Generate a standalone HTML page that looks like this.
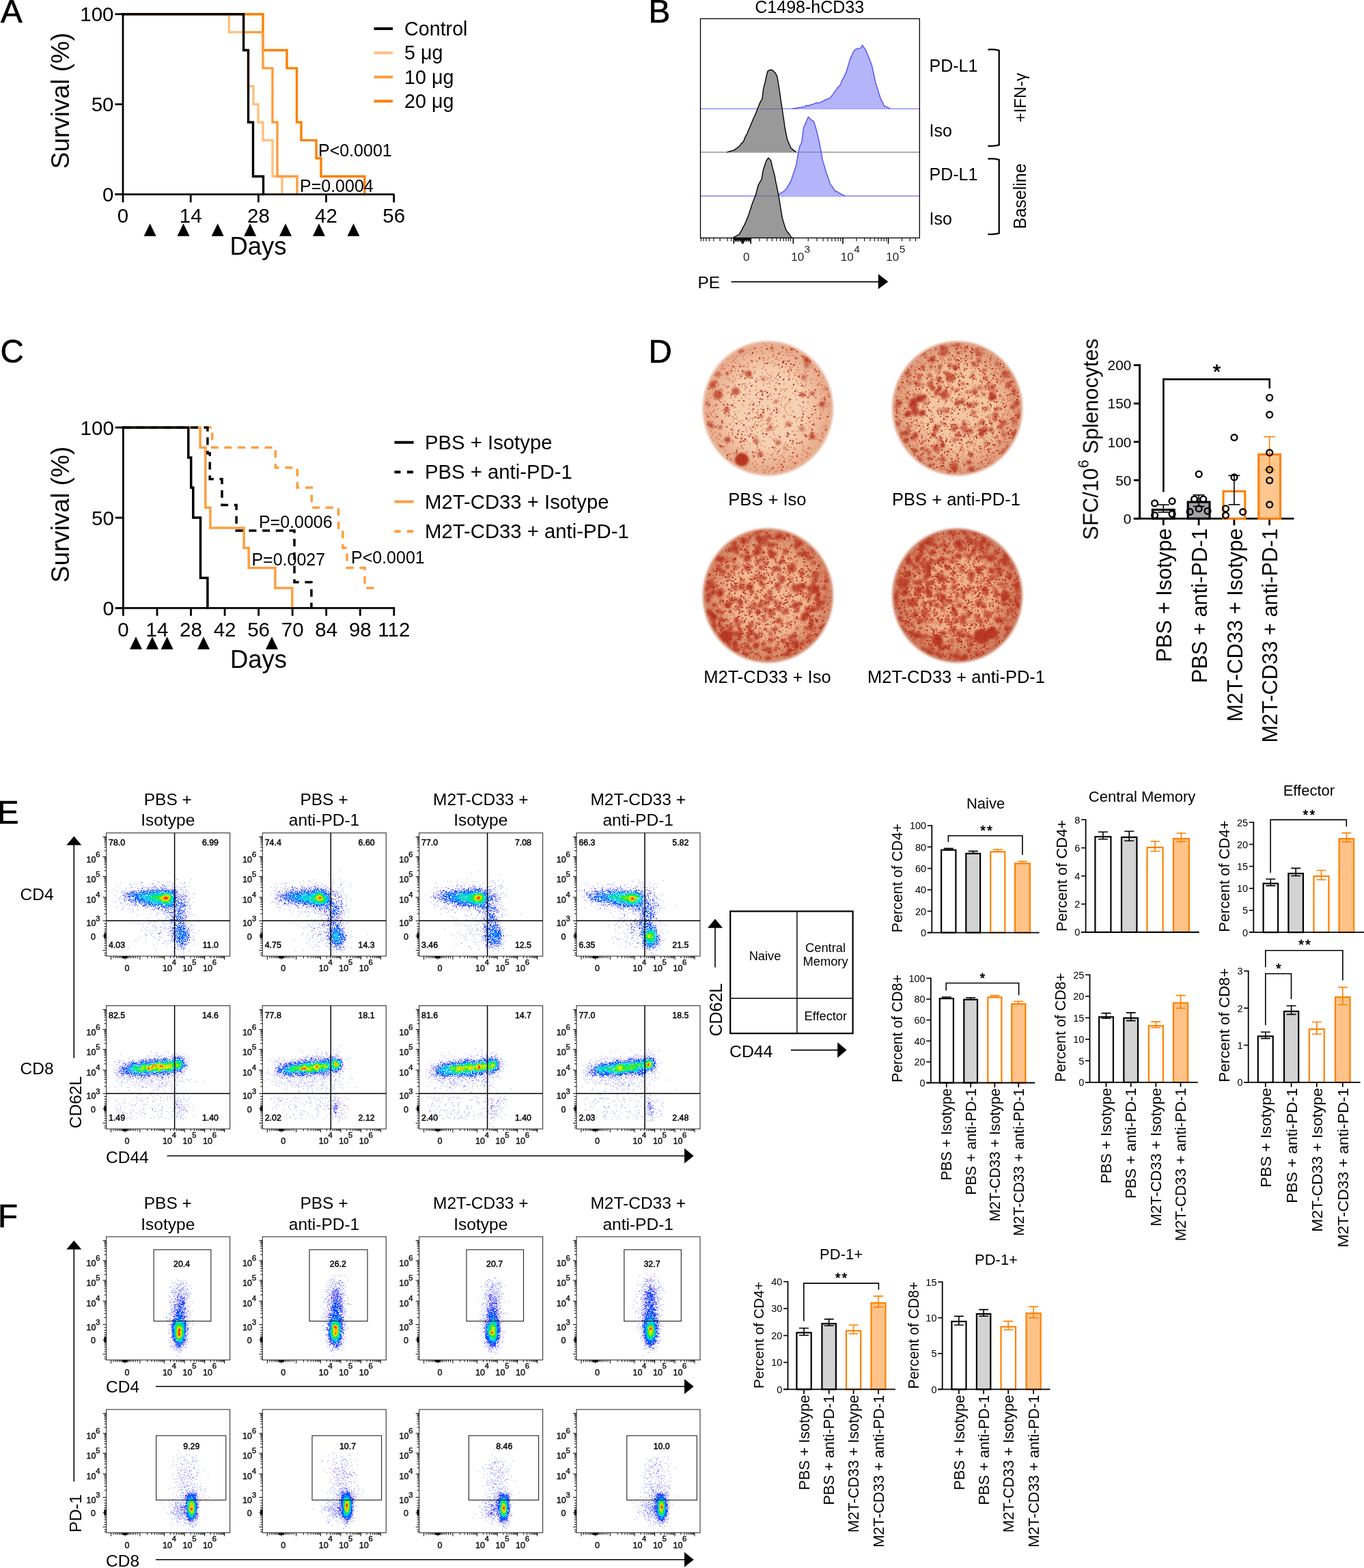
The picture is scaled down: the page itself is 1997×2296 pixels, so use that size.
<!DOCTYPE html>
<html><head><meta charset="utf-8"><title>Figure</title>
<style>html,body{margin:0;padding:0;background:#fff;} svg{display:block;} text{font-family:"Liberation Sans", Arial, sans-serif;}</style>
</head><body>
<svg width="1997" height="2296" viewBox="0 0 1997 2296">
<rect width="1997" height="2296" fill="#fff"/>
<g id="A">
<text x="1.0" y="33.0" font-size="47.5" stroke="#000" stroke-width="0.7">A</text>
<polyline points="180.0,20.7 335.4,20.7 335.4,47.1 356.6,47.1 356.6,73.5 363.5,73.5 363.5,126.3 371.0,126.3 371.0,152.7 378.0,152.7 378.0,179.0 385.0,179.0 385.0,205.4 399.0,205.4 399.0,258.2 413.0,258.2 413.0,284.6" fill="none" stroke="#FFBF80" stroke-width="3.4" stroke-linecap="square"/>
<polyline points="180.0,20.7 385.0,20.7 385.0,73.5 420.0,73.5 420.0,99.9 434.5,99.9 434.5,179.0 441.0,179.0 441.0,205.4 463.0,205.4 463.0,231.8 470.0,231.8 470.0,258.2 533.8,258.2 533.8,284.6" fill="none" stroke="#FF7F00" stroke-width="3.4" stroke-linejoin="miter" stroke-linecap="square"/>
<polyline points="180.0,20.7 356.6,20.7 356.6,47.1 385.0,47.1 385.0,99.9 399.0,99.9 399.0,179.0 406.0,179.0 406.0,258.2 435.0,258.2 435.0,284.6" fill="none" stroke="#FD9C3E" stroke-width="3.4" stroke-linecap="square"/>
<polyline points="180.0,20.7 356.6,20.7 356.6,73.5 363.5,73.5 363.5,179.0 370.5,179.0 370.5,258.2 385.5,258.2 385.5,284.6" fill="none" stroke="#000" stroke-width="3.4" stroke-linecap="square"/>
<line x1="180.0" y1="19.3" x2="180.0" y2="286.0" stroke="#000" stroke-width="2.8"/>
<line x1="168.5" y1="284.6" x2="577.5" y2="284.6" stroke="#000" stroke-width="2.8"/>
<line x1="168.5" y1="284.6" x2="180.0" y2="284.6" stroke="#000" stroke-width="2.8"/>
<text x="166.5" y="295.2" font-size="29.5" text-anchor="end">0</text>
<line x1="168.5" y1="152.7" x2="180.0" y2="152.7" stroke="#000" stroke-width="2.8"/>
<text x="166.5" y="163.2" font-size="29.5" text-anchor="end">50</text>
<line x1="168.5" y1="20.7" x2="180.0" y2="20.7" stroke="#000" stroke-width="2.8"/>
<text x="166.5" y="31.3" font-size="29.5" text-anchor="end">100</text>
<line x1="180.0" y1="284.6" x2="180.0" y2="296.3" stroke="#000" stroke-width="2.8"/>
<text x="180.0" y="326.2" font-size="29.5" text-anchor="middle">0</text>
<line x1="279.2" y1="284.6" x2="279.2" y2="296.3" stroke="#000" stroke-width="2.8"/>
<text x="279.2" y="326.2" font-size="29.5" text-anchor="middle">14</text>
<line x1="378.4" y1="284.6" x2="378.4" y2="296.3" stroke="#000" stroke-width="2.8"/>
<text x="378.4" y="326.2" font-size="29.5" text-anchor="middle">28</text>
<line x1="477.5" y1="284.6" x2="477.5" y2="296.3" stroke="#000" stroke-width="2.8"/>
<text x="477.5" y="326.2" font-size="29.5" text-anchor="middle">42</text>
<line x1="576.7" y1="284.6" x2="576.7" y2="296.3" stroke="#000" stroke-width="2.8"/>
<text x="576.7" y="326.2" font-size="29.5" text-anchor="middle">56</text>
<polygon points="210.6,345.7 228.6,345.7 219.6,327.3" fill="#000"/>
<polygon points="259.5,345.7 277.5,345.7 268.5,327.3" fill="#000"/>
<polygon points="309.7,345.7 327.7,345.7 318.7,327.3" fill="#000"/>
<polygon points="357.2,345.7 375.2,345.7 366.2,327.3" fill="#000"/>
<polygon points="409.0,345.7 427.0,345.7 418.0,327.3" fill="#000"/>
<polygon points="458.0,345.7 476.0,345.7 467.0,327.3" fill="#000"/>
<polygon points="508.5,345.7 526.5,345.7 517.5,327.3" fill="#000"/>
<text x="378.0" y="373.1" font-size="36.5" text-anchor="middle">Days</text>
<text x="101.0" y="147.5" font-size="37" text-anchor="middle" transform="rotate(-90 101.0 147.5)">Survival (%)</text>
<line x1="547.5" y1="42.0" x2="575.0" y2="42.0" stroke="#000" stroke-width="4"/>
<text x="592.0" y="52.0" font-size="28.7">Control</text>
<line x1="547.5" y1="77.4" x2="575.0" y2="77.4" stroke="#FFBF80" stroke-width="4"/>
<text x="592.0" y="87.4" font-size="28.7">5 μg</text>
<line x1="547.5" y1="112.8" x2="575.0" y2="112.8" stroke="#FD9C3E" stroke-width="4"/>
<text x="592.0" y="122.8" font-size="28.7">10 μg</text>
<line x1="547.5" y1="148.2" x2="575.0" y2="148.2" stroke="#FF7F00" stroke-width="4"/>
<text x="592.0" y="158.2" font-size="28.7">20 μg</text>
<text x="466.0" y="229.0" font-size="25">P&lt;0.0001</text>
<text x="439.0" y="281.0" font-size="25">P=0.0004</text>
</g>
<g id="B">
<text x="949.4" y="33.0" font-size="47.5" stroke="#000" stroke-width="0.7">B</text>
<text x="1185.2" y="18.8" font-size="25" text-anchor="middle">C1498-hCD33</text>
<line x1="1025.5" y1="159.4" x2="1346.3" y2="159.4" stroke="#8080FF" stroke-width="1.3"/>
<path d="M1160.0,159.4 L1161.5,159.1 L1163.0,158.8 L1164.5,158.6 L1166.0,158.3 L1167.5,158.0 L1169.0,157.7 L1170.5,157.4 L1172.0,157.1 L1173.5,156.9 L1175.0,156.6 L1176.5,157.0 L1178.0,156.6 L1179.6,154.7 L1181.1,154.3 L1182.7,155.1 L1184.2,154.5 L1185.8,154.0 L1187.3,153.0 L1188.8,153.0 L1190.4,152.6 L1191.9,152.1 L1193.5,151.0 L1195.0,151.0 L1196.6,150.5 L1198.1,150.6 L1199.7,150.6 L1201.3,150.0 L1202.9,149.0 L1204.4,148.4 L1206.0,147.6 L1207.5,146.5 L1209.1,145.7 L1210.6,145.6 L1212.1,144.6 L1213.7,144.0 L1215.2,144.0 L1217.0,141.1 L1218.9,138.9 L1220.8,136.1 L1222.6,133.4 L1224.4,131.4 L1226.3,128.5 L1228.2,126.6 L1230.0,124.8 L1231.5,121.1 L1233.0,117.1 L1234.5,115.0 L1236.1,111.6 L1237.6,108.3 L1239.1,105.4 L1241.0,99.0 L1242.8,92.9 L1244.7,86.1 L1246.3,82.9 L1248.0,78.7 L1250.2,74.7 L1253.0,72.0 L1254.6,71.7 L1256.2,71.0 L1257.8,70.9 L1259.4,70.6 L1261.1,69.0 L1262.7,66.0 L1264.4,69.0 L1266.0,70.7 L1267.7,74.0 L1269.4,78.1 L1271.0,81.5 L1272.7,85.7 L1274.3,90.3 L1276.0,94.1 L1277.8,102.2 L1279.7,110.4 L1281.5,119.1 L1283.3,125.7 L1285.2,130.9 L1287.1,138.1 L1288.9,143.0 L1290.7,147.7 L1292.6,150.4 L1294.4,155.1 L1295.9,155.6 L1297.5,156.1 L1299.0,156.9 L1300.5,157.7 L1302.1,158.6 L1303.6,159.4 Z" fill="#B4B4FA" stroke="none"/>
<path d="M1160.0,159.4 L1161.5,159.1 L1163.0,158.8 L1164.5,158.6 L1166.0,158.3 L1167.5,158.0 L1169.0,157.7 L1170.5,157.4 L1172.0,157.1 L1173.5,156.9 L1175.0,156.6 L1176.5,157.0 L1178.0,156.6 L1179.6,154.7 L1181.1,154.3 L1182.7,155.1 L1184.2,154.5 L1185.8,154.0 L1187.3,153.0 L1188.8,153.0 L1190.4,152.6 L1191.9,152.1 L1193.5,151.0 L1195.0,151.0 L1196.6,150.5 L1198.1,150.6 L1199.7,150.6 L1201.3,150.0 L1202.9,149.0 L1204.4,148.4 L1206.0,147.6 L1207.5,146.5 L1209.1,145.7 L1210.6,145.6 L1212.1,144.6 L1213.7,144.0 L1215.2,144.0 L1217.0,141.1 L1218.9,138.9 L1220.8,136.1 L1222.6,133.4 L1224.4,131.4 L1226.3,128.5 L1228.2,126.6 L1230.0,124.8 L1231.5,121.1 L1233.0,117.1 L1234.5,115.0 L1236.1,111.6 L1237.6,108.3 L1239.1,105.4 L1241.0,99.0 L1242.8,92.9 L1244.7,86.1 L1246.3,82.9 L1248.0,78.7 L1250.2,74.7 L1253.0,72.0 L1254.6,71.7 L1256.2,71.0 L1257.8,70.9 L1259.4,70.6 L1261.1,69.0 L1262.7,66.0 L1264.4,69.0 L1266.0,70.7 L1267.7,74.0 L1269.4,78.1 L1271.0,81.5 L1272.7,85.7 L1274.3,90.3 L1276.0,94.1 L1277.8,102.2 L1279.7,110.4 L1281.5,119.1 L1283.3,125.7 L1285.2,130.9 L1287.1,138.1 L1288.9,143.0 L1290.7,147.7 L1292.6,150.4 L1294.4,155.1 L1295.9,155.6 L1297.5,156.1 L1299.0,156.9 L1300.5,157.7 L1302.1,158.6 L1303.6,159.4" fill="none" stroke="#5050F5" stroke-width="1.4" stroke-linejoin="round"/>
<line x1="1025.5" y1="222.8" x2="1346.3" y2="222.8" stroke="#808080" stroke-width="1.3"/>
<path d="M1064.2,222.8 L1065.8,222.4 L1067.3,221.9 L1068.9,221.5 L1070.5,221.1 L1072.1,220.7 L1073.6,220.2 L1075.2,219.8 L1076.9,218.2 L1078.6,217.2 L1080.3,215.7 L1082.0,214.6 L1083.5,213.0 L1085.0,210.6 L1086.6,208.9 L1088.1,208.2 L1089.9,203.4 L1091.8,199.2 L1093.7,196.0 L1095.5,191.3 L1097.3,187.4 L1099.2,182.7 L1101.0,178.6 L1102.9,173.7 L1104.7,170.0 L1106.6,165.9 L1108.4,160.9 L1110.2,156.6 L1112.0,151.9 L1113.9,147.9 L1115.8,145.5 L1117.6,130.6 L1120.4,119.2 L1122.2,111.0 L1124.0,104.2 L1126.0,102.9 L1128.0,102.3 L1130.5,102.5 L1132.0,103.8 L1133.6,105.6 L1135.1,106.5 L1137.9,112.4 L1139.7,123.0 L1141.5,134.7 L1143.3,147.6 L1145.2,159.5 L1147.1,172.4 L1148.9,185.4 L1150.8,195.5 L1152.6,204.1 L1154.4,208.6 L1156.3,212.5 L1158.1,217.0 L1159.9,218.3 L1161.8,219.9 L1163.7,221.4 L1165.5,222.8 Z" fill="#999999" stroke="none"/>
<path d="M1064.2,222.8 L1065.8,222.4 L1067.3,221.9 L1068.9,221.5 L1070.5,221.1 L1072.1,220.7 L1073.6,220.2 L1075.2,219.8 L1076.9,218.2 L1078.6,217.2 L1080.3,215.7 L1082.0,214.6 L1083.5,213.0 L1085.0,210.6 L1086.6,208.9 L1088.1,208.2 L1089.9,203.4 L1091.8,199.2 L1093.7,196.0 L1095.5,191.3 L1097.3,187.4 L1099.2,182.7 L1101.0,178.6 L1102.9,173.7 L1104.7,170.0 L1106.6,165.9 L1108.4,160.9 L1110.2,156.6 L1112.0,151.9 L1113.9,147.9 L1115.8,145.5 L1117.6,130.6 L1120.4,119.2 L1122.2,111.0 L1124.0,104.2 L1126.0,102.9 L1128.0,102.3 L1130.5,102.5 L1132.0,103.8 L1133.6,105.6 L1135.1,106.5 L1137.9,112.4 L1139.7,123.0 L1141.5,134.7 L1143.3,147.6 L1145.2,159.5 L1147.1,172.4 L1148.9,185.4 L1150.8,195.5 L1152.6,204.1 L1154.4,208.6 L1156.3,212.5 L1158.1,217.0 L1159.9,218.3 L1161.8,219.9 L1163.7,221.4 L1165.5,222.8" fill="none" stroke="#000" stroke-width="1.4" stroke-linejoin="round"/>
<line x1="1112.5" y1="159.4" x2="1145.5" y2="159.4" stroke="#3838A0" stroke-width="1.0" opacity="0.6"/>
<line x1="1025.5" y1="287.0" x2="1346.3" y2="287.0" stroke="#8080FF" stroke-width="1.3"/>
<path d="M1136.0,287.0 L1137.6,286.1 L1139.2,285.2 L1140.8,284.3 L1142.5,283.0 L1144.1,282.0 L1145.7,281.4 L1147.3,280.2 L1148.9,279.2 L1150.4,277.1 L1152.0,275.3 L1153.5,272.7 L1155.0,270.2 L1156.6,267.1 L1158.1,265.0 L1159.9,259.2 L1161.8,253.6 L1163.7,248.0 L1165.5,242.6 L1167.3,232.4 L1169.2,221.2 L1171.0,213.8 L1173.8,208.3 L1176.5,187.2 L1178.3,182.8 L1180.2,178.6 L1181.8,174.8 L1183.5,171.1 L1185.1,173.2 L1186.7,174.2 L1188.2,175.8 L1189.8,176.8 L1191.3,177.5 L1193.2,183.1 L1195.0,189.5 L1196.5,195.1 L1198.1,202.3 L1199.6,208.3 L1201.1,216.6 L1202.7,224.9 L1204.2,234.2 L1206.0,239.9 L1207.9,246.4 L1209.7,252.4 L1211.5,257.6 L1213.4,263.0 L1215.2,268.8 L1217.0,271.4 L1218.9,273.8 L1220.8,276.7 L1222.6,280.1 L1224.2,280.0 L1225.9,280.8 L1227.5,282.3 L1229.1,282.7 L1230.8,283.8 L1232.4,284.6 L1234.0,285.4 L1235.7,286.2 L1237.3,287.0 Z" fill="#B4B4FA" stroke="none"/>
<path d="M1136.0,287.0 L1137.6,286.1 L1139.2,285.2 L1140.8,284.3 L1142.5,283.0 L1144.1,282.0 L1145.7,281.4 L1147.3,280.2 L1148.9,279.2 L1150.4,277.1 L1152.0,275.3 L1153.5,272.7 L1155.0,270.2 L1156.6,267.1 L1158.1,265.0 L1159.9,259.2 L1161.8,253.6 L1163.7,248.0 L1165.5,242.6 L1167.3,232.4 L1169.2,221.2 L1171.0,213.8 L1173.8,208.3 L1176.5,187.2 L1178.3,182.8 L1180.2,178.6 L1181.8,174.8 L1183.5,171.1 L1185.1,173.2 L1186.7,174.2 L1188.2,175.8 L1189.8,176.8 L1191.3,177.5 L1193.2,183.1 L1195.0,189.5 L1196.5,195.1 L1198.1,202.3 L1199.6,208.3 L1201.1,216.6 L1202.7,224.9 L1204.2,234.2 L1206.0,239.9 L1207.9,246.4 L1209.7,252.4 L1211.5,257.6 L1213.4,263.0 L1215.2,268.8 L1217.0,271.4 L1218.9,273.8 L1220.8,276.7 L1222.6,280.1 L1224.2,280.0 L1225.9,280.8 L1227.5,282.3 L1229.1,282.7 L1230.8,283.8 L1232.4,284.6 L1234.0,285.4 L1235.7,286.2 L1237.3,287.0" fill="none" stroke="#5050F5" stroke-width="1.4" stroke-linejoin="round"/>
<line x1="1169.5" y1="222.8" x2="1202.0" y2="222.8" stroke="#505078" stroke-width="1.0" opacity="0.7"/>
<path d="M1073.4,348.4 L1074.9,347.4 L1076.5,346.4 L1078.0,345.5 L1079.5,344.6 L1081.1,343.7 L1082.6,342.8 L1084.4,339.4 L1086.3,336.4 L1088.2,332.1 L1090.0,329.4 L1091.8,325.3 L1093.7,320.4 L1095.5,316.1 L1097.3,310.5 L1098.9,306.1 L1100.4,300.9 L1102.0,296.4 L1103.5,292.7 L1105.1,288.3 L1106.6,284.9 L1108.4,277.6 L1110.2,271.0 L1111.7,268.4 L1113.3,265.2 L1114.8,263.5 L1117.6,248.0 L1119.4,243.0 L1121.3,236.9 L1123.2,233.5 L1125.0,231.3 L1126.8,232.9 L1128.7,235.2 L1130.5,243.4 L1132.4,250.7 L1134.2,257.3 L1136.0,267.4 L1137.9,276.0 L1139.7,285.4 L1141.5,295.9 L1143.4,307.9 L1145.2,318.6 L1147.1,325.1 L1148.9,331.1 L1150.8,336.6 L1152.6,339.2 L1154.4,341.5 L1156.3,344.0 L1158.1,347.0 L1160.0,348.4 Z" fill="#999999" stroke="none"/>
<path d="M1073.4,348.4 L1074.9,347.4 L1076.5,346.4 L1078.0,345.5 L1079.5,344.6 L1081.1,343.7 L1082.6,342.8 L1084.4,339.4 L1086.3,336.4 L1088.2,332.1 L1090.0,329.4 L1091.8,325.3 L1093.7,320.4 L1095.5,316.1 L1097.3,310.5 L1098.9,306.1 L1100.4,300.9 L1102.0,296.4 L1103.5,292.7 L1105.1,288.3 L1106.6,284.9 L1108.4,277.6 L1110.2,271.0 L1111.7,268.4 L1113.3,265.2 L1114.8,263.5 L1117.6,248.0 L1119.4,243.0 L1121.3,236.9 L1123.2,233.5 L1125.0,231.3 L1126.8,232.9 L1128.7,235.2 L1130.5,243.4 L1132.4,250.7 L1134.2,257.3 L1136.0,267.4 L1137.9,276.0 L1139.7,285.4 L1141.5,295.9 L1143.4,307.9 L1145.2,318.6 L1147.1,325.1 L1148.9,331.1 L1150.8,336.6 L1152.6,339.2 L1154.4,341.5 L1156.3,344.0 L1158.1,347.0 L1160.0,348.4" fill="none" stroke="#000" stroke-width="1.4" stroke-linejoin="round"/>
<line x1="1106.5" y1="287.0" x2="1139.5" y2="287.0" stroke="#3838A0" stroke-width="1.0" opacity="0.6"/>
<rect x="1025.5" y="27.4" width="320.8" height="321.0" fill="none" stroke="#000" stroke-width="1.3"/>
<line x1="1026.4" y1="348.4" x2="1026.4" y2="353.2" stroke="#000" stroke-width="1.1"/>
<line x1="1030.1" y1="348.4" x2="1030.1" y2="353.2" stroke="#000" stroke-width="1.1"/>
<line x1="1033.8" y1="348.4" x2="1033.8" y2="353.2" stroke="#000" stroke-width="1.1"/>
<line x1="1038.4" y1="348.4" x2="1038.4" y2="353.2" stroke="#000" stroke-width="1.1"/>
<line x1="1044.9" y1="348.4" x2="1044.9" y2="353.2" stroke="#000" stroke-width="1.1"/>
<line x1="1054.1" y1="348.4" x2="1054.1" y2="353.2" stroke="#000" stroke-width="1.1"/>
<line x1="1065.1" y1="348.4" x2="1065.1" y2="353.2" stroke="#000" stroke-width="1.1"/>
<line x1="1070.6" y1="348.4" x2="1070.6" y2="353.2" stroke="#000" stroke-width="1.1"/>
<line x1="1078.0" y1="348.4" x2="1078.0" y2="353.2" stroke="#000" stroke-width="1.1"/>
<line x1="1081.0" y1="348.4" x2="1081.0" y2="353.2" stroke="#000" stroke-width="1.1"/>
<line x1="1084.0" y1="348.4" x2="1084.0" y2="353.2" stroke="#000" stroke-width="1.1"/>
<line x1="1090.0" y1="348.4" x2="1090.0" y2="353.2" stroke="#000" stroke-width="1.1"/>
<line x1="1093.0" y1="348.4" x2="1093.0" y2="353.2" stroke="#000" stroke-width="1.1"/>
<line x1="1096.0" y1="348.4" x2="1096.0" y2="353.2" stroke="#000" stroke-width="1.1"/>
<line x1="1112.0" y1="348.4" x2="1112.0" y2="353.2" stroke="#000" stroke-width="1.1"/>
<line x1="1123.1" y1="348.4" x2="1123.1" y2="353.2" stroke="#000" stroke-width="1.1"/>
<line x1="1130.5" y1="348.4" x2="1130.5" y2="353.2" stroke="#000" stroke-width="1.1"/>
<line x1="1136.9" y1="348.4" x2="1136.9" y2="353.2" stroke="#000" stroke-width="1.1"/>
<line x1="1142.5" y1="348.4" x2="1142.5" y2="353.2" stroke="#000" stroke-width="1.1"/>
<line x1="1147.1" y1="348.4" x2="1147.1" y2="353.2" stroke="#000" stroke-width="1.1"/>
<line x1="1150.8" y1="348.4" x2="1150.8" y2="353.2" stroke="#000" stroke-width="1.1"/>
<line x1="1154.4" y1="348.4" x2="1154.4" y2="353.2" stroke="#000" stroke-width="1.1"/>
<line x1="1157.2" y1="348.4" x2="1157.2" y2="353.2" stroke="#000" stroke-width="1.1"/>
<line x1="1183.3" y1="348.4" x2="1183.3" y2="353.2" stroke="#000" stroke-width="1.1"/>
<line x1="1196.0" y1="348.4" x2="1196.0" y2="353.2" stroke="#000" stroke-width="1.1"/>
<line x1="1205.1" y1="348.4" x2="1205.1" y2="353.2" stroke="#000" stroke-width="1.1"/>
<line x1="1212.1" y1="348.4" x2="1212.1" y2="353.2" stroke="#000" stroke-width="1.1"/>
<line x1="1217.9" y1="348.4" x2="1217.9" y2="353.2" stroke="#000" stroke-width="1.1"/>
<line x1="1222.8" y1="348.4" x2="1222.8" y2="353.2" stroke="#000" stroke-width="1.1"/>
<line x1="1227.0" y1="348.4" x2="1227.0" y2="353.2" stroke="#000" stroke-width="1.1"/>
<line x1="1230.7" y1="348.4" x2="1230.7" y2="353.2" stroke="#000" stroke-width="1.1"/>
<line x1="1254.0" y1="348.4" x2="1254.0" y2="353.2" stroke="#000" stroke-width="1.1"/>
<line x1="1265.7" y1="348.4" x2="1265.7" y2="353.2" stroke="#000" stroke-width="1.1"/>
<line x1="1274.0" y1="348.4" x2="1274.0" y2="353.2" stroke="#000" stroke-width="1.1"/>
<line x1="1280.5" y1="348.4" x2="1280.5" y2="353.2" stroke="#000" stroke-width="1.1"/>
<line x1="1285.7" y1="348.4" x2="1285.7" y2="353.2" stroke="#000" stroke-width="1.1"/>
<line x1="1290.2" y1="348.4" x2="1290.2" y2="353.2" stroke="#000" stroke-width="1.1"/>
<line x1="1294.1" y1="348.4" x2="1294.1" y2="353.2" stroke="#000" stroke-width="1.1"/>
<line x1="1297.5" y1="348.4" x2="1297.5" y2="353.2" stroke="#000" stroke-width="1.1"/>
<line x1="1320.5" y1="348.4" x2="1320.5" y2="353.2" stroke="#000" stroke-width="1.1"/>
<line x1="1332.2" y1="348.4" x2="1332.2" y2="353.2" stroke="#000" stroke-width="1.1"/>
<line x1="1340.5" y1="348.4" x2="1340.5" y2="353.2" stroke="#000" stroke-width="1.1"/>
<line x1="1074.3" y1="348.4" x2="1074.3" y2="356.9" stroke="#000" stroke-width="1.6"/>
<line x1="1087.2" y1="348.4" x2="1087.2" y2="356.9" stroke="#000" stroke-width="1.6"/>
<line x1="1099.2" y1="348.4" x2="1099.2" y2="356.9" stroke="#000" stroke-width="1.6"/>
<line x1="1161.4" y1="348.4" x2="1161.4" y2="356.9" stroke="#000" stroke-width="1.6"/>
<line x1="1234.0" y1="348.4" x2="1234.0" y2="356.9" stroke="#000" stroke-width="1.6"/>
<line x1="1300.5" y1="348.4" x2="1300.5" y2="356.9" stroke="#000" stroke-width="1.6"/>
<rect x="1074.3" y="348.4" width="25.8" height="3.2" fill="#000" stroke="none" stroke-width="0"/>
<line x1="1076.5" y1="348.4" x2="1076.5" y2="353.9" stroke="#000" stroke-width="1.2"/>
<line x1="1079.0" y1="348.4" x2="1079.0" y2="353.9" stroke="#000" stroke-width="1.2"/>
<line x1="1081.5" y1="348.4" x2="1081.5" y2="353.9" stroke="#000" stroke-width="1.2"/>
<line x1="1084.0" y1="348.4" x2="1084.0" y2="353.9" stroke="#000" stroke-width="1.2"/>
<line x1="1086.0" y1="348.4" x2="1086.0" y2="353.9" stroke="#000" stroke-width="1.2"/>
<line x1="1088.0" y1="348.4" x2="1088.0" y2="353.9" stroke="#000" stroke-width="1.2"/>
<line x1="1090.5" y1="348.4" x2="1090.5" y2="353.9" stroke="#000" stroke-width="1.2"/>
<line x1="1093.0" y1="348.4" x2="1093.0" y2="353.9" stroke="#000" stroke-width="1.2"/>
<line x1="1095.5" y1="348.4" x2="1095.5" y2="353.9" stroke="#000" stroke-width="1.2"/>
<line x1="1098.0" y1="348.4" x2="1098.0" y2="353.9" stroke="#000" stroke-width="1.2"/>
<rect x="1085.5" y="348.4" width="3.6" height="8.0" fill="#000" stroke="none" stroke-width="0"/>
<text x="1092.7" y="381.6" font-size="17" text-anchor="middle" fill="#262626">0</text>
<text x="1158.2" y="381.6" font-size="17" fill="#262626">10</text>
<text x="1177.6" y="369.6" font-size="15.5" fill="#262626">3</text>
<text x="1230.8" y="381.6" font-size="17" fill="#262626">10</text>
<text x="1250.2" y="369.6" font-size="15.5" fill="#262626">4</text>
<text x="1297.3" y="381.6" font-size="17" fill="#262626">10</text>
<text x="1316.7" y="369.6" font-size="15.5" fill="#262626">5</text>
<text x="1360.5" y="105.2" font-size="25">PD-L1</text>
<text x="1360.5" y="199.7" font-size="25">Iso</text>
<text x="1360.5" y="263.6" font-size="25">PD-L1</text>
<text x="1360.5" y="328.9" font-size="25">Iso</text>
<path d="M1446.4,72.6 Q1455,71.8 1462.7,73.8 L1462.7,212.4 Q1455,214.4 1446.4,213.6" fill="none" stroke="#000" stroke-width="2.3"/>
<path d="M1446.4,232.6 Q1455,231.8 1462.7,233.8 L1462.7,341.6 Q1455,343.6 1446.4,342.8" fill="none" stroke="#000" stroke-width="2.3"/>
<text x="1502.3" y="143.0" font-size="24" text-anchor="middle" transform="rotate(-90 1502.3 143.0)">+IFN-γ</text>
<text x="1502.3" y="287.3" font-size="25" text-anchor="middle" transform="rotate(-90 1502.3 287.3)">Baseline</text>
<text x="1021.5" y="421.7" font-size="24.5">PE</text>
<line x1="1070.6" y1="412.6" x2="1288.0" y2="412.6" stroke="#000" stroke-width="1.6"/>
<polygon points="1285.8,401.3 1300.4,412.6 1285.8,423.3" fill="#000"/>
</g>
<g id="C">
<text x="0.4" y="531.0" font-size="47.5" stroke="#000" stroke-width="0.7">C</text>
<polyline points="180.4,626.0 310.7,626.0 310.7,655.3 403.3,655.3 403.3,684.7 435.2,684.7 435.2,714.0 456.3,714.0 456.3,743.3 495.6,743.3 495.6,773.0 501.9,773.0 501.9,802.3 508.0,802.3 508.0,831.6 534.0,831.6 534.0,861.0 548.8,861.0" fill="none" stroke="#FD9E40" stroke-width="3.5" stroke-dasharray="11 8.7"/>
<polyline points="180.4,626.0 293.1,626.0 293.1,655.3 300.8,655.3 300.8,743.3 307.9,743.3 307.9,773.0 357.1,773.0 357.1,802.3 364.2,802.3 364.2,831.6 402.9,831.6 402.9,861.0 427.8,861.0 427.8,890.3" fill="none" stroke="#FD9E40" stroke-width="3.5" stroke-linecap="square"/>
<polyline points="180.4,626.0 303.9,626.0 303.9,663.8 307.2,663.8 307.2,701.6 325.0,701.6 325.0,739.4 346.1,739.4 346.1,776.9 431.0,776.9 431.0,852.5 455.9,852.5 455.9,890.3" fill="none" stroke="#000" stroke-width="3.5" stroke-dasharray="11 8.7"/>
<polyline points="180.4,626.0 275.8,626.0 275.8,670.1 279.7,670.1 279.7,714.0 282.8,714.0 282.8,758.1 293.5,758.1 293.5,846.2 303.9,846.2 303.9,890.3" fill="none" stroke="#000" stroke-width="3.5" stroke-linecap="square"/>
<line x1="180.4" y1="624.6" x2="180.4" y2="891.7" stroke="#000" stroke-width="2.8"/>
<line x1="168.8" y1="890.3" x2="578.2" y2="890.3" stroke="#000" stroke-width="2.8"/>
<line x1="168.8" y1="890.3" x2="180.4" y2="890.3" stroke="#000" stroke-width="2.8"/>
<text x="166.8" y="900.9" font-size="29.5" text-anchor="end">0</text>
<line x1="168.8" y1="758.1" x2="180.4" y2="758.1" stroke="#000" stroke-width="2.8"/>
<text x="166.8" y="768.8" font-size="29.5" text-anchor="end">50</text>
<line x1="168.8" y1="626.0" x2="180.4" y2="626.0" stroke="#000" stroke-width="2.8"/>
<text x="166.8" y="636.6" font-size="29.5" text-anchor="end">100</text>
<line x1="180.4" y1="890.3" x2="180.4" y2="901.8" stroke="#000" stroke-width="2.8"/>
<text x="180.4" y="931.5" font-size="29.5" text-anchor="middle">0</text>
<line x1="230.0" y1="890.3" x2="230.0" y2="901.8" stroke="#000" stroke-width="2.8"/>
<text x="230.0" y="931.5" font-size="29.5" text-anchor="middle">14</text>
<line x1="279.5" y1="890.3" x2="279.5" y2="901.8" stroke="#000" stroke-width="2.8"/>
<text x="279.5" y="931.5" font-size="29.5" text-anchor="middle">28</text>
<line x1="329.1" y1="890.3" x2="329.1" y2="901.8" stroke="#000" stroke-width="2.8"/>
<text x="329.1" y="931.5" font-size="29.5" text-anchor="middle">42</text>
<line x1="378.6" y1="890.3" x2="378.6" y2="901.8" stroke="#000" stroke-width="2.8"/>
<text x="378.6" y="931.5" font-size="29.5" text-anchor="middle">56</text>
<line x1="428.2" y1="890.3" x2="428.2" y2="901.8" stroke="#000" stroke-width="2.8"/>
<text x="428.2" y="931.5" font-size="29.5" text-anchor="middle">70</text>
<line x1="477.7" y1="890.3" x2="477.7" y2="901.8" stroke="#000" stroke-width="2.8"/>
<text x="477.7" y="931.5" font-size="29.5" text-anchor="middle">84</text>
<line x1="527.3" y1="890.3" x2="527.3" y2="901.8" stroke="#000" stroke-width="2.8"/>
<text x="527.3" y="931.5" font-size="29.5" text-anchor="middle">98</text>
<line x1="576.8" y1="890.3" x2="576.8" y2="901.8" stroke="#000" stroke-width="2.8"/>
<text x="576.8" y="931.5" font-size="29.5" text-anchor="middle">112</text>
<polygon points="190.0,950.7 208.0,950.7 199.0,932.3" fill="#000"/>
<polygon points="214.0,950.7 232.0,950.7 223.0,932.3" fill="#000"/>
<polygon points="235.6,950.7 253.6,950.7 244.6,932.3" fill="#000"/>
<polygon points="289.0,950.7 307.0,950.7 298.0,932.3" fill="#000"/>
<polygon points="389.0,950.7 407.0,950.7 398.0,932.3" fill="#000"/>
<text x="378.5" y="978.0" font-size="36.5" text-anchor="middle">Days</text>
<text x="101.0" y="753.5" font-size="37" text-anchor="middle" transform="rotate(-90 101.0 753.5)">Survival (%)</text>
<line x1="577.5" y1="647.8" x2="605.6" y2="647.8" stroke="#000" stroke-width="4"/>
<text x="622.0" y="657.8" font-size="29.3">PBS + Isotype</text>
<line x1="577.5" y1="691.2" x2="605.6" y2="691.2" stroke="#000" stroke-width="4" stroke-dasharray="9 9.5"/>
<text x="622.0" y="701.2" font-size="29.3">PBS + anti-PD-1</text>
<line x1="577.5" y1="734.6" x2="605.6" y2="734.6" stroke="#FD9E40" stroke-width="4"/>
<text x="622.0" y="744.6" font-size="29.3">M2T-CD33 + Isotype</text>
<line x1="577.5" y1="778.0" x2="605.6" y2="778.0" stroke="#FD9E40" stroke-width="4" stroke-dasharray="9 9.5"/>
<text x="622.0" y="788.0" font-size="29.3">M2T-CD33 + anti-PD-1</text>
<text x="378.9" y="773.3" font-size="25">P=0.0006</text>
<text x="368.4" y="828.2" font-size="25">P=0.0027</text>
<text x="514.0" y="825.0" font-size="25">P&lt;0.0001</text>
</g>
<g id="D">
<text x="949.4" y="530.8" font-size="47.5" stroke="#000" stroke-width="0.7">D</text>
<defs><filter id="wblur" x="-5%" y="-5%" width="110%" height="110%"><feGaussianBlur stdDeviation="1.6"/></filter><filter id="bblur" x="-50%" y="-50%" width="200%" height="200%"><feGaussianBlur stdDeviation="1.6"/></filter><filter id="sblur" x="-5%" y="-5%" width="110%" height="110%"><feGaussianBlur stdDeviation="0.55"/></filter></defs>
<radialGradient id="wg11" cx="0.5" cy="0.5" r="0.5"><stop offset="0" stop-color="#F6D0B2"/><stop offset="0.55" stop-color="#F6D0B2"/><stop offset="0.95" stop-color="#E6AA8A"/><stop offset="1" stop-color="#E6AA8A" stop-opacity="0.5"/></radialGradient>
<clipPath id="wc11"><ellipse cx="1124.3" cy="598.0" rx="93.0" ry="96.0"/></clipPath>
<ellipse cx="1124.3" cy="598.0" rx="95.5" ry="98.5" fill="url(#wg11)" filter="url(#wblur)"/>
<g clip-path="url(#wc11)">
<g fill="#B3321F" filter="url(#bblur)"><circle cx="1051" cy="578" r="7" opacity="0.7"/><circle cx="1077" cy="573" r="6" opacity="0.7"/><circle cx="1086" cy="673" r="10" opacity="0.95"/><circle cx="1182" cy="526" r="6" opacity="0.7"/><circle cx="1139" cy="648" r="4" opacity="0.6"/><circle cx="1096" cy="548" r="5" opacity="0.7"/><circle cx="1107" cy="646" r="4" opacity="0.6"/><circle cx="1039" cy="621" r="4" opacity="0.5"/><circle cx="1174" cy="628" r="4" opacity="0.5"/><circle cx="1042" cy="563" r="5" opacity="0.6"/></g>
<g stroke="#B3321F" stroke-linecap="round" fill="none" filter="url(#bblur)"><path d="M1149 656h0m-19 -145h0m-6 119h0m-8 -76h0m-27 -9h0" stroke-width="5.0" stroke-opacity="0.5"/><path d="M1115 610h0m11 5h0m-79 -56h0m18 -12h0" stroke-width="5.0" stroke-opacity="0.65"/><path d="M1136 588h0m-82 38h0" stroke-width="5.0" stroke-opacity="0.8"/><path d="M1205 591h0m-170 0h0m155 -15h0m-147 48h0m2 -59h0" stroke-width="6.8" stroke-opacity="0.5"/><path d="M1128 626h0" stroke-width="6.8" stroke-opacity="0.65"/><path d="M1175 578h0" stroke-width="6.8" stroke-opacity="0.8"/><path d="M1154 621h0m62 -43h0m-39 -25h0m-126 -5h0m130 -13h0" stroke-width="8.6" stroke-opacity="0.5"/><path d="M1064 600h0m49 65h0m-29 -152h0m119 79h0" stroke-width="8.6" stroke-opacity="0.65"/><path d="M1161 508h0m28 131h0m-124 5h0" stroke-width="8.6" stroke-opacity="0.8"/></g>
<path d="M1144 583h0m19 -33h0m23 67h0m-101 -83h0m81 -21h0m-94 97h0m120 11h0m-110 59h0m-2 -93h0m19 25h0m-45 -41h0m100 65h0m-14 -109h0m63 111h0m-53 -43h0m18 -33h0m-35 83h0m68 0h0m-38 11h0m41 -87h0m-44 108h0m35 -95h0m-15 88h0m-42 -47h0m-36 -9h0m43 -99h0m52 128h0m-94 1h0m37 -58h0m4 8h0m-71 43h0m51 -16h0m81 -71h0m-47 -11h0m-3 48h0m44 -23h0m-43 -25h0m-45 119h0m-9 -44h0m-13 -88h0m35 138h0m67 -24h0m-130 -52h0m20 -46h0m27 81h0m15 -61h0m-8 -48h0m23 46h0m-83 29h0m19 -62h0m-36 96h0m76 1h0m40 35h0m58 -25h0m-145 -41h0m52 47h0m-56 -87h0m32 84h0m33 -16h0m45 -44h0m-6 -52h0m-52 98h0m88 -49h0m-66 99h0m-20 -45h0m-49 14h0m117 -16h0m-19 -84h0m49 63h0m-35 -42h0m-85 -47h0m18 92h0m63 -12h0m-114 -31h0m117 -38h0m-122 74h0m110 64h0m-7 21h0m-37 0h0m-78 -143h0m84 14h0m39 68h0m-39 41h0m7 -105h0m-34 105h0m99 -125h0m-72 71h0m-62 -7h0m58 14h0m2 -41h0m55 32h0m-59 26h0m-82 -30h0m67 82h0m97 -135h0m-86 -28h0m-7 135h0m89 -67h0m-112 -56h0m58 145h0m-93 -29h0m18 -18h0m18 -65h0m57 -50h0m21 4h0m-42 25h0m-59 55h0m45 -30h0m-4 30h0m-49 -64h0m90 85h0m-19 42h0m16 1h0m-73 -23h0m16 -83h0m-35 -15h0m114 4h0m-59 104h0m-56 -76h0m14 55h0m-16 -35h0m123 0h0m-14 -62h0m-124 71h0m91 4h0m-70 -76h0m11 129h0m143 -74h0m-36 -27h0m-57 37h0m-7 17h0m79 -83h0m-74 110h0m-10 -107h0m-46 62h0m122 38h0m11 -15h0m-87 -5h0m19 75h0m58 -143h0m20 96h0m-26 14h0m-71 16h0m91 -40h0m-22 14h0m-69 -8h0m-64 -75h0m76 -65h0m-21 123h0m51 -80h0m61 86h0m-116 -2h0m45 -24h0m13 33h0m-118 -17h0m137 -71h0m-65 -41h0m-39 65h0m-18 -25h0m154 59h0m-76 82h0m11 6h0m14 -37h0m-108 -42h0m76 -84h0m4 87h0m-14 -17h0m34 -31h0m-60 57h0m53 -74h0m30 3h0m7 18h0m27 71h0m2 -63h0m-82 107h0m-45 -88h0m133 39h0m-90 50h0m67 -74h0m-134 4h0m65 -82h0m-77 64h0m14 -17h0m103 2h0m-77 25h0m30 39h0m21 43h0m-56 -174h0m125 132h0m-51 -84h0m-67 64h0m56 -18h0m13 32h0m-85 -99h0m-25 4h0m70 69h0m-62 -16h0m110 2h0m-9 -35h0m-29 -32h0m-26 105h0m-42 13h0m96 -8h0m-78 -68h0m8 76h0m21 -31h0m35 18h0m71 -62h0m-106 -65h0m-54 92h0m76 24h0m-35 17h0m69 -136h0m-68 126h0m74 -87h0m-105 15h0m111 2h0m-116 67h0m87 41h0m-26 -22h0m-25 -96h0m18 122h0m95 -136h0m-102 24h0m0 5h0m5 -39h0m33 119h0m-4 7h0m4 -130h0m38 139h0m-47 -66h0m10 83h0m16 -32h0m-112 -51h0m3 38h0m106 -117h0m21 99h0m-95 -84h0m99 59h0m0 -25h0m-82 113h0m64 -93h0m-26 45h0m33 38h0m-57 -18h0m49 6h0m27 -4h0m-32 -61h0m13 55h0m-55 -76h0m-52 64h0m4 -106h0m49 17h0m-22 -35h0m65 130h0m-37 -37h0m-46 -69h0m96 71h0m-94 -81h0m10 -3h0m91 28h0m-39 99h0m-14 -109h0m-26 56h0m118 -12h0m-110 8h0m25 -49h0m-8 19h0m62 67h0m-36 -110h0m-86 33h0m19 108h0m49 -46h0m4 -96h0m55 137h0m-106 -25h0m-33 -47h0m71 94h0m23 -20h0m-54 -13h0m21 25h0m-39 -73h0m60 -76h0m59 30h0m-100 -47h0m-1 78h0m78 -22h0m-5 -50h0m-56 70h0m-3 49h0m-27 -28h0m42 -109h0m-48 119h0m16 -47h0m48 -16h0m-39 19h0m63 -27h0m-89 94h0m25 42h0m44 -44h0m-44 20h0m-45 -29h0m117 -98h0m-58 129h0m36 -147h0m-70 13h0m-19 50h0m57 20h0m42 51h0m34 -75h0m-94 5h0m-60 -3h0m148 52h0m-35 -127h0m-53 64h0m61 -47h0m-52 80h0m78 62h0m-33 -131h0m29 146h0m-41 -108h0m-10 -42h0m3 113h0m61 -102h0m21 85h0m-133 -10h0m86 -49h0m44 7h0m-89 -47h0m84 83h0m-65 3h0m-57 69h0m65 -155h0m42 32h0m14 -9h0m-62 116h0m-74 -56h0m144 22h0m-120 3h0m82 -57h0m-28 83h0m-24 -130h0m-15 84h0m-41 -10h0m17 9h0m13 15h0m-56 6h0m107 -40h0m-36 30h0m53 27h0m12 -54h0m20 -15h0m-80 31h0m90 -8h0m-73 -18h0m73 -22h0m-163 79h0m162 2h0m-58 4h0m-56 -32h0m27 -17h0m-9 -89h0m57 93h0m-88 -43h0m30 -14h0m109 85h0m-19 -48h0m-11 -40h0m-12 68h0m9 -87h0m-49 163h0m-45 -124h0m99 15h0m-88 37h0m103 -55h0m-76 123h0m91 -90h0m-147 -35h0m-2 107h0m30 -72h0m54 -56h0m-101 105h0m40 35h0m106 -37h0m-140 -3h0m153 -50h0m-121 52h0m-21 -104h0m8 95h0m106 -57h0m-25 101h0m-14 -129h0m-55 137h0m70 -128h0m-5 -37h0m66 69h0m-87 18h0m-93 14h0m46 -69h0m0 99h0m-7 -94h0m57 -18h0m-98 54h0m137 -15h0m34 23h0m-143 11h0m89 -39h0m3 84h0m-28 -55h0m63 35h0m-62 53h0m-66 -34h0m-2 -34h0m14 -33h0m102 68h0m4 -108h0m-58 -3h0m18 55h0m-104 19h0m129 -5h0m31 -77h0m-72 50h0m-11 -34h0m89 61h0m-69 43h0m-59 -127h0m14 -20h0m1 114h0m40 -70h0m12 -35h0m45 16h0m-109 -2h0m84 132h0m-54 -92h0m-70 25h0m19 -7h0m19 86h0m-19 -98h0m30 6h0m83 -38h0m-92 63h0m-2 -18h0m132 -19h0m-62 -64h0m-39 121h0m-66 -61h0m121 103h0m-19 4h0m-25 -97h0m73 -2h0m-12 -33h0m-83 -6h0m39 -4h0m-66 10h0m50 18h0m-4 135h0m45 -26h0m-91 -94h0m-25 61h0m55 -82h0m-19 23h0m126 63h0m-125 -69h0m18 79h0m69 28h0m-65 -162h0m95 48h0m-21 38h0m-137 -25h0m19 40h0m52 -10h0m-55 32h0m24 3h0m77 -114h0m-88 27h0m97 24h0m-62 91h0m-31 -113h0m23 -15h0m54 69h0m-63 21h0m74 -1h0m-86 -7h0m-28 -40h0m58 -73h0m-2 53h0m22 -9h0m-65 24h0m61 -47h0m36 15h0m-109 20h0m62 -38h0m31 109h0m-6 -1h0m-101 -60h0m65 -65h0m8 -2h0m17 105h0m-5 -51h0m-23 111h0m42 -124h0m19 -15h0m-38 85h0m93 -50h0m-72 114h0m37 -62h0m-29 -43h0m-39 -26h0m-6 125h0m24 -119h0m-28 132h0m-41 -155h0m15 96h0m61 -56h0m-58 20h0m78 10h0m-5 3h0m-55 -42h0m105 -7h0m-32 75h0m20 -105h0m-38 65h0m-12 -24h0m-53 75h0m48 -101h0m-55 18h0m-13 37h0m100 -79h0m-48 130h0m6 -120h0m5 124h0m-22 -15h0m-27 -1h0m14 -75h0m83 101h0m13 -55h0m-78 28h0m39 24h0m34 -139h0m-81 107h0m-28 -95h0m-42 79h0m23 20h0m55 -11h0m-4 59h0m60 -160h0m-113 42h0m-18 41h0m87 -33h0m-33 84h0m101 -102h0m-85 66h0m-1 15h0m30 21h0m-76 -123h0m20 62h0m-25 -33h0m-20 48h0m24 12h0m25 -79h0m40 28h0m-33 -57h0m-24 80h0m130 0h0m-86 63h0m-4 -147h0m30 118h0m14 -75h0m71 33h0m-31 55h0m-145 -72h0m130 -9h0m-46 -59h0m-96 101h0m153 53h0m-15 -78h0m13 85h0m-76 -25h0m-29 41h0m-44 -66h0m39 -37h0m27 53h0m85 -58h0m-33 -2h0m-69 109h0m8 -160h0m3 128h0m-24 0h0m64 -12h0m-77 -65h0m55 -68h0m14 78h0m-35 26h0m107 -42h0m-24 -42h0m44 63h0m-110 55h0m-44 -86h0m95 133h0m-68 -150h0m-33 89h0m44 1h0m-32 -5h0m80 -22h0m-12 -77h0m52 113h0m-74 -4h0m-6 -56h0m-36 43h0m65 -17h0m-103 22h0m79 -7h0m28 67h0m-84 -91h0m31 53h0m129 -66h0m0 17h0m-144 69h0m79 19h0m34 -27h0m-60 38h0m38 -146h0m18 40h0m-52 81h0m-65 -115h0m86 -41h0m-17 141h0m-12 -108h0m59 121h0m-6 -60h0m-118 -36h0m37 98h0m-31 -94h0m127 45h0m-42 51h0m19 -134h0m-12 46h0m-67 40h0m-7 -6h0m80 -83h0m-109 101h0m65 -111h0m27 45h0m16 75h0m-63 -84h0m9 -33h0m42 55h0m36 -3h0m-69 19h0m93 -31h0m-46 -22h0m-24 10h0m56 0h0m-3 77h0m-76 50h0m-13 -37h0m41 -58h0m-103 -6h0m42 4h0m128 -29h0m-49 75h0m-86 -51h0m1 1h0m17 79h0m97 -45h0m-58 -97h0m-35 54h0m69 58h0m-73 45h0m56 -84h0m-52 -1h0m-9 41h0m55 59h0m-40 -28h0m49 -25h0m-36 -59h0m37 -37h0m-55 -14h0m5 118h0m49 -24h0m18 -73h0m13 94h0m-7 -120h0m-59 -20h0m-22 102h0m35 -84h0m49 38h0m-54 -35h0m11 1h0m-91 75h0m39 53h0m-9 -72h0m39 28h0m2 58h0m12 -87h0m17 90h0m67 -89h0m-28 63h0m-20 -114h0m-35 -25h0m-80 54h0m163 67h0m-105 -111h0m-29 7h0m125 42h0m-82 64h0m15 -30h0m64 -21h0m-115 68h0m-8 -73h0m33 21h0m-14 -9h0m18 -75h0m15 98h0m-25 -64h0m-57 30h0m41 22h0m-16 52h0m49 -146h0m-16 189h0m106 -118h0m-69 0h0m-57 48h0m55 -58h0m-17 39h0m-77 -52h0m33 107h0m30 13h0m-4 -113h0m53 -40h0m-68 46h0m94 93h0m-34 -144h0m-3 97h0m58 17h0m-33 -11h0m-64 19h0m4 15h0m-12 -60h0m11 -65h0m-22 121h0m98 -13h0m-55 -109h0m-82 39h0m160 49h0m-103 -5h0m88 -12h0m-161 -8h0m66 47h0m105 -35h0m-45 -21h0m17 -56h0m-7 12h0m-30 7h0m-46 -7h0m1 84h0m32 -40h0m10 89h0m-41 -50h0m24 78h0m-30 -56h0m-18 -86h0m95 62h0m-90 -101h0m108 62h0m-20 11h0m-19 25h0m-31 -15h0m-43 53h0m-25 -88h0m114 51h0m-28 -46h0m41 93h0m-128 -4h0m24 -115h0m60 81h0m-79 30h0m88 27h0m65 -42h0m-107 52h0m68 -130h0m27 86h0m-114 -94h0m-46 56h0m44 -48h0m0 -32h0m44 28h0m-38 1h0m43 118h0m-67 -3h0m133 -49h0m-59 24h0m-2 -14h0m77 -59h0m-29 -26h0m-64 27h0m53 113h0m-43 -74h0m-30 -66h0m113 84h0m-160 -18h0m40 60h0m-47 -40h0m97 62h0m22 -25h0m19 -66h0m-135 1h0m20 0h0m32 -5h0m-29 40h0m41 -43h0m-64 0h0m91 96h0m1 -165h0m-50 40h0m77 118h0m-41 -68h0m38 4h0m-14 63h0m-101 -81h0m115 0h0m-20 47h0m-33 -83h0m69 -15h0m-35 52h0m-48 29h0m23 -86h0m-59 3h0m63 105h0m-28 -108h0m62 5h0m-25 -1h0m67 -14h0m-123 23h0m19 84h0m66 12h0m-26 -140h0m43 33h0m-105 33h0m27 98h0m-42 -24h0m123 -89h0m2 8h0m-96 42h0m86 -23h0m-46 -19h0m-68 -34h0m151 27h0m-42 119h0m-99 -160h0m92 147h0m-43 -100h0m-63 -20h0m12 15h0m-26 -8h0m26 -36h0m65 82h0m8 44h0m-8 36h0m-86 -126h0m131 122h0m-49 -151h0m-33 80h0m-7 45h0m130 -66h0m-71 76h0m-26 -129h0m-13 -27h0m-45 24h0m109 7h0m12 57h0m-28 -7h0m-66 -83h0m-8 113h0m20 -28h0m49 -31h0m-51 112h0m43 -92h0m-8 8h0m-40 89h0m-32 -79h0m1 42h0m13 -28h0m9 -95h0m77 49h0m-24 29h0m69 4h0m-81 -48h0m14 71h0m-21 -107h0m7 77h0m27 97h0m-69 -104h0m-8 76h0m107 -113h0m20 49h0m-91 10h0m99 -13h0m-88 -39h0m68 42h0m-95 -61h0m-24 126h0m134 -30h0m-23 6h0m2 17h0m-121 3h0m25 -112h0m40 19h0m53 53h0m-28 -108h0m4 9h0m-68 15h0m73 113h0m-108 -6h0m123 11h0m20 -42h0m13 13h0m-86 -50h0m-27 -71h0m-36 152h0m12 -28h0m105 8h0m-50 -74h0m-46 -26h0m72 99h0m56 -70h0m-125 122h0m63 2h0m30 -124h0m-95 37h0m40 -96h0m72 99h0m-75 41h0m-42 -107h0m63 8h0m-49 -34h0m-52 56h0m90 117h0m22 -105h0m-45 -35h0m13 142h0m-67 -103h0m108 65h0m-25 -24h0m-58 -20h0m142 -3h0m-154 47h0m69 -97h0m32 90h0m-76 8h0" stroke="#CC3E24" stroke-width="1.7" stroke-linecap="round" opacity="0.8" filter="url(#sblur)"/>
<path d="M1153 639h0m-37 -54h0m-67 8h0m31 43h0m32 -111h0m-2 87h0m61 -33h0m-18 55h0m-7 -125h0m19 16h0m-126 68h0m64 -1h0m89 3h0m-51 -33h0m-54 -19h0m107 57h0m-87 -22h0m91 -28h0m-18 89h0m-66 -67h0m-2 17h0m-23 33h0m18 -63h0m69 30h0m-57 84h0m-3 -99h0m63 5h0m-22 66h0m-72 -3h0m125 -13h0m-53 -44h0m-3 -41h0m22 62h0m-68 44h0m-30 -30h0m-7 -42h0m69 83h0m49 -84h0m-47 63h0m32 7h0m-35 -98h0m24 61h0m-30 84h0m-78 -41h0m36 -10h0m46 -39h0m-14 -72h0m25 144h0m7 -120h0m28 26h0m-126 37h0m60 -15h0m101 8h0m-7 -43h0m-37 -55h0m-88 122h0m75 27h0m-60 -110h0m-4 52h0m-64 -32h0m121 -44h0m-66 142h0m-25 -148h0m107 29h0m-48 84h0m71 -95h0m-30 96h0m-70 36h0m-22 -80h0m18 -6h0m95 25h0m-39 82h0m-74 -151h0m76 -14h0m66 38h0m-100 17h0m45 -51h0m-61 106h0m-27 34h0m125 -129h0m-97 1h0m64 -33h0m27 95h0m-49 -89h0m-103 51h0m180 49h0m-55 -84h0m-81 97h0m81 -68h0m-44 -7h0m18 14h0m-38 -21h0m-13 2h0m57 1h0m-24 48h0m-30 74h0m85 -52h0m-18 14h0m-31 -55h0m-21 18h0m15 5h0m13 51h0m68 -111h0m-52 12h0m-82 115h0m123 -37h0m-27 12h0m-45 -68h0m18 95h0m-1 -72h0m-45 68h0m40 26h0m-25 -70h0m-53 -15h0m158 -25h0m-34 31h0m-34 -82h0m-23 143h0m41 -135h0m-44 65h0m-21 6h0m56 -110h0m-78 126h0m103 -64h0m38 45h0m-164 15h0m31 35h0m88 -11h0m14 -122h0m-121 66h0m152 -30h0m-134 100h0m-14 -38h0m82 59h0m-109 -74h0m65 52h0m-25 -22h0m-13 -43h0m18 83h0m76 -168h0m-94 34h0m20 120h0m73 -43h0m-55 18h0m21 -130h0m0 64h0m7 -66h0m-30 56h0m-43 51h0m67 -18h0m51 13h0m-101 -74h0m93 -22h0m-102 77h0m125 30h0m-19 27h0m15 -120h0m-84 -12h0m42 163h0m-60 -143h0m-34 2h0m101 -6h0m-90 72h0m40 -76h0m36 71h0m-34 -7h0m-67 28h0m30 -55h0m75 11h0m-9 108h0m-78 -110h0m110 -2h0m0 105h0m-79 -31h0m94 -10h0m-75 31h0m71 -146h0m19 49h0m-50 117h0m56 -75h0m-11 16h0m-83 -18h0m-52 42h0m-13 -30h0m41 -60h0m63 -26h0m-31 131h0m-15 -32h0m-34 31h0m2 -58h0m24 -55h0m-50 87h0m32 -47h0m94 74h0m40 -86h0m-118 -4h0m0 68h0m28 -11h0m-59 19h0m89 -123h0" stroke="#B42C1A" stroke-width="2.6" stroke-linecap="round" opacity="0.85" filter="url(#sblur)"/>
</g>
<ellipse cx="1124.3" cy="598.0" rx="93.5" ry="96.5" fill="none" stroke="#E6AA8A" stroke-width="3" opacity="0.6" filter="url(#wblur)"/>
<radialGradient id="wg12" cx="0.5" cy="0.5" r="0.5"><stop offset="0" stop-color="#F3C7A3"/><stop offset="0.55" stop-color="#F3C7A3"/><stop offset="0.95" stop-color="#DC9878"/><stop offset="1" stop-color="#DC9878" stop-opacity="0.5"/></radialGradient>
<clipPath id="wc12"><ellipse cx="1401.6" cy="598.0" rx="93.0" ry="96.0"/></clipPath>
<ellipse cx="1401.6" cy="598.0" rx="95.5" ry="98.5" fill="url(#wg12)" filter="url(#wblur)"/>
<g clip-path="url(#wc12)">
<g fill="#B3321F" filter="url(#bblur)"><circle cx="1392" cy="553" r="7" opacity="0.7"/><circle cx="1337" cy="593" r="7" opacity="0.8"/><circle cx="1362" cy="563" r="5" opacity="0.7"/><circle cx="1427" cy="573" r="5" opacity="0.6"/><circle cx="1372" cy="658" r="5" opacity="0.6"/><circle cx="1442" cy="628" r="5" opacity="0.6"/><circle cx="1397" cy="683" r="6" opacity="0.7"/><circle cx="1457" cy="608" r="5" opacity="0.6"/><circle cx="1347" cy="583" r="6" opacity="0.8"/><circle cx="1340" cy="603" r="6" opacity="0.8"/><circle cx="1382" cy="513" r="7" opacity="0.6"/><circle cx="1472" cy="548" r="6" opacity="0.6"/></g>
<g stroke="#B3321F" stroke-linecap="round" fill="none" filter="url(#bblur)"><path d="M1370 579h0m55 -47h0m-45 -26h0m-5 94h0m13 2h0m61 77h0m-2 -69h0m-39 45h0m-34 -94h0m36 61h0m-58 -58h0m-3 43h0m111 -51h0m32 46h0m-85 26h0m-10 -88h0m87 31h0m-20 78h0m21 -91h0m-131 101h0m74 -34h0m15 23h0m-10 -27h0m10 -52h0" stroke-width="5.0" stroke-opacity="0.5"/><path d="M1334 586h0m69 -69h0m-29 54h0m-28 -16h0m51 68h0m44 -81h0m-1 35h0m-72 58h0m67 -5h0m11 -67h0m-19 13h0m-64 105h0m12 -136h0m5 75h0m31 -3h0m-72 -39h0m21 87h0m35 -95h0" stroke-width="5.0" stroke-opacity="0.65"/><path d="M1358 659h0m-30 -76h0m111 -73h0m22 88h0m-99 74h0m27 20h0m-17 -120h0m7 -53h0m-26 61h0m49 57h0m0 -66h0m-57 -21h0m18 -13h0m-22 24h0m118 38h0m-37 49h0m-12 -86h0m6 12h0m69 3h0" stroke-width="5.0" stroke-opacity="0.8"/><path d="M1332 561h0m17 23h0m-23 24h0m71 80h0m-47 -85h0m135 -31h0m-173 24h0m122 -29h0m-80 23h0m82 -22h0m-106 58h0m137 -7h0m-43 -68h0m36 -18h0m-85 111h0m52 -52h0m-39 -13h0m-36 24h0m93 -5h0" stroke-width="6.8" stroke-opacity="0.5"/><path d="M1433 528h0m-113 107h0m63 -53h0m15 106h0m-22 -151h0m28 100h0m-43 -87h0m96 64h0m-66 -79h0m-46 50h0m-8 6h0m85 75h0m34 -85h0m-13 -27h0m-16 -20h0m49 121h0" stroke-width="6.8" stroke-opacity="0.65"/><path d="M1397 629h0m-58 31h0m1 -23h0m-26 -16h0m72 -74h0m65 35h0m-33 95h0m-52 -40h0m85 -8h0m38 5h0m-137 -117h0m19 58h0m-6 -6h0m11 -1h0m-25 -30h0m68 56h0" stroke-width="6.8" stroke-opacity="0.8"/><path d="M1420 593h0m-48 32h0m-4 30h0m45 -32h0m72 -6h0m-121 -90h0m107 92h0m-86 -18h0m85 35h0m-142 -2h0m70 10h0m27 -39h0m-71 -23h0m-9 -19h0m37 38h0m48 -87h0m4 5h0" stroke-width="8.6" stroke-opacity="0.5"/><path d="M1438 618h0m-25 12h0m25 2h0m-110 -86h0m74 -42h0m63 121h0m-135 -20h0m45 -50h0m94 108h0m-89 9h0m97 -109h0m-93 11h0m89 87h0m-2 3h0m-125 9h0m-9 -32h0m-11 -7h0m83 -46h0m74 8h0m-62 35h0m-51 -2h0" stroke-width="8.6" stroke-opacity="0.65"/><path d="M1380 652h0m-64 -62h0m137 -23h0m-94 118h0m78 -49h0m47 -1h0m-134 -30h0m102 -28h0m40 32h0m-127 -83h0m15 52h0m44 112h0m27 -107h0m-29 104h0m-23 -149h0m-69 68h0m-4 39h0m76 -55h0m-63 -4h0m150 4h0" stroke-width="8.6" stroke-opacity="0.8"/></g>
<path d="M1356 642h0m-27 -13h0m9 -12h0m110 56h0m-59 21h0m-5 -7h0m-58 -134h0m113 121h0m-84 -23h0m42 -151h0m39 170h0m45 -93h0m-42 51h0m-1 -110h0m-47 117h0m57 27h0m-82 -104h0m107 4h0m-92 -1h0m61 -27h0m-111 88h0m63 -52h0m-29 -3h0m-38 16h0m30 -72h0m105 134h0m-113 -124h0m95 7h0m13 77h0m34 17h0m-42 -53h0m-52 -43h0m-57 71h0m48 -61h0m-53 51h0m62 -77h0m49 141h0m-5 36h0m-103 -104h0m47 -69h0m70 100h0m-25 -20h0m39 19h0m-58 -34h0m15 36h0m-57 26h0m-18 -47h0m56 49h0m-66 -21h0m-2 -12h0m136 -26h0m-126 33h0m36 -31h0m-45 48h0m61 0h0m56 -84h0m-14 60h0m-51 13h0m1 6h0m35 9h0m44 -33h0m-63 -77h0m-66 148h0m-13 -101h0m95 -70h0m-34 152h0m-12 -123h0m-53 97h0m102 -76h0m-15 80h0m-67 -87h0m53 41h0m56 79h0m-3 -45h0m-43 -105h0m7 67h0m34 -11h0m-121 1h0m136 22h0m-31 -86h0m-86 41h0m51 -29h0m88 42h0m-85 56h0m2 6h0m-39 -98h0m111 58h0m-55 6h0m17 -74h0m12 15h0m-31 88h0m49 -1h0m-128 39h0m38 -50h0m-52 -21h0m40 77h0m16 13h0m76 -97h0m-6 51h0m-124 -75h0m4 105h0m50 -104h0m-49 77h0m17 19h0m99 -4h0m-32 -127h0m0 164h0m-60 -94h0m78 33h0m-67 -45h0m109 59h0m-138 -8h0m130 -15h0m8 -66h0m-116 118h0m-6 -146h0m108 15h0m-15 -1h0m-32 109h0m-13 -24h0m-74 -33h0m127 -17h0m-8 44h0m12 28h0m-96 16h0m98 -77h0m-19 -3h0m-27 -18h0m-22 -3h0m83 60h0m-54 -18h0m-28 -68h0m35 53h0m-58 14h0m-41 26h0m125 -55h0m-32 -10h0m-101 50h0m25 65h0m95 -123h0m-59 -37h0m-35 92h0m126 -25h0m-97 -29h0m13 65h0m-43 -100h0m72 109h0m-7 -98h0m57 53h0m-60 90h0m-78 -77h0m55 28h0m-38 -78h0m0 63h0m14 72h0m109 -39h0m-88 19h0m32 -8h0m36 24h0m-69 -111h0m-60 34h0m114 77h0m-4 -158h0m33 114h0m-79 -22h0m17 -46h0m-1 -4h0m29 -57h0m-60 123h0m21 -125h0m1 179h0m12 -39h0m-27 50h0m27 -34h0m20 1h0m-45 22h0m98 -111h0m-108 104h0m93 -59h0m-51 -114h0m0 9h0m-6 33h0m15 -13h0m-53 120h0m48 -125h0m-32 114h0m32 -12h0m-14 -79h0m18 42h0m5 66h0m-24 -74h0m10 -50h0m68 43h0m-79 89h0m40 -61h0m-53 49h0m26 -22h0m-39 32h0m73 11h0m-86 -44h0m51 -63h0m-50 -50h0m103 37h0m-94 -4h0m40 47h0m-40 67h0m19 31h0m57 -130h0m-56 102h0m5 10h0m52 -144h0m-27 -12h0m-102 54h0m-4 -15h0m111 -16h0m30 7h0m-81 28h0m116 30h0m-43 -8h0m-15 34h0m-100 -97h0m146 5h0m-38 112h0m-114 -58h0m76 -48h0m-36 47h0m88 -46h0m-99 -30h0m-10 84h0m126 -41h0m-142 56h0m70 50h0m-10 -116h0m-10 -26h0m17 109h0m-57 -22h0m26 13h0m94 12h0m-36 -29h0m-52 54h0m31 -2h0m42 -97h0m16 3h0m-38 98h0m64 -44h0m-144 -91h0m121 29h0m-131 53h0m52 32h0m-46 -45h0m40 -23h0m-14 31h0m-34 16h0m46 -65h0m91 87h0m-78 -95h0m12 76h0m48 3h0m45 -23h0m-92 -85h0m52 140h0m-91 -109h0m-45 7h0m84 28h0m-53 75h0m49 -92h0m77 77h0m-47 -11h0m55 -34h0m-130 41h0m25 6h0m80 -103h0m-66 42h0m-52 51h0m66 -71h0m47 11h0m-100 -49h0m81 12h0m-45 105h0m39 -94h0m-57 105h0m-57 -32h0m125 -26h0m-29 81h0m-44 -34h0m76 -3h0m-125 -9h0m59 -111h0m101 27h0m-84 8h0m-67 -3h0m95 68h0m26 -96h0m-91 134h0m48 -18h0m-12 -63h0m85 58h0m-132 -16h0m89 -69h0m-58 120h0m-22 -55h0m-42 -60h0m170 53h0m-85 -84h0m14 -4h0m-94 40h0m36 89h0m59 -28h0m-55 -49h0m-31 -21h0m42 67h0m36 -93h0m57 123h0m-23 -11h0m-107 -28h0m52 -45h0m87 0h0m-127 64h0m79 -98h0m-80 105h0m46 -2h0m-44 -26h0m123 -56h0m-4 -28h0m-32 -20h0m-80 6h0m-9 90h0m117 56h0m20 -112h0m4 35h0m-52 59h0m-75 -87h0m31 12h0m56 103h0m-13 -161h0m26 142h0m26 -73h0m-72 -39h0m-58 44h0m60 -33h0m-2 33h0m-64 44h0m19 -120h0m-15 75h0m72 -69h0m-59 53h0m70 -49h0m-89 145h0m-21 -95h0m50 66h0m111 -8h0m-116 -82h0m7 0h0m94 2h0m-88 129h0m-72 -105h0m33 19h0m106 78h0m-72 -21h0m68 33h0m-70 -11h0m-34 -52h0m109 -80h0m-74 75h0m83 -64h0m-51 100h0m29 -96h0m-113 20h0m18 40h0m64 -101h0m-64 44h0m-6 19h0m70 77h0m19 -62h0m4 53h0m-31 -87h0m28 105h0m-102 -32h0m61 -95h0m-17 -18h0m94 97h0m-74 60h0m75 -93h0m-152 38h0m39 4h0m-26 38h0m144 -122h0m-135 75h0m18 -33h0m25 72h0m77 25h0m-102 -123h0m113 28h0m-137 20h0m24 25h0m31 -93h0m67 144h0m-115 -134h0m67 -9h0m88 53h0m-142 -36h0m74 124h0m-40 -65h0m107 -11h0m-110 74h0m57 -90h0m26 -33h0m-137 -2h0m45 122h0m-15 -154h0m-28 143h0m75 30h0m-32 -159h0m-29 120h0m61 18h0m85 -71h0m-12 18h0m-67 41h0m81 -62h0m-118 81h0m108 -87h0m-74 13h0m35 -59h0m-72 114h0m75 28h0m25 -65h0m-85 -99h0m97 135h0m-113 -97h0m124 8h0m-152 -19h0m102 114h0m-84 -26h0m63 -2h0m-83 22h0m84 24h0m17 -9h0m31 -37h0m-3 -102h0m-105 59h0m49 3h0m66 35h0m-97 -92h0m54 56h0m42 -29h0m-88 25h0m108 26h0m-187 -2h0m166 38h0m-91 36h0m-66 -88h0m38 34h0m136 -37h0m-47 -52h0m26 66h0m-95 -31h0m-25 66h0m49 -115h0m-40 47h0m0 -43h0m52 109h0m-67 -42h0m117 -41h0m-125 79h0m12 -17h0m79 -65h0m57 13h0m-158 89h0m26 -27h0m92 -2h0m-68 -87h0m81 4h0m-70 7h0m10 98h0m5 18h0m-10 -94h0m22 -60h0m-70 10h0m-4 29h0m-21 64h0m156 -8h0m-95 46h0m40 -14h0m25 -89h0m-125 8h0m26 87h0m70 -40h0m-25 -59h0m62 115h0m3 -31h0m-86 22h0m17 -133h0m-9 33h0m56 -3h0m-81 109h0m29 -7h0m-50 -79h0m8 -25h0m63 123h0m-1 1h0m-31 -160h0m95 45h0m-104 76h0m135 -28h0m-93 -60h0m-85 25h0m28 36h0m-16 -56h0m127 20h0m-17 73h0m2 -41h0m-99 17h0m27 -67h0m51 112h0m4 12h0m-83 -140h0m-19 41h0m170 35h0m-134 14h0m7 -8h0m78 22h0m-27 -60h0m-93 -10h0m18 73h0m34 -70h0m101 42h0m-66 65h0m-51 -122h0m-33 -1h0m114 -45h0m-40 18h0m1 -20h0m29 83h0m39 -47h0m-137 68h0m32 73h0m64 -18h0m-9 -33h0m-67 -34h0m-7 28h0m45 51h0m28 -38h0m33 -94h0m-16 87h0m-66 -80h0m1 -2h0m-27 119h0m0 -97h0m-18 5h0m143 35h0m-44 -13h0m-5 -72h0m-107 79h0m156 10h0m-19 -63h0m-108 94h0m-1 -94h0m145 73h0m-31 32h0m-102 17h0m53 -169h0m-11 151h0m-4 -110h0m-50 102h0m63 -148h0m-12 23h0m-10 0h0m-56 126h0m88 -5h0m-23 -5h0m-14 -14h0m-20 -103h0m79 157h0m-14 -140h0m-77 -3h0m46 34h0m-26 42h0m25 -77h0m-69 84h0m12 -1h0m-7 -46h0m40 91h0m0 -127h0m33 133h0m16 -139h0m44 112h0m-31 -15h0m-61 28h0m47 -39h0m-38 -3h0m12 -72h0m34 0h0m-31 121h0m50 -149h0m28 41h0m-149 7h0m107 -3h0m-118 7h0m118 81h0m-19 -103h0m-39 126h0m57 -63h0m30 -35h0m-75 37h0m-46 45h0m116 -101h0m-18 12h0m-66 -2h0m97 46h0m19 31h0m-124 -60h0m113 -38h0m-134 -8h0m18 145h0m16 -118h0m-5 114h0m1 -21h0m-16 -12h0m130 -53h0m-46 69h0m-86 -38h0m13 -111h0m-43 94h0m6 -24h0m102 -9h0m22 -34h0m2 96h0m-108 -48h0m-30 32h0m69 -40h0m78 4h0m-23 84h0m32 -21h0m-79 -122h0m41 78h0m-33 -72h0m-18 22h0m-65 42h0m28 -30h0m44 14h0m-42 68h0m142 -27h0m-44 -9h0m47 -11h0m-19 -10h0m-156 12h0m63 -90h0m-16 25h0m45 141h0m-26 -49h0m57 -74h0m-33 102h0m49 -109h0m31 56h0m-22 -72h0m-73 -12h0m-45 0h0m6 -1h0m91 148h0m-17 -70h0m-36 -91h0m59 20h0m26 25h0m-80 72h0m-4 -37h0m-55 44h0m110 -73h0m-119 49h0m52 -21h0m52 -68h0m-14 149h0m41 -26h0m-120 -79h0m130 48h0m-119 29h0m129 -90h0m-20 -19h0m-23 105h0m-22 -67h0m47 75h0m-21 -27h0m21 -28h0m-8 52h0m28 -57h0m-76 17h0m82 31h0m-119 -98h0m31 42h0m-29 1h0m55 59h0m22 -45h0m15 -56h0m10 109h0m-47 41h0m-87 -68h0m16 30h0m1 1h0m69 -88h0m25 72h0m-36 -122h0m-29 13h0m5 39h0m-43 -6h0m83 27h0m-46 -49h0m55 25h0m-55 8h0m22 -24h0m-65 118h0m86 -6h0m20 -96h0m42 51h0m-51 -34h0m-96 23h0m106 64h0m37 -72h0m-155 51h0m54 -17h0m30 -30h0m13 46h0m60 -28h0m-108 6h0m15 -91h0m-35 70h0m92 23h0m-83 -49h0m116 6h0m-30 70h0m-15 -38h0m-83 -27h0m14 41h0m-15 47h0m23 -148h0m19 172h0m31 -127h0m-7 55h0m-109 -40h0m43 73h0m28 -107h0m-58 86h0m153 -69h0m-112 -31h0m29 94h0m-5 -126h0m-23 124h0m-3 10h0m127 -50h0m-133 -72h0m103 58h0m-98 -29h0m78 -26h0m44 105h0m-88 -114h0m-87 74h0m137 51h0m-35 -81h0m41 72h0m4 47h0m-18 -14h0m-9 -63h0m-20 -78h0m28 143h0m35 -90h0m6 15h0m-15 77h0m-76 -32h0m26 43h0m-73 -31h0m85 39h0m-34 15h0m18 -95h0m-22 -20h0m-6 71h0m86 -39h0m-60 -103h0m-55 165h0m113 -73h0m-21 -57h0m14 108h0m22 -55h0m-144 45h0m134 2h0m-29 13h0m-17 -133h0m-116 63h0m158 -27h0m-56 11h0m10 1h0m-55 34h0m-7 80h0m128 -112h0m-138 76h0m39 11h0m38 10h0m44 -13h0m-118 -37h0m115 -31h0m-32 -73h0m-21 -5h0m27 5h0m-63 57h0m-20 23h0m60 -84h0m-28 53h0m74 14h0m-71 -79h0m34 110h0m-81 -80h0m77 9h0m-52 1h0m98 117h0m0 -71h0m-87 10h0m-31 63h0m85 -131h0m36 100h0m-123 -77h0m48 94h0m-10 -72h0m45 18h0m-52 95h0m-17 -176h0m118 76h0m-139 -21h0m86 -12h0m-23 -1h0m-28 33h0m93 -41h0m-124 49h0m94 39h0m-83 29h0m-12 -121h0m38 147h0m100 -120h0m-25 -33h0m-51 152h0m39 -38h0m-55 -10h0m45 -1h0m-48 56h0m23 -141h0m31 12h0m37 -11h0m-66 -13h0m58 18h0m-88 -38h0m-34 88h0m-33 6h0m19 -59h0m145 54h0m-127 37h0m109 8h0m25 -97h0m-64 23h0m39 -54h0m-103 71h0m55 4h0m-23 -78h0m93 101h0m-135 -82h0m-10 15h0m14 55h0m-12 -21h0m101 68h0m-52 24h0m-16 -31h0m36 8h0m50 -105h0m-11 94h0m-69 -66h0m16 13h0m15 97h0m38 -36h0m-32 32h0m-64 -153h0m122 111h0m-35 -55h0m-71 -38h0m69 87h0m-40 -20h0m-56 -13h0m44 16h0m100 -23h0m-143 -53h0m17 38h0m76 71h0m-61 -92h0m45 -1h0m0 66h0m4 -110h0m-48 -3h0m-23 109h0m92 -95h0m-19 -28h0m16 146h0m-73 20h0m-3 -56h0m-19 11h0m88 -76h0m-4 9h0m-67 96h0m-21 -30h0m128 -26h0m-2 -3h0m-155 4h0m170 -33h0m-72 93h0m47 -73h0m-108 20h0m28 -40h0m80 -45h0m-100 -6h0m58 22h0m19 140h0m59 -101h0m-140 -59h0m57 -13h0m-74 55h0m-16 59h0m139 11h0m-15 -52h0m-49 -40h0m55 -8h0m8 79h0m-48 54h0m-36 -124h0m-14 38h0m32 35h0m-7 -101h0m-45 136h0m85 -96h0m-116 76h0m125 37h0m-61 -90h0m59 53h0m-38 37h0m56 -65h0m-132 -25h0m29 -19h0m99 115h0m-57 -129h0m-40 106h0m53 -145h0m-63 106h0m140 -57h0m-132 117h0m103 -151h0m-90 96h0m110 -14h0m-73 -23h0m56 104h0m-95 6h0m13 -156h0m57 118h0m-50 -115h0m60 149h0m-40 -68h0m4 58h0m0 -155h0m82 129h0m-128 27h0m30 -113h0m92 73h0m-149 18h0m20 -13h0m-16 -89h0m66 -25h0m51 122h0m14 -108h0m-111 -19h0m-23 37h0m70 125h0m-43 -137h0m119 4h0m-94 78h0m35 -41h0m32 24h0m-70 -100h0m98 39h0m-52 93h0m32 -1h0m-21 -95h0m-37 121h0m-28 -16h0m44 -38h0m14 26h0m-27 -135h0m-83 81h0m2 64h0m58 -10h0m40 7h0m-1 -2h0m10 -59h0m18 31h0m-39 -38h0m82 5h0m-135 58h0m87 -71h0m-61 -43h0m30 111h0m-29 49h0m27 -134h0m-2 11h0m35 -15h0m-29 93h0m77 -46h0m-61 -88h0m-55 79h0m79 80h0m-23 -55h0m49 19h0m-89 49h0m15 -41h0m-85 9h0m116 8h0m30 -113h0m-135 54h0m17 -19h0m84 -45h0m-102 92h0m23 -25h0m103 -78h0m-14 23h0m22 71h0m-50 -12h0m53 30h0m-112 15h0m105 -31h0m-10 -67h0m-70 111h0m75 4h0m-50 -123h0m-5 -35h0m67 157h0m-150 -56h0m89 18h0m-30 61h0m91 -155h0m-48 62h0m-50 78h0m34 -88h0m-26 -6h0m-33 5h0m144 36h0m-175 -36h0m145 -61h0m-29 -4h0m41 70h0m6 16h0m-56 77h0m36 -97h0m-47 -72h0m-1 73h0m7 109h0m-35 -51h0m9 17h0m78 -101h0m-21 5h0m-47 36h0m-88 4h0m44 -10h0m-45 17h0m1 -30h0m153 -42h0m17 109h0m-104 -92h0m0 0h0m-35 -26h0m77 90h0m-21 -42h0m5 -16h0m-9 7h0m-79 -5h0m116 17h0m65 33h0m-123 14h0m90 23h0m-147 -44h0m50 -8h0m42 53h0m34 -33h0m39 -20h0m-172 -19h0m31 -19h0m-1 1h0m91 100h0m-47 -36h0m38 -28h0m6 94h0m-112 -133h0m3 82h0m126 -82h0m-97 101h0m46 -18h0m65 -66h0m-127 59h0m133 -71h0m-34 -25h0m16 130h0m-61 -81h0m-67 43h0m165 -75h0m-8 98h0m-25 5h0m-49 22h0m89 -52h0m-83 -49h0m23 64h0m-45 32h0m18 -113h0m-31 -53h0m28 146h0m-27 -94h0m69 123h0m-45 -56h0m75 -26h0m-62 2h0m-90 -21h0m117 54h0m45 -13h0m-83 -100h0m24 155h0m-6 -23h0m33 -43h0m-51 -69h0m-10 58h0m-27 62h0m62 -58h0m14 -3h0m-117 -47h0m71 14h0m0 16h0m-77 51h0m15 -48h0m74 -52h0m28 -5h0m-82 111h0m134 -26h0m-147 -38h0m58 107h0m15 -94h0m-27 69h0m-14 -5h0m-41 -79h0m83 102h0m33 -122h0m-91 122h0m28 -4h0m17 -128h0m54 15h0m-58 26h0m-71 -20h0m138 87h0m-54 -140h0m-24 77h0m36 62h0m-21 42h0m42 -152h0m-27 -15h0m54 78h0m-100 -65h0m75 -5h0m-14 147h0m39 -99h0m-75 38h0m41 57h0m-92 -53h0m24 -75h0m40 26h0m-8 -53h0m-83 88h0m158 -67h0m-73 -31h0m-31 97h0m24 -5h0m59 52h0m-44 -128h0m69 106h0m-71 -134h0m-58 127h0m104 42h0m-20 -9h0m-73 -71h0m69 12h0m33 37h0m-59 -45h0m44 64h0m-70 -119h0m2 -4h0m25 102h0m47 -18h0m-105 -22h0m108 -24h0m-110 -53h0m34 158h0m79 -63h0m-133 -31h0m93 56h0m-95 -79h0m129 -32h0m-36 -30h0m-35 27h0m-5 20h0m-22 49h0m112 -56h0m-84 21h0m-15 57h0m53 -2h0m-31 -1h0m4 -83h0m-19 10h0m41 79h0m5 38h0m-12 12h0m-43 -94h0m36 16h0m47 72h0m-36 3h0m-64 -20h0m115 -11h0m-56 -5h0m-7 -107h0m-77 117h0m20 -96h0m130 116h0m-38 -143h0m62 70h0m-135 63h0m69 -76h0m-114 5h0m62 -56h0m-10 144h0m71 -34h0m-13 -46h0m-67 -16h0m-18 49h0m90 -19h0m-3 38h0m-35 -58h0m-13 105h0m82 -81h0m30 -44h0m-100 -22h0m51 143h0m-43 -2h0m-5 -129h0m88 -1h0m-46 111h0m-40 9h0m74 -65h0m-103 -42h0m89 -18h0m11 72h0m-134 34h0m128 -15h0m-74 -35h0m91 2h0m5 -20h0m-98 -81h0m32 148h0m-61 -120h0m64 -11h0m-27 83h0m-28 4h0m-20 -35h0m102 16h0m-35 -36h0m64 54h0m-137 -55h0m50 72h0m-57 13h0m21 -75h0m40 129h0m0 -127h0m12 50h0m65 24h0m-38 -128h0m-39 -3h0m59 15h0m-56 61h0m-2 106h0m25 -187h0m-31 60h0m41 -22h0m-19 44h0m-61 -12h0m83 -60h0m25 33h0m-98 99h0m10 -76h0m72 -24h0m4 26h0m13 84h0m-10 6h0m-59 31h0m-14 -121h0m104 61h0m-54 -31h0m-81 -62h0m61 -3h0m23 114h0m-27 15h0m22 -85h0m-95 -39h0m31 21h0m2 41h0m-14 6h0m126 8h0m-116 -36h0m3 94h0m108 -93h0m-76 -14h0m60 -46h0m1 100h0m-64 -40h0m71 8h0m-110 87h0m50 -139h0m38 39h0m-34 97h0m34 -141h0m-27 119h0m-52 -127h0m95 89h0m-51 52h0m33 -157h0m22 32h0m-129 67h0m23 70h0m19 -131h0m36 143h0m-37 -162h0m63 151h0m-26 16h0m41 -155h0m-72 124h0m7 -99h0m70 -17h0m-78 -7h0m21 26h0m76 9h0m13 13h0m-120 24h0m30 -108h0m11 186h0m45 -60h0m-110 -64h0m103 116h0m-13 -157h0m-67 55h0m13 29h0m-30 36h0m1 -8h0m43 56h0m-21 -136h0m18 46h0m37 -37h0m-94 63h0m102 -30h0m-43 -36h0m-16 3h0m51 73h0m-4 -63h0m17 -13h0m-30 129h0m-15 -76h0m36 -6h0m-101 45h0m121 3h0m-116 -115h0m85 124h0m-57 -20h0m47 2h0m39 -127h0m-36 143h0m74 -30h0m-149 -12h0m-17 -3h0m72 40h0m2 25h0m-43 -17h0m56 -98h0m6 -58h0m-62 19h0m3 128h0m122 -38h0m-123 44h0m81 -98h0m18 48h0m-72 63h0m33 -153h0m-102 62h0m149 -16h0m-32 72h0m2 -34h0m31 -69h0m-36 -23h0m-110 88h0m15 28h0m100 58h0" stroke="#CC3E24" stroke-width="1.7" stroke-linecap="round" opacity="0.8" filter="url(#sblur)"/>
<path d="M1456 598h0m-13 55h0m-79 -97h0m9 -27h0m-5 38h0m50 80h0m39 -68h0m-62 -58h0m-62 29h0m6 116h0m63 -139h0m-2 13h0m-38 142h0m63 -86h0m-105 44h0m78 51h0m-26 -7h0m25 -83h0m57 -83h0m-47 7h0m18 6h0m-31 121h0m14 -8h0m-37 -3h0m58 -2h0m44 -73h0m-20 19h0m-104 73h0m100 -38h0m-56 38h0m-19 -101h0m-61 47h0m87 -77h0m-68 138h0m147 -106h0m12 13h0m-122 66h0m-31 -37h0m-9 42h0m149 -99h0m-2 24h0m14 7h0m-119 -13h0m34 -5h0m-52 -15h0m1 65h0m86 -54h0m47 77h0m-55 0h0m-91 -60h0m48 28h0m-55 43h0m84 -3h0m3 30h0m-8 -153h0m-22 165h0m74 -147h0m-65 94h0m44 -91h0m36 94h0m-11 -39h0m-4 -40h0m-9 101h0m-114 -17h0m49 12h0m99 -35h0m-86 -74h0m31 5h0m-93 95h0m58 -65h0m-7 99h0m97 -92h0m-84 79h0m67 -65h0m-93 59h0m55 -24h0m-32 -77h0m-29 -34h0m25 104h0m15 -94h0m-55 63h0m46 9h0m-79 7h0m170 -18h0m-49 -29h0m-73 112h0m42 -110h0m22 28h0m-6 -55h0m-71 -22h0m19 46h0m16 -9h0m4 -39h0m-25 66h0m6 70h0m24 -89h0m15 73h0m1 -57h0m-44 -67h0m-26 61h0m-17 25h0m57 36h0m11 38h0m62 -21h0m-68 -31h0m74 -82h0m-47 -23h0m55 68h0m-74 -15h0m31 94h0m4 -58h0m-45 6h0m29 -54h0m-81 65h0m-29 -30h0m137 -9h0m-35 72h0m-56 -121h0m89 134h0m-6 -114h0m38 66h0m-64 -22h0m66 -33h0m-40 -29h0m27 8h0m-36 2h0m30 124h0m-104 7h0m57 -162h0m-41 49h0m30 6h0m-45 36h0m14 6h0m69 67h0m17 -113h0m-113 24h0m67 -62h0m-26 88h0m-21 20h0m41 -4h0m-90 -10h0m142 -43h0m29 12h0m-130 51h0m44 8h0m-23 -134h0m20 75h0m-57 75h0m60 16h0m14 -114h0m-1 -55h0m-1 14h0m-85 20h0m49 118h0m78 -76h0m-79 20h0m69 -35h0m38 70h0m-100 -17h0m19 -88h0m-19 113h0m69 5h0m-49 -2h0m-89 -82h0m175 14h0m6 10h0m-74 74h0m31 -111h0m-5 95h0m34 -76h0m-26 -9h0m-142 -5h0m55 -49h0m64 125h0m-101 -4h0m69 -34h0m-24 86h0m4 -138h0m4 11h0m-32 24h0m122 55h0m-90 11h0m53 -100h0m-71 -24h0m19 31h0m55 78h0m13 -49h0m-70 -10h0m23 17h0m-56 75h0m20 -13h0m49 -136h0m-10 38h0m-35 17h0m3 76h0m55 40h0m-35 -49h0m60 -48h0m-131 20h0m62 -92h0m28 65h0m-40 62h0m-59 2h0m141 14h0m1 -35h0m-129 -47h0m122 56h0m-108 -64h0m130 63h0m-107 -6h0m26 -13h0m-13 0h0m-3 68h0m41 -5h0m-35 -89h0m13 -47h0m-24 47h0m-9 27h0m69 39h0m-34 -106h0m50 -23h0m-37 74h0m5 -97h0m-24 174h0m19 -167h0m-10 97h0m42 77h0m-96 -17h0m-36 -65h0m80 24h0m86 -60h0m-36 35h0m-67 -31h0m-14 45h0m16 -8h0m-29 50h0m45 -34h0m-16 19h0m88 -42h0m-87 32h0m-50 -57h0m83 107h0m43 -131h0m-25 137h0m8 -127h0m13 34h0m-16 -36h0m5 63h0m-19 -13h0m-39 5h0m7 49h0m30 3h0m25 -35h0m-29 -90h0m1 92h0m26 -35h0m-121 -46h0m40 111h0m40 -152h0m-49 94h0m130 8h0m-73 -43h0m-40 56h0m-4 -44h0m-25 -39h0m110 50h0m-134 -24h0m36 88h0m144 -49h0m-168 13h0m7 -84h0m78 101h0m-26 24h0m12 14h0m-13 -107h0m70 20h0m-92 65h0m68 -73h0m-64 106h0m12 -36h0m95 -23h0m-129 -87h0m33 126h0m33 -124h0m-66 90h0m141 -24h0m-152 11h0m96 -8h0m15 41h0m0 -3h0m-124 -89h0m29 88h0m57 -97h0m-32 2h0m-18 75h0m15 -25h0m-26 72h0m105 -56h0m-128 -77h0m92 48h0m-96 0h0m15 67h0m149 -16h0m-97 47h0m57 -53h0m-21 -118h0m-65 106h0m67 -74h0m-49 75h0m36 -3h0m4 -88h0m-91 65h0m46 55h0m82 -113h0m-38 109h0m-71 19h0m119 -52h0m-52 23h0m-62 -122h0m121 16h0m-40 108h0m-115 -71h0m110 -15h0m28 123h0m-90 -76h0m77 17h0m-85 -96h0m84 74h0m43 45h0m-99 21h0m-26 -109h0m44 73h0m-34 53h0m40 -133h0m-44 71h0m94 23h0m-56 -16h0m27 -4h0m-37 69h0m9 -105h0m63 48h0m-56 5h0m-3 -5h0m-17 33h0m70 -66h0m-35 -75h0m-110 93h0m111 -102h0m-74 134h0m55 -122h0m-38 109h0m19 -27h0m39 -98h0m-38 131h0m3 -116h0m5 72h0m49 -33h0m-60 54h0m34 15h0m-88 -83h0m32 37h0m-20 -27h0m58 29h0m-3 -85h0m53 110h0m16 1h0m-84 61h0m6 -111h0m71 43h0m-38 -57h0m-75 32h0m44 -49h0m-13 103h0m-25 -36h0m13 -43h0m55 102h0m56 -83h0m-45 -59h0m17 138h0m-6 -80h0m-29 15h0m-84 -35h0m57 88h0m-53 7h0m117 -93h0m-8 72h0m-12 -41h0m-59 32h0m67 54h0m7 -55h0m4 -51h0m-136 39h0m26 -58h0m19 57h0m126 3h0m-80 -95h0m-5 37h0m64 -29h0m2 55h0m-118 5h0m58 -7h0m48 43h0m25 15h0m1 5h0m-119 -20h0m-9 -72h0m121 47h0m-111 49h0m17 -139h0m-12 166h0m4 -135h0m-19 103h0m31 11h0m88 -104h0m-107 94h0m-56 -37h0m51 -33h0m-12 52h0m36 59h0m-44 -91h0" stroke="#B42C1A" stroke-width="2.6" stroke-linecap="round" opacity="0.85" filter="url(#sblur)"/>
</g>
<ellipse cx="1401.6" cy="598.0" rx="93.5" ry="96.5" fill="none" stroke="#DC9878" stroke-width="3" opacity="0.6" filter="url(#wblur)"/>
<radialGradient id="wg13" cx="0.5" cy="0.5" r="0.5"><stop offset="0" stop-color="#F0BA94"/><stop offset="0.55" stop-color="#F0BA94"/><stop offset="0.95" stop-color="#D28262"/><stop offset="1" stop-color="#D28262" stop-opacity="0.5"/></radialGradient>
<clipPath id="wc13"><ellipse cx="1124.3" cy="872.0" rx="93.0" ry="96.0"/></clipPath>
<ellipse cx="1124.3" cy="872.0" rx="95.5" ry="98.5" fill="url(#wg13)" filter="url(#wblur)"/>
<g clip-path="url(#wc13)">
<g fill="#B3321F" filter="url(#bblur)"><circle cx="1064" cy="932" r="9" opacity="0.9"/><circle cx="1159" cy="832" r="7" opacity="0.7"/><circle cx="1094" cy="817" r="6" opacity="0.7"/><circle cx="1179" cy="902" r="6" opacity="0.7"/><circle cx="1054" cy="867" r="6" opacity="0.7"/><circle cx="1129" cy="897" r="6" opacity="0.7"/><circle cx="1194" cy="842" r="6" opacity="0.7"/><circle cx="1104" cy="887" r="5" opacity="0.6"/><circle cx="1164" cy="942" r="6" opacity="0.7"/><circle cx="1044" cy="907" r="5" opacity="0.6"/><circle cx="1189" cy="862" r="7" opacity="0.7"/><circle cx="1119" cy="792" r="6" opacity="0.6"/></g>
<g stroke="#B3321F" stroke-linecap="round" fill="none" filter="url(#bblur)"><path d="M1078 908h0m81 33h0m-95 -122h0m14 122h0m11 -144h0m96 134h0m-119 -85h0m85 -41h0m-7 111h0m13 -84h0m-122 40h0m151 -55h0m-30 141h0m-28 -3h0m-74 -38h0m73 9h0m69 -77h0m-59 99h0m-55 -34h0m-9 -75h0m-25 92h0m57 7h0m36 -76h0m15 9h0m-38 -75h0m18 -11h0m11 37h0m-52 126h0m7 -165h0m44 32h0m-50 122h0m1 -49h0m25 -12h0m19 -97h0m-23 64h0m-40 -35h0m14 72h0m16 -44h0m84 87h0" stroke-width="5.0" stroke-opacity="0.5"/><path d="M1122 922h0m-54 -46h0m9 -12h0m134 -14h0m-151 58h0m15 -78h0m15 119h0m-20 -34h0m114 -36h0m-98 -88h0m-36 43h0m67 117h0m-47 -31h0m83 -62h0m53 -34h0m-68 31h0m21 -8h0m33 -43h0m-109 84h0m52 64h0m-26 -39h0m76 -51h0m-76 -61h0m25 134h0m-40 -77h0m37 63h0m36 -1h0m-92 -61h0m62 -74h0m-27 -4h0m-1 177h0m-42 -41h0m94 -90h0m-48 -40h0m84 79h0m-88 -54h0m-34 -18h0m10 116h0m23 -35h0m-29 -66h0m41 64h0" stroke-width="5.0" stroke-opacity="0.65"/><path d="M1130 816h0m5 105h0m-66 -26h0m28 22h0m94 -93h0m-123 19h0m19 7h0m33 -3h0m-65 32h0m164 -13h0m-154 20h0m101 19h0m-9 48h0m-49 -19h0m-23 -120h0m-43 36h0m113 63h0m-96 29h0m54 -148h0m-15 128h0m51 37h0m27 -89h0m-92 13h0m-47 -41h0m76 -22h0m-19 99h0m-42 -24h0m9 -57h0m36 111h0m21 -92h0m-10 -48h0m-8 21h0m10 64h0m-5 34h0" stroke-width="5.0" stroke-opacity="0.8"/><path d="M1183 932h0m-17 25h0m17 -18h0m-103 -48h0m123 28h0m-167 -67h0m156 3h0m-70 38h0m20 -69h0m69 16h0m-74 81h0m41 -113h0m-131 94h0m40 -108h0m55 89h0m66 -9h0m-84 89h0m5 -34h0m-41 -67h0m84 -67h0m-55 21h0m66 76h0m-43 -35h0m16 94h0m-29 -137h0m60 125h0m-28 24h0m10 -102h0m20 31h0m-156 -28h0" stroke-width="6.8" stroke-opacity="0.5"/><path d="M1169 799h0m18 121h0m-113 -100h0m-6 122h0m26 -110h0m41 49h0m-91 -15h0m55 72h0m25 27h0m-70 -33h0m38 26h0m36 -20h0m-97 -76h0m132 -4h0m1 0h0m17 34h0m-46 -81h0m46 88h0m-16 -13h0m-38 -79h0m-29 88h0m40 -107h0m-19 120h0m62 12h0m-140 -2h0m44 -34h0m8 -77h0m98 45h0m-123 33h0m-22 1h0m74 6h0m-2 51h0m92 -93h0m-37 -11h0m-39 -5h0" stroke-width="6.8" stroke-opacity="0.65"/><path d="M1189 893h0m-52 -35h0m-39 0h0m-43 49h0m89 -56h0m-101 51h0m9 -69h0m40 -2h0m-55 48h0m58 52h0m52 8h0m-67 -11h0m21 -61h0m40 -33h0m57 37h0m-123 7h0m128 41h0m-15 -11h0m19 -47h0m-163 7h0m70 -14h0m-5 -32h0m62 62h0m-24 -36h0m29 10h0m-7 27h0m-2 9h0m-41 -109h0m-69 145h0m80 -98h0m7 -10h0m-110 75h0m22 -76h0m101 113h0m18 8h0m-109 -55h0m10 57h0m94 -133h0m-17 133h0m-88 -114h0m-8 -11h0m96 138h0m-45 -180h0m6 54h0m91 51h0m-52 -99h0" stroke-width="6.8" stroke-opacity="0.8"/><path d="M1057 818h0m56 -10h0m-5 137h0m-72 -85h0m58 -68h0m47 52h0m-8 -46h0m33 146h0m-82 -20h0m31 -150h0m74 30h0m-15 36h0m9 -23h0m-154 59h0m149 -16h0m13 -55h0m-85 127h0m60 -146h0m0 162h0m-110 -51h0m23 18h0m2 -36h0m-6 -19h0m-13 26h0m103 -21h0m-116 -51h0m56 32h0m15 -59h0m-63 152h0m90 -42h0m46 -35h0m-100 82h0m-15 -113h0m-10 92h0m132 -37h0m-120 -82h0m-11 79h0" stroke-width="8.6" stroke-opacity="0.5"/><path d="M1100 915h0m-58 -15h0m85 -33h0m-49 41h0m43 -25h0m-9 -83h0m56 -5h0m-47 30h0m-82 47h0m112 22h0m33 -22h0m-127 -35h0m12 -32h0m102 -10h0m28 88h0m-29 -19h0m-8 -3h0m-87 -65h0m75 12h0m46 83h0m-25 -33h0m-113 63h0m138 -60h0m-91 -50h0m-35 140h0m96 -153h0m-53 48h0m-24 -55h0m22 -2h0m-1 143h0m-35 -4h0" stroke-width="8.6" stroke-opacity="0.65"/><path d="M1085 859h0m-31 11h0m144 62h0m-58 -42h0m-90 -72h0m-5 105h0m132 -112h0m-79 50h0m15 25h0m-3 10h0m78 19h0m-112 26h0m55 -129h0m12 -27h0m20 146h0m-124 -35h0m89 -20h0m35 11h0m-88 -84h0m49 148h0m-18 -5h0m89 -81h0m-66 -56h0m-85 107h0m96 -7h0m-57 24h0m27 -145h0m66 118h0m-135 -49h0m5 46h0m81 -105h0m-19 9h0m-30 145h0m21 -26h0m97 -49h0m-111 -19h0m-42 -1h0" stroke-width="8.6" stroke-opacity="0.8"/></g>
<path d="M1200 888h0m-41 -79h0m-51 -31h0m-15 39h0m-35 94h0m48 -38h0m79 38h0m-116 10h0m90 -32h0m-34 65h0m18 -169h0m46 118h0m-109 23h0m127 -8h0m-87 19h0m-14 -61h0m46 27h0m-24 -56h0m41 36h0m-101 4h0m48 43h0m59 -56h0m-18 -43h0m-22 138h0m-83 -112h0m59 57h0m-46 -6h0m-21 -7h0m128 -18h0m-92 -38h0m119 19h0m-63 98h0m-15 -28h0m22 3h0m5 -137h0m-76 28h0m-1 62h0m38 -44h0m13 -31h0m33 -24h0m1 53h0m-102 73h0m21 -79h0m7 60h0m109 -20h0m12 -4h0m-69 77h0m-66 -40h0m-18 -27h0m130 -31h0m-24 -71h0m-35 65h0m37 4h0m-3 100h0m-44 -173h0m71 66h0m-89 116h0m12 -160h0m-66 111h0m23 5h0m42 -19h0m67 10h0m-105 35h0m-27 -82h0m80 0h0m35 51h0m-60 7h0m79 -78h0m-69 14h0m-56 31h0m66 -4h0m37 43h0m5 38h0m-43 -81h0m-52 -6h0m66 -31h0m58 -12h0m-45 110h0m-36 -53h0m34 -27h0m55 -35h0m-63 27h0m70 18h0m-150 17h0m73 -85h0m73 130h0m18 -64h0m-158 32h0m133 -75h0m-15 41h0m-71 99h0m74 -30h0m-108 -17h0m-21 5h0m112 -73h0m-20 111h0m19 -131h0m-72 24h0m8 5h0m94 -13h0m20 -14h0m-112 -3h0m82 -36h0m-120 138h0m112 -129h0m-61 -19h0m-25 98h0m49 47h0m-38 -2h0m86 -25h0m-143 -41h0m70 85h0m0 -122h0m-44 90h0m-17 -48h0m82 95h0m-33 -104h0m80 -64h0m-16 37h0m-16 14h0m-84 97h0m128 -98h0m-89 -29h0m-4 40h0m18 -31h0m-35 -19h0m40 50h0m61 -18h0m-110 -30h0m94 -2h0m-31 34h0m38 6h0m19 -24h0m-89 105h0m94 7h0m-36 -63h0m-49 86h0m-17 -101h0m67 26h0m42 -42h0m-15 82h0m-25 36h0m-33 -10h0m2 4h0m51 -139h0m-56 29h0m-13 -11h0m-26 89h0m18 -44h0m-48 -70h0m104 49h0m-24 99h0m-91 -128h0m144 84h0m-8 -106h0m-71 138h0m103 -100h0m-58 116h0m-96 -63h0m29 -17h0m108 -17h0m-145 14h0m89 -46h0m41 4h0m-62 51h0m28 -54h0m55 96h0m-60 -53h0m18 -54h0m-45 -40h0m-77 114h0m91 48h0m21 -21h0m6 -68h0m11 -43h0m46 87h0m-102 12h0m1 -74h0m36 131h0m-8 -16h0m-37 14h0m102 -39h0m-69 -59h0m48 24h0m3 -3h0m-117 -10h0m52 -21h0m13 38h0m-78 -50h0m112 52h0m-66 -54h0m98 28h0m-133 38h0m82 7h0m-71 -49h0m15 -82h0m25 118h0m4 52h0m-37 -42h0m98 7h0m-43 -85h0m-49 -29h0m-40 108h0m97 -67h0m-2 -38h0m39 134h0m-96 -135h0m21 116h0m1 -103h0m33 32h0m44 85h0m-121 -120h0m69 133h0m4 -125h0m-15 81h0m-77 -66h0m124 63h0m23 18h0m-112 -92h0m17 -28h0m22 140h0m57 -124h0m-10 118h0m-126 -90h0m58 40h0m33 -19h0m-17 84h0m-45 5h0m67 -44h0m-56 -7h0m31 -84h0m-4 87h0m50 -39h0m0 -46h0m-63 115h0m-8 -151h0m75 0h0m19 77h0m-58 -14h0m45 70h0m-18 -35h0m-74 1h0m34 -9h0m100 8h0m-29 -15h0m-74 78h0m-36 -20h0m92 -104h0m-105 124h0m140 -82h0m-137 -48h0m72 4h0m-98 82h0m29 -101h0m50 33h0m3 -17h0m6 98h0m-28 -99h0m65 98h0m-68 -23h0m45 -35h0m-26 4h0m-11 1h0m75 37h0m-90 -75h0m40 131h0m-75 -106h0m69 -54h0m-33 136h0m-21 -133h0m82 43h0m-51 95h0m73 -35h0m22 -62h0m-4 98h0m-53 -111h0m-22 103h0m91 -91h0m-54 116h0m-33 -143h0m57 116h0m30 -69h0m-136 9h0m61 9h0m5 11h0m18 -102h0m-124 108h0m70 -10h0m100 21h0m-25 -87h0m-67 35h0m-38 11h0m26 -13h0m-64 25h0m67 -52h0m92 88h0m-119 36h0m131 -29h0m-70 -17h0m81 -24h0m-139 19h0m5 5h0m-27 -93h0m-5 86h0m6 2h0m30 35h0m5 -101h0m64 -49h0m15 160h0m20 -46h0m-141 -39h0m16 60h0m97 -18h0m30 28h0m3 -47h0m-87 66h0m-26 8h0m21 -120h0m-39 92h0m13 -112h0m88 103h0m-80 13h0m72 -64h0m50 41h0m-41 -10h0m-82 2h0m77 61h0m-96 -149h0m127 45h0m-83 21h0m-7 -59h0m-27 138h0m-26 -111h0m114 9h0m-38 56h0m21 53h0m-35 -93h0m75 24h0m-146 -15h0m136 -9h0m-32 67h0m-65 -57h0m69 33h0m-26 -54h0m51 87h0m-75 -118h0m-4 81h0m19 -64h0m25 30h0m18 2h0m-64 89h0m31 -11h0m26 -155h0m-26 48h0m-16 -48h0m8 35h0m-37 100h0m12 -71h0m56 -56h0m-11 121h0m8 -15h0m-14 49h0m-15 -132h0m-27 123h0m80 -30h0m-10 -17h0m-73 47h0m108 -50h0m-31 47h0m-40 -169h0m-31 119h0m121 -64h0m-56 -17h0m-86 113h0m7 -47h0m40 -45h0m29 3h0m-87 -5h0m119 87h0m-109 -28h0m68 -60h0m70 87h0m-62 -84h0m-2 86h0m-16 -21h0m82 18h0m-94 -8h0m105 -42h0m-39 7h0m-134 38h0m144 -12h0m-106 -53h0m-43 66h0m89 -11h0m29 42h0m-113 -73h0m38 71h0m53 7h0m-37 -118h0m93 58h0m-39 0h0m33 -49h0m-38 -57h0m-14 49h0m37 96h0m20 -45h0m-28 -31h0m-107 -31h0m77 136h0m-83 -67h0m142 -46h0m-80 76h0m-20 -140h0m116 73h0m-111 53h0m-44 -53h0m57 -80h0m4 11h0m46 52h0m-43 104h0m-18 -70h0m25 -16h0m74 69h0m-20 -8h0m-78 -48h0m12 -20h0m63 -14h0m-68 -38h0m-37 55h0m127 -31h0m-45 51h0m-60 33h0m-20 -47h0m40 81h0m5 -76h0m-29 68h0m45 -158h0m-90 59h0m113 120h0m-9 -78h0m-32 -36h0m74 60h0m-92 -98h0m-25 3h0m82 33h0m29 62h0m-125 -54h0m129 75h0m-76 39h0m33 -48h0m-54 -106h0m81 47h0m-55 43h0m61 56h0m-29 -22h0m-111 -60h0m71 -70h0m75 11h0m-57 28h0m-34 -47h0m55 12h0m0 45h0m-76 7h0m-27 3h0m-8 -5h0m15 77h0m28 -140h0m37 -5h0m1 181h0m24 -186h0m-20 92h0m13 13h0m13 -32h0m-114 -3h0m63 79h0m2 35h0m-41 -81h0m154 21h0m-179 -45h0m47 85h0m101 -116h0m-21 44h0m33 -11h0m-94 -49h0m-33 61h0m100 -71h0m-15 84h0m-40 -106h0m-5 162h0m-42 -28h0m129 -72h0m-148 -10h0m116 49h0m-17 -79h0m-46 109h0m57 -67h0m-90 28h0m24 -60h0m110 44h0m-127 -19h0m132 2h0m-54 21h0m-81 11h0m23 -41h0m-42 -19h0m8 103h0m35 -9h0m-1 -29h0m82 35h0m-58 -2h0m-49 12h0m131 -56h0m-130 -17h0m89 -15h0m20 -28h0m-90 68h0m64 -23h0m23 33h0m-54 -34h0m-16 89h0m53 -115h0m-18 -10h0m-76 6h0m-27 56h0m33 74h0m60 -150h0m-24 152h0m108 -71h0m-17 26h0m-65 -105h0m-43 25h0m82 89h0m5 -75h0m-82 41h0m57 -94h0m-90 55h0m53 76h0m78 -25h0m-111 57h0m128 -70h0m-55 -45h0m-37 126h0m57 -94h0m-115 41h0m161 -44h0m-16 28h0m-44 -27h0m-38 65h0m28 4h0m-77 -138h0m-8 68h0m18 27h0m126 -48h0m-146 21h0m11 -21h0m137 -15h0m-94 -35h0m63 119h0m-45 25h0m-3 -113h0m22 82h0m-35 8h0m86 -70h0m-3 -15h0m-112 -3h0m-38 48h0m114 -53h0m2 2h0m-64 88h0m38 -50h0m42 38h0m-142 6h0m-3 -5h0m77 -24h0m20 3h0m-71 -35h0m89 98h0m29 -126h0m-35 106h0m-10 -113h0m9 -27h0m-6 111h0m-74 22h0m137 -10h0m-163 -76h0m86 -19h0m30 152h0m-85 -46h0m88 -23h0m-65 50h0m13 -107h0m-15 -26h0m-38 106h0m77 -55h0m2 -26h0m23 50h0m48 23h0m-58 -32h0m-69 -34h0m7 -58h0m3 164h0m1 -114h0m-31 -25h0m90 -17h0m-102 129h0m90 -42h0m-44 -52h0m61 12h0m-76 -39h0m104 138h0m-102 -61h0m20 11h0m93 -2h0m-58 -47h0m19 59h0m-87 41h0m74 -145h0m65 28h0m-25 114h0m-139 -103h0m34 -32h0m0 11h0m-24 118h0m126 -117h0m-100 28h0m-10 60h0m51 -12h0m-51 -28h0m91 -18h0m-13 3h0m-21 -64h0m8 96h0m-53 13h0m134 19h0m-92 -65h0m11 31h0m-72 65h0m128 -118h0m-31 61h0m12 -65h0m-87 -9h0m44 97h0m34 -109h0m-25 114h0m-30 -33h0m111 13h0m-73 12h0m61 -43h0m-88 100h0m17 -125h0m-41 16h0m69 77h0m-92 -22h0m145 -66h0m-138 -33h0m2 -16h0m78 137h0m-96 -68h0m156 20h0m-60 22h0m-96 -96h0m18 128h0m33 -2h0m26 -36h0m61 -26h0m-122 45h0m60 -57h0m1 76h0m-67 11h0m93 6h0m-30 -158h0m31 167h0m32 -42h0m-136 22h0m55 -86h0m39 0h0m-11 9h0m54 -15h0m-86 23h0m10 -19h0m-57 -40h0m11 140h0m113 -155h0m-88 125h0m-1 -41h0m72 -71h0m-92 -13h0m-30 15h0m60 32h0m35 -47h0m-98 22h0m112 123h0m34 -112h0m-10 36h0m17 10h0m-29 4h0m-78 -33h0m-35 48h0m-10 -49h0m28 68h0m99 -51h0m-8 15h0m-42 -34h0m-30 23h0m36 96h0m-58 -100h0m106 -63h0m-126 15h0m68 2h0m88 96h0m-47 -34h0m-35 1h0m-8 46h0m1 -31h0m-44 33h0m30 -20h0m-12 -50h0m64 -44h0m47 11h0m-14 -1h0m-16 -17h0m-28 6h0m-70 77h0m11 -35h0m-30 -25h0m21 8h0m-25 49h0m-17 -37h0m95 68h0m47 -42h0m8 -16h0m6 50h0m-58 9h0m-24 -129h0m-75 89h0m9 38h0m25 -116h0m76 43h0m-70 -21h0m85 138h0m33 -26h0m-150 -20h0m61 -38h0m-22 25h0m50 -69h0m36 26h0m-112 -53h0m154 87h0m-18 -57h0m-80 26h0m6 -60h0m71 71h0m-106 74h0m70 -18h0m-26 -17h0m-46 -102h0m-32 94h0m56 -40h0m-36 22h0m74 -1h0m15 76h0m-23 -141h0m59 -6h0m-92 133h0m-7 -98h0m125 27h0m-22 34h0m-97 -98h0m35 -17h0m-83 70h0m87 21h0m-30 24h0m-34 -92h0m84 100h0m-21 20h0m-12 -2h0m-74 -80h0m53 24h0m-33 45h0m-14 9h0m-15 -113h0m94 126h0m46 -132h0m5 18h0m-70 43h0m38 -31h0m-107 74h0m164 -58h0m-141 60h0m139 -55h0m-110 -20h0m-26 74h0m63 -105h0m47 -17h0m-98 95h0m84 -33h0m-96 37h0m45 -66h0m88 87h0m-93 -67h0m-33 -43h0m12 7h0m-23 -22h0m-19 91h0m69 -69h0m12 151h0m-35 -12h0m32 -22h0m12 -50h0m-10 -95h0m-9 1h0m-40 36h0m105 1h0m-76 99h0m97 -96h0m-110 21h0m57 93h0m-58 -16h0m-62 -47h0m73 68h0m-36 -71h0m40 54h0m-53 -78h0m40 -31h0m89 84h0m-60 -15h0m-13 -98h0m-2 125h0m45 -110h0m-13 73h0m-21 -52h0m7 64h0m-64 -8h0m90 -84h0m-47 65h0m34 -8h0m59 50h0m-49 -53h0m-39 74h0m-30 -33h0m64 -24h0m5 -65h0m-22 160h0m-85 -81h0m105 52h0m-104 -87h0m101 84h0m-33 -71h0m84 59h0m-110 -97h0m75 -39h0m-92 94h0m-6 -18h0m-35 -17h0m62 54h0m9 -122h0m14 49h0m-36 -25h0m83 78h0m-19 50h0m4 -98h0m-28 87h0m1 -66h0m-38 61h0m6 14h0m-51 -74h0m168 -32h0m-70 40h0m-15 39h0m-72 -54h0m119 -58h0m-120 73h0m115 31h0m-108 -54h0m110 -26h0m37 23h0m-90 27h0m-19 80h0m19 -169h0m-82 114h0m136 -66h0m-116 35h0m23 -21h0m12 45h0m67 -3h0m-61 68h0m31 -33h0m15 -25h0m-61 68h0m-28 -86h0m2 44h0m-7 -81h0m9 -4h0m26 31h0m4 67h0m27 -76h0m25 -57h0m39 10h0m-17 -6h0m-21 24h0m53 102h0m-7 -65h0m-25 -40h0m20 -8h0m-81 100h0m6 -56h0m54 -53h0m15 80h0m-109 24h0m35 -27h0m43 -32h0m-35 0h0m-33 49h0m141 -5h0m-21 -19h0m26 -11h0m-118 24h0m56 -46h0m-84 33h0m-8 71h0m-27 -106h0m148 -28h0m23 17h0m-113 110h0m63 -104h0m-56 69h0m54 -112h0m-81 110h0m-17 -69h0m18 43h0m41 18h0m-46 -37h0m97 -56h0m-60 166h0m105 -112h0m-116 9h0m93 -50h0m-70 72h0m-20 -96h0m4 120h0m65 -70h0m38 2h0m-85 63h0m95 -21h0m-74 11h0m-42 16h0m46 -61h0m-97 4h0m87 -67h0m-15 180h0m-70 -95h0m133 -33h0m-38 -20h0m-1 -30h0m-42 35h0m56 120h0m11 -154h0m40 58h0m-59 107h0m-69 -90h0m63 89h0m-41 -155h0m28 141h0m10 -63h0m6 -40h0m-17 55h0m29 -67h0m25 85h0m-99 -12h0m95 -51h0m-38 107h0m3 -82h0m-38 -61h0m67 114h0m-91 -78h0m83 -52h0m-84 96h0m39 -73h0m26 8h0m-77 42h0m42 -86h0m-69 86h0m86 -34h0m-41 16h0m105 0h0m-64 75h0m-53 -46h0m23 -39h0m85 76h0m2 9h0m-114 -32h0m119 -79h0m-26 59h0m-9 47h0m-62 -44h0m32 63h0m-91 -27h0m49 34h0m53 -138h0m-24 53h0m-37 -71h0m6 11h0m109 86h0m-122 44h0m46 -122h0m90 41h0m-17 90h0m-133 -48h0m49 -65h0m87 22h0m-78 15h0m73 -16h0m27 -2h0m-79 73h0m-22 -127h0m30 51h0m-61 4h0m46 33h0m-63 31h0m42 3h0m49 4h0m-68 -111h0m-40 21h0m49 77h0m-26 -32h0m66 -12h0m-12 9h0m-23 71h0m-50 -124h0m97 -35h0m-37 31h0m14 122h0m-15 -52h0m52 -19h0m46 18h0m-115 -96h0m57 163h0m30 -21h0m-75 -14h0m26 -3h0m44 -95h0m-4 113h0m-99 -94h0m13 8h0m-30 64h0m50 52h0m99 -67h0m-124 25h0m-9 -93h0m-7 7h0m61 36h0m-74 69h0m29 -73h0m50 -19h0m-81 73h0m5 5h0m83 -80h0m39 -17h0m-92 87h0m-20 -37h0m143 -22h0m-145 68h0m12 -95h0m-7 38h0m40 -25h0m47 124h0m-35 -100h0m55 12h0m-135 -46h0m175 39h0m-18 -1h0m-25 -29h0m-37 -57h0m-50 34h0m32 10h0m33 113h0m64 -60h0m-26 -66h0m-51 152h0m-8 -3h0m23 -177h0m-10 112h0m41 -86h0m-104 33h0m6 89h0m98 -69h0m-39 -43h0m-68 -9h0m22 35h0m76 93h0m-19 -59h0m-53 87h0m-29 -133h0m85 -35h0m-12 88h0m3 -80h0m37 121h0m-107 -22h0m57 -47h0m-76 69h0m-12 -18h0m47 50h0m19 -87h0m68 4h0m-64 -68h0m94 96h0m-98 21h0m70 -17h0m-94 -89h0m-36 68h0m32 24h0m-53 -59h0m115 -28h0m-116 72h0m74 70h0m-42 -40h0m23 -12h0m-53 -57h0m64 -69h0m-34 68h0m140 31h0m-82 39h0m-3 15h0m94 -64h0m-76 -45h0m-2 75h0m40 44h0m-106 -16h0m10 -52h0m7 -94h0m-32 33h0m94 117h0m3 11h0m-59 -58h0m47 10h0m-41 -115h0m62 161h0m-121 -60h0m151 -74h0m-49 82h0m-5 -67h0m-69 106h0m69 -153h0m48 64h0m12 29h0m-32 -58h0m19 -16h0m-104 135h0m105 -65h0m-26 -45h0m-113 34h0m154 -6h0m-45 15h0m31 54h0m15 -38h0m-75 -91h0m-8 64h0m-16 78h0m65 18h0m-36 -49h0m32 -62h0m-33 106h0m35 -61h0m16 12h0m-90 9h0m-31 -55h0m37 -39h0m-54 102h0m134 3h0m-108 18h0m65 -127h0m-51 48h0m22 29h0m-2 -74h0m38 -21h0m-40 136h0m-18 -134h0m112 99h0m-74 49h0m85 -37h0m-135 -48h0m75 -73h0m14 103h0m-85 -37h0m-9 -23h0m25 110h0m-37 -45h0m158 -26h0m-153 33h0m103 -15h0m-96 -66h0m60 66h0m-16 40h0m-34 23h0m96 -93h0m5 -59h0m-15 113h0m-12 11h0m0 -114h0m33 -3h0m-85 -3h0m103 70h0m-118 -26h0m92 4h0m-87 79h0m24 13h0m39 -46h0m-67 -104h0m-9 13h0m1 9h0m72 20h0m-45 59h0m82 46h0m8 -12h0m-45 -27h0m-12 -72h0m14 -14h0m15 60h0m-77 -60h0m68 63h0m-45 13h0m-33 -2h0m-9 -42h0m-9 -7h0m94 114h0m-80 -14h0m38 -27h0m96 -77h0m-93 115h0m66 -53h0m-18 -51h0m21 46h0m-113 42h0m67 -67h0m-11 69h0m-27 4h0m5 -58h0m-42 27h0m68 -104h0m-3 108h0m-55 -66h0m135 73h0m-66 -13h0m-101 -42h0m65 -10h0m36 -68h0m51 107h0m-55 20h0m-19 -128h0m0 147h0m70 -8h0m-46 -137h0m5 128h0m16 -79h0m-20 26h0m-72 -32h0m128 39h0m-92 -63h0m90 57h0m-57 27h0m22 -97h0m-41 40h0m14 80h0m-97 -3h0m52 -36h0m-4 -39h0m-24 -28h0m96 128h0m-106 -38h0m132 -9h0m-69 -16h0m50 -85h0m19 31h0m-83 -33h0m-25 6h0m67 129h0m67 -88h0m-24 104h0m-29 19h0m-98 -39h0m126 -64h0m-104 52h0m-1 1h0m-38 -19h0m26 -66h0m131 18h0m-44 0h0m36 32h0m-107 72h0m-21 4h0m45 -48h0m70 -72h0m12 -7h0m-124 73h0m126 29h0m-58 -3h0m-99 -56h0m141 57h0m7 -21h0m-58 -16h0m84 -17h0m-114 -46h0m-24 67h0m9 39h0m24 43h0m42 -155h0m24 -23h0m-76 12h0m65 101h0m-7 -11h0m-48 -72h0m-15 119h0m-44 -43h0m25 7h0m64 -80h0m-58 7h0m71 121h0m-11 -63h0m-99 -35h0m117 -44h0m-70 6h0m-3 40h0m2 2h0m92 95h0m14 -149h0m-80 -23h0m6 127h0m-48 -68h0m67 63h0m-34 -49h0m77 -6h0m-103 44h0m72 -100h0m-57 67h0m-8 92h0m-22 -81h0m84 59h0m-29 -47h0m-35 -74h0m76 -23h0m-6 176h0m39 -26h0m-65 -128h0m-67 106h0m112 -4h0m-108 32h0m0 -2h0m6 -107h0m33 128h0m75 -99h0m-64 111h0m-72 -102h0m38 67h0m49 18h0m-20 -20h0m82 -112h0m-73 76h0m-46 -18h0m50 86h0m-6 -3h0m42 -6h0m-90 -45h0m62 -121h0m-62 8h0m67 94h0m17 69h0m-43 -134h0m-46 27h0m52 -59h0m64 137h0m-86 -140h0m26 134h0m-71 -66h0m138 76h0m-40 -143h0m-17 88h0m12 -76h0m-56 98h0m103 -24h0m-97 -5h0m59 -2h0m-31 -41h0m-31 18h0m16 6h0m25 75h0m-14 -119h0m36 61h0m-36 -60h0m-47 97h0m40 -2h0m-17 -81h0m51 86h0m65 -8h0m-173 -17h0m147 -58h0m-103 25h0m80 67h0m-67 -128h0m-39 122h0m64 -99h0m-20 10h0m3 22h0m-50 74h0m148 -56h0m-44 64h0m-45 -55h0m-61 -53h0m82 122h0m45 -126h0m-5 16h0m-45 -35h0m51 79h0m-93 11h0m50 78h0m-45 -45h0m-27 -60h0m23 42h0m74 -72h0m6 3h0m-34 70h0m60 -94h0m-59 60h0m63 42h0m-21 -1h0m-49 -135h0m86 139h0m-149 24h0m110 -94h0m8 -47h0m-58 86h0m-10 -69h0m-40 135h0m82 -67h0m-4 25h0m-65 -3h0m114 -97h0m-48 -29h0m28 12h0m-72 112h0m13 17h0m36 -8h0m-67 -81h0m130 15h0m-117 -27h0m-54 100h0m110 17h0m24 10h0m-58 -28h0m35 -94h0m39 108h0m-38 -56h0m-45 26h0m-6 42h0m37 -80h0m24 -27h0m-113 -10h0m51 134h0m-7 -140h0m-12 110h0m20 -1h0m2 -154h0m48 105h0m37 -27h0m-4 82h0m-122 7h0m154 -79h0m-83 81h0m-30 -13h0m-18 -103h0m-12 -25h0m88 133h0m-35 -22h0m42 20h0m-83 -108h0m39 -39h0m-14 175h0m-19 -104h0m40 103h0m54 -85h0m-100 -84h0m86 71h0m-80 71h0m24 3h0m28 -32h0m-89 7h0m102 40h0m-62 -164h0m48 165h0m-101 -106h0m168 17h0m-97 -32h0m58 46h0m2 -31h0m-86 1h0m58 -16h0m50 42h0m-107 71h0m5 -19h0m59 -80h0m-70 101h0m98 -139h0m-58 0h0m63 86h0m-91 28h0m88 5h0m-3 -129h0m-100 25h0m-13 126h0m9 -5h0m45 -100h0m57 7h0m-109 -16h0m-21 96h0m99 -74h0m39 -42h0m-88 106h0m47 -108h0m-2 -26h0m3 152h0m27 -45h0m-122 -4h0m91 69h0m-5 -13h0m-34 -27h0m52 -118h0m-5 2h0m-106 66h0m156 6h0m-62 -35h0m60 50h0m-54 18h0m-109 -18h0m146 -76h0m-63 -15h0m88 89h0m-114 -28h0m44 80h0m-11 -158h0m55 117h0m-28 -88h0m-55 86h0m-1 23h0m-22 -98h0m18 61h0m49 10h0m-63 -35h0m55 -24h0m-39 36h0m40 -73h0m-20 73h0m-19 -14h0m-53 -14h0m80 -25h0m56 70h0m21 -62h0m-156 65h0m94 -92h0m78 58h0m-109 78h0m42 -129h0m-14 48h0m-28 -44h0m18 76h0m-56 -19h0m-10 -11h0m137 11h0m-115 22h0m49 -19h0m-65 1h0m92 -38h0m-98 87h0m34 -92h0m109 78h0m-101 -10h0m92 -6h0m-13 -46h0m-22 92h0m-44 -15h0m-21 -21h0m117 -67h0m-26 -33h0m-16 89h0m26 -79h0m-87 110h0m-10 -44h0m111 -31h0m-16 39h0m9 -52h0m9 12h0m-76 -28h0m-79 65h0m-3 33h0m126 -46h0m-136 36h0m165 -9h0m-134 49h0m-32 -43h0m81 -124h0m4 108h0m29 -102h0m-3 10h0m-73 99h0m108 0h0m23 -41h0m-83 -63h0m-84 41h0m156 53h0m-121 6h0m-34 -45h0m100 97h0m-2 -68h0m-67 17h0m-3 -7h0m89 -35h0m-60 61h0m49 -84h0m0 14h0m50 52h0m-135 -81h0m104 61h0m-39 14h0m22 71h0m-59 -127h0m13 49h0m25 -92h0m50 164h0m-87 -79h0m81 -38h0m-132 20h0m150 31h0m-34 31h0m-45 -7h0m-65 -69h0m126 28h0m-119 58h0m130 -16h0m-48 -23h0m53 -7h0m20 26h0m-4 -80h0m-160 89h0m136 -111h0m-25 92h0m-76 -64h0m65 -10h0m-5 87h0m-70 -33h0m127 -42h0m-147 4h0m65 21h0m24 48h0m62 -44h0m-71 -11h0m-57 76h0m127 -70h0m-58 -3h0m-85 -15h0m41 44h0m18 -103h0m-45 139h0m13 -28h0m25 -113h0m9 92h0m-48 -9h0m-25 -1h0m116 41h0m-98 -60h0m-19 25h0m122 -38h0m-56 -28h0m86 53h0m-31 -32h0m-118 37h0m54 0h0m69 -12h0m-19 70h0m-81 4h0m35 13h0m-29 -54h0m77 -71h0m-44 160h0m-1 -46h0m14 -40h0m9 -35h0m-21 -16h0m23 118h0m44 -58h0m-84 -11h0m104 40h0m-110 -123h0m0 99h0m88 -67h0m-77 58h0m71 3h0m-87 -53h0m29 42h0m27 57h0m-98 -85h0m69 39h0m46 -74h0" stroke="#CC3E24" stroke-width="1.7" stroke-linecap="round" opacity="0.8" filter="url(#sblur)"/>
<path d="M1059 926h0m65 -72h0m-37 89h0m40 11h0m-59 -3h0m97 -159h0m15 61h0m38 1h0m-113 30h0m83 -14h0m-104 59h0m69 -56h0m-101 54h0m22 24h0m102 -77h0m-3 -30h0m-88 4h0m-47 5h0m26 54h0m109 43h0m-18 2h0m-1 -110h0m-69 7h0m10 97h0m4 5h0m-3 -141h0m102 18h0m-130 118h0m149 -71h0m-34 -66h0m-116 54h0m68 64h0m48 -46h0m-75 16h0m88 -12h0m3 -56h0m-45 -11h0m-32 17h0m-45 13h0m39 95h0m4 -47h0m-35 29h0m4 -134h0m-26 15h0m92 -21h0m-34 46h0m21 52h0m35 -23h0m-36 -35h0m-58 96h0m40 -82h0m-30 122h0m-18 -127h0m21 -17h0m-11 64h0m122 33h0m-116 -45h0m-55 33h0m78 -22h0m-28 48h0m65 -103h0m-32 -15h0m-55 13h0m80 -46h0m-34 129h0m-24 41h0m42 -52h0m-45 49h0m81 -33h0m-46 -88h0m28 -7h0m-65 -17h0m-17 -1h0m-6 143h0m-2 -87h0m40 104h0m-25 -82h0m67 -78h0m67 118h0m-112 -26h0m64 -18h0m-105 41h0m39 -109h0m-26 83h0m23 -94h0m6 32h0m60 117h0m-71 -45h0m107 -81h0m-92 -31h0m119 95h0m-54 16h0m-92 17h0m106 -73h0m-64 -36h0m64 123h0m-32 10h0m-48 -149h0m1 101h0m24 -18h0m-16 -69h0m9 62h0m42 74h0m-107 -106h0m28 73h0m4 13h0m32 -37h0m-5 -31h0m-50 69h0m130 -26h0m-143 18h0m137 -10h0m-96 -113h0m46 29h0m-48 55h0m82 32h0m-40 -53h0m67 -2h0m-29 100h0m-129 -96h0m29 87h0m122 -104h0m-90 -2h0m-33 46h0m12 -26h0m92 91h0m-75 20h0m77 -129h0m-75 -6h0m-6 38h0m3 91h0m83 -109h0m0 -4h0m-121 67h0m19 -67h0m25 51h0m63 44h0m-62 14h0m41 -15h0m-76 -89h0m134 80h0m-71 -38h0m18 -17h0m14 34h0m-69 -45h0m-24 78h0m91 -55h0m-94 -3h0m6 11h0m1 -31h0m140 48h0m-77 -124h0m51 45h0m-136 2h0m141 52h0m-37 -6h0m66 -9h0m-24 33h0m-105 50h0m50 -22h0m1 -67h0m-64 85h0m43 -48h0m16 -17h0m-12 -61h0m1 -7h0m14 141h0m22 -124h0m-6 19h0m27 -42h0m-42 131h0m-62 -89h0m81 -37h0m-57 93h0m-49 3h0m131 34h0m-99 -101h0m-13 10h0m-3 -35h0m-6 2h0m26 -24h0m8 15h0m-32 102h0m-15 -60h0m0 37h0m110 -95h0m-97 96h0m23 -21h0m-31 -32h0m100 6h0m44 24h0m-92 48h0m58 -39h0m40 9h0m-39 52h0m-77 15h0m62 -78h0m24 -29h0m-80 -14h0m15 64h0m-39 21h0m7 -102h0m72 128h0m-40 -81h0m59 4h0m-85 67h0m17 -34h0m50 -20h0m-52 -29h0m55 92h0m-65 -18h0m41 -25h0m-29 22h0m28 25h0m66 -31h0m-150 -58h0m140 16h0m-88 56h0m1 -33h0m7 -47h0m31 -34h0m53 95h0m9 -6h0m-115 -69h0m114 90h0m-61 -55h0m4 -89h0m-85 43h0m131 84h0m0 26h0m-60 18h0m67 -61h0m8 7h0m-111 -27h0m-2 14h0m88 -34h0m22 55h0m10 -14h0m-110 -61h0m-57 6h0m146 55h0m-93 21h0m-46 -71h0m132 -36h0m-53 72h0m62 27h0m-123 -87h0m109 -8h0m-10 1h0m-46 31h0m-36 34h0m34 48h0m-58 -48h0m128 22h0m-149 -38h0m91 -49h0m-18 -7h0m13 -28h0m79 71h0m-121 -63h0m10 113h0m24 -49h0m14 -20h0m-13 -12h0m26 105h0m-52 -14h0m12 54h0m-43 -57h0m5 -19h0m14 -87h0m94 68h0m-50 13h0m-47 -64h0m31 139h0m24 -106h0m-31 19h0m70 -14h0m17 47h0m-37 -114h0m-19 147h0m-48 14h0m32 -108h0m-43 -7h0m-4 -30h0m67 43h0m-84 83h0m114 14h0m12 -88h0m-57 94h0m62 -18h0m12 -110h0m-82 -30h0m84 57h0m-48 34h0m35 -56h0m-133 28h0m152 68h0m-66 43h0m-16 -128h0m41 112h0m-115 -66h0m87 -88h0m-2 -9h0m-60 90h0m122 -41h0m-39 -30h0m-11 -5h0m50 1h0m-75 5h0m-30 26h0m103 67h0m-17 -114h0m-70 19h0m11 -17h0m-79 106h0m54 61h0m-34 -34h0m127 17h0m-64 -132h0m81 20h0m-140 15h0m66 -20h0m5 31h0m-29 -5h0m-23 9h0m137 37h0m-57 -43h0m-53 -5h0m-1 -49h0m9 -20h0m64 41h0m-48 137h0m-9 -126h0m36 19h0m17 17h0m-60 98h0m34 -175h0m-62 172h0m106 -31h0m-104 -35h0m28 37h0m-1 -155h0m-26 63h0m44 -65h0m20 191h0m22 -162h0m-74 55h0m101 22h0m-146 35h0m8 10h0m49 -12h0m-35 -26h0m-6 39h0m46 -25h0m-24 24h0m41 -15h0m22 54h0m17 -21h0m21 -16h0m-19 -82h0m-69 -64h0m-58 146h0m78 -97h0m-17 112h0m59 4h0m-42 -11h0m-1 -94h0m65 26h0m-140 -40h0m135 60h0m-82 -90h0m80 93h0m-58 -106h0m9 107h0m39 -59h0m-45 -58h0m-9 146h0m-42 -104h0m11 50h0m59 -29h0m-14 -8h0m3 -8h0m-91 38h0m140 -15h0m-73 83h0m-33 -74h0m-18 56h0m7 26h0m77 -23h0m13 2h0m-43 -72h0m-20 15h0m78 -1h0m-29 102h0m13 -7h0m-102 -83h0m57 -31h0m0 59h0m21 8h0m-35 58h0m-19 -17h0m3 -43h0m116 -25h0m-128 -28h0m-4 0h0m52 -74h0m-55 154h0m95 21h0m5 1h0m-45 -118h0m62 41h0m-68 23h0m-15 -71h0m56 -19h0m-70 86h0m10 -31h0m88 -26h0m-60 78h0m36 -26h0m-98 -8h0m-22 -11h0m163 1h0m-151 -30h0m110 -8h0m-74 -30h0m-40 34h0m138 62h0m-16 -49h0m-1 81h0m-22 -155h0m-57 129h0m65 13h0m-60 -97h0m93 96h0m-13 31h0m-16 -95h0m25 95h0m-50 -36h0m-24 -95h0m94 103h0m-98 3h0m4 -81h0m0 28h0m-28 38h0m-33 -5h0m46 55h0m-10 -40h0m103 -105h0m-58 -36h0m-89 65h0m145 0h0m-70 85h0m48 -48h0m-31 -37h0m-77 75h0m36 -61h0m1 66h0m17 -5h0m57 9h0m-29 -107h0m-73 26h0m2 12h0m85 -70h0m-86 58h0m-17 16h0m141 69h0m-68 -57h0m-44 74h0m-2 -96h0m83 103h0m-27 -167h0m-30 61h0m-18 -62h0m55 97h0m32 -97h0m-7 88h0m9 -86h0m-76 12h0m104 60h0m-140 37h0m-8 -38h0m101 15h0m-50 -15h0m115 35h0m-148 -25h0m124 69h0m-77 -36h0m2 -22h0m-85 -35h0m58 97h0m6 -103h0m57 -11h0m11 129h0m-84 -21h0m96 -102h0m-128 83h0m28 -48h0m119 41h0m-111 -32h0m3 79h0m9 -126h0m-42 79h0m87 40h0m46 -133h0m-22 -33h0m-84 136h0m19 9h0m64 -128h0m50 99h0m-52 -114h0m-37 68h0m31 -15h0m-113 61h0m102 38h0m7 21h0m-6 -43h0m-26 6h0m-34 -117h0m36 -25h0m5 183h0m-17 -137h0m67 -3h0m-47 16h0m-75 28h0m93 -46h0m-41 146h0m31 -165h0m8 42h0m-53 -29h0m-43 116h0m98 -99h0m-63 89h0m25 -80h0m89 -26h0m-80 4h0m9 75h0m-21 -66h0m-37 108h0m138 -84h0m-141 -12h0m129 -7h0m-48 51h0m-14 40h0m-75 -45h0m92 -1h0m18 13h0m-83 -53h0m15 53h0m85 53h0m-79 -10h0m11 -32h0m86 -10h0m-160 -71h0m110 77h0m-121 -46h0m105 81h0m28 14h0m-64 8h0m-13 -2h0m-3 -73h0m-32 3h0m162 5h0m-143 -9h0m47 21h0m32 42h0m-6 -52h0m-28 -29h0m-68 35h0m141 -13h0m-123 -13h0m22 39h0m88 -9h0m-138 14h0m54 -105h0m72 -5h0m34 78h0m-132 7h0m137 20h0m-89 -7h0m79 6h0m-64 -47h0m-66 20h0m69 29h0m40 -25h0m-23 -20h0m-59 -47h0m-35 9h0m52 49h0m-4 16h0m41 66h0m19 -86h0m32 -1h0m-85 -32h0m12 75h0m-32 -33h0m74 -35h0m-53 21h0m64 -12h0m35 30h0m-112 -47h0" stroke="#B42C1A" stroke-width="2.6" stroke-linecap="round" opacity="0.85" filter="url(#sblur)"/>
</g>
<ellipse cx="1124.3" cy="872.0" rx="93.5" ry="96.5" fill="none" stroke="#D28262" stroke-width="3" opacity="0.6" filter="url(#wblur)"/>
<radialGradient id="wg14" cx="0.5" cy="0.5" r="0.5"><stop offset="0" stop-color="#EEB28C"/><stop offset="0.55" stop-color="#EEB28C"/><stop offset="0.95" stop-color="#CB785A"/><stop offset="1" stop-color="#CB785A" stop-opacity="0.5"/></radialGradient>
<clipPath id="wc14"><ellipse cx="1401.6" cy="872.0" rx="93.0" ry="96.0"/></clipPath>
<ellipse cx="1401.6" cy="872.0" rx="95.5" ry="98.5" fill="url(#wg14)" filter="url(#wblur)"/>
<g clip-path="url(#wc14)">
<g fill="#B3321F" filter="url(#bblur)"><circle cx="1437" cy="932" r="11" opacity="0.9"/><circle cx="1452" cy="927" r="9" opacity="0.9"/><circle cx="1372" cy="937" r="8" opacity="0.8"/><circle cx="1357" cy="832" r="7" opacity="0.7"/><circle cx="1422" cy="842" r="6" opacity="0.7"/><circle cx="1472" cy="872" r="7" opacity="0.8"/><circle cx="1337" cy="882" r="7" opacity="0.7"/><circle cx="1402" cy="797" r="6" opacity="0.7"/><circle cx="1452" cy="817" r="6" opacity="0.7"/><circle cx="1477" cy="932" r="6" opacity="0.7"/><circle cx="1397" cy="897" r="5" opacity="0.6"/><circle cx="1322" cy="852" r="6" opacity="0.7"/><circle cx="1362" cy="792" r="7" opacity="0.6"/></g>
<g stroke="#B3321F" stroke-linecap="round" fill="none" filter="url(#bblur)"><path d="M1495 860h0m-61 -43h0m51 63h0m-27 -46h0m-126 14h0m69 30h0m-10 73h0m-62 -134h0m22 7h0m-2 26h0m105 10h0m-76 18h0m100 -38h0m-115 -33h0m2 -9h0m3 81h0m35 7h0m50 33h0m-33 26h0m25 -8h0m-66 -138h0m82 81h0m-41 18h0m-67 58h0m2 -88h0m75 87h0m54 -132h0m-36 29h0m-51 -14h0m-48 81h0m3 -76h0m30 42h0m30 -108h0m-14 183h0m-12 -82h0m59 -71h0m-95 -7h0m-2 14h0m19 140h0m35 -28h0m90 -40h0m-112 -4h0m20 -2h0m45 -30h0m-130 40h0m24 46h0m43 -131h0m20 101h0m57 25h0" stroke-width="5.0" stroke-opacity="0.5"/><path d="M1493 853h0m-71 92h0m-14 -82h0m-11 -43h0m29 46h0m-70 -72h0m-12 116h0m43 -111h0m5 129h0m-5 -110h0m61 79h0m-52 25h0m10 -14h0m-67 23h0m58 -38h0m-75 27h0m1 -37h0m30 -89h0m1 26h0m48 133h0m87 -93h0m-98 98h0m96 -54h0m-86 -77h0m74 72h0m-144 -15h0m28 -48h0m46 -30h0m32 72h0m-81 -75h0m25 124h0m67 -69h0m-24 56h0m-3 -54h0m43 -5h0m-113 29h0m113 -43h0m-112 -48h0m135 82h0m-119 22h0m-46 -29h0m60 -63h0m39 128h0m-77 -57h0m36 13h0m-45 24h0m61 -90h0m-32 63h0m87 14h0m-100 -25h0m86 87h0m-123 -83h0m13 18h0m140 -3h0" stroke-width="5.0" stroke-opacity="0.65"/><path d="M1338 902h0m61 -42h0m-35 -49h0m39 128h0m-24 -11h0m-24 -82h0m-37 61h0m54 51h0m34 -20h0m-87 -78h0m172 -4h0m-20 11h0m-30 -57h0m-21 -14h0m43 25h0m-54 101h0m-91 -74h0m74 -27h0m-10 -1h0m59 10h0m2 33h0m-73 23h0m90 9h0m-50 -117h0m-42 4h0m17 165h0m-22 -2h0m30 -23h0m40 -35h0m-17 51h0m-39 -68h0m18 100h0m47 -139h0m54 34h0m-74 77h0m19 -148h0m-84 69h0m124 59h0m-48 -61h0m-43 18h0m73 -42h0m-87 113h0m61 -39h0m-19 -9h0m44 -78h0m-71 -16h0" stroke-width="5.0" stroke-opacity="0.8"/><path d="M1358 824h0m49 -32h0m-52 58h0m134 31h0m-93 -41h0m49 -38h0m-71 155h0m-59 -103h0m73 113h0m-8 -75h0m46 45h0m-39 -128h0m91 75h0m-85 30h0m52 23h0m-129 -82h0m-2 -17h0m70 109h0m23 -111h0m-25 -39h0m47 21h0m-105 48h0m-12 19h0m131 -19h0m-10 -68h0m-34 171h0m11 -95h0m-79 -52h0m115 113h0m-33 -123h0m-18 3h0m42 36h0m-83 34h0" stroke-width="6.8" stroke-opacity="0.5"/><path d="M1327 912h0m104 47h0m-75 -27h0m-8 -1h0m54 -137h0m46 2h0m-50 113h0m75 -83h0m-119 66h0m100 -57h0m-62 46h0m-15 29h0m-4 -38h0m46 80h0m34 -28h0m-34 -110h0m-101 91h0m109 -124h0m-23 147h0m9 33h0m-63 -28h0m22 -111h0m25 99h0m-17 -76h0m-17 112h0m90 -120h0m-18 2h0m-48 42h0m35 -32h0m-64 46h0m-31 -40h0m12 -2h0m121 93h0m29 -81h0m-44 -50h0m-61 33h0m-70 19h0m124 -51h0m-67 -16h0m18 31h0m74 75h0m-72 -126h0m-56 147h0m61 -37h0m9 -4h0m3 -54h0m49 32h0m-95 3h0m97 40h0m-131 -57h0m-3 -8h0m23 -16h0" stroke-width="6.8" stroke-opacity="0.65"/><path d="M1446 903h0m-19 -100h0m46 72h0m-130 -12h0m143 -6h0m8 32h0m-117 73h0m-4 -119h0m-23 108h0m142 -106h0m-100 -69h0m-20 160h0m30 24h0m-4 1h0m-23 -18h0m-49 -74h0m36 13h0m49 -14h0m48 -59h0m-100 148h0m-30 -137h0m87 -33h0m-57 79h0m8 -57h0m83 25h0m-71 115h0m3 -76h0m-47 54h0m114 -108h0" stroke-width="6.8" stroke-opacity="0.8"/><path d="M1364 908h0m18 19h0m-53 -110h0m90 81h0m-44 -75h0m106 8h0m-68 60h0m-56 -25h0m116 71h0m-119 -29h0m62 22h0m-3 -151h0m17 147h0m-31 -27h0m-3 -49h0m-38 13h0m82 97h0m28 -104h0m-32 72h0m-39 -146h0m-56 148h0m37 11h0m65 -44h0m-65 -58h0m94 -26h0m-13 31h0m-99 -49h0m101 34h0m-116 8h0m27 26h0m30 8h0m69 36h0m-77 31h0m39 -105h0m-29 -18h0m-45 25h0" stroke-width="8.6" stroke-opacity="0.5"/><path d="M1437 795h0m3 91h0m-68 0h0m113 -61h0m-125 133h0m92 -112h0m29 48h0m-148 -70h0m97 79h0m-43 5h0m48 1h0m29 -74h0m-105 117h0m49 -148h0m61 79h0m-143 -16h0m84 44h0m-58 -13h0m28 -49h0m-56 9h0m104 -64h0m-24 134h0m-44 -97h0m103 78h0m-27 -105h0m-92 66h0m96 17h0m0 -25h0m-95 6h0m63 97h0m-68 -135h0m15 71h0m54 29h0m62 -55h0m-27 -6h0m-27 -5h0m-21 -4h0m10 -61h0m69 121h0m-126 -110h0m76 -1h0" stroke-width="8.6" stroke-opacity="0.65"/><path d="M1478 844h0m-67 60h0m-81 -64h0m90 -48h0m-76 27h0m32 30h0m-27 -47h0m83 81h0m-50 -22h0m-2 15h0m90 -54h0m-130 77h0m-29 -26h0m54 -20h0m8 82h0m-29 -5h0m146 -73h0m-126 -35h0m-19 -6h0m87 19h0m-4 -56h0m-41 52h0m-26 40h0m42 -57h0m92 60h0m-175 48h0m93 41h0m59 -147h0m-113 39h0m131 30h0m-182 -9h0m151 -6h0m-113 -17h0m1 56h0m129 -91h0m-97 0h0m-29 -19h0m-2 64h0m92 -73h0m-82 53h0" stroke-width="8.6" stroke-opacity="0.8"/></g>
<path d="M1441 827h0m16 -15h0m24 66h0m-91 -91h0m-41 48h0m26 79h0m-5 50h0m-52 -82h0m44 -92h0m75 151h0m-55 -65h0m29 7h0m-13 41h0m-88 -46h0m97 90h0m-45 -117h0m95 58h0m-57 -8h0m-50 47h0m28 -150h0m21 19h0m-21 11h0m-31 104h0m46 -23h0m-38 39h0m65 -122h0m-22 35h0m-2 7h0m81 -42h0m-86 12h0m33 -61h0m18 149h0m-78 32h0m67 -26h0m-119 -42h0m58 -93h0m79 86h0m-2 60h0m-78 -63h0m-44 -49h0m112 65h0m-56 -106h0m50 161h0m59 -63h0m-68 61h0m22 -15h0m-38 21h0m-89 -77h0m168 -4h0m-171 -31h0m32 47h0m135 11h0m-60 -54h0m58 42h0m-111 -75h0m8 151h0m-21 -51h0m44 -133h0m-65 64h0m100 -30h0m-4 -27h0m12 71h0m-64 -49h0m53 46h0m28 49h0m2 0h0m-83 -62h0m85 -17h0m-125 7h0m13 -16h0m26 145h0m45 -112h0m-51 95h0m13 -115h0m-16 101h0m77 6h0m-109 -32h0m143 24h0m-64 -134h0m38 152h0m-24 -11h0m15 -114h0m41 69h0m-175 -4h0m139 -23h0m-65 37h0m10 0h0m-24 -68h0m86 -7h0m-148 41h0m60 -86h0m-43 38h0m-10 38h0m128 52h0m28 -35h0m-21 -31h0m-138 28h0m168 -30h0m-101 33h0m34 24h0m-12 -61h0m71 17h0m12 31h0m-150 -28h0m125 23h0m-21 -83h0m-5 155h0m-114 -98h0m84 32h0m-15 15h0m50 56h0m-102 -145h0m8 8h0m55 86h0m-31 45h0m26 -139h0m-2 109h0m72 -3h0m-97 21h0m108 -65h0m-25 -30h0m-102 49h0m34 -108h0m23 47h0m39 105h0m-69 14h0m-23 -146h0m50 8h0m-47 -3h0m83 -28h0m-99 26h0m21 64h0m2 -55h0m23 3h0m-41 93h0m109 27h0m-121 -27h0m102 -8h0m-12 18h0m-71 -129h0m5 113h0m33 -101h0m80 23h0m-68 102h0m6 -47h0m-66 -13h0m57 -63h0m65 94h0m-62 25h0m5 -85h0m-21 -18h0m8 -17h0m3 96h0m-19 -74h0m8 38h0m20 -81h0m-51 38h0m-23 49h0m146 -53h0m-166 26h0m182 5h0m-67 -43h0m-46 150h0m-18 -27h0m119 -63h0m-49 -87h0m-104 123h0m18 -34h0m10 31h0m74 14h0m-65 -61h0m45 -19h0m-79 25h0m98 72h0m-53 -131h0m31 123h0m-7 -39h0m-4 37h0m-16 -62h0m48 20h0m-16 -105h0m-72 76h0m45 0h0m-52 7h0m103 -28h0m33 41h0m-37 -18h0m22 80h0m-143 -46h0m137 55h0m10 -140h0m-94 104h0m35 -92h0m-58 73h0m111 67h0m10 -32h0m-101 -28h0m62 37h0m-79 -82h0m151 16h0m-103 99h0m-41 -146h0m82 -24h0m-75 31h0m31 100h0m43 -89h0m32 56h0m-41 -40h0m-53 59h0m-55 -31h0m53 -81h0m-20 28h0m49 -32h0m49 64h0m-96 -11h0m-21 9h0m40 13h0m-41 -9h0m79 37h0m-81 -40h0m169 20h0m-121 59h0m-45 -61h0m64 -43h0m75 -25h0m-143 106h0m11 -26h0m93 -13h0m-43 -88h0m2 170h0m48 -36h0m-2 -140h0m-121 93h0m98 29h0m39 -26h0m3 21h0m21 28h0m-156 -74h0m80 52h0m61 -39h0m-45 98h0m-99 -112h0m152 4h0m-68 105h0m28 -3h0m-64 -75h0m61 49h0m-7 -35h0m-88 -47h0m-12 11h0m155 -11h0m-85 -67h0m69 170h0m-26 -119h0m-28 56h0m-56 8h0m62 -70h0m-91 16h0m77 32h0m16 -72h0m-43 146h0m86 -67h0m-49 -11h0m45 -27h0m-61 -14h0m4 -6h0m-17 83h0m-19 -105h0m-39 52h0m135 87h0m43 -87h0m-159 83h0m146 -76h0m-17 -19h0m-8 77h0m-103 -127h0m-23 59h0m22 86h0m79 -31h0m-71 40h0m-35 -110h0m117 -12h0m-114 104h0m26 -18h0m18 -87h0m-9 -10h0m58 51h0m-41 -74h0m-10 122h0m53 -52h0m46 -33h0m-55 -6h0m-29 36h0m92 34h0m-124 38h0m32 -14h0m21 -14h0m60 -77h0m-107 110h0m-48 -85h0m32 -10h0m139 61h0m-71 25h0m63 -35h0m-139 35h0m-13 -15h0m127 -71h0m-108 -21h0m13 93h0m90 25h0m-69 6h0m61 -74h0m-28 -30h0m8 10h0m-87 6h0m165 6h0m-96 -78h0m15 134h0m-59 -76h0m30 66h0m49 -86h0m-18 -40h0m27 21h0m-18 11h0m-52 34h0m-1 -59h0m-17 65h0m96 5h0m-10 9h0m0 -27h0m-35 -19h0m-26 -32h0m-49 129h0m158 -59h0m-42 0h0m17 88h0m11 -120h0m-68 85h0m-12 -87h0m20 -9h0m-39 -8h0m-60 78h0m96 84h0m-30 -184h0m-22 109h0m-40 -57h0m142 86h0m-6 -28h0m-101 -103h0m19 97h0m12 14h0m-15 -94h0m-20 29h0m-19 -26h0m74 -10h0m-86 43h0m-7 30h0m21 22h0m44 31h0m31 -4h0m-65 4h0m72 -65h0m-8 -63h0m-43 137h0m8 -58h0m-27 -47h0m-19 49h0m114 65h0m-2 -19h0m-126 -52h0m61 28h0m-52 -62h0m111 -20h0m29 80h0m-18 -97h0m28 40h0m-120 31h0m31 19h0m32 -92h0m56 90h0m-140 -23h0m22 -80h0m50 118h0m39 -8h0m-76 -49h0m32 63h0m20 16h0m-29 -142h0m-5 142h0m32 -110h0m-74 48h0m113 -50h0m-117 28h0m60 -42h0m-75 106h0m38 -53h0m39 50h0m-75 -20h0m127 5h0m-105 -51h0m0 8h0m139 11h0m-16 -53h0m1 93h0m5 -45h0m-16 19h0m-123 -23h0m107 16h0m-27 44h0m-44 36h0m43 -32h0m24 44h0m-69 -53h0m0 52h0m54 -49h0m14 31h0m-112 -73h0m78 73h0m75 -88h0m-133 46h0m112 -8h0m-124 -44h0m87 121h0m33 -81h0m25 7h0m-125 -101h0m139 59h0m-161 -3h0m143 75h0m-39 39h0m-21 -125h0m-87 95h0m60 -7h0m22 -125h0m-22 19h0m28 87h0m-15 -11h0m42 2h0m-46 48h0m-44 2h0m28 -20h0m110 -58h0m-31 8h0m-12 12h0m-15 -34h0m-29 3h0m-4 -25h0m22 102h0m-61 -62h0m113 40h0m-157 -83h0m83 71h0m3 -94h0m32 -21h0m-110 42h0m116 95h0m-83 -138h0m30 163h0m-44 -92h0m79 -44h0m-28 117h0m-51 -25h0m68 -71h0m56 -27h0m-72 47h0m4 -64h0m-62 153h0m132 -79h0m-58 -58h0m-77 31h0m68 100h0m22 20h0m-11 -57h0m59 -77h0m-10 104h0m-4 13h0m-8 -38h0m-107 -76h0m41 103h0m26 -49h0m-35 -60h0m-31 51h0m50 92h0m-63 -54h0m6 -69h0m95 46h0m-57 54h0m64 -117h0m-11 9h0m52 26h0m-132 -25h0m84 -16h0m-60 32h0m-49 42h0m170 -11h0m-71 -39h0m-21 72h0m-31 35h0m59 -58h0m20 40h0m24 -11h0m-43 -95h0m-46 10h0m88 91h0m-122 -75h0m115 48h0m-74 -49h0m-19 110h0m38 -123h0m-75 69h0m112 50h0m-48 -107h0m-19 -28h0m91 10h0m-75 26h0m-69 26h0m66 65h0m-36 -35h0m51 -2h0m42 47h0m-40 7h0m-10 -103h0m37 24h0m19 -49h0m-18 -47h0m14 96h0m-47 83h0m-55 -68h0m86 40h0m-26 26h0m44 -34h0m-144 -23h0m43 -1h0m8 -89h0m-30 83h0m86 12h0m38 -20h0m-138 -45h0m153 42h0m-70 57h0m-82 -117h0m16 52h0m6 60h0m116 -66h0m-93 -11h0m99 57h0m-33 -129h0m-101 68h0m103 3h0m-67 -67h0m1 56h0m95 -54h0m-134 87h0m-10 -40h0m130 66h0m-5 -17h0m24 -34h0m-44 -25h0m19 106h0m-43 -44h0m29 -63h0m4 52h0m38 -6h0m-87 82h0m77 -108h0m-124 33h0m12 -1h0m-10 -69h0m-12 84h0m69 -36h0m19 -34h0m-19 137h0m-51 -104h0m129 -10h0m-61 14h0m-27 18h0m14 -20h0m75 50h0m-111 -22h0m43 -111h0m87 66h0m-128 -16h0m35 120h0m-71 -124h0m46 13h0m83 -23h0m-105 120h0m-12 -48h0m10 -33h0m16 55h0m46 -138h0m-17 6h0m-5 1h0m63 55h0m-86 -33h0m59 -25h0m51 35h0m-32 3h0m-129 45h0m24 -20h0m124 -9h0m-60 88h0m77 -44h0m-169 29h0m105 -49h0m38 -26h0m-2 75h0m-102 -69h0m-1 118h0m32 -131h0m71 -14h0m-109 24h0m24 58h0m-14 -43h0m33 120h0m6 -105h0m-2 20h0m-36 -2h0m141 -10h0m-23 -16h0m-65 77h0m-29 -145h0m57 10h0m21 76h0m-62 7h0m0 16h0m-7 -44h0m-40 87h0m53 -73h0m11 11h0m-6 -35h0m20 88h0m-93 -16h0m83 -46h0m-37 26h0m-31 45h0m-27 -122h0m63 141h0m3 -109h0m97 70h0m-10 -62h0m-16 32h0m-91 -10h0m102 -54h0m-56 96h0m12 18h0m13 -35h0m-103 -72h0m93 -49h0m-11 52h0m-73 103h0m-12 -80h0m131 -57h0m-13 -10h0m-4 17h0m-13 91h0m-17 0h0m-2 -111h0m21 150h0m-12 -62h0m-6 -75h0m-111 61h0m50 -76h0m37 86h0m7 -68h0m-23 12h0m38 30h0m-14 -65h0m-55 156h0m54 -27h0m-11 12h0m-65 -75h0m66 14h0m7 21h0m-21 64h0m-20 -101h0m61 90h0m-93 -78h0m42 66h0m3 -3h0m80 -17h0m-83 -6h0m59 47h0m-66 -56h0m-19 -84h0m10 -10h0m70 55h0m-34 50h0m41 -76h0m24 58h0m-109 43h0m43 -122h0m-9 113h0m65 -102h0m-92 21h0m102 61h0m-88 -100h0m14 -6h0m111 90h0m-128 -68h0m-18 40h0m120 48h0m-79 -98h0m14 157h0m36 -79h0m45 -54h0m-22 123h0m-63 -108h0m88 66h0m-29 -41h0m20 -41h0m-73 92h0m6 -14h0m25 60h0m-110 -42h0m29 21h0m71 -33h0m-24 -17h0m49 50h0m0 -77h0m6 22h0m-67 53h0m0 -91h0m-43 17h0m28 84h0m46 -167h0m7 70h0m-37 47h0m56 -46h0m-28 106h0m16 -125h0m-102 15h0m23 55h0m87 -40h0m30 57h0m-154 -18h0m58 16h0m60 -113h0m46 116h0m-150 -112h0m112 32h0m-41 -63h0m-12 59h0m-37 99h0m89 -7h0m0 -80h0m-21 13h0m-46 92h0m56 -43h0m46 -57h0m-55 -73h0m-7 12h0m74 103h0m-103 -102h0m61 81h0m-13 -34h0m-22 87h0m-71 -20h0m143 -41h0m-116 39h0m47 -120h0m-39 171h0m18 -89h0m8 -53h0m26 53h0m34 -51h0m-50 148h0m31 -20h0m-71 -106h0m122 16h0m-9 13h0m-81 -6h0m-19 14h0m23 12h0m-74 -55h0m22 -12h0m47 110h0m-11 -65h0m56 8h0m-80 87h0m39 -184h0m-83 138h0m40 -121h0m70 60h0m-37 31h0m46 -10h0m39 -4h0m-36 73h0m-76 -102h0m74 -54h0m31 83h0m-28 -74h0m11 94h0m-120 -84h0m-10 69h0m17 -7h0m-16 -39h0m11 57h0m70 -59h0m-74 0h0m84 108h0m-70 -94h0m34 79h0m21 23h0m-78 -128h0m75 -13h0m66 110h0m-127 -104h0m68 40h0m41 17h0m-48 19h0m86 -27h0m-127 5h0m60 -72h0m-87 131h0m77 -49h0m-11 -76h0m42 156h0m-61 -100h0m-48 -39h0m14 51h0m61 -78h0m-11 -3h0m80 98h0m-65 -44h0m-15 92h0m-80 -93h0m130 -34h0m-105 37h0m94 111h0m-84 -150h0m143 69h0m-127 0h0m-39 6h0m-13 -30h0m17 13h0m22 29h0m87 -48h0m26 102h0m-25 -133h0m-30 88h0m-12 -87h0m87 35h0m-76 9h0m33 36h0m-79 35h0m6 -70h0m-1 100h0m27 -89h0m20 53h0m51 -51h0m-40 -41h0m-58 46h0m-18 -67h0m53 73h0m-13 80h0m83 -102h0m-84 3h0m43 -11h0m-54 58h0m-11 48h0m-12 -14h0m52 -30h0m-6 -104h0m-76 39h0m160 54h0m-66 -34h0m-57 40h0m61 -26h0m5 18h0m53 -10h0m-71 70h0m56 -44h0m-33 -92h0m-8 -26h0m-23 120h0m-77 -6h0m56 56h0m24 -171h0m-30 77h0m54 -49h0m-39 -48h0m-30 32h0m4 122h0m-42 -100h0m95 -30h0m3 108h0m18 -36h0m-53 -39h0m26 -43h0m-43 12h0m51 85h0m-93 -9h0m90 -63h0m-50 28h0m28 108h0m59 -40h0m-126 -91h0m109 -16h0m-37 158h0m-62 -48h0m137 -23h0m-108 6h0m-4 35h0m54 -55h0m40 -34h0m-83 -61h0m63 75h0m-70 97h0m-42 -60h0m107 -41h0m-66 84h0m71 -137h0m-129 68h0m76 -12h0m13 -2h0m69 53h0m-53 -78h0m16 97h0m-41 -74h0m91 22h0m-26 10h0m-121 -17h0m105 -75h0m-47 129h0m30 -144h0m-82 100h0m30 17h0m-29 35h0m103 11h0m-132 -71h0m107 -81h0m-35 171h0m31 -18h0m24 -111h0m3 112h0m-52 -120h0m-33 8h0m4 92h0m-21 -32h0m107 -54h0m-130 48h0m113 10h0m67 -1h0m-132 5h0m126 -27h0m-12 5h0m-4 -67h0m-51 44h0m-80 17h0m92 63h0m29 -41h0m29 -45h0m-109 -25h0m71 6h0m11 31h0m-69 -21h0m62 10h0m-74 48h0m-17 -66h0m5 -29h0m2 86h0m-60 -12h0m150 -73h0m-52 81h0m-56 -55h0m112 3h0m-86 11h0m-25 48h0m-35 25h0m33 -18h0m25 57h0m-5 -166h0m42 98h0m-24 -39h0m-27 3h0m46 56h0m-57 45h0m85 -37h0m49 -38h0m-57 -95h0m-83 80h0m38 -29h0m97 55h0m-112 39h0m-9 -113h0m57 -16h0m28 -9h0m-30 106h0m47 33h0m-20 26h0m43 -64h0m-127 -15h0m56 -45h0m-65 22h0m8 -35h0m132 50h0m-123 -47h0m-18 -24h0m-36 70h0m87 -52h0m46 33h0m-84 80h0m65 -121h0m-17 127h0m-96 -61h0m136 30h0m40 -4h0m-134 -61h0m139 46h0m-51 27h0m-53 8h0m-12 -41h0m53 54h0m39 -89h0m-22 -54h0m-104 102h0m72 -106h0m20 135h0m-64 -42h0m43 50h0m-44 3h0m17 -7h0m30 32h0m-12 -81h0m57 -50h0m-41 0h0m-81 -29h0m13 119h0m43 -112h0m-39 63h0m91 56h0m-112 -1h0m112 -86h0m41 43h0m-78 54h0m13 -22h0m-49 1h0m29 -98h0m-63 93h0m141 -24h0m-57 7h0m-91 52h0m50 -18h0m13 -119h0m-4 50h0m-29 75h0m69 -111h0m-68 -9h0m13 49h0m-38 22h0m90 23h0m4 61h0m25 -156h0m-39 -26h0m-24 94h0m58 24h0m2 -70h0m5 -15h0m-132 69h0m51 -66h0m74 21h0m39 45h0m-41 -83h0m-29 135h0m-90 -87h0m74 57h0m-32 -37h0m-58 2h0m109 28h0m-108 -28h0m16 35h0m-16 -14h0m100 48h0m26 -99h0m-42 94h0m-23 -35h0m61 33h0m4 -55h0m-108 53h0m79 7h0m-41 -110h0m-50 74h0m24 -112h0m104 88h0m-28 -19h0m6 59h0m-53 -137h0m41 108h0m-69 -75h0m72 -4h0m-87 75h0m51 -39h0m39 88h0m-33 -52h0m-4 8h0m-32 34h0m74 18h0m-55 -39h0m109 -51h0m-5 16h0m12 7h0m-71 54h0m-35 -32h0m-32 -78h0m58 -42h0m-51 12h0m-11 91h0m91 59h0m-35 -90h0m-16 31h0m19 -65h0m-86 61h0m55 63h0m20 -80h0m28 32h0m-9 66h0m31 -9h0m-34 -25h0m72 -83h0m-64 53h0m42 20h0m12 -38h0m-80 23h0m58 -104h0m-9 56h0m41 0h0m-21 25h0m-52 -83h0m-56 16h0m69 147h0m38 -50h0m-145 -12h0m173 -26h0m-153 -42h0m89 86h0m-55 38h0m102 -56h0m-22 -51h0m-100 -11h0m121 94h0m-38 -138h0m-69 58h0m16 -16h0m12 -41h0m8 14h0m5 -22h0m24 63h0m-10 115h0m32 -119h0m-88 92h0m52 -65h0m23 55h0m-38 -145h0m-1 148h0m39 -26h0m-33 -47h0m-83 34h0m122 -33h0m34 48h0m-39 -27h0m-58 -29h0m0 -44h0m47 11h0m-69 98h0m107 23h0m-1 -92h0m-36 22h0m44 58h0m-21 33h0m-117 -82h0m89 23h0m-83 12h0m118 -73h0m-116 -41h0m85 98h0m-9 70h0m-7 -139h0m-55 17h0m83 42h0m-58 -76h0m-64 113h0m137 23h0m-38 26h0m-62 -158h0m12 64h0m-59 7h0m122 -47h0m-18 -31h0m-96 61h0m119 -30h0m-102 28h0m-14 29h0m72 58h0m-55 -76h0m61 -58h0m-71 77h0m62 -43h0m16 116h0m-69 -155h0m44 -22h0m-13 29h0m17 77h0m0 -81h0m36 10h0m20 13h0m-97 13h0m87 -24h0m34 116h0m-101 -110h0m77 73h0m-118 -52h0m16 -46h0m115 28h0m21 61h0m-4 4h0m-41 -67h0m-54 122h0m-52 -112h0m49 96h0m33 -85h0m64 65h0m10 1h0m-47 -61h0m-5 91h0m-10 -34h0m-4 -100h0m-7 127h0m80 -29h0m-101 47h0m-19 -76h0m54 -11h0m-61 42h0m84 -3h0m-106 -59h0m24 83h0m10 -88h0m120 15h0m-145 27h0m27 29h0m42 29h0m29 -48h0m-55 60h0m-26 -100h0m19 91h0m0 -42h0m43 -94h0m12 30h0m-47 25h0m85 54h0m-77 -70h0m-11 -25h0m47 117h0m10 -44h0m-38 -47h0m29 59h0m-106 -25h0m17 -26h0m92 -39h0m0 138h0m-65 -150h0m15 75h0m16 86h0m-69 -83h0m158 -14h0m-54 -13h0m-52 81h0m-29 -35h0m92 -108h0m-24 4h0m-44 16h0m90 37h0m-156 40h0m74 47h0m102 -82h0m-85 73h0m35 -93h0m8 -2h0m35 18h0m-86 -10h0m-36 61h0m-15 -97h0m54 32h0m-33 -28h0m79 -4h0m-103 131h0m108 -37h0m-97 13h0m65 -37h0m12 78h0m7 -141h0m-10 101h0m-38 31h0m-5 -30h0m92 -46h0m-58 37h0m63 -14h0m-94 -47h0m-32 69h0m-1 -120h0m17 13h0m63 33h0m-35 -29h0m-8 116h0m-18 -54h0m24 46h0m-25 -27h0m-56 -1h0m3 -8h0m89 22h0m-51 -13h0m56 -69h0m-8 130h0m-73 -130h0m20 42h0m-43 40h0m43 -112h0m59 27h0m-3 122h0m-27 -136h0m96 76h0m-146 -76h0m31 81h0m42 -1h0m19 37h0m-64 -74h0m127 -6h0m-120 23h0m62 -61h0m-38 -24h0m-55 109h0m144 -30h0m-31 63h0m-46 -42h0m14 20h0m-72 28h0m81 10h0m-38 -122h0m29 120h0m19 -80h0m-58 -8h0m50 100h0m6 -78h0m-44 -34h0m58 45h0m-69 -8h0m93 33h0m-123 -23h0m9 -18h0m114 1h0m-100 -5h0m57 -61h0m-19 125h0m-2 -108h0m-93 95h0m83 -115h0m-15 105h0m-7 45h0m67 -88h0m-11 62h0m-121 -70h0m78 54h0m51 -106h0m-118 108h0m65 54h0m49 -61h0m55 -32h0m-166 -49h0m141 47h0m-107 -3h0m27 -47h0m92 62h0m-78 53h0m-35 -20h0m-17 19h0m121 -109h0m-25 124h0m-36 -60h0m54 -88h0m-120 71h0m72 -24h0m8 37h0m-75 -39h0m62 -39h0m-5 -30h0m4 61h0m52 30h0m-76 74h0m0 -29h0m-50 -60h0m1 47h0m106 -77h0m-25 121h0m14 -148h0m-74 90h0m-21 -74h0m112 140h0m36 -91h0m-154 79h0m122 -39h0m27 -73h0m-3 -7h0m-130 5h0m-32 20h0m152 -39h0m-144 92h0m140 -29h0m-17 -55h0m14 21h0m-20 113h0m-1 -87h0m-97 -27h0m91 -18h0m26 -8h0m-132 27h0m8 -35h0m91 65h0m8 26h0m12 34h0m-22 -52h0m7 81h0m-46 -156h0m-40 137h0m11 -5h0m77 -19h0m6 3h0m-22 8h0m-68 -73h0m107 90h0m0 -66h0m-79 -5h0m105 -38h0m-71 85h0m-66 -124h0m69 42h0m-70 107h0m95 -67h0m-69 13h0m-32 54h0m106 -37h0m-106 -71h0m42 117h0m95 -70h0m-93 77h0m-8 -70h0m85 -19h0m20 -16h0m-100 -63h0m-69 62h0m84 -75h0m-84 91h0m160 -4h0m-128 2h0m9 57h0m103 16h0m11 -135h0m-100 157h0m104 -42h0m-87 47h0m-78 -105h0m96 -39h0m3 -8h0m29 40h0m-50 -28h0m87 22h0m-94 -35h0m-65 55h0m148 20h0m-84 35h0m82 -94h0m-18 2h0m-56 -54h0m-5 176h0m-47 -45h0m96 -109h0m59 84h0m-94 -37h0m-41 -10h0m-32 18h0m145 -33h0m-72 -35h0m25 164h0m-44 -13h0m15 -46h0m56 24h0m32 -74h0m-133 -26h0m89 71h0m-113 -62h0m10 87h0m137 -49h0m-55 -66h0m59 19h0m-18 99h0m-58 -56h0m-55 -38h0m81 124h0m34 -87h0m-34 -75h0m11 182h0m5 -25h0m-49 -116h0m7 69h0m-63 -19h0m73 42h0m-58 36h0m43 -109h0m-14 -20h0m9 73h0m-10 -47h0m59 -48h0m-32 131h0m-3 -92h0m41 17h0m45 35h0m-66 -55h0m35 38h0m-27 -79h0m6 5h0m-38 -26h0m23 88h0m-47 -51h0m108 81h0m-117 50h0m56 -84h0m-29 9h0m101 11h0m-134 81h0m-37 -49h0m81 44h0m-43 -145h0m117 45h0m9 59h0m-130 -12h0m70 -36h0m-109 -13h0m130 -1h0m-77 79h0m75 -74h0m27 49h0m-84 -21h0m94 -68h0m-35 87h0m-106 -27h0m136 10h0m-49 -60h0m-58 99h0m114 -45h0m-63 -39h0m-53 109h0m-23 -130h0m-23 19h0m125 3h0m-56 123h0m67 -57h0m-31 -57h0m15 63h0m11 -17h0m-72 -110h0m5 5h0m17 -7h0m8 11h0m67 61h0m-82 -42h0m-43 133h0m145 -74h0m-61 -64h0m39 26h0m-113 -52h0m-23 58h0m0 -41h0m65 30h0m66 98h0m-65 -139h0m-54 162h0m49 -19h0m54 -9h0m-47 -44h0m-46 -65h0m-43 29h0m68 122h0m85 -117h0m-108 68h0m-28 -53h0m5 0h0m44 2h0m103 29h0m-18 -59h0m-109 76h0m-27 25h0m0 -40h0m113 -108h0m-48 61h0m-24 17h0m49 26h0m-31 32h0m19 -125h0m-92 64h0m123 -58h0m-3 -9h0m-125 79h0m34 45h0m2 -117h0m95 21h0m-54 4h0m-38 33h0m93 37h0m-50 -57h0m-50 53h0m131 17h0m-162 -64h0m81 94h0m74 -132h0m-39 23h0m39 28h0m-50 38h0m-103 12h0m10 12h0m90 -85h0m38 -39h0m-53 -13h0m43 85h0m3 -28h0m37 25h0m-96 35h0m67 -23h0m-37 -79h0m-26 -8h0m44 162h0m-76 -14h0m25 -92h0m3 78h0m-8 -110h0m-22 114h0m38 -92h0m91 11h0m-36 54h0m-44 -40h0m45 2h0m-34 81h0m26 -127h0m30 83h0m-64 48h0m-48 6h0m70 -122h0m-78 -19h0m83 31h0m31 -19h0m-38 46h0m-9 -87h0m-55 136h0m-16 -98h0m64 139h0m37 -138h0m-60 47h0m-74 7h0m51 60h0m-10 -134h0m74 139h0m-5 -37h0m-28 -86h0m21 32h0m41 8h0m-129 -51h0m134 68h0m-76 -13h0m55 -56h0m-85 91h0m118 -61h0m-82 117h0m-43 -15h0m9 -98h0m94 -5h0m-57 35h0m-71 26h0m141 -64h0m-140 46h0m45 -74h0m-4 63h0m-12 4h0m78 58h0m20 12h0m-4 5h0m-68 -88h0m26 45h0m-49 -98h0m-18 75h0m4 20h0m29 42h0m110 -74h0m-156 -17h0m92 -41h0m-23 115h0m31 21h0m-33 6h0m-32 -129h0m-24 58h0m99 40h0m-79 -31h0m50 -28h0m42 65h0m-108 -43h0m81 -38h0m48 -10h0m-17 91h0m-36 -101h0m62 37h0m-48 72h0m-87 -63h0m127 -59h0m-42 141h0m-2 -126h0m-115 0h0m125 90h0m31 -67h0m-99 53h0m116 -60h0m-95 97h0m0 -159h0m-9 62h0m-10 20h0m-35 -16h0m90 111h0m-91 -149h0m81 14h0m-45 1h0m19 -11h0m-34 82h0m87 9h0m-89 -41h0m2 63h0m-30 -44h0m34 32h0m103 -5h0m-60 -122h0m-30 169h0m-30 -135h0m126 27h0m-92 -27h0m-72 38h0m96 26h0m-32 65h0m91 -72h0m-101 -9h0m5 -86h0m-21 24h0m110 127h0m-13 -88h0m-70 84h0m80 -7h0m-37 -2h0m-73 5h0m-18 -107h0m49 122h0m56 -53h0m-17 -56h0m45 1h0m1 89h0m-88 -110h0m-1 -25h0m24 51h0m-24 -8h0m-30 46h0m25 52h0m98 -13h0m-41 -48h0m-50 1h0m17 -71h0m-55 69h0m66 51h0m-23 -106h0m-57 11h0m144 -17h0m-31 68h0m-12 -36h0m-26 2h0m-45 49h0m124 15h0m-26 -113h0m-10 -7h0m-34 -6h0m-94 90h0m76 14h0m-53 -82h0m75 41h0m-61 -29h0m-20 44h0m157 19h0m-133 63h0m51 8h0m-36 -95h0m-24 33h0m-9 13h0m144 -57h0m-123 98h0m32 -34h0m-50 -29h0m129 -1h0m-36 0h0m59 15h0m-90 -82h0m-78 97h0m57 4h0m51 32h0m-26 -90h0m-41 34h0m118 13h0m-99 -48h0m2 68h0m-40 -16h0m10 25h0m6 -91h0m120 24h0m-54 72h0m32 -142h0m-95 53h0m72 -46h0m-25 82h0m-2 58h0m-89 -72h0m111 42h0m-63 -111h0m-37 90h0m23 -20h0m19 10h0m3 -76h0m89 93h0m-71 -94h0m-38 153h0m90 -88h0m-127 -18h0m144 49h0m-76 -43h0m-22 -15h0m61 -12h0m-93 108h0m88 5h0m-26 15h0m62 -6h0m-34 -93h0m-100 63h0m32 -102h0m7 63h0m-17 -9h0m83 40h0m21 -74h0m-27 63h0m2 62h0m58 -83h0m-11 -74h0m-103 -23h0m104 23h0m3 25h0m-59 -15h0m66 12h0m-71 70h0m38 52h0m-126 -122h0m74 97h0m43 -103h0m-61 -26h0m4 136h0m87 -125h0m-19 83h0m-139 -29h0m30 -51h0m112 -12h0m-34 127h0m-88 -38h0m48 -44h0m95 44h0m-71 56h0m-63 -140h0m90 31h0m5 78h0m-46 -69h0m10 36h0m13 88h0m-87 -88h0m80 -83h0m71 124h0m-43 -10h0m31 -9h0m14 -42h0m-103 78h0m24 -141h0m41 152h0m27 -47h0m-58 -74h0m-35 117h0m-30 -134h0m119 77h0m-105 -43h0m119 78h0m-124 31h0m53 -15h0m-17 -38h0m92 -83h0m-108 33h0m-6 -7h0m-44 61h0m165 -18h0m-169 28h0m35 -79h0m-21 21h0m57 59h0m-8 45h0m-7 -128h0m35 -56h0m12 55h0m-81 32h0m105 -50h0m-114 113h0m106 -104h0m-1 22h0m-83 56h0m69 -3h0m26 3h0m-46 2h0m-88 -29h0m93 87h0m38 -172h0m29 37h0m-127 120h0m79 -45h0m-44 -43h0m-47 -48h0m108 54h0m33 58h0m-29 -20h0m-11 -93h0m-63 51h0m-27 70h0m-11 -117h0m104 104h0m51 -65h0m-160 64h0m109 -49h0m-27 35h0m-13 22h0m56 -76h0m-108 43h0m-30 20h0m20 -91h0m-11 47h0m40 42h0m48 -75h0m5 6h0m0 89h0m-70 -76h0m86 63h0m55 -70h0m-146 25h0m84 74h0m-13 14h0m-80 -71h0m134 -83h0m-101 -23h0m103 69h0m-58 104h0m18 -45h0m-75 34h0m77 17h0m-8 -75h0m-117 -14h0m91 30h0m-48 -25h0m60 -30h0m-53 93h0m52 -29h0m-16 -132h0m-4 119h0m-23 50h0m-14 -88h0m-21 -20h0m97 117h0m-44 -106h0m36 -48h0m-102 29h0m103 54h0m-25 -77h0m-17 48h0m28 49h0m51 -53h0m-14 17h0m-58 -60h0m-52 13h0m34 11h0m6 71h0m15 -81h0m-64 20h0m139 5h0m-94 22h0m57 -41h0m-58 70h0m69 -102h0m-115 68h0m14 -58h0m39 93h0m109 -7h0" stroke="#CC3E24" stroke-width="1.7" stroke-linecap="round" opacity="0.8" filter="url(#sblur)"/>
<path d="M1421 813h0m1 69h0m-91 -30h0m53 68h0m87 -35h0m-94 -57h0m-63 9h0m124 3h0m5 68h0m-114 -8h0m58 -48h0m-39 20h0m132 -10h0m-149 63h0m65 -34h0m-11 -4h0m-64 -7h0m102 17h0m-25 25h0m52 -73h0m2 8h0m-52 109h0m-84 -131h0m139 85h0m-72 -116h0m-63 66h0m130 -16h0m-112 69h0m37 -61h0m17 12h0m-27 77h0m46 -148h0m2 24h0m-40 -45h0m31 81h0m59 -14h0m-62 -27h0m-55 -26h0m27 109h0m-10 -22h0m-32 34h0m2 -14h0m39 -6h0m-19 -109h0m-45 76h0m171 -47h0m-159 81h0m72 -1h0m9 -24h0m51 -36h0m-73 -7h0m-28 29h0m78 -6h0m15 9h0m-77 18h0m86 -2h0m25 -64h0m-66 45h0m26 29h0m52 -43h0m-113 66h0m-48 -67h0m21 -53h0m36 158h0m46 -63h0m-103 -25h0m32 -25h0m83 76h0m-15 37h0m-30 -37h0m73 -52h0m-61 72h0m-43 -2h0m51 25h0m-94 -122h0m88 6h0m-32 -16h0m51 72h0m-115 -39h0m111 13h0m8 -11h0m-14 -16h0m72 50h0m-118 55h0m53 -12h0m-48 23h0m59 -23h0m-44 -146h0m-67 89h0m112 -62h0m-22 104h0m-83 -43h0m29 -16h0m-34 5h0m70 -10h0m-75 53h0m98 -19h0m-79 35h0m51 0h0m-42 26h0m119 -138h0m-112 89h0m-49 -51h0m56 51h0m-1 -70h0m-23 27h0m3 -19h0m7 -22h0m2 73h0m60 23h0m33 -30h0m11 27h0m-137 -30h0m53 67h0m-2 -13h0m60 28h0m42 -63h0m-74 -57h0m3 89h0m39 -86h0m-81 38h0m68 -68h0m14 39h0m11 -2h0m32 -5h0m-72 -54h0m-54 66h0m110 60h0m-108 -59h0m-44 25h0m45 -80h0m95 27h0m-21 1h0m-102 6h0m-1 40h0m2 -37h0m93 4h0m-91 55h0m149 -1h0m-181 -41h0m127 9h0m-110 25h0m71 37h0m-15 -120h0m-15 152h0m36 -137h0m7 3h0m-36 -5h0m116 47h0m-124 -87h0m17 9h0m41 170h0m-99 -73h0m55 17h0m42 30h0m-49 -7h0m-59 -22h0m105 -110h0m-73 115h0m120 -70h0m-51 46h0m-65 -33h0m35 76h0m-24 11h0m45 -117h0m-82 98h0m132 -51h0m-43 43h0m83 -51h0m-115 17h0m109 4h0m-147 -66h0m107 18h0m-20 29h0m-36 93h0m63 -135h0m-22 107h0m43 -46h0m-96 -105h0m4 19h0m-39 40h0m-39 28h0m112 53h0m60 -13h0m-67 -126h0m-55 91h0m-29 -48h0m75 110h0m63 -24h0m-97 -84h0m45 35h0m-103 29h0m152 50h0m-23 -138h0m-45 6h0m-22 36h0m90 -41h0m-148 102h0m62 30h0m50 3h0m40 -67h0m-86 -53h0m8 83h0m-46 -1h0m-4 -8h0m19 -33h0m54 87h0m-51 -108h0m85 25h0m-88 17h0m-33 47h0m86 -52h0m-84 49h0m46 -85h0m-22 61h0m52 38h0m-58 -75h0m-12 7h0m82 19h0m40 -17h0m-105 22h0m83 7h0m60 -41h0m-107 -60h0m40 21h0m-38 127h0m-43 -73h0m12 41h0m15 -17h0m106 -54h0m-55 119h0m-10 -53h0m41 -15h0m-62 -18h0m-57 -18h0m80 -23h0m18 35h0m-109 8h0m51 -27h0m-7 39h0m68 -11h0m-36 18h0m-58 -83h0m144 23h0m-112 36h0m40 4h0m-71 53h0m91 -150h0m29 88h0m11 13h0m-48 78h0m35 -123h0m-120 4h0m26 79h0m106 -77h0m-76 22h0m-27 75h0m58 -152h0m37 153h0m-26 -141h0m-106 82h0m36 -75h0m49 74h0m-30 56h0m7 -46h0m27 52h0m16 -145h0m-18 18h0m-9 98h0m23 -48h0m-39 -84h0m75 95h0m-47 -39h0m72 37h0m-14 42h0m-138 -33h0m30 -13h0m7 8h0m-48 -39h0m98 9h0m-36 119h0m-16 -91h0m46 -73h0m-64 -18h0m2 54h0m116 37h0m-104 56h0m94 -57h0m-99 67h0m-45 -114h0m107 29h0m-84 43h0m140 -26h0m-128 -48h0m-34 8h0m51 42h0m45 37h0m-65 -127h0m17 88h0m-21 -88h0m114 51h0m-101 109h0m3 -101h0m68 -44h0m46 53h0m-51 -78h0m56 119h0m-79 42h0m-47 -130h0m41 101h0m68 -85h0m-77 44h0m67 38h0m-25 -76h0m-46 113h0m-1 -99h0m69 -40h0m11 43h0m-99 -24h0m118 3h0m-137 -38h0m5 93h0m87 27h0m-123 -13h0m118 -23h0m-58 7h0m100 -3h0m-71 53h0m-11 -98h0m-21 98h0m-23 -28h0m8 -60h0m99 -48h0m-40 -16h0m11 8h0m-19 8h0m64 101h0m-93 72h0m93 -42h0m-33 7h0m-5 -104h0m-25 93h0m6 -41h0m43 53h0m-63 -4h0m-56 -113h0m3 96h0m71 19h0m12 -18h0m11 -51h0m-23 89h0m-6 -23h0m-17 -39h0m-55 -6h0m136 10h0m-71 -38h0m7 -20h0m-29 39h0m80 8h0m-67 -66h0m-22 117h0m102 -96h0m-33 109h0m-53 -73h0m-14 -54h0m-33 35h0m55 -22h0m29 -28h0m-84 11h0m48 14h0m-23 110h0m24 23h0m-65 -96h0m37 6h0m-24 -2h0m18 52h0m-17 -62h0m51 -71h0m16 158h0m1 -87h0m0 1h0m-45 -43h0m115 29h0m11 59h0m-91 11h0m40 36h0m57 -89h0m-124 71h0m103 -14h0m-38 27h0m-3 -127h0m33 20h0m-25 4h0m7 76h0m-52 -116h0m16 83h0m-14 -112h0m21 156h0m-67 -73h0m0 1h0m41 -28h0m-9 -6h0m34 -22h0m49 104h0m-69 -57h0m-11 81h0m83 -98h0m-23 73h0m-78 -46h0m77 88h0m-23 -35h0m-11 -41h0m-34 -11h0m19 64h0m-44 -46h0m9 -49h0m-17 -27h0m12 20h0m109 -6h0m6 31h0m-90 35h0m71 -37h0m-36 9h0m13 102h0m-77 -71h0m-21 49h0m100 -98h0m-42 13h0m-29 -27h0m-17 -20h0m36 20h0m-10 11h0m111 45h0m-129 -54h0m109 29h0m-44 87h0m4 -45h0m-47 -108h0m-42 89h0m70 -15h0m16 -48h0m21 -8h0m-3 107h0m11 -65h0m-7 67h0m2 27h0m-72 -13h0m0 -87h0m78 -45h0m-59 148h0m-56 -53h0m136 -29h0m-106 68h0m109 -13h0m-64 24h0m60 -6h0m-20 -85h0m-25 -63h0m-35 124h0m97 -64h0m-80 54h0m35 -15h0m-48 56h0m49 -43h0m17 -21h0m-68 -104h0m-29 161h0m53 -140h0m-67 122h0m-39 -35h0m76 76h0m-67 -57h0m124 29h0m-73 -136h0m24 118h0m102 -68h0m-154 -16h0m64 -50h0m-39 64h0m41 43h0m20 -58h0m14 126h0m-5 -79h0m-10 -16h0m33 -44h0m15 -7h0m-89 101h0m22 -134h0m18 167h0m38 -134h0m-139 62h0m72 14h0m48 3h0m-6 -55h0m32 79h0m-106 -26h0m57 44h0m41 -40h0m-51 -98h0m60 93h0m-40 23h0m-47 -102h0m108 37h0m-132 -50h0m23 133h0m-44 -9h0m-11 -55h0m30 -48h0m33 -19h0m13 1h0m-46 141h0m25 -84h0m45 65h0m-29 -80h0m-76 1h0m34 17h0m66 77h0m-91 -121h0m26 -18h0m66 139h0m-56 -8h0m39 39h0m30 -43h0m-84 -55h0m37 24h0m53 56h0m-75 -116h0m67 69h0m-104 11h0m71 -42h0m-33 4h0m75 -13h0m-102 40h0m23 45h0m75 -76h0m-3 48h0m-46 30h0m-41 -141h0m3 14h0m58 10h0m-38 -28h0m34 14h0m45 117h0m-31 -99h0m-69 -11h0m20 100h0m52 -127h0m-40 2h0m29 150h0m-38 -6h0m3 -78h0m-38 3h0m23 24h0m-30 -53h0m158 15h0m-69 107h0m-97 -35h0m111 -111h0m46 4h0m-78 145h0m11 -158h0m-21 113h0m-37 -123h0m62 84h0m0 -73h0m-34 141h0m30 -145h0m50 118h0m-21 11h0m-109 1h0m43 -133h0m24 110h0m23 -23h0m-92 -67h0m125 131h0m-113 -120h0m23 94h0m59 -64h0m61 20h0m-115 -35h0m49 75h0m-103 -23h0m147 12h0m-136 -5h0m109 50h0m-53 -125h0m40 -3h0m4 5h0m-88 75h0m33 20h0m45 -106h0m-35 39h0m-58 69h0m97 -120h0m36 71h0m-138 -55h0m43 97h0m76 15h0m10 -22h0m-67 -85h0m7 82h0m-61 -1h0m2 25h0m132 -102h0m-85 57h0m-53 -46h0m152 -19h0m-97 32h0m54 -43h0m-5 -15h0m-48 103h0m-44 -75h0m31 21h0m29 -17h0m86 55h0m-69 39h0m-33 25h0m71 -31h0m-41 -51h0m48 -19h0m-86 58h0m89 19h0m-142 -9h0m-8 -35h0m150 8h0m-41 -28h0m9 -43h0m-73 -4h0m118 -2h0m-81 11h0m-39 60h0m61 0h0m41 -56h0m-62 78h0m-3 -59h0m-66 75h0m9 -6h0m62 -78h0m55 83h0m-60 -81h0m37 76h0m-31 -23h0m54 -25h0m-83 33h0m37 39h0m35 -20h0m-71 -62h0m-41 23h0m111 -17h0m-117 15h0m81 -83h0m-75 43h0m120 48h0m-133 5h0m26 -69h0m-2 46h0m155 22h0m-165 37h0m49 -92h0m-28 116h0m132 -48h0m-151 3h0m100 -33h0m-84 -66h0m47 28h0m-56 9h0m14 -7h0m101 50h0m-36 7h0m-23 -47h0m-53 -31h0m98 130h0m-122 -57h0m33 -60h0m-18 12h0m44 84h0m-32 -34h0m144 -57h0m-123 93h0m8 -102h0m89 113h0m-62 -3h0m39 -13h0m-22 -100h0m13 50h0m-42 78h0m-68 -42h0m147 -89h0m-36 45h0m59 24h0m-32 47h0m-26 -65h0m-75 35h0m83 -57h0m-48 63h0m50 -120h0m-125 48h0m49 -5h0m-57 40h0m136 -78h0" stroke="#B42C1A" stroke-width="2.6" stroke-linecap="round" opacity="0.85" filter="url(#sblur)"/>
</g>
<ellipse cx="1401.6" cy="872.0" rx="93.5" ry="96.5" fill="none" stroke="#CB785A" stroke-width="3" opacity="0.6" filter="url(#wblur)"/>
<text x="1123.4" y="739.5" font-size="25.5" text-anchor="middle">PBS + Iso</text>
<text x="1400.0" y="739.5" font-size="25.5" text-anchor="middle">PBS + anti-PD-1</text>
<text x="1123.4" y="999.7" font-size="25.5" text-anchor="middle">M2T-CD33 + Iso</text>
<text x="1400.0" y="999.7" font-size="25.5" text-anchor="middle">M2T-CD33 + anti-PD-1</text>
<line x1="1668.6" y1="533.2" x2="1668.6" y2="759.3" stroke="#000" stroke-width="3.0"/>
<line x1="1659.8" y1="759.3" x2="1894.4" y2="759.3" stroke="#000" stroke-width="2.8"/>
<line x1="1659.8" y1="759.3" x2="1668.6" y2="759.3" stroke="#000" stroke-width="2.8"/>
<text x="1656.3" y="766.8" font-size="20.8" text-anchor="end">0</text>
<line x1="1659.8" y1="703.1" x2="1668.6" y2="703.1" stroke="#000" stroke-width="2.8"/>
<text x="1656.3" y="710.6" font-size="20.8" text-anchor="end">50</text>
<line x1="1659.8" y1="647.0" x2="1668.6" y2="647.0" stroke="#000" stroke-width="2.8"/>
<text x="1656.3" y="654.5" font-size="20.8" text-anchor="end">100</text>
<line x1="1659.8" y1="590.9" x2="1668.6" y2="590.9" stroke="#000" stroke-width="2.8"/>
<text x="1656.3" y="598.4" font-size="20.8" text-anchor="end">150</text>
<line x1="1659.8" y1="534.7" x2="1668.6" y2="534.7" stroke="#000" stroke-width="2.8"/>
<text x="1656.3" y="542.2" font-size="20.8" text-anchor="end">200</text>
<line x1="1703.3" y1="759.3" x2="1703.3" y2="769.2" stroke="#000" stroke-width="2.8"/>
<line x1="1755.1" y1="759.3" x2="1755.1" y2="769.2" stroke="#000" stroke-width="2.8"/>
<line x1="1806.9" y1="759.3" x2="1806.9" y2="769.2" stroke="#000" stroke-width="2.8"/>
<line x1="1858.6" y1="759.3" x2="1858.6" y2="769.2" stroke="#000" stroke-width="2.8"/>
<rect x="1687.4" y="746.4" width="31.8" height="12.9" fill="#fff" stroke="#000" stroke-width="3.1"/>
<rect x="1739.2" y="735.1" width="31.8" height="24.2" fill="#A4A4AA" stroke="#000" stroke-width="3.1"/>
<rect x="1791.0" y="719.4" width="31.8" height="39.9" fill="#fff" stroke="#FF8000" stroke-width="3.1"/>
<rect x="1842.7" y="665.4" width="31.8" height="93.9" fill="#FFC78F" stroke="#FF8000" stroke-width="3.1"/>
<line x1="1703.3" y1="739.1" x2="1703.3" y2="750.0" stroke="#000" stroke-width="1.6"/>
<line x1="1694.8" y1="739.1" x2="1711.8" y2="739.1" stroke="#000" stroke-width="1.6"/>
<line x1="1694.8" y1="750.0" x2="1711.8" y2="750.0" stroke="#000" stroke-width="1.6"/>
<circle cx="1690.6" cy="736.9" r="4.4" fill="none" stroke="#000" stroke-width="2.4"/>
<circle cx="1716.1" cy="733.9" r="4.4" fill="none" stroke="#000" stroke-width="2.4"/>
<circle cx="1690.6" cy="754.6" r="4.4" fill="none" stroke="#000" stroke-width="2.4"/>
<circle cx="1716.1" cy="752.6" r="4.4" fill="none" stroke="#000" stroke-width="2.4"/>
<line x1="1755.1" y1="724.8" x2="1755.1" y2="741.5" stroke="#000" stroke-width="1.6"/>
<line x1="1746.6" y1="724.8" x2="1763.6" y2="724.8" stroke="#000" stroke-width="1.6"/>
<line x1="1746.6" y1="741.5" x2="1763.6" y2="741.5" stroke="#000" stroke-width="1.6"/>
<circle cx="1755.2" cy="694.3" r="4.4" fill="none" stroke="#000" stroke-width="2.4"/>
<circle cx="1748.6" cy="731" r="4.4" fill="none" stroke="#000" stroke-width="2.4"/>
<circle cx="1761.7" cy="731" r="4.4" fill="none" stroke="#000" stroke-width="2.4"/>
<circle cx="1755.2" cy="744.8" r="4.4" fill="none" stroke="#000" stroke-width="2.4"/>
<circle cx="1742.1" cy="749.4" r="4.4" fill="none" stroke="#000" stroke-width="2.4"/>
<circle cx="1768" cy="748.3" r="4.4" fill="none" stroke="#000" stroke-width="2.4"/>
<line x1="1806.9" y1="696.3" x2="1806.9" y2="738.9" stroke="#000" stroke-width="1.6"/>
<line x1="1798.4" y1="696.3" x2="1815.4" y2="696.3" stroke="#000" stroke-width="1.6"/>
<line x1="1798.4" y1="738.9" x2="1815.4" y2="738.9" stroke="#000" stroke-width="1.6"/>
<circle cx="1807" cy="640.6" r="4.4" fill="none" stroke="#000" stroke-width="2.4"/>
<circle cx="1807" cy="698.9" r="4.4" fill="none" stroke="#000" stroke-width="2.4"/>
<circle cx="1794.5" cy="744.8" r="4.4" fill="none" stroke="#000" stroke-width="2.4"/>
<circle cx="1819.7" cy="749.6" r="4.4" fill="none" stroke="#000" stroke-width="2.4"/>
<circle cx="1794.5" cy="754.6" r="4.4" fill="none" stroke="#000" stroke-width="2.4"/>
<line x1="1858.6" y1="639.5" x2="1858.6" y2="688.2" stroke="#FF8000" stroke-width="1.6"/>
<line x1="1850.1" y1="639.5" x2="1867.1" y2="639.5" stroke="#FF8000" stroke-width="1.6"/>
<line x1="1850.1" y1="688.2" x2="1867.1" y2="688.2" stroke="#FF8000" stroke-width="1.6"/>
<circle cx="1858.7" cy="582.3" r="4.4" fill="none" stroke="#000" stroke-width="2.4"/>
<circle cx="1858.7" cy="607.2" r="4.4" fill="none" stroke="#000" stroke-width="2.4"/>
<circle cx="1858.7" cy="662.9" r="4.4" fill="none" stroke="#000" stroke-width="2.4"/>
<circle cx="1858.7" cy="687.8" r="4.4" fill="none" stroke="#000" stroke-width="2.4"/>
<circle cx="1858.7" cy="703.5" r="4.4" fill="none" stroke="#000" stroke-width="2.4"/>
<circle cx="1858.7" cy="738.9" r="4.4" fill="none" stroke="#000" stroke-width="2.4"/>
<polyline points="1703.4,720.5 1703.4,555.4 1858.7,555.4 1858.7,568.8" fill="none" stroke="#000" stroke-width="2.6"/>
<text x="1781.7" y="553.5" font-size="30" text-anchor="middle" stroke="#000" stroke-width="0.6">*</text>
<text x="1607.3" y="790.7" font-size="31" transform="rotate(-90 1607.3 790.7)">SFC/10<tspan font-size="22" dy="-13.3">6</tspan><tspan dy="13.3"> Splenocytes</tspan></text>
<text x="1715.0" y="773.5" font-size="30.8" text-anchor="end" transform="rotate(-90 1715.0 773.5)">PBS + Isotype</text>
<text x="1766.8" y="773.5" font-size="30.8" text-anchor="end" transform="rotate(-90 1766.8 773.5)">PBS + anti-PD-1</text>
<text x="1818.6" y="773.5" font-size="30.8" text-anchor="end" transform="rotate(-90 1818.6 773.5)">M2T-CD33 + Isotype</text>
<text x="1870.4" y="773.5" font-size="30.8" text-anchor="end" transform="rotate(-90 1870.4 773.5)">M2T-CD33 + anti-PD-1</text>
</g>
<g id="E">
<text x="-3.9" y="1206.3" font-size="47.5" stroke="#000" stroke-width="0.7">E</text>
<text x="245.8" y="1178.7" font-size="24.5" text-anchor="middle">PBS +</text>
<text x="245.8" y="1209.0" font-size="24.5" text-anchor="middle">Isotype</text>
<text x="474.5" y="1178.7" font-size="24.5" text-anchor="middle">PBS +</text>
<text x="474.5" y="1209.0" font-size="24.5" text-anchor="middle">anti-PD-1</text>
<text x="703.8" y="1178.7" font-size="24.5" text-anchor="middle">M2T-CD33 +</text>
<text x="703.8" y="1209.0" font-size="24.5" text-anchor="middle">Isotype</text>
<text x="934.2" y="1178.7" font-size="24.5" text-anchor="middle">M2T-CD33 +</text>
<text x="934.2" y="1209.0" font-size="24.5" text-anchor="middle">anti-PD-1</text>
<g fill="none" stroke-width="1"><path d="M248 1278.5h1m9 9h1m1 0h1m19 0h1m-56 2h1m4 1h1m17 0h1m-42 1h1m23 0h1m38 0h1m5 0h1m-101 1h1m30 0h2m24 0h1m11 0h1m2 0h1m4 0h1m-58 1h1m26 0h1m39 0h1m1 0h1m4 0h2m-82 1h1m8 0h1m19 0h1m3 0h2m13 0h1m13 0h1m-63 1h1m14 0h1m22 0h1m2 0h1m21 0h1m14 0h1m-61 1h1m32 0h1m-71 1h1m20 0h1m31 0h1m8 0h1m9 0h1m2 0h1m11 0h1m-49 1h1m4 0h1m1 0h1m33 0h2m9 0h1m2 0h1m4 0h2m4 0h1m-86 1h1m1 0h2m3 0h1m12 0h1m1 0h1m5 0h1m1 0h1m23 0h1m8 0h1m1 0h1m3 0h1m6 0h1m1 0h1m-87 1h1m17 0h1m47 0h1m15 1h1m-100 1h1m18 0h1m77 0h2m1 0h1m5 1h1m-92 1h1m86 0h1m4 0h1m-103 1h1m5 0h1m1 0h1m87 0h1m3 0h1m-94 1h1m91 0h1m5 0h1m-98 1h1m85 0h1m2 0h1m4 1h1m9 0h1m0 1h1m-10 1h1m-108 1h1m9 0h1m-3 2h1m97 0h1m-104 1h1m3 0h1m105 0h1m-5 1h1m-103 1h1m3 0h1m-6 1h1m98 0h1m1 0h1m1 0h1m-93 1h1m90 0h1m-107 1h1m4 1h1m6 0h1m-15 1h1m8 0h1m104 0h1m-107 1h1m2 0h1m10 0h1m-14 1h1m5 0h1m1 0h1m1 0h1m88 0h1m-92 1h1m6 0h1m-4 1h2m3 0h1m7 0h1m71 0h1m2 0h1m2 0h1m-4 1h1m-98 1h1m1 0h1m13 0h1m4 0h1m-31 1h1m17 1h1m3 0h1m19 0h1m58 0h1m3 0h1m1 0h1m-100 1h1m33 0h1m62 0h1m1 0h1m-101 1h1m8 0h1m6 0h1m5 0h1m1 0h1m16 0h1m3 0h1m-14 1h1m11 0h1m1 0h2m3 0h1m43 0h1m4 0h1m-44 1h1m-41 1h1m41 0h1m36 0h1m-84 1h1m3 0h1m42 0h1m36 0h1m3 0h1m-49 1h1m-2 1h1m7 0h1m37 0h1m-57 1h1m19 0h1m37 0h1m-49 1h1m11 0h1m1 0h1m38 0h1m-84 1h1m27 0h1m57 0h1m-44 1h1m1 0h1m30 0h1m-30 2h1m-30 1h1m23 0h1m-7 1h1m-5 1h1m9 0h1m4 0h1m-7 1h1m2 0h1m-6 1h1m4 0h1m29 0h1m-55 1h1m4 0h1m2 0h1m44 0h1m15 0h1m-70 1h1m16 0h1m1 0h1m37 0h1m-69 1h1m8 0h1m21 0h1m7 0h1m26 0h1m-85 1h1m25 0h1m-16 1h1m5 0h1m15 0h1m14 0h1m1 0h1m2 0h1m28 0h1m5 0h1m0 1h1m1 0h1m-55 1h1m20 0h1m1 0h1m33 0h1m-63 1h1m1 0h1m11 0h1m9 0h1m28 0h1m2 0h1m-71 1h1m5 0h1m11 0h1m7 0h1m6 0h1m35 0h1m-52 1h1m4 0h1m2 0h1m4 0h1m-29 1h1m16 0h1m10 0h1m1 0h1m4 0h1m-4 1h1m1 0h1m34 0h1m-75 1h1m11 0h1m4 0h1m16 0h1m36 0h1m-64 1h1m12 0h1m5 0h1m1 0h1m43 0h1m10 0h1m-86 1h1m15 0h1m17 0h1m-6 1h1m10 0h1m-16 1h1m12 0h1m3 0h1m33 0h1m-72 1h1m8 0h1m9 0h1m4 0h1m10 0h1m38 0h1m-64 1h1m-10 1h1m2 0h1m21 0h1m8 0h1m1 0h1m-37 1h2m6 0h1m22 0h1m1 0h1m0 1h1m34 0h1m-59 1h1m8 0h1m-29 1h1m20 0h1m7 0h1m1 0h1m46 0h1m-71 1h1m14 1h1m-28 1h1m30 0h1m51 0h1m-53 1h1m13 0h1m3 0h1m31 0h2m-87 1h1m43 0h1m1 1h1m3 0h1m-35 2h1m25 0h1m9 0h1m28 0h1m-41 1h1m4 0h1m40 1h1m-60 1h1m31 0h1m16 0h1m-31 1h1m6 2h1m-64 1h1m66 0h1m0 1h2m13 0h1m-12 1h1m-33 1h1m30 0h1m2 0h1m14 1h1m-10 1h1m6 0h1m-22 1h1m13 2h1" stroke="#5a5aff" stroke-opacity="0.65"/><path d="M237 1295.5h1m0 1h1m-12 1h1m12 0h1m-16 1h2m12 0h1m1 0h1m1 0h1m-36 1h1m14 0h1m3 0h1m1 0h1m5 0h2m-29 1h1m7 0h1m5 0h1m3 0h1m3 0h1m4 0h1m3 0h1m1 0h1m-39 1h1m3 0h2m7 0h1m12 0h1m1 0h1m4 0h3m4 0h2m7 0h1m2 0h1m-44 1h1m4 0h1m1 0h1m2 0h2m1 0h1m23 0h1m6 0h2m-62 1h1m4 0h1m1 0h1m2 0h1m52 0h1m-65 1h1m1 0h1m1 0h1m2 0h1m56 0h1m-77 1h1m6 0h1m7 0h1m-13 1h1m72 0h1m1 0h1m-80 1h1m2 0h1m73 0h1m-79 1h1m2 0h2m72 0h1m-76 1h1m75 0h1m1 0h2m5 0h2m-90 1h1m1 0h1m81 0h1m-85 1h2m2 0h2m74 0h1m2 0h1m2 0h1m3 0h3m-91 1h2m2 0h1m74 0h1m2 0h1m1 0h3m4 0h1m-91 1h1m76 0h1m1 0h1m3 0h1m3 0h1m1 0h1m-90 1h1m1 0h1m3 0h1m1 0h1m67 0h1m3 0h1m2 0h1m-83 1h1m1 0h1m1 0h1m71 0h2m2 0h1m2 0h1m3 0h1m-91 1h2m9 0h1m1 0h2m66 0h1m1 0h1m3 0h3m-83 1h1m71 0h1m1 0h1m2 0h1m2 0h1m1 0h1m-89 1h2m3 0h2m72 0h1m3 0h2m-85 1h1m7 0h1m74 0h1m1 0h1m3 0h1m-80 1h2m1 0h1m74 0h2m3 0h1m-84 1h1m2 0h1m1 0h1m1 0h1m2 0h1m66 0h1m2 0h1m1 0h1m-81 1h1m3 0h1m5 0h1m64 0h1m-72 1h2m6 0h2m-12 1h1m2 0h1m7 0h1m-11 1h2m10 0h1m51 0h1m11 0h1m-73 1h1m7 0h2m5 0h1m43 0h1m11 0h1m-64 1h1m6 0h1m1 0h1m2 0h2m1 0h1m36 0h1m15 0h1m-66 1h1m2 0h1m9 0h1m7 0h1m25 0h1m-33 1h1m1 0h2m2 0h1m20 0h1m1 0h1m1 0h1m6 0h1m3 0h1m-42 1h1m9 0h1m2 0h1m7 0h1m1 0h1m-26 1h1m4 0h2m4 0h1m4 0h1m5 0h1m4 0h1m2 0h1m1 0h1m10 0h3m-36 1h2m4 0h1m1 0h4m4 0h1m1 0h2m2 0h1m6 0h1m-24 1h2m7 0h1m4 0h2m8 0h5m-30 1h1m4 0h1m7 0h1m2 0h1m1 0h1m8 0h2m-30 1h1m3 0h1m1 0h2m1 0h1m1 0h1m1 0h2m1 0h1m13 0h1m-28 1h1m1 0h1m2 0h2m2 0h2m1 0h1m11 0h2m2 0h1m-31 1h1m6 0h1m10 0h1m9 0h1m-19 1h1m1 0h1m2 0h2m9 0h1m2 0h1m-23 1h1m6 0h1m10 0h1m-18 1h2m1 0h1m1 0h1m1 0h1m8 0h1m2 0h2m1 0h3m-23 1h1m4 0h1m12 0h1m1 0h1m-21 1h4m18 0h1m-30 1h1m1 0h1m6 0h1m13 0h1m3 0h2m-5 1h1m3 0h1m-23 1h1m17 0h1m1 0h1m-22 1h1m16 0h1m4 0h1m-4 1h2m-19 1h1m14 0h1m1 0h2m-20 1h1m8 0h1m-9 1h1m2 0h1m14 0h1m-20 1h1m2 0h1m15 0h1m1 0h1m-21 1h1m18 0h1m-17 1h1m17 1h1m-19 1h1m15 0h1m-16 1h1m14 0h1m1 0h1m-23 1h1m20 0h1m-23 1h1m2 0h1m19 0h1m2 0h1m-1 1h1m-26 1h1m24 0h2m-25 1h1m20 0h1m-25 1h1m1 0h2m21 0h1m1 0h1m-28 1h2m26 0h1m-3 1h1m-41 1h1m16 0h1m22 0h1m-43 1h1m17 0h1m23 0h1m1 0h1m-46 1h2m18 0h1m24 1h1m-27 1h1m-1 1h1m1 0h1m23 0h1m-26 1h1m-1 1h1m24 0h2m-28 1h1m24 0h1m-23 1h1m-4 1h1m2 0h1m20 0h1m1 0h1m-24 1h1m19 0h1m2 0h1m-26 1h1m1 0h1m19 0h1m1 0h1m-27 1h1m1 0h1m3 0h1m15 0h2m0 2h3m-6 1h1m-12 1h1m1 0h1m8 0h3m-14 1h1m2 0h1m5 0h3m-2 1h1m-12 1h2m1 0h2m1 0h1m1 0h1m-4 1h1m1 0h1m-11 1h1m8 0h1m3 0h1m-4 1h1m1 0h2m-5 1h1m3 0h1m-2 1h1" stroke="#2828ff" stroke-opacity="0.8"/><path d="M241 1301.5h1m-14 1h1m2 0h1m6 0h1m1 0h1m6 0h1m6 0h1m-47 1h1m1 0h1m5 0h2m2 0h3m1 0h3m1 0h2m6 0h3m7 0h1m3 0h4m1 0h2m-51 1h2m2 0h1m1 0h1m1 0h3m1 0h1m3 0h2m1 0h1m1 0h1m27 0h1m1 0h1m-66 1h3m1 0h1m8 0h1m7 0h1m1 0h1m3 0h1m36 0h1m1 0h1m-69 1h1m1 0h1m1 0h2m1 0h1m1 0h2m2 0h3m50 0h3m-72 1h1m2 0h1m9 0h1m55 0h1m-71 1h1m1 0h1m1 0h1m65 0h1m-71 1h4m66 0h2m-70 1h1m1 0h1m-2 1h1m1 0h1m65 0h2m-72 1h4m1 0h2m-6 1h3m3 0h2m61 0h2m-1 1h1m-62 1h1m-8 1h1m6 0h1m59 0h1m-69 1h3m1 0h1m3 0h2m65 0h1m-76 1h1m4 0h5m59 0h2m-69 1h2m1 0h1m3 0h1m1 0h1m57 0h1m1 0h1m-63 1h2m60 0h2m-59 1h2m1 0h1m1 0h1m49 0h1m1 0h1m1 0h1m1 0h2m-61 1h1m2 0h1m1 0h1m50 0h7m-57 1h1m45 0h3m1 0h1m3 0h1m1 0h1m1 0h1m-53 1h1m40 0h1m5 0h3m2 0h2m-61 1h2m1 0h2m4 0h2m2 0h1m33 0h4m2 0h1m3 0h1m1 0h1m1 0h1m-61 1h2m7 0h1m1 0h1m2 0h1m9 0h1m21 0h1m6 0h2m3 0h3m-47 1h1m1 0h1m8 0h2m1 0h1m11 0h1m2 0h5m4 0h1m2 0h3m1 0h1m-39 1h1m4 0h1m1 0h3m5 0h1m4 0h2m1 0h1m6 0h4m1 0h1m-36 1h1m6 0h1m1 0h1m1 0h2m1 0h1m2 0h1m1 0h1m-21 1h2m11 0h1m1 0h1m13 0h1m1 0h3m-5 1h2m1 0h1m-2 1h1m1 0h1m-5 1h1m4 0h1m-6 2h1m5 0h2m-18 1h2m9 0h1m2 0h1m-5 1h7m-7 1h1m2 0h1m-6 1h1m2 0h2m1 0h1m-5 1h2m-5 1h2m1 0h1m1 0h2m-7 1h1m1 0h2m2 0h3m-12 1h1m3 0h2m1 0h1m1 0h2m1 0h1m-13 1h1m3 0h1m2 0h1m2 0h1m2 0h1m-15 1h3m3 0h2m1 0h1m1 0h3m-17 1h3m1 0h1m1 0h1m1 0h3m1 0h2m-13 1h8m-6 1h1m2 0h1m2 0h1m1 0h2m-8 1h1m5 0h1m1 0h1m1 0h2m-11 1h1m6 0h2m3 0h1m-14 1h2m4 0h1m1 0h2m1 0h1m1 0h1m-13 1h1m4 0h3m3 0h2m-13 1h1m2 0h1m4 0h2m1 0h1m-13 1h4m2 0h1m6 0h2m-14 1h1m1 0h2m1 0h3m1 0h3m1 0h1m-11 1h1m6 0h1m1 0h1m-10 1h2m7 0h1m-16 1h2m1 0h2m2 0h1m8 0h1m-18 1h4m1 0h3m10 0h2m-17 1h2m2 0h2m9 0h1m-16 1h1m1 0h2m12 0h1m-17 1h1m17 0h1m-21 1h3m18 0h1m-2 1h1m-20 1h1m18 0h1m-20 1h1m-2 1h2m18 0h3m-1 1h1m-22 1h1m20 0h2m-22 1h1m17 0h1m1 0h2m-22 1h1m18 0h1m-1 1h2m-21 1h1m17 0h1m1 0h1m-20 1h1m16 0h2m-19 1h1m13 0h2m2 0h1m-18 1h1m1 0h1m8 0h2m1 0h2m-15 1h1m1 0h1m1 0h1m8 0h1m-14 1h2m1 0h3m4 0h4m-13 1h2m1 0h2m5 0h1m-12 1h2m2 0h1m1 0h1m-1 1h2m2 0h2m-5 1h3m-4 1h1m2 0h1m-4 1h1m1 0h1" stroke="#0d4bff"/><path d="M230 1303.5h1m2 0h2m5 0h1m1 0h4m-17 1h1m5 0h2m1 0h2m1 0h1m4 0h3m3 0h3m-48 1h1m1 0h4m7 0h2m1 0h2m3 0h1m7 0h1m2 0h1m10 0h4m-48 1h2m5 0h7m5 0h3m25 0h2m-63 1h3m1 0h1m6 0h2m10 0h1m-25 1h2m1 0h3m1 0h2m1 0h2m51 0h2m-65 1h1m1 0h1m1 0h4m56 0h1m-64 1h1m2 0h1m59 0h1m-63 1h5m57 0h2m-63 1h2m1 0h1m58 0h1m-59 1h1m57 0h1m-60 1h2m57 0h2m-60 1h2m56 0h2m-60 1h1m1 0h1m55 0h1m-58 1h1m1 0h1m54 0h1m-56 1h1m54 0h2m-56 1h2m3 0h1m48 0h1m-53 1h2m2 0h5m43 0h2m-47 1h4m40 0h2m-43 1h1m-3 1h3m1 0h4m34 0h2m-44 1h2m4 0h3m1 0h2m29 0h3m-32 1h1m11 0h1m16 0h1m1 0h1m12 0h1m-42 1h1m2 0h2m4 0h6m8 0h6m12 0h1m-28 1h2m2 0h3m1 0h2m-8 1h2m16 5h3m-3 1h3m-2 1h1m-1 21h1m2 0h1m-5 1h5m-5 1h6m1 0h1m-8 1h1m1 0h2m2 0h3m-9 1h1m1 0h4m1 0h2m-9 1h5m1 0h3m-13 1h1m1 0h1m1 0h2m1 0h2m-9 1h4m1 0h9m-15 1h2m1 0h2m1 0h2m1 0h4m1 0h3m-18 1h1m1 0h1m1 0h1m2 0h1m2 0h1m1 0h1m3 0h1m-17 1h1m1 0h1m3 0h1m3 0h1m6 0h1m-18 1h2m1 0h2m1 0h1m5 0h1m-12 1h1m2 0h2m11 0h1m-17 1h3m2 0h1m10 0h1m-16 1h1m1 0h1m12 0h1m-17 1h2m1 0h2m11 0h1m-17 1h1m1 0h1m1 0h1m9 0h1m1 0h1m-16 1h1m1 0h2m9 0h1m-14 1h1m1 0h3m5 0h3m-8 1h4m1 0h1m-7 1h3m2 0h1m-2 1h3m-3 1h2m-1 1h2m-2 1h2m-2 1h2" stroke="#075cff"/><path d="M232 1303.5h1m-2 1h1m1 0h2m7 0h3m-16 1h2m3 0h1m5 0h3m3 0h3m-40 1h3m8 0h2m1 0h2m3 0h2m6 0h1m1 0h1m10 0h2m1 0h1m-46 1h2m1 0h2m6 0h2m5 0h1m1 0h1m24 0h2m-49 1h1m5 0h6m35 0h2m-55 1h3m1 0h4m5 0h3m38 0h1m-56 1h4m51 0h2m-57 1h3m53 0h1m-56 1h2m2 0h1m1 0h1m49 0h1m-57 1h4m1 0h2m49 0h1m-57 1h5m51 0h1m-56 1h5m1 0h1m48 0h1m-55 1h3m1 0h3m47 0h1m-54 1h7m45 0h1m-52 1h7m3 0h2m39 0h2m-52 1h2m3 0h1m1 0h2m2 0h1m38 0h2m-42 1h1m39 0h2m-41 1h5m33 0h2m-38 1h2m1 0h2m-1 1h3m28 0h2m-29 1h2m1 0h1m4 0h6m12 0h2m-27 1h2m1 0h1m1 0h2m9 0h1m8 0h1m-9 1h2m1 0h4m19 38h1m-7 1h1m4 0h1m1 0h1m-9 1h3m3 0h4m-10 1h4m2 0h1m1 0h2m-9 1h3m1 0h5m-10 1h1m1 0h8m-10 1h2m2 0h3m1 0h2m-10 1h7m1 0h1m-10 1h3m1 0h5m-9 1h3m1 0h4m-7 1h5" stroke="#006fff"/><path d="M232 1304.5h1m-2 1h2m10 0h2m-15 1h1m3 0h1m6 0h3m2 0h2m-39 1h1m10 0h5m4 0h1m7 0h4m8 0h3m-44 1h3m7 0h2m5 0h2m1 0h1m22 0h1m-45 1h5m3 0h4m32 0h1m-50 1h6m8 0h1m-16 1h3m1 0h3m-7 1h2m3 0h1m46 0h1m-48 1h1m47 0h1m-49 1h3m45 0h1m-48 1h4m43 0h1m-47 1h4m42 0h1m-46 1h3m1 0h3m37 0h1m-44 1h3m3 0h1m36 0h1m-38 1h4m33 0h1m-38 1h4m32 0h2m-34 1h2m30 0h1m-31 1h1m2 0h1m-2 1h2m1 0h4m2 0h7m11 0h1m-25 1h1m1 0h1m1 0h2m8 0h2m7 0h1m-8 1h7" stroke="#009cf8"/><path d="M231 1306.5h3m10 0h2m-16 1h4m1 0h2m5 0h2m3 0h2m-28 1h4m4 0h2m7 0h4m7 0h1m-31 1h1m5 0h4m-21 1h1m1 0h2m5 0h2m-11 1h7m1 0h2m-11 1h3m5 0h4m33 0h1m-45 1h3m5 0h2m35 0h1m-45 1h1m1 0h1m4 0h2m35 0h1m-43 1h1m1 0h1m1 0h4m34 0h1m-42 1h5m1 0h1m33 0h2m-38 1h4m32 0h1m-36 1h4m-1 1h2m6 0h3m-10 1h4m1 0h7m18 0h1m-30 1h13m16 0h1m-26 1h2m2 0h7m14 0h1m-21 1h2m8 0h2m7 0h1m-8 1h7" stroke="#00c8f1"/><path d="M244 1307.5h3m-16 1h7m5 0h1m3 0h2m-29 1h5m4 0h7m13 0h2m-32 1h2m4 0h5m3 0h1m16 0h1m-32 1h2m30 0h1m-42 1h1m1 0h3m4 0h2m-10 1h5m2 0h3m31 0h1m-41 1h4m2 0h3m31 0h1m-39 1h1m4 0h2m30 0h2m-34 1h2m30 0h1m-32 1h2m4 0h3m1 0h1m20 0h1m-30 1h1m2 0h5m1 0h1m18 0h2m-30 1h6m3 0h3m15 0h3m-19 1h2m13 0h3m-16 1h2m12 0h2m-13 1h5m3 0h5m-8 1h7" stroke="#00d9c6"/><path d="M244 1308.5h3m-11 1h5m1 0h2m4 0h1m-28 1h4m5 0h3m1 0h3m-16 1h14m15 0h1m-30 1h2m28 0h1m-30 1h1m28 0h1m-31 1h2m1 0h3m24 0h1m-31 1h1m2 0h1m1 0h2m-7 1h2m1 0h7m19 0h1m-29 1h4m5 0h1m18 0h1m-28 1h2m7 0h2m15 0h1m-16 1h1m13 0h1m-14 1h2m10 0h1m-10 1h5m2 0h2m-4 1h3" stroke="#00e291"/><path d="M246 1309.5h2m-11 1h2m9 0h2m-15 1h1m-13 1h12m15 0h1m-28 1h6m21 0h1m-28 1h1m3 0h2m21 0h1m-29 1h2m4 0h3m19 0h1m-28 1h1m7 0h1m17 0h1m-18 1h2m15 0h1m-16 1h1m13 0h1m-14 1h1m11 0h1m-11 1h1m2 0h2m3 0h2m-4 1h2" stroke="#16e756"/><path d="M245 1309.5h1m-7 1h5m-8 1h2m10 0h2m-15 1h1m13 0h1m-21 1h6m-6 1h4m-2 1h2m16 0h1m-18 1h2m0 1h1m13 0h1m-14 1h1m11 0h1m-12 1h2m8 0h1m-9 1h2m2 0h3" stroke="#40ea18"/><path d="M244 1310.5h3m-9 1h3m6 0h1m-12 1h1m11 0h1m-14 1h1m13 0h1m-17 1h2m14 0h1m-17 1h2m-1 1h2m12 0h1m-14 1h2m10 0h1m-12 1h2m8 0h1m-9 1h5m1 0h2" stroke="#82ed00"/><path d="M241 1311.5h6m-10 1h3m7 0h1m-12 1h1m11 0h1m-14 1h2m11 0h1m-14 1h2m11 0h1m-13 1h1m10 0h1m-11 1h1m8 0h1m-9 1h4m3 0h1m-3 1h1" stroke="#d3ef00"/><path d="M240 1312.5h2m3 0h2m-10 1h2m8 0h1m-11 1h1m9 0h1m-11 1h1m9 0h1m-11 1h1m8 0h1m-9 1h3m4 0h1m-4 1h3" stroke="#f2d400"/><path d="M242 1312.5h3m-6 1h2m3 0h3m-9 1h2m6 0h1m-9 1h2m6 0h1m-9 1h3m4 0h1m-5 1h4" stroke="#ff9900"/><path d="M241 1313.5h3m-4 1h6m-6 1h6m-5 1h4" stroke="#ff3900"/></g>
<rect x="155.6" y="1219.6" width="181.0" height="180.5" fill="none" stroke="#444" stroke-width="1.2"/>
<path d="M152.6 1337.9h3M152.6 1331.9h3M152.6 1327.6h3M152.6 1324.3h3M152.6 1321.5h3M152.6 1319.2h3M152.6 1317.2h3M152.6 1315.5h3M152.6 1304.8h3M152.6 1299.4h3M152.6 1295.7h3M152.6 1292.7h3M152.6 1290.3h3M152.6 1288.3h3M152.6 1286.5h3M152.6 1285.0h3M152.6 1274.9h3M152.6 1269.8h3M152.6 1266.1h3M152.6 1263.3h3M152.6 1261.0h3M152.6 1259.1h3M152.6 1257.4h3M152.6 1255.9h3M152.6 1245.8h3M152.6 1240.7h3M152.6 1237.0h3M152.6 1234.2h3M152.6 1231.9h3M152.6 1229.9h3M152.6 1228.2h3M152.6 1226.7h3M152.6 1352.6h3M152.6 1356.6h3M152.6 1360.1h3M152.6 1363.1h3M152.6 1365.6h3M152.6 1367.6h3M152.6 1369.1h3M152.6 1372.1h3M152.6 1373.6h3M152.6 1375.6h3M152.6 1378.1h3M152.6 1381.1h3M152.6 1384.6h3M152.6 1388.1h3M152.6 1395.6h3M152.6 1398.6h3M150.6 1225.4h5M150.6 1254.6h5M150.6 1283.6h5M150.6 1313.9h5M150.6 1348.3h5M150.6 1370.6h5M150.6 1391.6h5M215.7 1400.1v3M222.0 1400.1v3M226.5 1400.1v3M229.9 1400.1v3M232.8 1400.1v3M235.2 1400.1v3M237.2 1400.1v3M239.1 1400.1v3M249.6 1400.1v3M254.8 1400.1v3M258.5 1400.1v3M261.3 1400.1v3M263.7 1400.1v3M265.6 1400.1v3M267.3 1400.1v3M268.9 1400.1v3M279.1 1400.1v3M284.3 1400.1v3M288.0 1400.1v3M290.8 1400.1v3M293.2 1400.1v3M295.1 1400.1v3M296.8 1400.1v3M298.4 1400.1v3M308.4 1400.1v3M313.5 1400.1v3M317.1 1400.1v3M319.9 1400.1v3M322.2 1400.1v3M324.1 1400.1v3M325.8 1400.1v3M327.3 1400.1v3M166.1 1400.1v3M169.1 1400.1v3M171.6 1400.1v3M174.1 1400.1v3M176.1 1400.1v3M178.1 1400.1v3M180.1 1400.1v3M181.6 1400.1v3M184.6 1400.1v3M186.6 1400.1v3M188.6 1400.1v3M190.6 1400.1v3M193.1 1400.1v3M195.6 1400.1v3M198.6 1400.1v3M201.6 1400.1v3M162.6 1400.1v5M204.9 1400.1v5M240.7 1400.1v5M270.2 1400.1v5M299.7 1400.1v5M328.6 1400.1v5M183.1 1400.1v5" stroke="#000" stroke-width="1" fill="none"/>
<rect x="179.1" y="1400.1" width="8" height="3.2" fill="#000"/>
<rect x="152.4" y="1366.6" width="3.2" height="7.5" fill="#000"/>
<text x="126.4" y="1262.6" font-size="12.6" fill="#111" stroke="#111" stroke-width="0.45">10</text>
<text x="140.2" y="1254.8" font-size="11.2" fill="#111" stroke="#111" stroke-width="0.45">6</text>
<text x="126.4" y="1291.6" font-size="12.6" fill="#111" stroke="#111" stroke-width="0.45">10</text>
<text x="140.2" y="1283.8" font-size="11.2" fill="#111" stroke="#111" stroke-width="0.45">5</text>
<text x="126.4" y="1321.9" font-size="12.6" fill="#111" stroke="#111" stroke-width="0.45">10</text>
<text x="140.2" y="1314.1" font-size="11.2" fill="#111" stroke="#111" stroke-width="0.45">4</text>
<text x="126.4" y="1356.3" font-size="12.6" fill="#111" stroke="#111" stroke-width="0.45">10</text>
<text x="140.2" y="1348.5" font-size="11.2" fill="#111" stroke="#111" stroke-width="0.45">3</text>
<text x="136.6" y="1375.6" font-size="12.6" text-anchor="middle" fill="#111" stroke="#111" stroke-width="0.45">0</text>
<text x="186.1" y="1422.2" font-size="12.6" text-anchor="middle" fill="#111" stroke="#111" stroke-width="0.45">0</text>
<text x="238.1" y="1422.2" font-size="12.6" fill="#111" stroke="#111" stroke-width="0.45">10</text>
<text x="251.7" y="1412.9" font-size="11.2" fill="#111" stroke="#111" stroke-width="0.45">4</text>
<text x="267.6" y="1422.2" font-size="12.6" fill="#111" stroke="#111" stroke-width="0.45">10</text>
<text x="281.2" y="1412.9" font-size="11.2" fill="#111" stroke="#111" stroke-width="0.45">5</text>
<text x="297.1" y="1422.2" font-size="12.6" fill="#111" stroke="#111" stroke-width="0.45">10</text>
<text x="310.7" y="1412.9" font-size="11.2" fill="#111" stroke="#111" stroke-width="0.45">6</text>
<line x1="255.6" y1="1219.6" x2="255.6" y2="1400.1" stroke="#000" stroke-width="1.5"/>
<line x1="155.6" y1="1348.3" x2="336.6" y2="1348.3" stroke="#000" stroke-width="1.5"/>
<text x="159.0" y="1238.2" font-size="12.4" stroke="#000" stroke-width="0.45">78.0</text>
<text x="320.0" y="1238.2" font-size="12.4" text-anchor="end" stroke="#000" stroke-width="0.45">6.99</text>
<text x="159.0" y="1388.3" font-size="12.4" stroke="#000" stroke-width="0.45">4.03</text>
<text x="320.0" y="1388.3" font-size="12.4" text-anchor="end" stroke="#000" stroke-width="0.45">11.0</text>
<g fill="none" stroke-width="1"><path d="M498 1274.5h1m-18 5h1m5 8h1m10 0h1m-41 1h1m-15 1h1m6 0h1m2 1h1m-3 1h1m35 0h1m10 0h1m-81 1h1m19 0h1m22 0h1m40 0h1m-101 1h1m13 0h1m1 0h1m4 0h1m38 0h1m23 0h1m-77 1h1m3 0h1m28 0h1m26 0h1m12 0h1m13 0h2m13 0h1m-57 1h1m2 0h1m3 0h1m6 0h1m14 0h1m13 0h1m-36 1h1m11 0h1m20 0h1m-82 1h2m21 0h2m8 0h1m1 0h1m2 0h1m9 0h1m3 0h1m4 0h1m34 0h1m-35 1h2m9 0h1m27 0h1m-118 1h1m3 0h1m4 0h1m4 0h1m11 0h1m48 0h1m6 0h1m15 0h1m-82 1h1m5 0h1m14 0h1m42 0h1m1 0h1m1 0h1m18 0h1m-98 1h1m11 0h2m2 0h1m1 0h1m16 0h1m-30 1h1m70 0h1m19 0h1m-100 1h1m0 1h1m5 0h1m3 0h1m76 0h1m1 0h1m-80 1h1m78 0h1m5 0h1m3 0h1m-97 1h1m5 0h1m81 0h1m3 0h1m-97 2h1m2 0h1m-9 1h1m97 0h1m7 0h1m-8 1h1m2 0h1m6 0h1m-103 1h1m89 0h1m4 0h1m7 1h1m-15 2h1m13 0h1m-107 1h1m90 0h1m7 0h1m1 0h1m-10 1h1m7 0h1m-100 1h1m87 0h1m14 0h1m7 0h1m-108 1h1m-8 1h1m107 1h1m-108 1h1m2 0h1m2 0h1m5 0h1m-16 1h1m7 0h1m2 0h1m-3 2h1m1 0h1m5 0h1m-11 1h1m14 0h1m2 0h1m7 0h1m9 0h1m62 0h1m2 0h2m-96 1h1m13 0h1m78 0h1m-83 1h1m-17 1h2m34 0h1m-13 1h1m5 0h1m3 0h1m64 0h1m-97 1h1m27 0h1m12 0h1m2 0h1m3 0h1m-43 1h1m5 0h1m25 0h1m8 0h1m52 0h1m-47 1h1m-56 1h1m15 0h1m32 0h1m1 0h1m2 0h1m43 0h1m-72 1h1m5 0h1m3 0h1m4 0h1m4 0h1m3 0h1m43 0h1m-76 1h1m17 0h1m3 0h1m18 0h1m39 0h1m-69 1h1m4 0h1m4 0h1m7 0h3m2 0h1m38 0h1m-66 1h1m27 0h1m1 0h1m33 0h1m-78 1h1m38 0h1m5 0h1m-3 1h1m30 0h1m2 0h2m-54 1h1m19 0h1m2 0h1m-38 1h1m11 0h1m18 1h1m31 0h1m9 1h1m-34 1h1m22 0h1m2 0h1m-38 1h1m4 0h1m3 0h1m-20 1h1m4 0h1m8 0h1m30 0h1m-52 1h1m21 0h1m-27 1h2m1 0h1m9 0h1m40 0h1m-41 1h1m15 0h1m32 1h1m-34 1h1m25 0h2m3 0h1m1 0h1m-81 1h1m20 0h1m12 0h1m4 0h1m-17 1h1m4 0h1m9 0h1m-33 1h1m70 0h1m-54 1h1m13 0h1m33 0h1m-56 1h1m5 0h1m6 0h1m17 0h1m25 0h1m6 0h1m-70 1h1m14 0h1m18 0h1m-28 1h1m7 0h1m4 0h1m3 0h3m3 0h1m1 0h1m-5 1h1m7 0h1m27 0h1m-62 1h1m14 1h1m4 0h1m44 0h1m-54 1h2m21 0h1m-24 1h1m2 0h1m7 0h2m1 0h1m2 0h2m39 0h1m-52 2h1m44 0h1m-50 1h1m11 0h1m-30 1h1m1 0h1m6 0h1m11 0h1m2 0h1m8 0h1m30 0h1m31 0h1m-80 1h1m-10 1h1m18 0h1m6 0h1m-36 1h1m15 0h2m6 0h1m45 0h1m-48 1h1m50 0h1m-61 1h1m2 0h1m-11 1h1m8 0h1m12 0h1m1 0h1m2 0h2m34 0h1m-82 2h1m21 0h1m9 0h1m6 0h1m6 0h1m-6 1h1m-19 1h1m18 0h1m-15 1h1m6 0h1m2 0h1m37 0h1m-59 1h1m18 0h1m11 0h1m-15 1h1m12 0h1m26 0h1m-57 1h1m26 0h1m-24 1h1m8 1h1m13 0h1m26 0h1m-44 2h1m4 0h1m12 0h2m26 0h1m1 0h1m-55 1h1m12 0h1m13 0h1m0 1h1m1 0h1m28 0h1m-57 1h1m45 0h1m-3 1h1m-58 1h1m36 0h1m6 0h1m15 0h2m-74 1h1m33 0h1m16 0h1m8 0h1m6 0h1m2 0h1m-14 1h1m10 1h1m-9 1h1m10 0h1m-16 1h1" stroke="#5a5aff" stroke-opacity="0.65"/><path d="M460 1297.5h2m-35 1h2m13 0h1m16 0h1m1 0h1m-35 1h2m2 0h2m9 0h1m2 0h1m6 0h1m3 0h1m5 0h1m3 0h1m-33 1h1m8 0h1m2 0h1m1 0h1m3 0h1m1 0h1m1 0h1m7 0h2m2 0h1m1 0h1m-43 1h2m2 0h1m1 0h1m5 0h1m1 0h1m2 0h1m2 0h1m3 0h2m5 0h1m10 0h2m4 0h1m6 0h1m-59 1h1m2 0h2m5 0h1m5 0h1m6 0h1m6 0h1m19 0h1m1 0h1m6 0h2m-67 1h1m1 0h1m4 0h1m2 0h2m5 0h1m2 0h1m9 0h3m25 0h1m-60 1h1m5 0h3m5 0h3m3 0h1m40 0h1m4 0h1m1 0h2m-80 1h2m9 0h1m2 0h1m57 0h2m4 0h1m1 0h2m-83 1h1m10 0h2m1 0h1m60 0h1m5 0h1m4 0h1m-85 1h1m6 0h1m1 0h1m64 0h1m1 0h1m-76 1h1m5 0h1m66 0h1m3 0h1m3 0h1m1 0h2m-88 1h1m5 0h2m72 0h1m2 0h1m-86 1h2m2 0h1m1 0h2m1 0h1m70 0h1m1 0h1m1 0h1m1 0h1m-85 1h1m1 0h1m80 0h1m-82 1h1m74 0h1m5 0h2m4 0h1m2 0h1m-94 1h2m2 0h2m1 0h1m82 0h2m1 0h1m-97 1h1m1 0h1m4 0h1m2 0h2m80 0h2m-94 1h1m10 0h1m70 0h2m-83 1h2m1 0h1m2 0h1m1 0h1m73 0h1m1 0h1m-79 1h1m1 0h1m2 0h1m72 0h1m2 0h1m-83 1h2m1 0h1m2 0h1m1 0h1m78 0h1m1 0h1m1 0h1m-92 1h1m1 0h2m5 0h1m73 0h1m1 0h2m3 0h2m-92 1h1m14 0h1m67 0h1m7 0h1m-85 1h1m6 0h1m2 0h2m64 0h1m2 0h1m3 0h1m-84 1h2m1 0h1m2 0h1m2 0h1m64 0h1m1 0h1m4 0h1m2 0h1m-86 1h4m3 0h1m3 0h3m1 0h3m3 0h1m55 0h1m7 0h2m-82 1h1m11 0h1m58 0h1m2 0h1m3 0h3m-68 1h2m2 0h1m5 0h1m1 0h1m4 0h1m-18 1h1m1 0h1m7 0h2m6 0h1m1 0h1m41 0h1m3 0h1m-64 1h1m12 0h1m2 0h1m1 0h1m1 0h1m39 0h1m1 0h3m-66 1h2m11 0h2m5 0h1m3 0h2m14 0h1m23 0h1m1 0h1m-52 1h1m10 0h2m6 0h1m2 0h2m1 0h1m25 0h1m-40 1h1m3 0h1m1 0h1m1 0h2m3 0h1m1 0h1m20 0h1m2 0h1m-41 1h1m5 0h2m3 0h1m2 0h1m6 0h2m-17 1h4m4 0h1m1 0h1m1 0h1m1 0h2m1 0h2m16 0h1m-29 1h2m5 0h1m12 0h1m1 0h1m2 0h1m2 0h1m-37 1h1m2 0h1m5 0h1m1 0h2m3 0h1m11 0h3m2 0h1m-26 1h1m1 0h2m4 0h1m14 0h1m1 0h3m-26 1h1m21 0h1m-25 1h1m7 0h1m11 0h2m4 0h1m-26 1h1m18 0h1m1 0h2m1 0h1m-23 1h1m1 0h2m1 0h1m9 0h1m3 0h1m-19 1h2m2 0h1m7 0h1m6 0h1m-15 1h1m5 0h1m3 0h3m-15 1h1m7 0h1m1 0h1m1 0h1m4 0h1m-18 1h1m2 0h1m7 0h1m1 0h1m2 0h1m-18 1h2m6 0h1m3 0h1m2 0h2m-18 1h1m3 0h3m3 0h2m2 0h1m1 0h1m3 0h1m-20 1h1m4 0h1m1 0h1m2 0h1m1 0h1m-13 1h1m5 0h1m4 0h1m1 0h2m3 0h1m1 0h1m-7 1h2m-17 1h2m7 0h1m9 0h1m-26 1h1m16 0h3m4 0h2m-26 1h1m6 0h1m10 0h1m3 0h1m2 0h1m-26 1h1m4 0h1m3 0h2m11 0h2m3 0h1m-27 1h2m4 0h2m15 0h1m-27 1h3m4 0h1m1 0h2m1 0h2m2 0h1m1 0h1m7 0h1m1 0h1m-29 1h1m5 0h1m1 0h3m1 0h1m2 0h1m1 0h1m11 0h1m-27 1h1m12 0h1m-6 1h2m2 0h1m11 0h1m4 1h1m-45 1h2m21 0h1m15 0h1m1 0h2m1 0h1m-25 1h2m1 0h1m17 0h2m0 1h1m-2 1h1m1 1h1m-27 1h2m24 0h1m-29 1h2m1 0h1m1 0h2m21 0h1m-23 1h1m22 0h1m-38 1h1m1 0h1m10 0h1m-13 1h1m12 0h1m-16 1h1m12 0h2m25 0h2m-30 1h2m25 0h3m-30 1h1m1 0h1m24 1h1m0 1h1m-27 1h1m24 0h1m-27 1h1m25 0h1m-27 1h1m25 0h2m-26 1h1m22 0h1m-2 1h1m-21 2h1m-3 1h2m1 0h1m17 0h1m-21 1h1m1 0h1m1 0h1m-2 1h1m-2 1h1m1 0h1m-3 1h1m4 0h1m5 0h1m4 0h1m-13 1h1m1 0h1m5 0h2m1 0h1m2 0h2m-16 1h1m3 0h1m4 0h2m4 0h1m-12 1h1m2 0h1m1 0h2m-6 1h1m-2 1h1m1 0h1m1 0h2m1 0h1" stroke="#2828ff" stroke-opacity="0.8"/><path d="M461 1300.5h2m-2 1h1m2 0h2m-20 1h1m12 0h1m6 0h1m1 0h3m2 0h2m-34 1h4m1 0h1m7 0h2m1 0h1m1 0h1m10 0h4m-32 1h1m8 0h1m2 0h1m2 0h1m17 0h3m-51 1h3m2 0h1m2 0h2m1 0h1m1 0h3m9 0h3m1 0h1m20 0h1m-55 1h5m3 0h2m1 0h2m2 0h3m39 0h1m-61 1h1m2 0h1m1 0h1m1 0h3m1 0h1m46 0h1m-60 1h1m1 0h2m57 0h3m-65 1h2m1 0h2m59 0h1m-67 1h5m62 0h1m-73 1h1m1 0h4m1 0h2m1 0h1m-11 1h2m2 0h1m2 0h1m1 0h2m-5 1h3m63 0h1m-69 1h2m2 0h2m-5 1h3m1 0h1m-5 1h4m1 0h1m61 0h3m-68 1h1m1 0h1m1 0h2m60 0h1m-66 1h1m1 0h2m3 0h1m58 0h1m-65 1h2m3 0h2m57 0h1m-64 1h2m4 0h1m57 0h2m-59 1h1m1 0h5m50 0h1m1 0h1m-53 1h2m1 0h3m1 0h1m43 0h2m-52 1h2m3 0h1m1 0h1m3 0h1m1 0h2m34 0h2m1 0h1m-46 1h1m1 0h4m3 0h1m23 0h2m8 0h2m-34 1h1m1 0h1m18 0h1m1 0h8m3 0h1m1 0h1m-36 1h1m1 0h3m15 0h3m5 0h3m2 0h1m2 0h2m-36 1h2m3 0h1m3 0h1m1 0h1m2 0h2m2 0h1m1 0h3m1 0h2m2 0h7m1 0h2m-31 1h1m2 0h1m1 0h1m7 0h1m1 0h1m3 0h1m5 0h3m-26 1h1m9 0h5m5 0h1m1 0h1m1 0h4m1 0h1m-19 1h1m1 0h1m5 0h1m1 0h1m3 0h1m1 0h3m-16 1h1m6 0h1m1 0h2m2 0h2m-9 1h3m2 0h2m-8 1h1m1 0h1m1 0h2m-6 1h5m-8 1h3m1 0h1m3 0h1m-9 1h1m1 0h1m1 0h3m1 0h3m-10 1h1m1 0h4m2 0h1m-10 1h1m1 0h2m1 0h2m1 0h3m-10 1h1m2 0h1m1 0h2m-8 1h1m1 1h3m-2 1h2m-3 1h2m1 0h1m-3 1h1m-6 1h1m1 1h1m-3 1h1m1 0h2m-3 1h4m-4 1h1m1 1h6m-5 1h1m2 0h1m-5 1h1m2 0h4m-6 1h2m1 0h1m2 0h1m1 0h1m-3 1h1m1 0h3m-5 1h1m3 0h1m0 1h1m-8 1h1m2 0h1m2 0h1m-10 1h1m2 0h2m4 0h1m-13 1h1m1 0h1m1 0h1m4 0h6m-14 1h1m1 0h1m8 0h3m-15 1h1m1 0h1m11 0h3m-18 1h4m12 0h2m-17 1h1m15 0h1m1 0h1m-20 1h2m15 0h1m1 0h1m-18 1h1m15 0h1m-18 1h1m18 0h1m-20 1h2m-2 1h1m19 0h1m-21 1h2m-3 1h1m1 0h1m-4 1h1m21 0h1m-23 1h1m21 0h2m-2 1h2m-24 1h2m-1 1h1m19 0h3m-23 1h2m17 0h1m2 0h1m-21 2h2m16 0h1m-19 1h1m1 0h1m14 0h2m-17 1h2m-1 1h2m0 1h1m10 0h2m-12 1h3m2 0h2m-4 1h2m2 0h2m-9 1h4" stroke="#0d4bff"/><path d="M461 1302.5h1m1 0h3m-6 1h4m1 0h2m-23 1h4m11 0h2m6 0h1m2 0h1m1 0h2m-26 1h1m1 0h2m5 0h2m16 0h1m-34 1h1m7 0h3m2 0h3m17 0h2m-44 1h1m1 0h2m1 0h4m12 0h2m20 0h2m-53 1h5m2 0h7m38 0h2m-55 1h2m11 0h1m40 0h3m-59 1h1m1 0h1m55 0h3m-61 1h2m57 0h1m-59 1h1m58 0h1m-61 1h1m59 0h1m-61 1h2m58 0h1m-62 1h1m1 0h3m1 0h1m54 0h1m-60 1h4m1 0h1m-3 1h2m1 0h2m1 0h1m-6 1h4m1 0h1m1 0h1m48 0h1m-55 1h2m1 0h3m48 0h1m-53 1h1m1 0h1m1 0h1m1 0h5m-5 1h1m4 0h2m1 0h1m3 0h3m31 0h3m-41 1h3m3 0h2m29 0h4m-41 1h3m5 0h1m26 0h1m1 0h2m1 0h1m-32 1h2m3 0h1m20 0h1m1 0h3m-26 1h2m9 0h6m-14 1h2m1 0h1m1 0h2m1 0h1m-7 1h1m24 6h1m2 22h3m-3 1h3m-2 1h2m-2 1h2m-6 1h2m-3 1h4m1 0h1m-7 1h2m1 0h1m1 0h3m-8 1h1m1 0h1m6 0h2m-13 1h3m8 0h1m-13 1h2m11 0h1m-13 1h1m15 1h1m-17 1h2m13 0h2m-16 1h1m14 0h2m-18 1h2m12 0h1m1 0h2m-18 1h1m12 0h1m1 0h3m-19 1h2m12 0h2m1 0h2m-20 1h3m11 0h4m1 0h1m-21 1h3m1 0h1m10 0h2m2 0h1m-19 1h1m1 0h1m15 0h1m-17 1h1m14 0h2m-16 1h1m-1 1h2m12 0h1m-15 1h1m12 0h1m-13 1h2m10 0h2m-12 1h2m1 0h1m1 0h2m-7 1h8m2 0h2m-10 1h1m1 0h3m1 0h1m1 0h1" stroke="#075cff"/><path d="M462 1304.5h2m2 0h1m-22 1h2m12 0h2m7 0h6m-30 1h3m1 0h2m8 0h2m13 0h2m-32 1h1m4 0h4m6 0h1m15 0h1m-34 1h2m9 0h2m21 0h2m-48 1h8m3 0h2m34 0h2m-52 1h1m1 0h4m3 0h6m37 0h1m-55 1h3m10 0h2m39 0h1m1 0h1m-57 1h2m54 0h1m-57 1h2m55 0h1m-58 1h1m1 0h2m0 1h2m1 0h3m47 0h1m-52 1h5m46 0h1m-48 1h2m45 0h1m-47 1h5m41 0h2m-47 1h9m37 0h1m-40 1h3m1 0h5m30 0h2m-38 1h3m33 0h1m-30 1h1m22 0h1m1 0h3m-27 1h3m1 0h3m14 0h1m-15 1h2m6 0h6m-13 1h8m-6 1h1m25 36h4m-5 1h6m-8 1h3m4 0h3m-10 1h2m7 0h2m-11 1h1m8 0h3m-12 1h1m9 0h3m-13 1h1m8 0h5m-14 1h2m7 0h3m-12 1h1m7 0h2m-11 1h2m-2 1h2m7 0h1m-1 1h1m4 0h1m-5 1h2m1 0h2m-14 1h1m8 0h2m1 0h1m-13 1h1m9 0h3m-12 1h2m6 0h1m1 0h1m-10 1h8m1 0h1m-9 1h2m1 0h1m4 0h1m-3 1h4m-3 1h2" stroke="#006fff"/><path d="M463 1305.5h2m1 0h2m-8 1h4m6 0h3m-29 1h3m12 0h3m10 0h2m-30 1h8m3 0h4m1 0h1m12 0h2m-33 1h2m3 0h1m1 0h6m19 0h2m-43 1h2m7 0h1m8 0h3m21 0h2m-50 1h6m1 0h2m3 0h3m9 0h2m23 0h2m-52 1h6m1 0h9m36 0h2m-53 1h5m1 0h7m39 0h2m-53 1h6m1 0h4m41 0h1m-47 1h4m1 0h1m40 0h1m-46 1h5m40 0h1m-44 1h1m1 0h2m38 0h2m-41 1h1m1 0h4m34 0h1m-35 1h7m27 0h2m-30 1h2m24 0h4m-29 1h2m22 0h4m-26 1h7m12 0h2m-14 1h2m7 0h1m1 0h2m-12 1h5m23 40h2m-4 1h7m-8 1h7m-7 1h3m3 0h3m-7 1h1m3 0h2m-7 1h1m4 0h2m-7 1h1m-2 1h1m5 0h1m-7 1h2m3 0h2m-7 1h2m3 0h2m-7 1h3m1 0h3m-7 1h5m1 0h2m-7 1h1m1 0h4m1 0h1m-7 1h6" stroke="#009cf8"/><path d="M464 1306.5h5m-7 1h3m5 0h2m-11 1h2m8 0h1m-28 1h2m9 0h5m1 0h1m10 0h2m-31 1h1m1 0h1m1 0h4m3 0h2m17 0h2m-32 1h8m2 0h2m19 0h2m-33 1h2m3 0h7m20 0h2m-37 1h5m6 0h2m1 0h1m22 0h2m-40 1h3m1 0h3m32 0h2m-40 1h6m32 0h2m-40 1h6m32 0h2m-39 1h5m32 0h1m-33 1h8m24 0h2m-26 1h2m21 0h3m-26 1h1m1 0h2m18 0h2m-23 1h9m11 0h2m-14 1h2m7 0h2m-10 1h1m1 0h2m1 0h2m20 44h2m-2 1h3m-3 1h3m-4 1h4m-5 1h5m-4 1h3m-3 1h3" stroke="#00c8f1"/><path d="M465 1307.5h5m-7 1h2m5 0h1m-9 1h2m7 0h1m-16 1h6m10 0h1m-18 1h5m13 0h1m-29 1h3m7 0h4m15 0h1m-30 1h6m4 0h4m16 0h2m-31 1h11m19 0h2m-32 1h8m23 0h1m-32 1h8m23 0h1m-31 1h8m22 0h1m-24 1h6m16 0h2m-22 1h5m15 0h1m-19 1h7m10 0h1m-12 1h2m6 0h3m-10 1h7" stroke="#00d9c6"/><path d="M465 1308.5h5m-6 1h1m5 0h1m-9 1h2m7 0h1m-12 1h2m10 0h1m-14 1h2m12 0h1m-15 1h1m14 0h1m-18 1h3m15 0h1m-21 1h5m16 0h1m-23 1h5m17 0h1m-22 1h6m15 0h1m-17 1h2m13 0h1m-15 1h4m10 0h1m-11 1h2m5 0h3m-9 1h3m1 0h2" stroke="#00e291"/><path d="M465 1309.5h2m2 0h1m-6 1h1m-3 1h1m8 0h1m-11 1h1m10 0h1m-13 1h1m12 0h1m-14 1h1m13 0h1m-15 1h1m13 0h2m-16 1h1m14 0h1m-15 1h1m12 0h2m-14 1h2m10 0h1m-9 1h1m5 0h3m-8 1h2m1 0h2m-3 1h1" stroke="#16e756"/><path d="M467 1309.5h2m-4 1h1m4 0h1m-8 1h2m-3 1h1m8 0h1m-11 1h1m10 0h1m-12 1h1m11 0h1m-13 1h1m11 0h1m-13 1h1m11 0h2m-13 1h1m10 0h1m-10 1h3m5 0h2m-7 1h5m-3 1h1" stroke="#40ea18"/><path d="M466 1310.5h4m-5 1h1m4 0h1m-8 1h1m-2 1h1m8 0h1m-10 1h1m9 0h1m-11 1h1m9 0h1m-11 1h1m9 0h1m-10 1h3m5 0h2m-6 1h5" stroke="#82ed00"/><path d="M466 1311.5h4m-6 1h2m4 0h1m-8 1h2m-2 1h1m7 0h1m-1 1h1m-9 1h2m6 0h1m-6 1h5" stroke="#d3ef00"/><path d="M466 1312.5h2m1 0h1m-5 1h1m4 0h1m-7 1h1m-2 1h2m0 1h2m3 0h1" stroke="#f2d400"/><path d="M468 1312.5h1m-3 1h2m1 0h1m-5 1h2m3 0h1m-6 1h2m3 0h1m-4 1h3" stroke="#ff9900"/><path d="M468 1313.5h1m-2 1h3m-3 1h3" stroke="#ff3900"/></g>
<rect x="384.3" y="1219.6" width="181.0" height="180.5" fill="none" stroke="#444" stroke-width="1.2"/>
<path d="M381.3 1337.9h3M381.3 1331.9h3M381.3 1327.6h3M381.3 1324.3h3M381.3 1321.5h3M381.3 1319.2h3M381.3 1317.2h3M381.3 1315.5h3M381.3 1304.8h3M381.3 1299.4h3M381.3 1295.7h3M381.3 1292.7h3M381.3 1290.3h3M381.3 1288.3h3M381.3 1286.5h3M381.3 1285.0h3M381.3 1274.9h3M381.3 1269.8h3M381.3 1266.1h3M381.3 1263.3h3M381.3 1261.0h3M381.3 1259.1h3M381.3 1257.4h3M381.3 1255.9h3M381.3 1245.8h3M381.3 1240.7h3M381.3 1237.0h3M381.3 1234.2h3M381.3 1231.9h3M381.3 1229.9h3M381.3 1228.2h3M381.3 1226.7h3M381.3 1352.6h3M381.3 1356.6h3M381.3 1360.1h3M381.3 1363.1h3M381.3 1365.6h3M381.3 1367.6h3M381.3 1369.1h3M381.3 1372.1h3M381.3 1373.6h3M381.3 1375.6h3M381.3 1378.1h3M381.3 1381.1h3M381.3 1384.6h3M381.3 1388.1h3M381.3 1395.6h3M381.3 1398.6h3M379.3 1225.4h5M379.3 1254.6h5M379.3 1283.6h5M379.3 1313.9h5M379.3 1348.3h5M379.3 1370.6h5M379.3 1391.6h5M444.4 1400.1v3M450.7 1400.1v3M455.2 1400.1v3M458.6 1400.1v3M461.5 1400.1v3M463.9 1400.1v3M465.9 1400.1v3M467.8 1400.1v3M478.3 1400.1v3M483.5 1400.1v3M487.2 1400.1v3M490.0 1400.1v3M492.4 1400.1v3M494.3 1400.1v3M496.0 1400.1v3M497.6 1400.1v3M507.8 1400.1v3M513.0 1400.1v3M516.7 1400.1v3M519.5 1400.1v3M521.9 1400.1v3M523.8 1400.1v3M525.5 1400.1v3M527.1 1400.1v3M537.1 1400.1v3M542.2 1400.1v3M545.8 1400.1v3M548.6 1400.1v3M550.9 1400.1v3M552.8 1400.1v3M554.5 1400.1v3M556.0 1400.1v3M394.8 1400.1v3M397.8 1400.1v3M400.3 1400.1v3M402.8 1400.1v3M404.8 1400.1v3M406.8 1400.1v3M408.8 1400.1v3M410.3 1400.1v3M413.3 1400.1v3M415.3 1400.1v3M417.3 1400.1v3M419.3 1400.1v3M421.8 1400.1v3M424.3 1400.1v3M427.3 1400.1v3M430.3 1400.1v3M391.3 1400.1v5M433.6 1400.1v5M469.4 1400.1v5M498.9 1400.1v5M528.4 1400.1v5M557.3 1400.1v5M411.8 1400.1v5" stroke="#000" stroke-width="1" fill="none"/>
<rect x="407.8" y="1400.1" width="8" height="3.2" fill="#000"/>
<rect x="381.1" y="1366.6" width="3.2" height="7.5" fill="#000"/>
<text x="355.1" y="1262.6" font-size="12.6" fill="#111" stroke="#111" stroke-width="0.45">10</text>
<text x="368.9" y="1254.8" font-size="11.2" fill="#111" stroke="#111" stroke-width="0.45">6</text>
<text x="355.1" y="1291.6" font-size="12.6" fill="#111" stroke="#111" stroke-width="0.45">10</text>
<text x="368.9" y="1283.8" font-size="11.2" fill="#111" stroke="#111" stroke-width="0.45">5</text>
<text x="355.1" y="1321.9" font-size="12.6" fill="#111" stroke="#111" stroke-width="0.45">10</text>
<text x="368.9" y="1314.1" font-size="11.2" fill="#111" stroke="#111" stroke-width="0.45">4</text>
<text x="355.1" y="1356.3" font-size="12.6" fill="#111" stroke="#111" stroke-width="0.45">10</text>
<text x="368.9" y="1348.5" font-size="11.2" fill="#111" stroke="#111" stroke-width="0.45">3</text>
<text x="365.3" y="1375.6" font-size="12.6" text-anchor="middle" fill="#111" stroke="#111" stroke-width="0.45">0</text>
<text x="414.8" y="1422.2" font-size="12.6" text-anchor="middle" fill="#111" stroke="#111" stroke-width="0.45">0</text>
<text x="466.8" y="1422.2" font-size="12.6" fill="#111" stroke="#111" stroke-width="0.45">10</text>
<text x="480.4" y="1412.9" font-size="11.2" fill="#111" stroke="#111" stroke-width="0.45">4</text>
<text x="496.3" y="1422.2" font-size="12.6" fill="#111" stroke="#111" stroke-width="0.45">10</text>
<text x="509.9" y="1412.9" font-size="11.2" fill="#111" stroke="#111" stroke-width="0.45">5</text>
<text x="525.8" y="1422.2" font-size="12.6" fill="#111" stroke="#111" stroke-width="0.45">10</text>
<text x="539.4" y="1412.9" font-size="11.2" fill="#111" stroke="#111" stroke-width="0.45">6</text>
<line x1="484.3" y1="1219.6" x2="484.3" y2="1400.1" stroke="#000" stroke-width="1.5"/>
<line x1="384.3" y1="1348.3" x2="565.3" y2="1348.3" stroke="#000" stroke-width="1.5"/>
<text x="387.7" y="1238.2" font-size="12.4" stroke="#000" stroke-width="0.45">74.4</text>
<text x="548.7" y="1238.2" font-size="12.4" text-anchor="end" stroke="#000" stroke-width="0.45">6.60</text>
<text x="387.7" y="1388.3" font-size="12.4" stroke="#000" stroke-width="0.45">4.75</text>
<text x="548.7" y="1388.3" font-size="12.4" text-anchor="end" stroke="#000" stroke-width="0.45">14.3</text>
<g fill="none" stroke-width="1"><path d="M700 1276.5h1m-11 3h1m39 1h1m-47 6h1m-15 2h1m47 0h1m3 1h1m6 0h1m-75 1h1m12 0h1m51 0h1m15 0h1m-77 1h1m15 0h1m15 0h1m2 0h1m2 0h1m18 0h1m-34 1h1m36 0h1m3 0h1m-88 1h1m31 0h1m35 0h1m2 0h1m-41 2h1m9 0h1m11 0h1m32 0h1m9 0h1m-67 1h2m4 0h1m12 0h1m6 0h1m34 0h1m3 0h1m-77 1h1m22 0h1m15 0h1m5 0h2m14 0h2m13 0h1m-95 1h1m23 0h1m4 0h1m2 0h1m4 0h1m24 0h1m12 0h2m2 0h1m5 0h1m6 0h1m3 0h1m-100 1h1m3 0h1m6 0h1m4 0h2m52 0h1m5 0h1m12 0h1m9 0h1m-81 1h2m10 0h1m6 0h1m50 0h1m6 0h1m-94 1h1m16 0h2m59 0h1m4 0h2m9 0h1m-14 1h1m2 0h1m17 0h1m-17 1h1m1 0h1m-89 1h1m80 0h1m-82 1h1m1 0h2m81 0h1m-90 1h1m92 0h1m-94 1h1m101 0h1m-104 1h1m93 0h1m4 0h2m7 0h1m-107 1h1m-3 1h1m98 0h1m-110 1h1m104 0h1m9 0h1m-110 1h1m0 1h1m109 0h1m-111 1h1m101 2h1m-100 2h1m97 0h1m-93 1h1m4 1h1m83 0h1m3 0h1m-103 1h1m7 0h1m2 0h1m85 1h1m-94 1h1m5 0h1m83 0h1m-91 1h1m17 0h1m73 0h1m3 0h1m-95 1h1m3 0h1m9 0h1m76 0h1m4 0h1m-85 1h1m86 0h1m-96 1h1m21 0h1m69 0h1m-82 1h1m-18 1h1m13 0h1m1 0h1m3 0h1m14 0h1m4 0h1m56 0h1m-88 1h1m8 0h1m27 0h1m10 0h1m35 0h1m4 0h1m1 0h1m-92 1h1m6 0h1m9 0h1m1 0h1m5 0h1m3 0h1m11 0h1m52 0h1m-82 1h1m21 0h1m53 0h1m1 0h1m-76 1h1m22 0h2m11 0h1m43 0h1m-86 1h1m74 0h1m-66 1h1m64 0h1m4 0h1m-82 1h1m10 0h1m23 1h1m14 0h1m21 0h1m-83 1h1m53 0h2m61 0h1m-83 1h1m9 0h1m43 0h2m3 0h1m3 0h1m-37 1h1m27 0h1m-55 1h1m1 0h1m2 0h1m10 0h1m8 0h1m-46 1h1m45 0h1m20 0h1m1 0h1m4 0h1m-31 1h1m25 0h1m2 0h1m-40 1h1m-32 1h1m26 0h1m12 0h1m-36 1h1m13 0h1m23 0h1m-24 1h1m11 0h1m34 0h1m-76 1h1m33 0h1m17 0h1m23 0h1m21 0h1m-55 1h1m3 0h1m-3 1h1m27 0h1m-64 1h1m38 0h1m-34 1h1m58 0h1m-33 1h1m-34 1h1m14 0h1m6 0h1m5 0h1m1 0h1m-27 1h1m7 0h1m6 0h1m-4 1h1m12 1h1m6 0h1m-15 1h1m-5 1h1m5 0h1m5 0h1m1 0h1m5 0h1m32 0h1m-88 1h1m36 1h1m-16 1h1m17 0h1m5 0h1m1 0h1m3 0h1m-21 1h1m5 0h1m13 0h1m2 1h1m-20 1h1m17 0h1m31 0h1m-69 1h1m18 0h1m48 0h1m-78 1h1m28 0h1m9 0h1m-26 1h1m7 0h1m10 0h1m2 0h1m5 0h1m4 0h1m-45 1h1m78 0h1m4 0h1m-71 1h1m14 0h1m-12 1h1m23 0h1m-1 1h1m34 0h1m-74 1h1m11 0h1m14 1h1m42 0h1m-57 1h1m1 1h1m22 0h1m31 1h1m-46 1h1m8 0h1m2 0h1m2 0h1m28 1h1m-43 1h1m2 0h1m-24 1h2m30 0h1m28 0h1m-68 1h1m27 1h1m39 0h1m-37 1h1m-16 1h1m47 0h1m-70 1h1m21 0h1m41 1h1m-20 1h1m5 0h1m6 0h1m6 0h1m6 0h1m-49 1h1m30 0h1m4 0h2m9 0h1m-36 1h1m27 1h1m-8 1h1m7 0h1m-53 4h1m34 0h1" stroke="#5a5aff" stroke-opacity="0.65"/><path d="M675 1297.5h1m17 0h1m-20 1h1m17 0h2m1 0h1m-9 1h1m2 0h1m4 0h1m-20 1h1m2 0h1m5 0h2m2 0h1m2 0h1m3 0h1m4 0h2m2 0h1m-39 1h1m2 0h1m1 0h1m5 0h1m1 0h1m7 0h1m4 0h1m8 0h4m-45 1h3m6 0h1m6 0h3m1 0h1m7 0h4m13 0h1m3 0h2m1 0h1m1 0h1m1 0h1m-70 1h3m9 0h1m1 0h1m3 0h1m5 0h2m1 0h1m29 0h1m8 0h1m2 0h2m-75 1h2m2 0h1m1 0h1m3 0h1m4 0h1m4 0h1m48 0h1m2 0h1m-70 1h1m1 0h1m1 0h1m6 0h1m2 0h2m52 0h1m1 0h1m1 0h1m-75 1h2m1 0h1m69 0h1m-75 1h1m1 0h2m68 0h1m1 0h1m-80 1h1m4 0h1m71 0h1m5 0h1m1 0h1m1 0h1m-88 1h1m1 0h1m3 0h3m69 0h1m4 0h2m1 0h1m-86 1h1m1 0h2m77 0h1m1 0h1m3 0h1m-94 1h1m3 0h1m2 0h2m2 0h1m73 0h3m3 0h1m-92 1h1m9 0h1m1 0h1m75 0h1m2 0h1m1 0h1m-94 1h1m1 0h2m1 0h2m3 0h1m77 0h1m1 0h1m-90 1h1m1 0h1m4 0h2m1 0h1m79 0h1m2 0h1m1 0h3m-97 1h3m3 0h1m82 0h1m-85 1h1m1 0h2m76 0h1m2 0h1m1 0h2m2 0h1m-88 1h1m1 0h2m74 0h1m3 0h1m4 0h1m-83 1h1m69 0h1m4 0h1m1 0h1m1 0h1m-87 1h1m3 0h1m4 0h1m66 0h1m2 0h2m3 0h1m1 0h1m-74 1h1m71 0h1m1 0h1m-80 1h3m1 0h1m66 0h1m1 0h1m-73 1h1m4 0h1m2 0h2m2 0h1m2 0h1m51 0h1m3 0h1m-67 1h2m4 0h1m3 0h1m54 0h1m1 0h1m-67 1h1m9 0h1m51 0h1m-55 1h1m2 0h2m1 0h1m47 0h2m3 0h2m-62 1h1m3 0h1m4 0h1m2 0h1m46 0h1m-58 1h1m2 0h1m4 0h1m3 0h1m1 0h1m3 0h1m34 0h1m6 0h1m-59 1h2m24 0h1m24 0h2m1 0h1m2 0h3m-51 1h2m8 0h3m6 0h1m4 0h3m-7 1h1m8 0h1m12 0h2m-25 1h2m1 0h1m6 0h1m20 0h1m2 0h1m-31 1h1m1 0h1m6 0h2m6 0h3m1 0h1m6 0h2m-30 1h2m2 0h1m7 0h1m7 0h2m5 0h1m1 0h1m-28 1h1m1 0h1m3 0h1m1 0h1m1 0h1m4 0h3m3 0h2m1 0h1m3 0h1m-29 1h2m4 0h1m3 0h1m7 0h1m1 0h1m1 0h1m2 0h3m-27 1h1m3 0h1m2 0h1m19 0h1m-21 1h2m11 0h2m-13 1h1m11 0h1m-13 1h1m11 0h1m-12 1h1m1 0h2m9 0h1m-16 1h1m14 0h1m-16 1h1m2 0h1m10 0h1m-13 1h2m-6 1h1m2 0h1m1 0h2m11 0h2m-20 1h2m15 0h1m-17 1h1m2 0h1m10 0h1m1 0h4m-18 1h1m11 1h1m2 0h1m1 0h1m1 0h1m-19 1h1m11 0h1m4 0h1m-19 1h1m9 0h1m4 0h1m-5 1h2m2 0h1m-20 1h1m1 0h1m10 0h1m8 0h1m-22 1h1m1 0h2m1 0h1m-1 1h1m15 0h1m-22 1h2m20 0h1m2 1h1m-26 1h1m20 0h1m-21 1h1m20 0h3m-26 1h1m20 0h1m4 0h1m-27 1h1m2 0h1m-12 1h1m8 0h1m26 0h1m-27 1h1m25 0h1m-26 1h1m-1 1h1m-3 1h2m-1 4h1m26 0h2m-32 1h1m1 0h1m28 0h1m-2 1h1m-30 1h1m26 0h1m-26 1h1m-3 1h1m2 0h1m0 1h1m23 0h1m-29 1h1m2 0h2m21 0h1m-24 2h2m1 0h1m0 1h1m-3 1h1m21 0h1m-21 1h1m17 0h1m-21 1h2m14 0h1m4 0h1m-23 1h2m5 0h3m1 0h1m3 0h1m4 0h1m1 0h1m-23 1h1m4 0h1m1 0h1m4 0h1m1 0h1m3 0h2m-20 1h1m1 0h2m9 0h1m1 0h4m-18 1h1m3 0h1m1 0h3m1 0h1m-7 1h1m4 0h1" stroke="#2828ff" stroke-opacity="0.8"/><path d="M685 1301.5h1m8 0h1m1 0h1m1 0h1m2 0h1m-19 1h1m1 0h2m7 0h3m1 0h4m-23 1h1m6 0h1m12 0h3m1 0h2m5 0h1m-46 1h4m1 0h2m3 0h2m2 0h2m5 0h1m1 0h2m12 0h2m2 0h1m1 0h2m1 0h2m-61 1h2m6 0h1m4 0h1m-13 1h2m1 0h3m54 0h1m-63 1h2m60 0h1m-64 1h1m62 0h3m-66 1h2m61 0h1m-66 1h2m64 0h1m-67 1h2m66 0h1m1 0h1m4 0h1m-77 1h1m1 0h1m67 0h1m2 0h1m2 0h2m-76 1h1m68 0h3m-75 1h3m4 0h1m64 0h1m1 0h1m-73 1h4m1 0h2m1 0h1m61 0h3m-75 1h3m1 0h2m1 0h1m63 0h1m1 0h2m-70 1h5m62 0h3m-71 1h3m2 0h3m57 0h3m-66 1h1m1 0h1m2 0h1m56 0h2m-63 1h1m4 0h1m1 0h1m-9 1h1m8 0h2m2 0h2m1 0h1m43 0h1m1 0h1m-45 1h1m41 0h1m1 0h1m1 0h1m-48 1h3m2 0h2m1 0h1m33 0h2m2 0h2m-48 1h3m1 0h1m1 0h1m2 0h1m3 0h2m1 0h1m24 0h1m2 0h2m1 0h2m-46 1h3m2 0h6m1 0h2m1 0h1m1 0h1m25 0h1m-40 1h3m1 0h2m3 0h6m1 0h1m16 0h1m2 0h5m-32 1h3m2 0h1m2 0h1m1 0h2m2 0h1m5 0h5m2 0h5m-21 1h1m2 0h1m3 0h1m1 0h1m1 0h1m1 0h6m2 0h1m5 0h1m-18 1h2m1 0h1m1 0h2m2 0h2m2 0h4m1 0h1m-19 1h3m1 0h1m1 0h3m1 0h1m4 0h1m1 0h3m-15 1h2m9 0h2m-10 1h2m7 0h1m1 0h1m-13 1h2m3 0h1m-7 1h3m-2 1h1m-1 1h3m-3 1h1m1 0h1m1 0h1m-5 1h2m1 0h4m1 0h2m-7 1h2m3 0h1m-6 1h2m1 0h3m-5 1h2m2 0h1m1 0h1m-8 1h2m3 0h1m1 0h1m-7 1h7m-8 1h1m1 0h2m1 0h1m-9 1h1m3 0h1m2 0h1m1 0h2m-11 1h1m1 0h3m1 0h1m2 0h1m-9 1h2m3 0h1m1 0h2m-9 1h2m2 0h4m-9 1h1m2 0h1m1 0h1m1 0h1m-8 1h3m1 0h1m1 0h1m4 0h2m-12 1h2m3 0h1m5 0h1m-11 1h2m1 0h1m6 0h1m-3 1h1m1 0h1m2 0h1m-7 1h2m1 0h4m-19 1h1m2 0h2m1 0h1m4 0h2m1 0h2m1 0h2m-20 1h1m1 0h4m5 0h1m1 0h3m1 0h1m-18 1h3m5 0h1m2 0h2m1 0h1m2 0h1m1 0h1m-18 1h1m1 0h2m1 0h2m2 0h2m1 0h3m1 0h2m-17 1h1m2 0h3m2 0h1m2 0h2m1 0h1m3 0h1m-20 1h7m8 0h1m4 0h1m-20 1h1m1 0h1m1 0h3m7 0h1m3 0h3m-21 1h2m1 0h1m11 0h2m1 0h2m-20 1h1m16 0h4m-21 1h1m1 0h1m14 0h2m1 0h2m-22 1h1m20 0h1m-22 1h1m0 1h2m18 0h1m-23 1h3m19 0h1m-24 1h2m21 0h1m-25 1h2m1 0h2m19 0h2m-25 1h2m1 0h2m18 0h1m-24 1h2m1 0h1m1 0h1m-3 1h1m18 0h1m-19 1h3m16 0h1m-22 1h5m1 0h1m14 0h1m-20 1h2m2 0h2m10 0h2m-18 1h1m4 0h1m11 0h1m-16 1h2m10 0h3m1 0h1m-18 1h3m4 0h2m5 0h3m-16 1h2m3 0h1m2 0h1m1 0h1m1 0h1m3 0h1m-15 1h1m1 0h1m1 0h4m1 0h5m-14 1h2m1 0h1m2 0h1m2 0h1" stroke="#0d4bff"/><path d="M683 1303.5h3m9 0h4m-17 1h3m5 0h2m2 0h2m1 0h1m1 0h2m-35 1h4m3 0h3m2 0h5m1 0h3m1 0h4m8 0h4m5 0h2m-46 1h2m1 0h2m1 0h2m7 0h1m24 0h2m1 0h1m1 0h2m-59 1h1m1 0h2m1 0h8m3 0h1m1 0h1m40 0h1m-61 1h1m1 0h1m1 0h2m4 0h2m4 0h2m41 0h2m-60 1h2m57 0h1m-60 1h3m57 0h1m-64 1h2m1 0h1m60 0h1m-65 1h5m1 0h1m56 0h1m1 0h2m-66 1h7m58 0h1m-60 1h2m56 0h2m-60 1h2m56 0h2m-60 1h2m-1 1h2m54 0h2m-57 1h2m53 0h1m-56 1h6m48 0h1m-52 1h2m1 0h5m4 0h1m36 0h2m-43 1h5m1 0h1m33 0h2m-41 1h8m1 0h3m1 0h1m25 0h1m-39 1h1m6 0h3m2 0h3m2 0h1m19 0h1m-31 1h1m1 0h1m8 0h1m17 0h2m-20 1h1m1 0h2m13 0h2m-16 1h1m1 0h1m2 0h2m3 0h2m1 0h1m1 0h1m-9 1h2m1 0h2m15 14h1m-2 1h2m-4 5h1m-2 1h2m-1 5h2m-2 1h2m-2 1h3m-2 1h2m2 3h1m-3 1h3m-4 1h4m1 0h2m-8 1h3m1 0h5m-10 1h2m1 0h2m4 0h1m-10 1h2m2 0h1m5 0h1m-14 1h3m2 0h1m1 0h1m5 0h1m1 0h3m-15 1h3m8 0h5m-16 1h3m11 0h2m-18 1h3m14 0h1m-19 1h1m1 0h1m15 0h1m-19 1h2m15 0h1m-17 1h2m8 0h2m-7 1h1m1 0h5m4 0h2m-16 1h3m1 0h1m1 0h1m3 0h1m2 0h2m-14 1h1m1 0h2m1 0h1m2 0h1m1 0h4m-12 1h4m1 0h1m3 0h1m-10 1h8m1 0h1m-9 1h1m1 0h2m2 0h1m-9 1h1m2 0h6m-10 1h2m4 0h3m-9 1h3" stroke="#075cff"/><path d="M692 1305.5h2m1 0h2m-30 1h1m5 0h3m1 0h3m3 0h7m1 0h2m9 0h1m-36 1h1m5 0h1m5 0h4m1 0h2m3 0h2m15 0h5m-52 1h2m4 0h3m3 0h1m37 0h2m-56 1h3m1 0h9m43 0h1m-56 1h5m2 0h2m4 0h2m39 0h2m-56 1h7m1 0h1m3 0h1m42 0h1m-55 1h3m1 0h3m48 0h1m-55 1h1m3 0h1m49 0h2m-53 1h1m51 0h2m-56 1h3m-3 1h4m1 0h1m48 0h2m-54 1h4m-3 1h2m8 0h3m-10 1h8m1 0h2m-5 1h1m3 0h2m33 0h1m-34 1h9m1 1h3m18 0h1m-19 1h2m0 1h3m10 0h1m1 0h1m-13 1h3m2 0h1m2 0h3m-5 1h2m21 37h2m-3 1h4m-4 1h4m-6 1h2m3 0h2m-8 1h2m3 0h1m1 0h4m-11 1h2m2 0h7m-14 1h2m2 0h3m1 0h6m-15 1h4m1 0h10m-14 1h2m1 0h2m2 0h1m2 0h4m-14 1h2m9 0h1m1 0h1m-2 1h1" stroke="#006fff"/><path d="M693 1306.5h8m-27 1h5m7 0h3m2 0h2m11 0h1m-33 1h2m5 0h7m21 0h2m-37 1h1m35 0h2m-45 1h2m4 0h1m37 0h1m-45 1h3m2 0h1m38 0h2m-47 1h7m39 0h1m-48 1h7m41 0h1m-50 1h5m1 0h1m43 0h1m-51 1h3m1 0h3m43 0h2m-49 1h9m38 0h1m-48 1h10m36 0h2m-47 1h6m38 0h2m-36 1h1m3 0h1m1 0h1m26 0h2m-34 1h2m2 0h5m23 0h1m-24 1h3m19 0h1m-19 1h2m15 0h1m-16 1h2m11 0h2m-12 1h6m2 0h2m19 42h2m-4 1h3m-3 1h2" stroke="#009cf8"/><path d="M694 1307.5h2m1 0h4m1 0h2m-29 1h4m7 0h7m12 0h1m-33 1h1m3 0h10m20 0h1m-36 1h1m7 0h5m23 0h1m-38 1h1m9 0h3m24 0h1m-38 1h1m10 0h1m26 0h1m-40 1h3m37 0h1m-42 1h5m36 0h2m-43 1h3m1 0h3m35 0h1m-38 1h2m34 0h2m-36 1h1m33 0h1m-35 1h1m3 0h4m25 0h1m-33 1h3m3 0h5m-2 1h4m18 0h1m-20 1h3m15 0h1m-16 1h2m6 0h1m1 0h1m3 0h1m-13 1h10" stroke="#00c8f1"/><path d="M693 1308.5h4m1 0h1m4 0h2m-30 1h2m10 0h4m1 0h1m13 0h1m-34 1h7m5 0h4m18 0h1m-36 1h2m2 0h5m3 0h4m-16 1h2m2 0h5m2 0h4m21 0h1m-36 1h3m1 0h1m2 0h3m1 0h2m-12 1h4m3 0h3m25 0h1m-34 1h2m3 0h1m1 0h1m26 0h1m-35 1h2m3 0h3m2 0h3m20 0h1m-33 1h1m2 0h9m19 0h2m-33 1h2m5 0h5m19 0h1m-21 1h2m17 0h1m-18 1h2m15 0h1m-16 1h2m1 0h8m3 0h1m-13 1h4m1 0h1m3 0h3" stroke="#00d9c6"/><path d="M699 1308.5h4m-10 1h5m7 0h1m-17 1h4m13 0h1m-33 1h2m12 0h4m15 0h1m-34 1h2m11 0h5m15 0h1m-30 1h2m6 0h6m16 0h1m-31 1h1m1 0h1m3 0h8m16 0h1m-31 1h3m3 0h7m17 0h1m-31 1h3m3 0h2m3 0h2m16 0h2m-31 1h2m9 0h2m16 0h1m-19 1h2m16 0h1m-18 1h2m14 0h1m-15 1h6m2 0h3m3 0h1m-13 1h1m8 0h3" stroke="#00e291"/><path d="M698 1309.5h2m3 0h2m-12 1h4m8 0h1m-14 1h1m13 0h1m-15 1h1m-1 1h1m14 0h1m-16 1h1m14 0h1m-17 1h2m14 0h1m-17 1h2m13 0h1m-16 1h2m13 0h1m-16 1h3m11 0h2m-15 1h4m5 0h5m-7 1h1m3 0h3" stroke="#16e756"/><path d="M700 1309.5h3m-5 1h1m5 0h1m-12 1h3m9 0h1m-13 1h1m12 0h1m-14 1h1m12 0h1m-14 1h1m12 0h1m-14 1h1m12 0h1m-14 1h1m11 0h1m-13 1h2m9 0h2m-12 1h2m7 0h2m-8 1h4" stroke="#40ea18"/><path d="M699 1310.5h5m-8 1h3m5 0h1m-11 1h2m8 0h2m-12 1h1m10 0h1m-12 1h1m10 0h1m-12 1h1m10 0h1m-12 1h2m8 0h1m-10 1h1m7 0h1m-8 1h2m3 0h2" stroke="#82ed00"/><path d="M699 1311.5h2m1 0h2m-8 1h2m-3 1h1m8 0h1m-10 1h1m8 0h1m-10 1h1m8 0h1m-9 1h1m6 0h1m-8 1h1m5 0h1m-5 1h3" stroke="#d3ef00"/><path d="M701 1311.5h1m-4 1h2m3 0h1m-8 1h2m5 0h1m-8 1h1m-1 1h1m6 0h1m-7 1h1m4 0h1m-6 1h2m2 0h1" stroke="#f2d400"/><path d="M700 1312.5h3m-5 1h2m2 0h1m-6 1h2m4 0h1m-7 1h2m3 0h1m-5 1h1m2 0h1m-3 1h2" stroke="#ff9900"/><path d="M700 1313.5h2m-3 1h4m-4 1h3m-3 1h2" stroke="#ff3900"/></g>
<rect x="613.6" y="1219.6" width="181.0" height="180.5" fill="none" stroke="#444" stroke-width="1.2"/>
<path d="M610.6 1337.9h3M610.6 1331.9h3M610.6 1327.6h3M610.6 1324.3h3M610.6 1321.5h3M610.6 1319.2h3M610.6 1317.2h3M610.6 1315.5h3M610.6 1304.8h3M610.6 1299.4h3M610.6 1295.7h3M610.6 1292.7h3M610.6 1290.3h3M610.6 1288.3h3M610.6 1286.5h3M610.6 1285.0h3M610.6 1274.9h3M610.6 1269.8h3M610.6 1266.1h3M610.6 1263.3h3M610.6 1261.0h3M610.6 1259.1h3M610.6 1257.4h3M610.6 1255.9h3M610.6 1245.8h3M610.6 1240.7h3M610.6 1237.0h3M610.6 1234.2h3M610.6 1231.9h3M610.6 1229.9h3M610.6 1228.2h3M610.6 1226.7h3M610.6 1352.6h3M610.6 1356.6h3M610.6 1360.1h3M610.6 1363.1h3M610.6 1365.6h3M610.6 1367.6h3M610.6 1369.1h3M610.6 1372.1h3M610.6 1373.6h3M610.6 1375.6h3M610.6 1378.1h3M610.6 1381.1h3M610.6 1384.6h3M610.6 1388.1h3M610.6 1395.6h3M610.6 1398.6h3M608.6 1225.4h5M608.6 1254.6h5M608.6 1283.6h5M608.6 1313.9h5M608.6 1348.3h5M608.6 1370.6h5M608.6 1391.6h5M673.7 1400.1v3M680.0 1400.1v3M684.5 1400.1v3M687.9 1400.1v3M690.8 1400.1v3M693.2 1400.1v3M695.2 1400.1v3M697.1 1400.1v3M707.6 1400.1v3M712.8 1400.1v3M716.5 1400.1v3M719.3 1400.1v3M721.7 1400.1v3M723.6 1400.1v3M725.3 1400.1v3M726.9 1400.1v3M737.1 1400.1v3M742.3 1400.1v3M746.0 1400.1v3M748.8 1400.1v3M751.2 1400.1v3M753.1 1400.1v3M754.8 1400.1v3M756.4 1400.1v3M766.4 1400.1v3M771.5 1400.1v3M775.1 1400.1v3M777.9 1400.1v3M780.2 1400.1v3M782.1 1400.1v3M783.8 1400.1v3M785.3 1400.1v3M624.1 1400.1v3M627.1 1400.1v3M629.6 1400.1v3M632.1 1400.1v3M634.1 1400.1v3M636.1 1400.1v3M638.1 1400.1v3M639.6 1400.1v3M642.6 1400.1v3M644.6 1400.1v3M646.6 1400.1v3M648.6 1400.1v3M651.1 1400.1v3M653.6 1400.1v3M656.6 1400.1v3M659.6 1400.1v3M620.6 1400.1v5M662.9 1400.1v5M698.7 1400.1v5M728.2 1400.1v5M757.7 1400.1v5M786.6 1400.1v5M641.1 1400.1v5" stroke="#000" stroke-width="1" fill="none"/>
<rect x="637.1" y="1400.1" width="8" height="3.2" fill="#000"/>
<rect x="610.4" y="1366.6" width="3.2" height="7.5" fill="#000"/>
<text x="584.4" y="1262.6" font-size="12.6" fill="#111" stroke="#111" stroke-width="0.45">10</text>
<text x="598.2" y="1254.8" font-size="11.2" fill="#111" stroke="#111" stroke-width="0.45">6</text>
<text x="584.4" y="1291.6" font-size="12.6" fill="#111" stroke="#111" stroke-width="0.45">10</text>
<text x="598.2" y="1283.8" font-size="11.2" fill="#111" stroke="#111" stroke-width="0.45">5</text>
<text x="584.4" y="1321.9" font-size="12.6" fill="#111" stroke="#111" stroke-width="0.45">10</text>
<text x="598.2" y="1314.1" font-size="11.2" fill="#111" stroke="#111" stroke-width="0.45">4</text>
<text x="584.4" y="1356.3" font-size="12.6" fill="#111" stroke="#111" stroke-width="0.45">10</text>
<text x="598.2" y="1348.5" font-size="11.2" fill="#111" stroke="#111" stroke-width="0.45">3</text>
<text x="594.6" y="1375.6" font-size="12.6" text-anchor="middle" fill="#111" stroke="#111" stroke-width="0.45">0</text>
<text x="644.1" y="1422.2" font-size="12.6" text-anchor="middle" fill="#111" stroke="#111" stroke-width="0.45">0</text>
<text x="696.1" y="1422.2" font-size="12.6" fill="#111" stroke="#111" stroke-width="0.45">10</text>
<text x="709.7" y="1412.9" font-size="11.2" fill="#111" stroke="#111" stroke-width="0.45">4</text>
<text x="725.6" y="1422.2" font-size="12.6" fill="#111" stroke="#111" stroke-width="0.45">10</text>
<text x="739.2" y="1412.9" font-size="11.2" fill="#111" stroke="#111" stroke-width="0.45">5</text>
<text x="755.1" y="1422.2" font-size="12.6" fill="#111" stroke="#111" stroke-width="0.45">10</text>
<text x="768.7" y="1412.9" font-size="11.2" fill="#111" stroke="#111" stroke-width="0.45">6</text>
<line x1="713.6" y1="1219.6" x2="713.6" y2="1400.1" stroke="#000" stroke-width="1.5"/>
<line x1="613.6" y1="1348.3" x2="794.6" y2="1348.3" stroke="#000" stroke-width="1.5"/>
<text x="617.0" y="1238.2" font-size="12.4" stroke="#000" stroke-width="0.45">77.0</text>
<text x="778.0" y="1238.2" font-size="12.4" text-anchor="end" stroke="#000" stroke-width="0.45">7.08</text>
<text x="617.0" y="1388.3" font-size="12.4" stroke="#000" stroke-width="0.45">3.46</text>
<text x="778.0" y="1388.3" font-size="12.4" text-anchor="end" stroke="#000" stroke-width="0.45">12.5</text>
<g fill="none" stroke-width="1"><path d="M935 1288.5h1m35 1h1m-47 1h1m1 0h1m18 0h1m-7 1h1m10 0h1m-53 1h1m35 0h1m1 0h1m-64 1h1m67 0h1m8 0h1m-95 1h1m3 0h1m13 0h1m13 0h1m1 0h1m4 0h1m63 0h1m-74 1h1m4 0h2m2 0h1m17 0h1m1 0h1m17 0h1m5 0h1m16 0h1m-107 1h1m85 0h1m11 0h1m-82 1h1m13 0h1m16 0h1m8 0h1m5 0h1m9 0h1m-63 1h1m5 0h1m25 0h1m34 0h1m3 0h1m9 0h1m9 0h1m-78 1h1m7 0h1m16 0h1m16 0h2m2 0h1m14 0h1m3 0h2m2 0h1m1 0h1m4 0h1m8 0h1m-96 1h1m4 0h1m17 0h1m66 0h2m-93 1h1m47 0h1m3 0h1m7 0h1m13 0h1m12 0h1m-98 1h1m100 0h2m-109 1h1m-3 1h1m4 0h1m11 0h1m-9 1h1m5 0h1m95 1h1m-104 1h1m111 2h1m-113 1h1m114 0h1m-11 1h1m-107 1h1m97 0h1m1 0h1m-99 1h1m-5 1h1m108 1h1m-102 1h1m-5 1h1m105 0h2m-108 1h1m110 0h1m-109 1h1m111 1h1m-11 1h1m-96 2h1m6 0h1m90 0h1m-90 1h1m2 1h1m-16 1h1m2 0h1m121 0h1m-103 1h1m2 0h1m77 0h1m-96 1h1m-17 1h1m21 0h1m6 0h1m14 0h1m62 0h1m1 0h1m6 0h1m-95 1h2m87 0h1m-84 1h1m2 0h1m72 0h1m4 0h1m-91 1h1m15 0h1m12 0h1m14 0h1m2 0h1m-11 1h1m52 0h1m-66 1h1m6 0h1m7 0h1m47 1h1m-70 1h1m26 0h1m3 0h1m3 0h1m-21 1h1m16 0h1m6 0h1m27 0h1m-50 1h1m5 0h1m9 0h1m1 1h1m1 2h1m2 0h1m-38 1h1m14 0h1m6 1h1m-12 1h1m52 0h1m-57 1h1m3 0h1m6 0h1m-4 1h1m8 0h1m3 1h1m37 0h1m-62 1h1m20 0h1m43 0h1m-65 1h1m5 0h1m1 0h1m53 1h1m-58 1h1m49 0h1m-59 1h1m14 0h1m48 0h1m-51 1h1m-26 1h1m9 0h1m15 0h1m43 0h1m13 0h1m-77 1h1m9 0h1m9 0h1m48 0h1m3 0h1m-68 1h1m14 0h1m44 0h1m-76 2h1m15 0h2m11 1h1m1 0h1m-21 1h1m15 1h1m2 0h1m10 1h1m2 0h1m-34 1h1m66 0h1m-57 1h1m9 0h1m6 0h1m46 1h1m-71 1h1m12 0h1m11 0h1m38 0h1m-57 1h1m14 0h1m3 0h1m31 0h1m-38 2h1m2 0h1m-15 1h1m8 0h1m-27 1h1m13 0h1m19 0h1m32 0h1m-49 1h1m17 0h1m-42 1h1m20 0h1m15 0h1m35 0h1m-68 1h1m4 0h1m2 0h1m-7 1h2m18 0h1m8 0h1m39 0h1m-57 1h1m11 0h1m40 0h1m-1 1h1m-55 1h1m10 0h1m-12 1h1m18 0h1m31 0h1m-70 1h1m21 0h1m11 0h1m-12 1h1m3 0h1m6 0h1m4 1h1m-16 1h1m44 0h1m-60 1h1m8 0h1m20 0h1m25 1h1m-37 1h1m3 0h1m-18 1h1m15 0h1m30 0h1m-20 1h1m-4 1h1m25 0h1m-21 2h1m4 0h1m3 0h1m4 0h2m-39 4h1m29 0h2m1 1h1m3 1h1m-5 1h1" stroke="#5a5aff" stroke-opacity="0.65"/><path d="M908 1298.5h1m22 0h2m-52 1h1m21 0h1m4 0h1m-28 1h1m11 0h2m2 0h1m5 0h1m3 0h1m1 0h1m18 0h1m1 0h1m-61 1h2m9 0h1m9 0h1m6 0h1m5 0h1m4 0h1m1 0h1m15 0h1m-46 1h1m4 0h1m2 0h1m2 0h1m3 0h1m2 0h2m3 0h1m4 0h1m12 0h1m7 0h1m12 0h1m2 0h1m-93 1h1m16 0h1m14 0h2m5 0h1m20 0h1m1 0h1m3 0h1m1 0h1m12 0h1m3 0h1m2 0h1m3 0h1m2 0h1m-96 1h1m10 0h1m3 0h2m1 0h1m1 0h1m3 0h1m5 0h1m53 0h2m4 0h1m3 0h1m1 0h1m-85 1h1m2 0h1m6 0h2m58 0h2m12 0h1m1 0h1m-94 1h1m5 0h1m75 0h1m1 0h1m-87 1h2m8 0h1m81 0h1m1 0h2m3 0h1m-100 1h2m2 0h1m2 0h2m76 0h1m4 0h2m1 0h2m-93 1h1m4 0h1m1 0h2m75 0h1m2 0h1m3 0h1m6 0h1m-101 1h1m1 0h1m86 0h1m9 0h1m-99 1h1m8 0h1m76 0h1m2 0h2m8 0h1m-12 1h1m1 0h1m-89 1h1m4 0h1m82 0h1m8 0h1m1 0h1m-100 1h2m86 0h1m11 0h1m-16 1h1m2 0h1m-86 1h1m86 0h1m3 0h3m-11 1h1m3 0h2m2 0h1m-91 1h1m89 0h1m1 0h1m-94 1h1m2 0h1m3 0h1m78 0h1m1 0h1m2 0h3m-91 1h1m1 0h1m3 0h1m77 0h1m-86 1h1m7 0h1m9 0h1m73 0h1m-79 1h1m3 0h1m67 0h1m2 0h1m3 0h1m1 0h1m-76 1h1m58 0h1m9 0h2m1 0h1m-78 1h1m1 0h1m2 0h1m3 0h3m50 0h1m8 0h1m10 0h1m-84 1h1m2 0h2m2 0h1m6 0h1m46 0h1m9 0h1m1 0h1m4 0h1m1 0h1m2 0h1m-75 1h1m5 0h1m2 0h2m1 0h2m41 0h1m7 0h1m5 0h1m1 0h1m1 0h3m-69 1h1m6 0h2m46 0h1m3 0h2m-52 1h1m1 0h1m48 0h2m1 0h1m1 0h1m-58 1h1m4 0h1m2 0h1m8 0h1m-15 1h3m14 0h1m1 0h1m1 0h1m28 0h2m-49 1h1m1 0h2m6 0h1m1 0h1m2 0h1m3 0h2m-4 1h1m2 0h1m2 0h1m-4 1h2m3 0h1m2 0h1m16 0h2m1 0h1m-33 1h2m3 0h1m3 0h1m19 0h1m-20 1h1m21 0h1m1 0h1m-4 1h2m-22 1h2m17 0h1m-43 1h1m21 0h1m20 0h2m-22 1h1m21 0h1m-46 1h1m23 0h2m-26 1h1m22 0h1m19 0h1m-1 1h1m-21 1h2m18 1h1m2 0h1m-31 1h1m5 0h2m22 0h2m-32 1h1m6 0h1m15 0h1m-25 1h1m5 0h1m-6 1h1m25 0h2m-30 1h1m3 0h1m-5 1h1m4 0h1m1 0h1m19 0h1m-24 1h1m21 0h1m-31 1h1m4 0h1m1 0h1m1 0h1m21 0h1m-33 1h2m6 0h1m3 0h1m-13 1h1m2 0h1m4 0h1m4 0h1m20 0h1m-25 1h2m1 0h1m22 0h2m-36 1h1m1 0h1m-4 1h2m4 0h1m2 0h1m2 0h1m-13 1h1m3 0h2m5 0h1m24 0h1m-37 1h1m10 0h1m0 1h1m-13 1h2m1 0h2m-2 1h1m0 1h1m8 0h1m-14 1h1m0 1h2m-4 1h2m11 0h1m0 1h1m-2 2h1m1 0h1m26 0h1m-30 1h1m28 0h1m-27 1h1m-15 1h1m39 0h1m-41 1h1m13 0h2m25 2h1m0 1h1m-28 2h1m25 0h1m-3 1h1m-31 1h1m-1 1h1m5 0h1m24 0h1m-2 1h1m-24 1h1m-1 1h2m22 0h1m-7 1h1m-20 1h2m2 0h1m14 0h1m-1 1h1m-14 1h1m1 0h1m3 0h1m5 0h1m-11 1h1m7 0h1m-7 1h2" stroke="#2828ff" stroke-opacity="0.8"/><path d="M881 1302.5h1m21 0h1m-23 1h1m7 0h2m1 0h1m3 0h1m2 0h1m2 0h2m4 0h2m19 0h1m1 0h2m1 0h2m-55 1h2m7 0h1m1 0h1m3 0h1m4 0h2m2 0h1m5 0h4m2 0h1m1 0h1m2 0h1m1 0h1m9 0h1m-64 1h1m1 0h3m6 0h3m1 0h1m2 0h1m35 0h1m-55 1h1m1 0h2m4 0h2m58 0h2m-65 1h1m1 0h1m10 0h1m48 0h1m-69 1h2m68 0h1m-78 1h1m77 0h1m-80 1h4m4 0h1m71 0h2m-81 1h2m78 0h1m-81 1h1m1 0h1m78 0h2m-84 1h1m1 0h1m4 0h1m-6 1h1m2 0h1m1 0h1m73 0h3m-80 1h2m75 0h2m-80 1h2m1 0h1m-4 1h1m1 0h6m72 0h2m-76 1h2m70 0h1m1 0h1m1 0h1m-74 1h2m66 0h1m2 0h1m-70 1h4m4 0h1m3 0h1m55 0h1m1 0h3m-69 1h1m1 0h1m5 0h5m49 0h1m1 0h1m1 0h1m2 0h1m-57 1h1m51 0h1m1 0h3m-57 1h1m1 0h1m1 0h4m39 0h2m4 0h1m1 0h3m-56 1h1m2 0h1m1 0h2m1 0h1m36 0h1m8 0h1m1 0h1m-48 1h1m4 0h1m29 0h1m8 0h2m-45 1h1m2 0h1m3 0h1m25 0h2m1 0h1m6 0h1m-43 1h1m3 0h1m1 0h1m8 0h1m2 0h1m4 0h1m7 0h1m1 0h1m3 0h1m2 0h2m1 0h1m-38 1h1m1 0h2m1 0h1m1 0h1m6 0h1m4 0h2m3 0h1m2 0h1m1 0h1m1 0h1m1 0h1m1 0h3m3 0h1m-27 1h1m6 0h1m1 0h1m2 0h1m1 0h2m2 0h1m6 0h3m-23 1h1m1 0h3m3 0h2m3 0h2m1 0h2m3 0h1m2 0h1m-25 1h1m2 0h3m3 0h2m2 0h3m6 0h1m-20 1h1m1 0h1m1 0h1m1 0h1m7 0h1m3 0h1m-14 1h2m2 0h3m7 0h1m-14 1h1m1 0h2m5 0h1m-12 1h3m1 0h2m7 0h3m-3 1h1m-13 1h4m9 0h2m-15 1h4m2 0h1m4 0h3m1 0h1m-15 1h1m1 0h2m7 0h1m1 0h1m1 0h1m-15 1h1m3 0h1m1 0h1m3 0h3m1 0h1m-15 1h3m1 0h3m1 0h3m3 0h1m-17 1h1m1 0h1m3 0h1m1 0h1m3 0h1m3 0h1m-17 1h1m6 0h1m1 0h1m2 0h3m1 0h1m-16 1h1m2 0h1m5 0h1m1 0h2m-14 1h2m2 0h1m1 0h1m5 0h1m-14 1h1m1 0h1m1 0h4m2 0h2m1 0h1m-11 1h2m2 0h4m-12 1h2m6 0h2m2 0h2m-14 1h1m1 0h1m4 0h2m3 0h2m-16 1h4m3 0h1m1 0h1m5 0h1m-16 1h1m1 0h2m1 0h1m1 0h2m7 0h2m-17 1h2m3 0h1m10 0h1m-18 1h2m3 0h1m1 0h1m8 0h1m-15 1h2m2 0h2m9 0h1m-14 1h1m3 0h1m8 0h1m1 0h2m-18 1h1m1 0h2m1 0h1m8 0h1m4 0h1m-17 1h2m14 0h1m-22 1h1m1 0h2m1 0h3m14 0h1m-24 1h2m1 0h1m1 0h1m18 0h1m-21 1h2m1 0h1m-4 1h1m19 0h2m-23 1h1m-1 1h1m21 0h1m-24 2h1m22 0h1m-1 1h1m-24 1h1m-1 1h2m22 0h1m-23 1h1m22 1h2m-24 2h1m0 1h1m21 0h1m-1 1h1m-24 1h2m21 0h2m-3 1h1m1 0h1m-25 1h1m21 1h2m-24 1h1m20 0h1m-22 1h1m-1 1h2m19 0h2m-21 1h1m17 0h2m-20 1h1m1 0h1m14 0h1m1 0h1m-20 1h1m1 0h2m13 0h1m-14 1h2m8 0h1m-10 1h1m7 0h1m-9 1h1m1 0h2m3 0h1m1 0h1m-2 1h1" stroke="#0d4bff"/><path d="M899 1304.5h1m29 0h3m-42 1h5m2 0h2m2 0h1m3 0h2m3 0h2m2 0h2m2 0h2m1 0h1m1 0h1m3 0h2m2 0h1m-51 1h1m8 0h2m2 0h3m19 0h1m15 0h2m-59 1h1m5 0h1m2 0h1m49 0h2m-63 1h5m2 0h1m4 0h1m51 0h2m-67 1h5m1 0h2m7 0h3m49 0h1m-68 1h1m1 0h1m64 0h1m-67 1h1m67 0h1m-72 1h3m69 0h1m-73 1h2m69 0h1m-72 1h1m-1 1h1m1 0h1m3 0h1m2 0h1m61 0h1m-71 1h3m1 0h3m-3 1h2m3 0h1m60 0h1m-68 1h3m2 0h3m4 0h1m1 0h1m-13 1h5m1 0h1m1 0h1m1 0h1m1 0h3m50 0h1m-51 1h2m1 0h1m2 1h5m-6 1h2m1 0h5m36 0h1m-39 1h3m6 0h1m27 0h1m-35 1h1m2 0h2m2 0h2m22 0h3m-33 1h3m3 0h6m19 0h1m-25 1h3m2 0h4m1 0h3m1 0h1m1 0h1m4 0h4m-24 1h1m1 0h1m1 0h3m4 0h3m4 0h2m0 1h1m16 2h2m-3 1h1m1 0h1m-2 1h2m-6 1h1m-3 1h2m1 0h2m-8 1h1m2 0h4m-7 1h1m5 0h1m2 0h1m-4 1h4m-4 2h1m-2 1h1m-1 11h5m-8 1h5m2 0h1m-8 1h3m1 0h4m-4 1h5m-7 1h2m2 0h1m1 0h1m-7 1h4m1 0h2m-9 1h5m1 0h2m3 0h2m-12 1h1m7 0h3m1 0h2m-13 1h1m9 0h1m1 0h1m-13 1h1m-5 1h1m1 0h2m13 0h1m-19 1h1m18 0h1m-20 1h1m18 0h1m-22 1h1m20 0h1m-22 1h2m19 1h1m-1 1h1m-21 1h2m-1 1h1m20 1h1m-21 1h1m19 0h1m0 1h1m-22 4h1m19 0h1m-21 1h2m18 0h1m-21 1h2m0 1h1m15 0h2m-19 1h1m16 0h2m-18 1h1m1 0h1m13 0h1m-16 1h1m12 0h2m-13 1h1m9 0h1m-9 1h1m5 0h1m-6 1h3m1 0h1m-4 1h3m1 0h1" stroke="#075cff"/><path d="M908 1305.5h1m21 0h1m-39 1h2m4 0h3m2 0h2m1 0h2m3 0h4m3 0h2m1 0h1m2 0h1m2 0h1m3 0h1m-50 1h1m10 0h2m3 0h3m14 0h1m2 0h1m13 0h2m-53 1h4m7 0h1m42 0h2m-56 1h1m1 0h1m1 0h2m3 0h1m46 0h1m-62 1h1m1 0h1m3 0h1m3 0h1m1 0h1m1 0h2m-17 1h1m1 0h1m1 0h1m1 0h1m3 0h2m1 0h2m50 0h1m-68 1h9m4 0h3m51 0h1m-69 1h2m1 0h3m1 0h8m1 0h1m51 0h1m-69 1h5m2 0h5m1 0h3m52 0h1m-61 1h2m1 0h6m-8 1h2m1 0h1m2 0h3m49 0h1m-58 1h7m1 0h2m-9 1h3m4 0h3m47 0h1m-48 1h2m1 0h1m1 0h4m-7 1h2m1 0h6m7 1h1m28 0h1m-37 1h1m4 0h2m28 0h1m-35 1h4m3 0h1m1 0h4m17 0h4m-33 1h2m9 0h2m15 0h1m-16 1h2m1 0h3m1 0h1m1 0h2m1 0h4m-5 1h4m16 32h3m-5 1h2m1 0h4m-8 1h2m4 0h2m2 0h1m-10 1h1m-5 1h1m1 0h1m-5 1h3m14 0h1m-19 1h2m-2 1h1m-1 1h2m16 0h1m-19 1h1m18 1h1m-19 1h1m17 0h1m0 1h1m-1 1h1m-19 1h1m18 0h1m-20 1h1m17 2h1m-18 1h1m16 0h1m-18 1h1m15 0h2m-17 1h1m13 0h2m-16 1h1m12 0h1m-13 1h1m0 1h1m9 0h2m-12 1h1m8 0h2m-10 1h3m1 0h2m1 0h2m-7 1h2m1 0h2" stroke="#006fff"/><path d="M908 1306.5h3m18 0h2m-29 1h6m4 0h1m6 0h2m1 0h2m1 0h2m3 0h2m-39 1h2m1 0h2m2 0h1m11 0h5m16 0h2m-43 1h2m41 0h2m-54 1h3m6 0h1m44 0h1m-56 1h3m7 0h1m45 0h1m-56 1h2m4 0h1m48 0h2m-51 1h2m48 0h1m-51 1h2m47 0h2m-51 1h3m46 0h2m-50 1h2m45 0h2m-47 1h1m5 0h2m38 0h2m-47 1h5m3 0h2m36 0h1m-45 1h1m7 0h1m35 0h2m-37 1h1m5 0h3m26 0h1m-35 1h1m2 0h1m1 0h1m1 0h2m24 0h2m-34 1h1m1 0h1m4 0h3m2 0h2m14 0h4m-20 1h1m1 0h2m10 0h2m-14 1h4m4 0h4m-7 1h1m24 35h3m-4 1h1m1 0h5m1 0h1m-10 1h1m8 0h2m-13 1h2m10 0h1m-16 1h2m1 0h1m11 0h1m-17 1h3m13 0h1m-16 1h1m-1 2h1m-1 1h1m16 2h1m0 1h1m-18 1h1m16 0h1m-18 1h1m16 0h1m-18 1h1m0 1h1m14 0h1m-16 1h1m12 0h1m-13 1h1m10 0h2m-12 1h1m8 0h2m-10 1h1m8 0h1m-10 1h9m-8 1h7" stroke="#009cf8"/><path d="M908 1307.5h3m13 0h1m2 0h3m-28 1h3m1 0h6m7 0h3m8 0h2m-38 1h9m2 0h4m3 0h1m2 0h1m16 0h3m-41 1h1m11 0h1m1 0h1m26 0h2m-44 1h2m11 0h2m28 0h1m-46 1h3m12 0h1m30 0h1m-47 1h2m45 0h1m-47 1h1m44 0h1m-46 1h2m42 0h1m-43 1h1m1 0h2m1 0h2m-7 1h4m4 0h1m33 0h2m-35 1h3m31 0h1m-33 1h2m2 0h5m23 0h1m-32 1h4m3 0h1m23 0h2m-33 1h2m6 0h1m1 0h4m11 0h7m-18 1h2m7 0h3m1 0h1m-12 1h2m3 0h1m1 0h3m-8 1h3m22 38h8m-9 1h2m7 0h1m-11 1h1m9 0h1m-13 1h2m10 0h1m-14 1h2m-2 1h1m13 0h1m-15 1h1m-1 1h1m-1 1h1m14 0h1m-16 1h1m14 0h1m-16 1h1m15 0h1m-1 1h1m-1 1h1m-16 1h1m14 0h1m-15 1h1m12 0h1m-14 1h2m9 0h1m-11 1h2m0 1h1m4 0h2m-7 1h6" stroke="#00c8f1"/><path d="M922 1308.5h4m1 0h3m-27 1h2m5 0h1m5 0h6m8 0h2m-37 1h8m1 0h2m3 0h4m1 0h2m17 0h2m-40 1h2m6 0h3m2 0h2m3 0h1m21 0h1m-42 1h4m5 0h3m1 0h1m28 0h1m-44 1h5m6 0h2m30 0h1m-44 1h6m5 0h3m-13 1h6m4 0h2m29 0h1m-41 1h1m5 0h5m29 0h1m-33 1h2m1 0h1m27 0h2m-30 1h7m21 0h3m-30 1h2m5 0h1m17 0h5m-23 1h2m1 0h4m9 0h1m1 0h5m-17 1h2m7 0h2m-9 1h1m4 0h2m-5 1h3m23 40h6m-8 1h3m3 0h3m-10 1h1m8 0h1m-1 1h2m-1 1h1m-13 1h1m12 0h1m-1 1h1m-1 1h1m-1 1h1m-14 1h1m-1 1h1m13 0h1m-15 1h1m13 0h1m-14 1h1m11 0h2m-13 1h2m8 0h1m-10 1h2m5 0h2m-8 1h2m3 0h2m-6 1h4" stroke="#00d9c6"/><path d="M922 1309.5h8m-14 1h5m9 0h2m-35 1h5m8 0h3m20 0h2m-37 1h2m2 0h1m6 0h1m24 0h2m-37 1h1m2 0h2m4 0h1m26 0h1m-37 1h2m1 0h2m3 0h1m27 0h1m-35 1h3m2 0h2m-2 1h3m24 0h2m-28 1h7m18 0h1m-19 1h1m16 0h2m-18 1h1m2 0h3m10 0h1m-16 1h1m4 0h1m7 0h1m-8 1h1m4 0h2m-6 1h4m24 42h3m-6 1h3m3 0h2m-9 1h2m6 0h1m-10 1h1m9 0h1m-11 1h1m10 0h1m-13 1h1m11 0h1m-13 1h1m11 0h1m-13 1h1m11 0h1m-1 1h2m-1 1h1m-13 1h1m10 0h2m-12 1h4m5 0h2m-9 1h3m3 0h2m-7 1h3m1 0h1m-4 1h3" stroke="#00e291"/><path d="M921 1310.5h9m-15 1h2m1 0h2m9 0h4m-33 1h2m8 0h5m18 0h1m-34 1h2m7 0h2m23 0h1m-34 1h1m6 0h2m24 0h1m-27 1h2m-1 1h5m0 1h1m16 0h1m-17 1h1m2 0h3m9 0h1m-15 1h2m3 0h1m7 0h1m-8 1h1m4 0h2m-5 1h3m24 44h3m-5 1h3m1 0h2m-8 1h2m6 0h1m0 1h1m-11 1h1m9 0h1m-11 1h1m8 0h2m-11 1h1m9 0h1m-11 1h1m8 0h2m-11 1h1m8 0h3m-11 1h5m3 0h2m-6 1h2m1 0h2m-4 1h3m-2 1h1" stroke="#16e756"/><path d="M917 1311.5h1m2 0h3m1 0h5m-14 1h6m7 0h5m-22 1h5m16 0h2m-24 1h6m17 0h1m-24 1h4m1 0h2m15 0h1m-19 1h6m11 0h1m-17 1h6m9 0h1m-15 1h2m3 0h1m7 0h1m-8 1h1m5 0h1m-6 1h3m26 46h1m-4 1h6m-7 1h1m5 0h2m-9 1h1m6 0h2m-9 1h1m5 0h2m-8 1h1m5 0h2m-8 1h1m5 0h2m-8 1h2m1 0h4m-2 1h3m-2 1h1" stroke="#40ea18"/><path d="M923 1311.5h1m-3 1h2m3 0h2m-12 1h5m8 0h3m-16 1h5m10 0h2m-16 1h4m10 0h1m-12 1h1m9 0h1m-10 1h1m7 0h1m-8 1h1m0 1h5m21 49h5m-6 1h1m3 0h2m-2 1h1m-1 1h1m-5 1h1m2 0h1m-3 1h1" stroke="#82ed00"/><path d="M923 1312.5h3m-5 1h2m4 0h1m-7 1h1m7 0h2m-10 1h1m7 0h2m-10 1h1m7 0h1m-8 1h1m0 1h1m4 0h1m20 51h3m-4 1h4m-4 1h4m-3 1h2" stroke="#d3ef00"/><path d="M923 1313.5h4m-5 1h1m5 0h1m-7 1h1m-1 1h1m0 1h1m4 0h1m-5 1h4" stroke="#f2d400"/><path d="M923 1314.5h2m2 0h1m-5 1h1m4 0h1m-6 1h1m4 0h1m-5 1h4" stroke="#ff9900"/><path d="M925 1314.5h2m-3 1h4m-4 1h4" stroke="#ff3900"/></g>
<rect x="844.0" y="1219.6" width="181.0" height="180.5" fill="none" stroke="#444" stroke-width="1.2"/>
<path d="M841.0 1337.9h3M841.0 1331.9h3M841.0 1327.6h3M841.0 1324.3h3M841.0 1321.5h3M841.0 1319.2h3M841.0 1317.2h3M841.0 1315.5h3M841.0 1304.8h3M841.0 1299.4h3M841.0 1295.7h3M841.0 1292.7h3M841.0 1290.3h3M841.0 1288.3h3M841.0 1286.5h3M841.0 1285.0h3M841.0 1274.9h3M841.0 1269.8h3M841.0 1266.1h3M841.0 1263.3h3M841.0 1261.0h3M841.0 1259.1h3M841.0 1257.4h3M841.0 1255.9h3M841.0 1245.8h3M841.0 1240.7h3M841.0 1237.0h3M841.0 1234.2h3M841.0 1231.9h3M841.0 1229.9h3M841.0 1228.2h3M841.0 1226.7h3M841.0 1352.6h3M841.0 1356.6h3M841.0 1360.1h3M841.0 1363.1h3M841.0 1365.6h3M841.0 1367.6h3M841.0 1369.1h3M841.0 1372.1h3M841.0 1373.6h3M841.0 1375.6h3M841.0 1378.1h3M841.0 1381.1h3M841.0 1384.6h3M841.0 1388.1h3M841.0 1395.6h3M841.0 1398.6h3M839.0 1225.4h5M839.0 1254.6h5M839.0 1283.6h5M839.0 1313.9h5M839.0 1348.3h5M839.0 1370.6h5M839.0 1391.6h5M904.1 1400.1v3M910.4 1400.1v3M914.9 1400.1v3M918.3 1400.1v3M921.2 1400.1v3M923.6 1400.1v3M925.6 1400.1v3M927.5 1400.1v3M938.0 1400.1v3M943.2 1400.1v3M946.9 1400.1v3M949.7 1400.1v3M952.1 1400.1v3M954.0 1400.1v3M955.7 1400.1v3M957.3 1400.1v3M967.5 1400.1v3M972.7 1400.1v3M976.4 1400.1v3M979.2 1400.1v3M981.6 1400.1v3M983.5 1400.1v3M985.2 1400.1v3M986.8 1400.1v3M996.8 1400.1v3M1001.9 1400.1v3M1005.5 1400.1v3M1008.3 1400.1v3M1010.6 1400.1v3M1012.5 1400.1v3M1014.2 1400.1v3M1015.7 1400.1v3M854.5 1400.1v3M857.5 1400.1v3M860.0 1400.1v3M862.5 1400.1v3M864.5 1400.1v3M866.5 1400.1v3M868.5 1400.1v3M870.0 1400.1v3M873.0 1400.1v3M875.0 1400.1v3M877.0 1400.1v3M879.0 1400.1v3M881.5 1400.1v3M884.0 1400.1v3M887.0 1400.1v3M890.0 1400.1v3M851.0 1400.1v5M893.3 1400.1v5M929.1 1400.1v5M958.6 1400.1v5M988.1 1400.1v5M1017.0 1400.1v5M871.5 1400.1v5" stroke="#000" stroke-width="1" fill="none"/>
<rect x="867.5" y="1400.1" width="8" height="3.2" fill="#000"/>
<rect x="840.8" y="1366.6" width="3.2" height="7.5" fill="#000"/>
<text x="814.8" y="1262.6" font-size="12.6" fill="#111" stroke="#111" stroke-width="0.45">10</text>
<text x="828.6" y="1254.8" font-size="11.2" fill="#111" stroke="#111" stroke-width="0.45">6</text>
<text x="814.8" y="1291.6" font-size="12.6" fill="#111" stroke="#111" stroke-width="0.45">10</text>
<text x="828.6" y="1283.8" font-size="11.2" fill="#111" stroke="#111" stroke-width="0.45">5</text>
<text x="814.8" y="1321.9" font-size="12.6" fill="#111" stroke="#111" stroke-width="0.45">10</text>
<text x="828.6" y="1314.1" font-size="11.2" fill="#111" stroke="#111" stroke-width="0.45">4</text>
<text x="814.8" y="1356.3" font-size="12.6" fill="#111" stroke="#111" stroke-width="0.45">10</text>
<text x="828.6" y="1348.5" font-size="11.2" fill="#111" stroke="#111" stroke-width="0.45">3</text>
<text x="825.0" y="1375.6" font-size="12.6" text-anchor="middle" fill="#111" stroke="#111" stroke-width="0.45">0</text>
<text x="874.5" y="1422.2" font-size="12.6" text-anchor="middle" fill="#111" stroke="#111" stroke-width="0.45">0</text>
<text x="926.5" y="1422.2" font-size="12.6" fill="#111" stroke="#111" stroke-width="0.45">10</text>
<text x="940.1" y="1412.9" font-size="11.2" fill="#111" stroke="#111" stroke-width="0.45">4</text>
<text x="956.0" y="1422.2" font-size="12.6" fill="#111" stroke="#111" stroke-width="0.45">10</text>
<text x="969.6" y="1412.9" font-size="11.2" fill="#111" stroke="#111" stroke-width="0.45">5</text>
<text x="985.5" y="1422.2" font-size="12.6" fill="#111" stroke="#111" stroke-width="0.45">10</text>
<text x="999.1" y="1412.9" font-size="11.2" fill="#111" stroke="#111" stroke-width="0.45">6</text>
<line x1="944.0" y1="1219.6" x2="944.0" y2="1400.1" stroke="#000" stroke-width="1.5"/>
<line x1="844.0" y1="1348.3" x2="1025.0" y2="1348.3" stroke="#000" stroke-width="1.5"/>
<text x="847.4" y="1238.2" font-size="12.4" stroke="#000" stroke-width="0.45">66.3</text>
<text x="1008.4" y="1238.2" font-size="12.4" text-anchor="end" stroke="#000" stroke-width="0.45">5.82</text>
<text x="847.4" y="1388.3" font-size="12.4" stroke="#000" stroke-width="0.45">6.35</text>
<text x="1008.4" y="1388.3" font-size="12.4" text-anchor="end" stroke="#000" stroke-width="0.45">21.5</text>
<g fill="none" stroke-width="1"><path d="M242 1539.5h1m-22 1h1m5 1h1m18 0h1m-17 1h1m-55 1h1m80 0h2m2 0h1m4 0h1m-31 1h1m15 0h2m1 0h1m15 0h1m-55 1h1m4 0h1m4 0h1m2 0h1m7 0h1m20 0h1m2 0h1m-48 1h1m13 0h1m1 0h1m2 0h1m8 0h1m6 0h1m1 0h2m2 0h1m8 0h1m1 0h1m-75 1h1m24 0h1m7 0h1m5 0h2m2 0h1m9 0h1m1 0h1m1 0h1m2 0h1m13 0h1m1 0h1m2 0h1m-85 1h1m13 0h1m36 0h1m30 0h1m5 0h1m-64 1h1m3 0h1m9 0h1m3 0h2m3 0h1m13 0h1m18 0h1m-82 1h1m20 0h1m2 0h2m3 0h1m3 0h1m49 0h1m-69 1h1m1 0h1m66 0h1m-98 1h1m18 0h2m1 0h1m3 0h1m1 0h1m72 0h1m-103 1h1m3 0h1m11 0h1m2 0h1m76 0h1m-103 1h1m12 0h1m7 0h2m10 0h1m71 0h2m-108 1h1m4 0h1m1 0h2m5 0h1m5 0h2m83 0h1m-99 1h1m4 0h1m4 0h1m2 0h1m88 0h1m-97 1h2m-12 1h1m1 0h1m5 0h1m1 0h1m93 0h1m1 0h1m-99 2h1m-4 1h2m97 0h1m-107 1h1m5 0h1m100 0h1m-4 2h2m-106 1h1m4 0h2m-9 1h1m103 0h2m1 0h1m-104 1h2m96 0h1m1 1h1m-106 1h1m6 0h2m93 0h1m2 0h1m-104 1h1m1 0h1m2 0h1m1 0h1m92 0h1m-99 1h1m3 0h1m84 0h1m7 0h1m2 0h1m-101 1h2m89 0h1m2 0h1m4 0h1m-97 1h1m83 0h1m7 0h1m1 0h1m-96 1h2m8 0h1m69 0h2m7 0h2m-89 1h1m3 0h3m46 0h1m13 0h1m8 0h1m1 0h3m1 0h1m2 0h1m-89 1h1m2 0h1m1 0h1m5 0h1m5 0h1m5 0h1m28 0h1m9 0h1m1 0h1m8 0h1m1 0h2m-70 1h1m8 0h1m3 0h1m2 0h1m8 0h1m10 0h1m4 0h2m6 0h1m1 0h2m16 0h2m2 0h1m4 0h1m3 0h2m5 0h1m-92 1h1m5 0h2m5 0h1m1 0h1m4 0h1m3 0h2m1 0h2m2 0h1m5 0h1m3 0h1m5 0h1m11 0h1m4 0h1m6 0h1m12 0h1m7 0h1m-93 1h1m12 0h1m3 0h1m2 0h1m5 0h1m2 0h1m6 0h1m2 0h1m2 0h1m5 0h1m4 0h1m7 0h1m1 0h1m3 0h1m4 0h1m-67 1h1m3 0h1m4 0h1m3 0h1m5 0h1m1 0h1m3 0h1m3 0h1m2 0h1m7 0h1m7 0h1m7 0h2m3 0h1m13 0h1m15 0h1m7 0h1m-110 1h1m18 0h1m16 0h2m10 0h2m1 0h1m8 0h2m1 0h1m31 0h1m8 0h2m-99 1h1m7 0h1m12 0h1m6 0h1m4 0h1m3 0h1m5 0h1m3 0h1m9 0h1m12 0h1m8 0h1m5 0h1m-93 1h1m32 0h1m4 0h1m11 0h3m9 0h1m5 0h1m2 0h1m3 0h1m15 0h1m4 0h1m20 0h1m10 0h1m-122 1h2m6 0h1m6 0h1m1 0h1m3 0h1m16 0h1m1 0h1m1 0h1m2 0h1m20 0h1m14 0h1m9 0h1m14 0h1m-102 1h1m19 0h1m3 0h1m4 0h1m2 0h1m21 0h2m11 0h1m-76 1h1m1 0h1m21 0h1m20 0h1m1 0h1m2 0h1m7 0h1m2 0h2m4 0h2m-53 1h1m21 0h1m2 0h1m11 0h1m3 0h1m12 0h1m-48 1h1m4 0h1m20 0h1m12 0h1m1 0h1m10 0h1m7 0h1m-64 1h1m8 0h1m13 0h1m13 0h1m2 0h1m5 0h1m8 0h1m8 0h1m-83 1h1m55 0h1m6 0h1m1 0h1m-74 1h1m37 0h4m11 0h1m9 0h2m1 0h1m7 0h1m-84 1h1m25 0h1m1 0h1m9 0h1m9 0h1m4 0h2m14 0h1m7 0h1m14 0h1m3 1h1m-27 1h1m8 0h1m11 0h1m-48 1h1m21 0h1m4 0h1m-59 1h1m14 0h1m35 0h1m47 0h1m-10 1h1m-42 1h1m17 0h1m15 0h1m2 0h1m-67 1h1m11 1h1m13 0h1m49 0h1m-64 1h1m57 0h1m-62 1h1m16 1h1m10 0h1m26 0h1m-60 3h1m24 0h1m9 0h1m10 0h1m3 0h1m11 0h1m-47 1h1m19 0h1m14 0h1m9 0h1m7 0h1m8 0h1m-79 1h1m2 0h1m12 0h1m28 0h1m25 0h1m-89 1h1m45 0h1m30 0h1m3 0h1m1 0h1m9 0h1m-107 1h1m37 0h1m37 0h1m6 0h1m4 0h1m10 0h1m-76 1h1m6 0h1m4 0h1m1 0h1m16 0h1m9 0h1m5 0h1m19 0h1m3 0h1m6 0h1m-101 1h1m86 0h2m3 0h1m-55 1h1m6 0h1m6 0h1m1 0h1m30 0h1m3 0h1m4 0h1m8 0h1m-94 1h1m75 0h1m5 0h1m1 0h1m-83 1h1m15 0h1m57 0h1m1 0h1m-86 1h1m14 0h1m22 0h1m21 0h1m18 0h1m-60 1h1m2 0h1m12 0h1m2 0h1m46 0h1m1 0h1m1 0h3m2 0h1m4 0h1m-83 1h1m5 0h1m33 0h1m10 0h1m12 0h1m1 0h1m24 0h1m-114 1h1m89 0h1m6 0h1m3 0h1m-96 1h1m48 0h1m11 0h1m22 0h1m1 0h2m4 0h1m6 0h1m1 0h1m-96 1h1m36 0h1m17 0h1m11 0h1m7 0h1m2 0h1m1 0h1m3 0h1m3 0h1m-103 1h1m1 0h1m39 0h1m43 0h1m2 0h1m2 0h1m2 0h1m1 0h1m4 0h1m-95 1h1m45 0h2m3 0h1m32 0h1m1 0h1m2 0h1m1 0h1m1 0h1m-98 1h1m33 0h1m3 0h1m12 0h1m11 0h1m18 0h1m9 0h1m4 0h1m11 0h1m-107 1h1m17 0h1m29 0h1m13 0h1m26 0h1m3 0h2m1 0h1m1 0h1m-103 1h1m4 0h1m18 0h1m31 0h1m3 0h1m4 0h1m23 0h1m3 0h1m2 0h1m4 0h1m-94 1h1m25 0h1m18 0h1m2 0h1m16 0h1m6 0h1m2 0h1m7 0h1m10 0h2m-104 1h1m9 0h1m8 0h1m19 0h1m51 0h1m-88 1h1m3 0h1m4 0h1m14 0h1m7 0h1m51 0h2m4 0h1m3 0h1m-90 1h1m5 0h1m3 0h2m11 0h1m8 0h1m23 0h1m10 0h1m11 0h1m2 0h1m11 0h1m-63 1h1m24 0h1m22 0h1m7 0h1m-39 1h1m19 0h1m14 0h1m1 0h1m-87 1h1m24 0h1m51 0h1m4 0h1m19 0h1m-116 1h1m24 0h1m41 0h1m19 0h1m3 0h1m4 0h1m-92 1h1m51 0h1m6 0h1m3 0h1m14 0h1m6 0h1m3 0h1m-75 1h1m2 0h1m8 0h1m10 0h1m52 0h1m1 0h1m4 0h1m-103 1h1m15 0h1m35 0h1m11 0h1m7 0h1m18 0h1m5 0h1m-93 1h1m10 0h1m5 0h1m55 0h1m20 0h1m-5 1h1" stroke="#5a5aff" stroke-opacity="0.65"/><path d="M261 1546.5h2m-6 1h1m1 0h1m1 0h1m1 0h2m-24 1h1m11 0h2m1 0h1m8 0h2m-42 1h2m7 0h1m5 0h2m1 0h2m7 0h1m11 0h2m1 0h1m-49 1h1m6 0h1m3 0h1m5 0h1m1 0h1m5 0h2m6 0h2m14 0h2m-63 1h2m1 0h1m3 0h1m3 0h4m1 0h2m3 0h1m1 0h1m2 0h4m10 0h1m1 0h1m19 0h1m-63 1h1m1 0h1m1 0h1m1 0h3m1 0h2m49 0h1m-75 1h1m8 0h1m-9 1h1m8 0h1m-13 1h1m6 0h1m1 0h1m68 0h1m-82 1h2m-9 1h2m3 0h1m84 0h1m-90 1h1m3 0h1m1 0h1m-7 1h3m2 0h1m84 0h1m-94 1h1m1 0h1m89 0h2m-96 1h1m4 0h1m89 0h1m-98 1h1m1 0h3m89 0h1m-96 1h1m-1 1h1m2 0h1m90 0h1m-94 1h2m-1 1h1m89 0h1m-93 1h1m1 0h1m87 0h1m-91 1h5m80 0h1m1 0h3m-91 1h2m82 0h3m1 0h5m-90 1h1m3 0h1m83 0h1m-90 1h6m68 0h1m2 0h1m2 0h2m-81 1h1m1 0h2m1 0h2m54 0h1m1 0h1m7 0h1m4 0h1m-77 1h1m2 0h1m4 0h1m3 0h1m1 0h2m19 0h1m19 0h1m3 0h1m1 0h5m1 0h3m-68 1h2m6 0h1m1 0h1m2 0h1m8 0h1m1 0h2m6 0h2m1 0h1m4 0h1m1 0h1m1 0h1m1 0h2m1 0h1m2 0h1m3 0h1m1 0h1m1 0h1m5 0h1m2 0h1m-60 1h1m4 0h2m4 0h2m1 0h1m7 0h2m3 0h1m1 0h2m10 0h1m3 0h1m-46 1h3m2 0h1m2 0h1m8 0h1m4 0h1m2 0h1m1 0h1m1 0h1m11 0h2m4 0h2m-40 1h1m6 0h1m4 0h1m1 0h1m24 0h2m-32 1h1m1 0h2m25 0h2m-30 2h1m49 36h1m-1 1h2" stroke="#2828ff" stroke-opacity="0.8"/><path d="M257 1548.5h1m1 0h3m-6 1h3m1 0h4m-25 1h1m1 0h2m14 0h1m8 0h1m-42 1h3m3 0h1m6 0h2m3 0h1m4 0h1m4 0h1m12 0h1m-47 1h1m1 0h2m2 0h1m1 0h1m4 0h1m3 0h1m29 0h1m-62 1h1m1 0h3m2 0h1m4 0h1m6 0h1m42 0h1m-64 1h1m4 0h6m2 0h1m-26 1h1m1 0h1m19 0h2m52 0h1m-78 1h2m4 0h3m1 0h1m66 0h1m-80 1h1m0 1h1m78 0h2m-83 1h2m80 0h1m-86 1h2m82 0h2m-86 1h3m81 0h1m-89 1h1m1 0h2m83 0h1m-91 1h3m-3 1h2m-2 1h2m-1 1h2m-1 1h1m77 0h2m1 0h1m1 0h1m-85 1h1m1 0h1m-3 1h2m1 0h1m-1 1h1m54 0h2m1 0h1m1 0h1m7 0h2m1 0h3m-73 1h1m4 0h1m1 0h2m26 0h1m7 0h1m8 0h1m2 0h1m1 0h2m1 0h2m1 0h2m6 0h1m-71 1h5m2 0h3m18 0h1m6 0h2m3 0h3m2 0h1m2 0h2m4 0h1m5 0h3m-54 1h1m5 0h1m1 0h1m1 0h1m5 0h1m2 0h2m4 0h1m4 0h1m3 0h3m-35 1h1m8 0h2m1 0h3m5 0h3m10 0h1m-32 1h1m7 0h2m9 0h1m-11 1h1" stroke="#0d4bff"/><path d="M259 1550.5h2m1 0h2m-24 1h3m11 0h1m1 0h2m-28 1h2m7 0h3m1 0h1m1 0h1m1 0h1m4 0h1m13 0h1m-47 1h2m5 0h2m8 0h2m28 0h1m-62 1h1m1 0h1m10 0h2m1 0h2m1 0h3m39 0h1m-63 1h2m2 0h2m2 0h1m3 0h1m4 0h4m42 0h1m-75 1h4m7 0h1m7 0h5m-25 1h2m3 0h2m3 0h1m65 0h1m-78 1h1m8 0h3m-12 1h1m76 0h1m-79 1h1m77 0h1m-81 1h2m-3 1h1m79 0h1m-86 1h1m1 0h2m1 0h2m77 0h1m-86 1h6m78 0h1m-86 1h3m1 0h2m78 0h1m-84 1h2m2 0h1m73 0h1m1 0h3m-81 1h3m70 0h2m-75 1h3m53 0h1m11 0h1m1 0h3m-73 1h4m50 0h2m1 0h2m10 0h2m-71 1h2m1 0h2m1 0h2m1 0h1m26 0h1m7 0h1m7 0h2m6 0h1m1 0h1m2 0h1m-65 1h4m20 0h1m1 0h1m1 0h1m4 0h1m5 0h3m1 0h2m2 0h1m1 0h2m-41 1h3m4 0h5m8 0h1m1 0h1m4 0h3m-29 1h1m1 0h1m8 0h2m7 0h1m-20 1h2m8 0h1" stroke="#075cff"/><path d="M260 1551.5h1m1 0h2m-10 1h1m1 0h1m-28 1h4m1 0h2m4 0h1m1 0h4m1 0h1m1 0h1m16 0h1m-39 1h1m9 0h1m-32 1h2m11 0h2m5 0h1m39 0h1m-62 1h1m3 0h1m1 0h1m5 0h3m1 0h1m45 0h1m-74 1h3m16 0h1m2 0h1m50 0h1m-76 1h2m2 0h1m1 0h2m3 0h2m-13 1h1m9 0h1m64 0h1m-77 1h1m75 0h1m-78 1h1m-2 1h1m76 0h1m-2 1h1m-79 1h1m1 0h1m74 0h1m-78 1h1m75 0h1m-78 1h1m71 0h1m-72 1h1m64 0h2m1 0h1m-69 1h1m3 0h1m45 0h1m2 0h2m-54 1h4m34 0h1m9 0h1m5 0h1m1 0h2m3 0h1m-57 1h1m2 0h1m12 0h4m7 0h4m4 0h3m3 0h1m-40 1h2m6 0h3m1 0h1m5 0h1m2 0h1m-20 1h3m15 0h1" stroke="#006fff"/><path d="M258 1552.5h3m2 0h2m-14 1h2m1 0h3m8 0h1m-37 1h1m6 0h2m2 0h2m24 0h1m-39 1h1m9 0h1m-32 1h2m16 0h1m41 0h1m-62 1h2m4 0h2m4 0h1m4 0h1m-28 1h1m9 0h1m8 0h2m50 0h1m-74 1h1m3 0h2m5 0h1m61 0h1m-67 1h5m61 0h1m-76 1h2m73 0h1m-77 1h2m73 0h1m-76 1h2m-2 1h1m72 0h1m-76 1h2m68 0h1m1 0h2m-75 1h4m61 0h1m1 0h3m-69 1h2m1 0h1m46 0h1m12 0h1m-64 1h2m2 0h1m43 0h1m5 0h1m7 0h1m-54 1h1m13 0h2m5 0h2m2 0h1m5 0h1m19 0h1m-55 1h2m1 0h2m7 0h2m5 0h1m2 0h1m14 0h3m-36 1h4m12 0h2" stroke="#009cf8"/><path d="M261 1552.5h2m-10 1h1m3 0h1m5 0h2m-35 1h2m1 0h1m1 0h1m6 0h4m1 0h5m2 0h3m7 0h2m-37 1h1m7 0h1m1 0h3m24 0h1m-39 1h1m-21 1h4m8 0h2m2 0h1m-18 1h1m5 0h2m2 0h1m-23 1h2m9 0h1m-13 1h1m3 0h2m-6 1h1m7 0h1m2 0h1m60 0h1m-74 1h2m9 0h1m-12 1h2m70 0h1m-73 1h1m59 0h2m8 0h1m-72 1h2m59 0h6m-67 1h2m58 0h1m-60 1h1m44 0h1m3 0h1m-49 1h2m2 0h2m13 0h1m10 0h4m16 0h4m2 0h1m-56 1h2m12 0h3m2 0h1m3 0h1m3 0h1m7 0h2m3 0h1m-36 1h1m2 0h1m1 0h2m8 0h2" stroke="#00c8f1"/><path d="M258 1553.5h5m-11 1h2m3 0h1m5 0h1m-34 1h1m4 0h2m5 0h3m2 0h3m4 0h3m5 0h4m-37 1h1m7 0h5m12 0h2m10 0h1m-42 1h1m40 0h1m-59 1h1m3 0h1m5 0h1m47 0h1m-60 1h1m6 0h1m1 0h2m48 0h1m-72 1h3m68 0h1m-68 1h3m4 0h1m58 0h1m-63 1h1m1 0h1m59 0h1m-71 1h1m57 0h3m7 0h2m-70 1h1m59 0h8m-69 1h2m56 0h1m-58 1h1m44 0h2m9 0h1m-58 1h7m12 0h1m29 0h2m-49 1h1m3 0h1m10 0h2m1 0h1m4 0h5m4 0h1m6 0h1m12 0h2m-50 1h1m4 0h3m7 0h3m14 0h3m-34 1h2" stroke="#00d9c6"/><path d="M258 1554.5h1m1 0h2m-31 1h4m10 0h2m3 0h4m7 0h1m-32 1h1m5 0h1m5 0h2m3 0h1m1 0h2m1 0h2m2 0h1m4 0h5m-40 1h2m9 0h4m13 0h2m6 0h4m-57 1h3m7 0h5m40 0h2m-58 1h1m4 0h1m4 0h1m45 0h2m-59 1h1m56 0h2m-71 1h4m55 0h2m8 0h1m-70 1h1m4 0h3m3 0h1m46 0h1m1 0h2m6 0h2m-69 1h1m5 0h4m50 0h2m2 0h2m-66 1h2m53 0h1m-56 1h4m51 0h1m-56 1h2m1 0h3m10 0h2m24 0h2m2 0h1m-42 1h1m9 0h2m1 0h1m8 0h3m10 0h1m8 0h6m-50 1h1m4 0h5m4 0h1m2 0h1m15 0h1m-34 1h4" stroke="#00e291"/><path d="M259 1554.5h1m-2 1h3m-30 1h1m3 0h1m8 0h3m4 0h1m5 0h1m1 0h2m-33 1h2m12 0h3m2 0h4m1 0h2m2 0h1m3 0h2m-38 1h1m29 0h3m5 0h2m-55 1h1m1 0h2m42 0h2m-43 1h1m1 0h2m36 0h3m6 0h1m-57 1h1m45 0h1m2 0h1m6 0h1m-68 1h4m52 0h1m4 0h1m3 0h2m-66 1h5m49 0h1m6 0h2m-62 1h6m1 0h1m6 0h1m-13 1h1m1 0h1m1 0h1m7 0h2m36 0h1m-49 1h2m7 0h1m2 0h1m9 0h2m10 0h1m6 0h8m-49 1h2m1 0h1m4 0h1m4 0h1m5 0h2m4 0h4m4 0h1m-34 1h4m10 0h1m14 0h3" stroke="#16e756"/><path d="M232 1556.5h1m1 0h1m23 0h1m-29 1h1m4 0h1m9 0h2m10 0h3m-35 1h1m11 0h9m5 0h3m3 0h1m3 0h1m-52 1h1m8 0h1m33 0h2m2 0h1m4 0h1m-55 1h1m3 0h2m4 0h1m34 0h1m3 0h1m4 0h1m-11 1h1m4 0h1m3 0h2m-56 1h1m3 0h2m38 0h1m6 0h3m-55 1h1m4 0h3m35 0h1m-40 1h2m17 0h2m16 0h3m-45 1h1m5 0h1m2 0h1m10 0h2m1 0h3m5 0h7m3 0h4m-46 1h2m4 0h1m12 0h1m2 0h5m4 0h1m-32 1h1m2 0h3m9 0h2m10 0h1m2 0h1" stroke="#40ea18"/><path d="M232 1557.5h3m-9 1h6m4 0h1m9 0h5m7 0h3m-41 1h5m17 0h2m1 0h1m5 0h2m5 0h1m2 0h1m-53 1h3m7 0h1m23 0h2m6 0h2m5 0h1m2 0h1m-53 1h6m2 0h2m32 0h1m6 0h3m-53 1h3m2 0h1m36 0h1m-44 1h1m1 0h1m4 0h1m14 0h3m14 0h2m-42 1h1m2 0h1m4 0h1m10 0h4m2 0h1m4 0h2m7 0h2m-41 1h1m2 0h2m13 0h1m2 0h1m3 0h1m3 0h1m7 0h3m-40 1h4m5 0h1m6 0h1m8 0h1m-16 1h3m13 0h2" stroke="#82ed00"/><path d="M232 1558.5h1m2 0h1m-11 1h1m4 0h2m5 0h5m4 0h1m3 0h1m8 0h2m-41 1h1m10 0h2m9 0h1m2 0h1m13 0h2m-46 1h2m2 0h1m11 0h1m11 0h3m4 0h1m-37 1h1m4 0h2m9 0h3m10 0h3m1 0h3m-42 1h1m16 0h1m1 0h2m3 0h1m9 0h4m-39 1h2m6 0h1m8 0h1m7 0h4m2 0h1m1 0h5m-38 1h2m6 0h1m7 0h1m8 0h3m-16 1h3m10 0h3" stroke="#d3ef00"/><path d="M233 1558.5h2m-9 1h4m3 0h1m2 0h1m10 0h3m-29 1h3m6 0h1m7 0h4m4 0h1m2 0h2m-31 1h2m8 0h1m1 0h2m5 0h4m3 0h4m-35 1h4m2 0h1m3 0h5m3 0h1m6 0h3m-28 1h1m4 0h1m3 0h1m8 0h3m1 0h5m-22 1h1m2 0h1m-4 1h3m-7 1h1" stroke="#f2d400"/><path d="M234 1559.5h2m-12 1h3m1 0h2m3 0h1m2 0h2m9 0h2m-27 1h1m1 0h6m4 0h1m2 0h2m-17 1h3m9 0h6m-24 1h1m1 0h1m2 0h3m-5 1h1m1 0h2m-7 1h1m2 0h1m-3 1h1" stroke="#ff9900"/><path d="M227 1560.5h1m6 0h2m-13 1h1m11 0h2m-20 2h1m-2 1h3m-2 1h2" stroke="#ff3900"/></g>
<rect x="155.6" y="1472.6" width="181.0" height="180.5" fill="none" stroke="#444" stroke-width="1.2"/>
<path d="M152.6 1590.9h3M152.6 1584.9h3M152.6 1580.6h3M152.6 1577.3h3M152.6 1574.5h3M152.6 1572.2h3M152.6 1570.2h3M152.6 1568.5h3M152.6 1557.8h3M152.6 1552.4h3M152.6 1548.7h3M152.6 1545.7h3M152.6 1543.3h3M152.6 1541.3h3M152.6 1539.5h3M152.6 1538.0h3M152.6 1527.9h3M152.6 1522.8h3M152.6 1519.1h3M152.6 1516.3h3M152.6 1514.0h3M152.6 1512.1h3M152.6 1510.4h3M152.6 1508.9h3M152.6 1498.8h3M152.6 1493.7h3M152.6 1490.0h3M152.6 1487.2h3M152.6 1484.9h3M152.6 1482.9h3M152.6 1481.2h3M152.6 1479.7h3M152.6 1605.6h3M152.6 1609.6h3M152.6 1613.1h3M152.6 1616.1h3M152.6 1618.6h3M152.6 1620.6h3M152.6 1622.1h3M152.6 1625.1h3M152.6 1626.6h3M152.6 1628.6h3M152.6 1631.1h3M152.6 1634.1h3M152.6 1637.6h3M152.6 1641.1h3M152.6 1648.6h3M152.6 1651.6h3M150.6 1478.4h5M150.6 1507.6h5M150.6 1536.6h5M150.6 1566.9h5M150.6 1601.3h5M150.6 1623.6h5M150.6 1644.6h5M215.7 1653.1v3M222.0 1653.1v3M226.5 1653.1v3M229.9 1653.1v3M232.8 1653.1v3M235.2 1653.1v3M237.2 1653.1v3M239.1 1653.1v3M249.6 1653.1v3M254.8 1653.1v3M258.5 1653.1v3M261.3 1653.1v3M263.7 1653.1v3M265.6 1653.1v3M267.3 1653.1v3M268.9 1653.1v3M279.1 1653.1v3M284.3 1653.1v3M288.0 1653.1v3M290.8 1653.1v3M293.2 1653.1v3M295.1 1653.1v3M296.8 1653.1v3M298.4 1653.1v3M308.4 1653.1v3M313.5 1653.1v3M317.1 1653.1v3M319.9 1653.1v3M322.2 1653.1v3M324.1 1653.1v3M325.8 1653.1v3M327.3 1653.1v3M166.1 1653.1v3M169.1 1653.1v3M171.6 1653.1v3M174.1 1653.1v3M176.1 1653.1v3M178.1 1653.1v3M180.1 1653.1v3M181.6 1653.1v3M184.6 1653.1v3M186.6 1653.1v3M188.6 1653.1v3M190.6 1653.1v3M193.1 1653.1v3M195.6 1653.1v3M198.6 1653.1v3M201.6 1653.1v3M162.6 1653.1v5M204.9 1653.1v5M240.7 1653.1v5M270.2 1653.1v5M299.7 1653.1v5M328.6 1653.1v5M183.1 1653.1v5" stroke="#000" stroke-width="1" fill="none"/>
<rect x="179.1" y="1653.1" width="8" height="3.2" fill="#000"/>
<rect x="152.4" y="1619.6" width="3.2" height="7.5" fill="#000"/>
<text x="126.4" y="1515.6" font-size="12.6" fill="#111" stroke="#111" stroke-width="0.45">10</text>
<text x="140.2" y="1507.8" font-size="11.2" fill="#111" stroke="#111" stroke-width="0.45">6</text>
<text x="126.4" y="1544.6" font-size="12.6" fill="#111" stroke="#111" stroke-width="0.45">10</text>
<text x="140.2" y="1536.8" font-size="11.2" fill="#111" stroke="#111" stroke-width="0.45">5</text>
<text x="126.4" y="1574.9" font-size="12.6" fill="#111" stroke="#111" stroke-width="0.45">10</text>
<text x="140.2" y="1567.1" font-size="11.2" fill="#111" stroke="#111" stroke-width="0.45">4</text>
<text x="126.4" y="1609.3" font-size="12.6" fill="#111" stroke="#111" stroke-width="0.45">10</text>
<text x="140.2" y="1601.5" font-size="11.2" fill="#111" stroke="#111" stroke-width="0.45">3</text>
<text x="136.6" y="1628.6" font-size="12.6" text-anchor="middle" fill="#111" stroke="#111" stroke-width="0.45">0</text>
<text x="186.1" y="1675.2" font-size="12.6" text-anchor="middle" fill="#111" stroke="#111" stroke-width="0.45">0</text>
<text x="238.1" y="1675.2" font-size="12.6" fill="#111" stroke="#111" stroke-width="0.45">10</text>
<text x="251.7" y="1665.9" font-size="11.2" fill="#111" stroke="#111" stroke-width="0.45">4</text>
<text x="267.6" y="1675.2" font-size="12.6" fill="#111" stroke="#111" stroke-width="0.45">10</text>
<text x="281.2" y="1665.9" font-size="11.2" fill="#111" stroke="#111" stroke-width="0.45">5</text>
<text x="297.1" y="1675.2" font-size="12.6" fill="#111" stroke="#111" stroke-width="0.45">10</text>
<text x="310.7" y="1665.9" font-size="11.2" fill="#111" stroke="#111" stroke-width="0.45">6</text>
<line x1="255.6" y1="1472.6" x2="255.6" y2="1653.1" stroke="#000" stroke-width="1.5"/>
<line x1="155.6" y1="1601.3" x2="336.6" y2="1601.3" stroke="#000" stroke-width="1.5"/>
<text x="159.0" y="1491.2" font-size="12.4" stroke="#000" stroke-width="0.45">82.5</text>
<text x="320.0" y="1491.2" font-size="12.4" text-anchor="end" stroke="#000" stroke-width="0.45">14.6</text>
<text x="159.0" y="1641.3" font-size="12.4" stroke="#000" stroke-width="0.45">1.49</text>
<text x="320.0" y="1641.3" font-size="12.4" text-anchor="end" stroke="#000" stroke-width="0.45">1.40</text>
<g fill="none" stroke-width="1"><path d="M499 1531.5h1m-35 4h1m27 1h1m-56 1h1m25 0h1m23 0h1m-46 3h1m18 0h1m8 0h1m5 0h1m15 0h1m4 0h1m-23 1h1m18 0h1m-31 1h1m5 0h1m6 0h1m-2 1h2m11 0h1m-21 1h1m12 0h1m8 0h2m1 0h1m-46 1h1m6 0h1m1 0h1m2 0h1m1 0h1m14 0h1m3 0h1m7 0h1m2 0h1m-46 1h2m14 0h1m4 0h1m1 0h1m9 0h2m2 0h1m2 0h1m2 0h1m1 0h1m-52 1h1m5 0h1m8 0h1m1 0h2m1 0h1m1 0h1m1 0h2m4 0h1m4 0h1m15 0h2m1 0h1m2 0h1m-92 1h1m28 0h1m7 0h3m4 0h1m1 0h1m2 0h2m2 0h2m1 0h1m2 0h3m2 0h1m-42 1h1m7 0h1m6 0h1m3 0h1m47 0h2m10 0h1m-106 1h1m6 0h1m2 0h1m22 0h1m3 0h1m3 0h1m-39 1h1m16 0h1m1 0h1m2 0h1m3 0h1m69 0h1m1 0h1m-92 1h1m11 0h1m2 0h1m2 0h1m1 0h1m-42 1h1m7 0h1m11 0h1m4 0h1m-19 1h1m1 0h1m1 0h2m3 0h1m11 0h1m1 0h2m-13 1h1m3 0h1m2 0h1m-14 1h1m1 0h1m91 0h1m-102 1h1m6 0h1m5 0h1m88 1h1m-103 1h1m1 0h1m2 0h1m95 0h1m0 2h1m-101 1h1m-1 1h1m-1 1h1m100 0h1m-102 1h1m96 0h1m2 0h1m-101 1h1m-12 1h1m9 0h1m98 0h1m-100 1h1m95 0h1m3 0h1m-101 1h1m94 0h1m4 0h1m-111 1h1m102 0h1m-107 1h1m11 0h1m85 0h1m5 0h1m3 0h1m-103 1h1m8 0h1m3 0h1m2 0h1m73 0h1m5 0h1m4 0h2m-97 1h1m3 0h1m6 0h1m78 0h1m6 0h1m-97 1h1m2 0h1m1 0h1m1 0h1m2 0h2m45 0h1m8 0h1m1 0h1m12 0h3m-86 1h1m3 0h1m4 0h1m22 0h2m17 0h1m5 0h1m2 0h1m2 0h1m1 0h1m1 0h2m10 0h1m4 0h2m1 0h1m8 0h1m-88 1h1m2 0h1m1 0h1m3 0h1m4 0h1m22 0h1m1 0h2m4 0h1m23 0h1m2 0h1m2 0h1m4 0h1m7 0h1m-93 1h1m4 0h1m1 0h1m8 0h1m2 0h2m1 0h1m5 0h1m4 0h1m9 0h2m4 0h1m5 0h1m2 0h1m6 0h1m1 0h2m2 0h1m2 0h1m-79 1h1m10 0h2m4 0h1m1 0h1m12 0h1m5 0h2m1 0h2m1 0h1m2 0h1m3 0h1m7 0h2m12 0h1m1 0h1m6 0h1m12 0h1m15 0h1m-103 1h1m2 0h1m1 0h1m3 0h3m8 0h2m25 0h1m2 0h1m8 0h1m2 0h1m2 0h1m5 0h1m3 0h1m16 0h1m12 0h1m-125 1h1m31 0h1m3 0h1m7 0h1m6 0h1m16 0h1m3 0h1m4 0h1m2 0h1m3 0h1m2 0h1m12 0h1m-90 1h1m34 0h1m1 0h1m1 0h1m6 0h1m5 0h1m3 0h1m4 0h1m18 0h1m7 0h2m1 0h1m2 0h1m-109 1h1m18 0h1m13 0h1m1 0h2m1 0h1m16 0h1m15 0h1m5 0h1m5 0h1m13 0h1m-88 1h1m12 0h1m10 0h2m7 0h1m1 0h1m4 0h1m12 0h1m4 0h2m10 0h1m8 0h1m12 0h1m-67 1h1m2 0h1m3 0h1m20 0h1m3 0h1m1 0h1m2 0h1m1 0h1m9 0h1m15 0h1m6 0h1m2 0h1m-95 1h1m2 0h1m3 0h1m3 0h1m3 0h1m4 0h1m14 0h2m3 0h2m3 0h1m1 0h1m21 0h1m34 0h1m-98 1h1m25 0h1m6 0h1m18 0h1m18 0h1m-81 1h1m13 0h1m10 0h1m1 0h1m4 0h1m12 0h1m23 0h1m11 0h1m5 0h1m-75 1h1m8 0h1m7 0h1m3 0h1m8 0h1m9 0h2m12 0h1m1 0h1m12 0h1m11 0h1m3 0h1m-97 1h1m28 0h1m15 0h1m2 0h1m2 0h1m4 0h1m9 0h1m16 0h1m-80 1h1m27 0h1m6 0h1m5 0h1m3 0h1m4 0h1m8 0h1m20 0h1m-70 1h1m7 0h1m3 0h1m3 0h2m3 0h1m9 0h1m3 0h1m17 0h1m4 0h1m-15 1h1m21 0h1m12 0h1m19 0h1m-76 1h1m5 0h1m4 0h1m15 0h1m4 0h1m10 0h1m1 0h1m12 0h1m-83 1h1m36 0h1m7 0h1m4 0h1m8 0h1m-65 1h1m34 0h1m11 0h1m-12 1h1m16 0h1m17 0h1m-30 1h1m-22 1h3m37 0h1m-59 1h1m38 0h1m-15 2h1m82 0h1m-49 1h1m12 0h1m-89 2h1m47 2h2m1 0h1m4 0h1m29 0h2m1 0h1m11 0h1m-103 1h1m5 0h1m23 0h2m35 0h1m6 0h1m10 0h1m2 0h1m5 0h1m-100 1h1m8 0h1m6 0h1m15 0h1m6 0h1m5 0h1m10 0h1m6 0h1m11 0h1m6 0h1m14 0h1m1 0h1m-101 1h1m10 0h1m12 0h1m30 0h1m14 0h1m16 0h1m7 0h1m14 0h1m2 0h1m-103 1h1m56 0h1m3 0h1m20 0h2m-81 1h2m19 0h1m7 0h1m14 0h1m30 0h1m2 0h1m5 0h2m5 0h1m-93 1h2m15 0h1m54 0h1m6 0h2m3 0h1m-61 1h1m14 0h1m12 0h1m6 0h2m24 0h1m2 0h1m-97 1h1m16 0h1m18 0h1m11 0h1m4 0h2m38 0h1m1 0h1m3 0h1m-59 1h1m10 0h1m18 0h1m4 0h1m6 0h1m4 0h4m-79 1h1m72 0h1m5 0h1m1 0h3m1 0h1m-95 1h1m19 0h1m5 0h1m33 0h1m-59 1h1m7 0h1m29 0h1m21 0h1m7 0h1m3 0h1m1 0h1m3 0h1m9 0h1m7 0h3m-84 1h1m8 0h1m23 0h1m19 0h1m2 0h1m7 0h3m6 0h1m1 0h1m5 0h1m-101 1h1m28 0h3m33 0h2m24 0h1m13 0h1m-111 1h1m23 0h1m41 0h1m13 0h1m4 0h1m13 0h1m-94 1h1m26 0h1m31 0h1m22 0h2m6 0h1m5 0h1m7 0h1m-36 1h1m7 0h2m2 0h1m-87 1h1m16 0h1m8 0h1m35 0h1m2 0h1m11 0h1m3 0h1m14 0h1m6 0h1m6 0h1m-70 1h1m58 0h1m-66 1h1m9 0h1m20 0h2m25 0h2m6 0h1m-55 1h1m40 0h2m-76 1h1m52 0h1m16 0h1m20 0h1m-65 1h1m9 0h1m42 0h1m1 0h2m2 0h1m-35 1h1m16 0h1m1 0h1m1 0h1m13 0h1m-93 1h1m10 0h1m9 0h1m8 0h1m4 0h1m46 0h1m9 0h1m1 0h1m-74 1h1m11 0h1m9 0h1m13 0h1m20 0h1m10 0h1m-14 1h1m6 0h2m-92 1h1m38 0h1m16 0h1m6 0h1m13 0h1m7 0h1m4 0h1m4 0h1m-73 1h1m29 0h1m36 0h1m2 0h1m3 0h1m8 0h1m-100 1h2m6 0h1m7 0h1m37 0h1m25 0h1m8 0h1m6 0h1m-72 1h1m63 0h1m-100 1h1m20 0h1m12 0h1m8 0h1m17 0h1m13 0h1m12 0h1m14 0h1m-7 2h1m0 2h1" stroke="#5a5aff" stroke-opacity="0.65"/><path d="M483 1547.5h1m2 0h3m2 0h1m-36 1h1m24 0h3m1 0h2m3 0h1m-36 1h2m17 0h2m3 0h1m4 0h1m7 0h1m-39 1h4m1 0h1m1 0h2m2 0h3m2 0h1m1 0h1m2 0h2m5 0h1m13 0h1m1 0h1m-60 1h1m1 0h1m3 0h3m5 0h1m1 0h2m1 0h1m3 0h2m2 0h1m2 0h1m2 0h2m25 0h1m-61 1h1m1 0h3m3 0h1m1 0h1m1 0h1m2 0h1m3 0h1m-23 1h2m5 0h2m9 0h3m-29 1h2m2 0h1m1 0h1m5 0h1m-17 1h2m1 0h1m1 0h1m1 0h3m-17 1h1m1 0h1m2 0h1m1 0h2m1 0h1m2 0h1m70 0h1m-92 1h2m5 0h3m1 0h2m-13 1h2m3 0h1m5 0h1m79 0h1m-94 1h1m2 0h1m3 0h1m84 0h2m-95 1h1m2 0h1m1 0h1m88 0h1m-94 1h2m3 0h2m-10 1h1m2 0h1m1 0h1m89 0h1m-96 1h3m92 0h1m-97 1h1m94 0h1m-2 2h2m-94 1h1m-2 1h2m88 0h1m-91 1h2m73 0h1m1 0h1m4 0h1m5 0h1m-89 1h1m2 0h1m4 0h1m64 0h1m3 0h3m3 0h2m1 0h2m-87 1h1m1 0h1m5 0h1m62 0h1m1 0h3m-76 1h1m7 0h2m44 0h2m1 0h1m2 0h2m1 0h1m1 0h1m5 0h1m3 0h1m-55 1h1m3 0h2m2 0h1m11 0h1m1 0h2m6 0h2m2 0h1m1 0h1m3 0h1m2 0h1m5 0h1m1 0h2m1 0h1m-66 1h2m3 0h1m4 0h1m2 0h1m4 0h3m8 0h1m3 0h1m1 0h1m1 0h2m17 0h3m2 0h2m2 0h1m-67 1h2m5 0h1m1 0h1m1 0h4m7 0h1m1 0h1m1 0h4m4 0h1m2 0h2m1 0h2m17 0h1m-50 1h1m2 0h3m6 0h1m3 0h1m32 0h1m16 40h1m-2 1h1m-1 1h4m-3 1h3m-5 1h1m1 0h1m-4 1h6m-3 1h1m1 0h1m-6 1h3m1 0h2m-6 1h3m1 0h1m-3 1h1m-1 1h1m-2 1h1m-1 1h3m-2 1h3m-2 1h1" stroke="#2828ff" stroke-opacity="0.8"/><path d="M489 1548.5h1m-4 1h1m-10 1h4m13 0h1m-21 1h2m1 0h1m3 0h1m1 0h2m12 0h2m-51 1h1m11 0h3m5 0h2m1 0h1m4 0h1m22 0h1m-54 1h3m4 0h1m5 0h1m1 0h1m1 0h1m3 0h2m31 0h1m-64 1h2m5 0h2m11 0h1m-22 1h1m2 0h1m2 0h1m-12 1h2m2 0h1m64 0h1m-78 1h4m3 0h4m-17 1h1m1 0h1m2 0h1m-7 1h2m1 0h2m2 0h1m-4 1h1m-6 1h1m4 0h3m76 0h1m-86 1h1m84 0h1m-92 1h1m4 0h1m-7 1h3m1 0h1m86 0h1m-91 1h1m88 0h2m-92 1h1m88 0h1m-90 1h2m84 0h1m1 0h1m-88 1h1m6 0h1m63 0h2m5 0h3m1 0h4m-87 1h2m1 0h3m2 0h1m62 0h1m4 0h2m5 0h3m-84 1h3m3 0h1m52 0h2m-55 1h1m44 0h3m1 0h2m1 0h1m1 0h3m-56 1h1m11 0h1m3 0h4m2 0h1m8 0h1m1 0h1m4 0h1m4 0h1m12 0h1m-56 1h3m1 0h1m3 0h2m9 0h1m8 0h2m26 0h1m-51 1h3m11 0h4m1 0h3" stroke="#0d4bff"/><path d="M488 1549.5h1m-3 1h1m4 0h1m-13 1h2m12 0h4m-19 1h1m2 0h1m1 0h1m13 0h1m-33 1h1m4 0h8m5 0h1m15 0h1m-51 1h5m4 0h1m1 0h1m7 0h3m29 0h1m-63 1h1m6 0h2m8 0h1m44 0h1m-65 1h5m1 0h2m55 0h1m-66 1h2m-12 1h6m-6 1h1m-8 1h3m3 0h1m75 0h1m-84 1h4m-5 1h1m1 0h4m1 0h1m-9 1h3m4 0h1m-9 1h1m2 0h2m-9 1h3m4 0h1m79 0h1m-89 1h2m5 0h1m64 0h1m11 0h1m1 0h2m-80 1h1m63 0h1m1 0h1m3 0h2m1 0h1m-81 1h2m1 0h1m3 0h1m67 0h1m-69 1h1m51 0h1m1 0h1m6 0h1m-18 1h2m3 0h2m4 0h2m-56 1h2m7 0h2m1 0h2m1 0h3m1 0h1m1 0h1m7 0h1m1 0h2m2 0h1m5 0h2m13 0h1m1 0h1m-58 1h2m1 0h1m3 0h2m12 0h2m3 0h2m9 0h1m17 0h2m-53 1h2m17 0h3" stroke="#075cff"/><path d="M487 1550.5h1m2 0h1m-5 1h1m-8 1h2m4 0h1m9 0h2m-17 1h2m2 0h1m-22 1h3m6 0h7m1 0h3m16 0h1m-53 1h2m4 0h2m3 0h3m7 0h1m1 0h1m-27 1h1m-8 1h6m55 0h1m-64 1h3m2 0h1m57 0h1m-74 1h1m4 0h3m65 0h1m-75 1h1m73 0h1m-75 1h1m73 0h1m-84 3h1m2 0h3m75 0h1m-85 1h3m2 0h1m62 0h1m13 0h2m-86 1h4m3 0h1m64 0h1m4 0h1m1 0h3m-82 1h4m63 0h2m4 0h1m1 0h1m-69 1h1m58 0h1m-11 1h2m3 0h1m4 0h1m-60 1h2m13 0h1m1 0h3m1 0h3m4 0h4m13 0h3m8 0h1m1 0h1m-57 1h2m1 0h1m1 0h2m14 0h2m2 0h1m6 0h1m2 0h4m16 0h1m-53 1h2m17 0h3" stroke="#006fff"/><path d="M489 1550.5h1m-3 1h1m2 0h2m-6 1h1m5 0h2m1 1h3m0 1h1m-50 1h4m9 0h1m4 0h1m3 0h5m1 0h6m15 0h1m-54 1h4m6 0h1m1 0h1m11 0h1m10 0h3m15 0h1m-18 1h1m-40 1h1m-17 1h2m1 0h1m3 0h7m-15 1h1m-2 2h1m72 0h1m-2 1h1m-76 1h1m58 0h2m12 0h2m-77 1h1m59 0h1m1 0h2m8 0h2m-75 1h1m59 0h1m4 0h4m-18 1h2m-3 1h1m1 0h3m2 0h1m-58 1h1m14 0h1m2 0h2m1 0h3m3 0h3m12 0h3m11 0h2m-57 1h5m1 0h2m1 0h4m9 0h4m5 0h1m7 0h1m-36 1h1m18 0h2" stroke="#009cf8"/><path d="M488 1551.5h1m-2 1h1m-3 1h2m6 0h2m-11 1h2m10 0h1m-33 1h3m16 0h2m12 0h1m-49 1h6m3 0h4m6 0h1m1 0h10m3 0h1m13 0h1m-54 1h1m2 0h1m6 0h1m1 0h1m22 0h1m2 0h1m-3 1h4m13 0h1m-57 1h1m55 0h1m-72 1h2m1 0h6m1 0h1m-12 1h1m71 0h1m-12 1h1m-63 1h1m55 0h2m3 0h1m1 0h1m7 0h1m-74 1h2m55 0h1m2 0h1m2 0h4m3 0h2m-74 1h2m56 0h1m4 0h4m1 0h3m-72 1h1m49 0h2m6 0h1m-60 1h1m49 0h1m2 0h3m1 0h1m-58 1h1m4 0h1m10 0h2m2 0h3m3 0h1m15 0h1m5 0h2m5 0h2m-56 1h9m3 0h2m9 0h2m5 0h1m9 0h1m3 0h2m-14 1h2m1 0h4" stroke="#00c8f1"/><path d="M488 1552.5h3m-4 1h2m3 0h1m-7 1h1m6 0h2m-9 1h1m9 0h1m-35 1h2m2 0h2m16 0h3m9 0h1m-52 1h2m1 0h3m1 0h2m4 0h2m1 0h1m6 0h4m3 0h4m5 0h3m-44 1h1m4 0h9m22 0h1m4 0h1m1 0h1m-45 1h1m9 0h1m28 0h1m1 0h4m-59 1h1m6 0h1m2 0h4m39 0h1m3 0h2m10 0h1m-72 1h1m2 0h3m53 0h2m-62 1h1m55 0h1m3 0h1m1 0h1m-9 1h1m2 0h1m1 0h1m3 0h1m4 0h1m-16 1h1m4 0h1m6 0h2m-70 1h1m45 0h1m1 0h4m3 0h1m-58 1h3m45 0h1m2 0h6m-58 1h5m10 0h1m32 0h1m6 0h1m-56 1h3m3 0h2m4 0h3m2 0h2m3 0h2m2 0h3m11 0h1m1 0h1m-34 1h3m19 0h1m3 0h2m1 0h2" stroke="#00d9c6"/><path d="M489 1553.5h3m-4 1h1m-2 1h1m5 0h2m-31 1h2m21 0h1m7 0h1m-34 1h1m4 0h1m5 0h2m12 0h1m8 0h1m-53 1h1m1 0h1m11 0h2m8 0h3m7 0h1m8 0h1m-45 1h1m4 0h3m2 0h5m21 0h1m-38 1h1m8 0h2m27 0h1m1 0h3m2 0h1m-61 1h2m3 0h10m38 0h3m1 0h1m2 0h1m8 0h1m-71 1h2m1 0h1m52 0h3m3 0h1m5 0h2m-71 1h1m57 0h1m5 0h4m-69 1h1m44 0h5m-51 1h2m50 0h2m-54 1h2m9 0h1m32 0h1m-44 1h4m3 0h3m1 0h1m1 0h3m19 0h2m5 0h1m-40 1h4m17 0h2m6 0h3m3 0h1m1 0h1m-14 1h3m2 0h1" stroke="#00e291"/><path d="M492 1554.5h1m-5 1h1m5 1h1m-32 1h1m2 0h1m-22 1h1m14 0h2m5 0h1m3 0h4m1 0h2m18 0h1m-50 1h1m10 0h2m36 0h1m-49 1h3m2 0h2m24 0h1m8 0h1m7 0h1m-55 1h1m8 0h2m26 0h1m8 0h1m6 0h1m-68 1h1m2 0h2m56 0h1m2 0h2m-68 1h5m39 0h4m4 0h1m-54 1h6m37 0h1m5 0h1m2 0h1m-53 1h7m2 0h1m32 0h1m-43 1h2m1 0h2m1 0h3m1 0h3m21 0h2m5 0h1m-39 1h3m9 0h1m2 0h1m1 0h1m10 0h3m2 0h1m-12 1h2m2 0h2m7 0h1" stroke="#16e756"/><path d="M489 1554.5h3m0 1h1m-5 1h1m4 0h1m-30 1h2m22 0h1m6 0h1m-34 1h1m3 0h1m21 0h1m-45 1h1m1 0h1m13 0h1m6 0h5m2 0h5m9 0h1m-46 1h1m3 0h1m7 0h4m-16 1h1m5 0h2m2 0h2m34 0h1m3 0h2m-62 1h10m8 0h2m18 0h3m4 0h1m11 0h2m-61 1h2m35 0h2m4 0h1m-44 1h6m20 0h3m7 0h1m7 0h2m-45 1h2m1 0h4m17 0h5m5 0h1m-28 1h1m16 0h3m2 0h1m-21 1h2m3 0h5m4 0h1m6 0h1m2 0h1m-14 1h2" stroke="#40ea18"/><path d="M489 1555.5h1m4 2h1m-32 1h3m29 0h1m-51 1h1m15 0h1m4 0h1m5 0h2m21 0h1m-52 1h1m1 0h1m12 0h1m8 0h8m2 0h1m10 0h1m4 0h2m-52 1h1m2 0h2m6 0h4m11 0h5m3 0h1m11 0h3m-50 1h1m5 0h2m2 0h2m1 0h3m10 0h2m3 0h2m-43 1h7m11 0h4m1 0h4m7 0h1m7 0h3m-41 1h2m13 0h5m3 0h2m4 0h1m-28 1h1m15 0h1m5 0h1m-13 1h2m4 0h1m6 0h1m2 0h1m-15 1h2m1 0h1m8 0h2" stroke="#82ed00"/><path d="M490 1555.5h2m-3 1h1m2 0h1m0 1h1m-5 1h1m-28 1h2m1 0h1m23 0h1m-45 1h1m14 0h2m4 0h2m8 0h2m12 0h1m1 0h2m-49 1h2m13 0h1m7 0h2m5 0h3m-34 1h1m3 0h1m6 0h1m3 0h1m7 0h2m7 0h2m-38 1h2m8 0h1m4 0h1m4 0h2m4 0h1m-28 1h1m10 0h2m10 0h1m2 0h1m-17 1h6m7 0h1m2 0h1m-26 1h1m3 0h2m1 0h2m2 0h4m8 0h2m-12 1h1" stroke="#d3ef00"/><path d="M491 1556.5h1m-3 1h1m2 0h1m0 1h2m-31 1h1m25 0h1m2 0h2m-33 1h1m2 0h1m25 0h1m-31 1h1m4 0h2m-23 1h3m13 0h1m4 0h1m-25 1h3m3 0h2m12 0h1m2 0h1m-26 1h1m8 0h1m13 0h2m-25 1h1m7 0h1m14 0h2m-24 1h3m2 0h1" stroke="#f2d400"/><path d="M490 1556.5h1m-1 1h2m-2 1h3m-2 1h2m-30 1h2m-3 1h1m2 0h1m-4 1h1m2 0h1m-21 1h3m15 0h2m-24 1h1m6 0h1m-5 1h1m2 0h1" stroke="#ff9900"/><path d="M463 1561.5h2m-2 1h2m-23 2h6m-7 1h3m1 0h2" stroke="#ff3900"/></g>
<rect x="384.3" y="1472.6" width="181.0" height="180.5" fill="none" stroke="#444" stroke-width="1.2"/>
<path d="M381.3 1590.9h3M381.3 1584.9h3M381.3 1580.6h3M381.3 1577.3h3M381.3 1574.5h3M381.3 1572.2h3M381.3 1570.2h3M381.3 1568.5h3M381.3 1557.8h3M381.3 1552.4h3M381.3 1548.7h3M381.3 1545.7h3M381.3 1543.3h3M381.3 1541.3h3M381.3 1539.5h3M381.3 1538.0h3M381.3 1527.9h3M381.3 1522.8h3M381.3 1519.1h3M381.3 1516.3h3M381.3 1514.0h3M381.3 1512.1h3M381.3 1510.4h3M381.3 1508.9h3M381.3 1498.8h3M381.3 1493.7h3M381.3 1490.0h3M381.3 1487.2h3M381.3 1484.9h3M381.3 1482.9h3M381.3 1481.2h3M381.3 1479.7h3M381.3 1605.6h3M381.3 1609.6h3M381.3 1613.1h3M381.3 1616.1h3M381.3 1618.6h3M381.3 1620.6h3M381.3 1622.1h3M381.3 1625.1h3M381.3 1626.6h3M381.3 1628.6h3M381.3 1631.1h3M381.3 1634.1h3M381.3 1637.6h3M381.3 1641.1h3M381.3 1648.6h3M381.3 1651.6h3M379.3 1478.4h5M379.3 1507.6h5M379.3 1536.6h5M379.3 1566.9h5M379.3 1601.3h5M379.3 1623.6h5M379.3 1644.6h5M444.4 1653.1v3M450.7 1653.1v3M455.2 1653.1v3M458.6 1653.1v3M461.5 1653.1v3M463.9 1653.1v3M465.9 1653.1v3M467.8 1653.1v3M478.3 1653.1v3M483.5 1653.1v3M487.2 1653.1v3M490.0 1653.1v3M492.4 1653.1v3M494.3 1653.1v3M496.0 1653.1v3M497.6 1653.1v3M507.8 1653.1v3M513.0 1653.1v3M516.7 1653.1v3M519.5 1653.1v3M521.9 1653.1v3M523.8 1653.1v3M525.5 1653.1v3M527.1 1653.1v3M537.1 1653.1v3M542.2 1653.1v3M545.8 1653.1v3M548.6 1653.1v3M550.9 1653.1v3M552.8 1653.1v3M554.5 1653.1v3M556.0 1653.1v3M394.8 1653.1v3M397.8 1653.1v3M400.3 1653.1v3M402.8 1653.1v3M404.8 1653.1v3M406.8 1653.1v3M408.8 1653.1v3M410.3 1653.1v3M413.3 1653.1v3M415.3 1653.1v3M417.3 1653.1v3M419.3 1653.1v3M421.8 1653.1v3M424.3 1653.1v3M427.3 1653.1v3M430.3 1653.1v3M391.3 1653.1v5M433.6 1653.1v5M469.4 1653.1v5M498.9 1653.1v5M528.4 1653.1v5M557.3 1653.1v5M411.8 1653.1v5" stroke="#000" stroke-width="1" fill="none"/>
<rect x="407.8" y="1653.1" width="8" height="3.2" fill="#000"/>
<rect x="381.1" y="1619.6" width="3.2" height="7.5" fill="#000"/>
<text x="355.1" y="1515.6" font-size="12.6" fill="#111" stroke="#111" stroke-width="0.45">10</text>
<text x="368.9" y="1507.8" font-size="11.2" fill="#111" stroke="#111" stroke-width="0.45">6</text>
<text x="355.1" y="1544.6" font-size="12.6" fill="#111" stroke="#111" stroke-width="0.45">10</text>
<text x="368.9" y="1536.8" font-size="11.2" fill="#111" stroke="#111" stroke-width="0.45">5</text>
<text x="355.1" y="1574.9" font-size="12.6" fill="#111" stroke="#111" stroke-width="0.45">10</text>
<text x="368.9" y="1567.1" font-size="11.2" fill="#111" stroke="#111" stroke-width="0.45">4</text>
<text x="355.1" y="1609.3" font-size="12.6" fill="#111" stroke="#111" stroke-width="0.45">10</text>
<text x="368.9" y="1601.5" font-size="11.2" fill="#111" stroke="#111" stroke-width="0.45">3</text>
<text x="365.3" y="1628.6" font-size="12.6" text-anchor="middle" fill="#111" stroke="#111" stroke-width="0.45">0</text>
<text x="414.8" y="1675.2" font-size="12.6" text-anchor="middle" fill="#111" stroke="#111" stroke-width="0.45">0</text>
<text x="466.8" y="1675.2" font-size="12.6" fill="#111" stroke="#111" stroke-width="0.45">10</text>
<text x="480.4" y="1665.9" font-size="11.2" fill="#111" stroke="#111" stroke-width="0.45">4</text>
<text x="496.3" y="1675.2" font-size="12.6" fill="#111" stroke="#111" stroke-width="0.45">10</text>
<text x="509.9" y="1665.9" font-size="11.2" fill="#111" stroke="#111" stroke-width="0.45">5</text>
<text x="525.8" y="1675.2" font-size="12.6" fill="#111" stroke="#111" stroke-width="0.45">10</text>
<text x="539.4" y="1665.9" font-size="11.2" fill="#111" stroke="#111" stroke-width="0.45">6</text>
<line x1="484.3" y1="1472.6" x2="484.3" y2="1653.1" stroke="#000" stroke-width="1.5"/>
<line x1="384.3" y1="1601.3" x2="565.3" y2="1601.3" stroke="#000" stroke-width="1.5"/>
<text x="387.7" y="1491.2" font-size="12.4" stroke="#000" stroke-width="0.45">77.8</text>
<text x="548.7" y="1491.2" font-size="12.4" text-anchor="end" stroke="#000" stroke-width="0.45">18.1</text>
<text x="387.7" y="1641.3" font-size="12.4" stroke="#000" stroke-width="0.45">2.02</text>
<text x="548.7" y="1641.3" font-size="12.4" text-anchor="end" stroke="#000" stroke-width="0.45">2.12</text>
<g fill="none" stroke-width="1"><path d="M696 1535.5h1m7 2h2m-50 3h1m-11 1h1m59 0h1m14 0h1m1 0h1m-24 1h1m11 0h1m5 0h1m-60 1h1m19 0h1m39 0h1m-31 1h1m7 0h1m7 0h1m6 0h1m12 0h3m-82 1h1m39 0h1m11 0h2m10 0h1m1 0h1m12 0h1m-75 1h1m37 0h1m3 0h1m12 0h1m6 0h1m9 0h1m1 0h1m-61 1h1m24 0h1m12 0h3m9 0h1m8 0h2m2 0h1m-80 1h1m34 0h2m8 0h1m11 0h1m1 0h1m18 0h1m-76 1h1m22 0h1m2 0h1m7 0h1m2 0h1m-35 1h1m12 0h1m3 0h1m2 0h1m10 0h1m3 0h1m1 0h2m3 0h1m34 0h3m-79 1h1m6 0h3m6 0h1m4 0h1m19 0h1m1 0h1m-57 1h1m3 0h1m4 0h1m6 0h1m7 0h1m64 0h1m-86 1h1m8 0h2m5 0h1m3 0h1m67 0h1m-91 1h1m7 0h1m77 0h1m2 0h1m4 0h1m-96 1h2m3 0h1m85 0h1m-107 1h1m14 0h1m-9 1h1m3 0h2m90 0h2m2 0h1m-3 1h1m2 0h1m-110 1h1m3 0h1m107 0h1m-110 1h2m1 0h1m100 0h1m-102 1h1m1 0h1m95 0h1m-102 1h1m1 0h1m100 0h1m-104 1h1m100 0h1m3 0h1m-105 1h1m-9 1h1m112 0h1m-110 1h1m5 0h1m-20 1h1m14 0h3m1 0h1m99 0h1m-110 1h1m4 0h1m100 0h1m1 0h1m2 0h1m-108 1h1m3 0h1m1 0h2m94 0h1m-104 1h1m100 0h1m-107 1h1m4 0h1m1 0h2m1 0h1m92 0h1m1 0h1m-18 1h1m-81 1h2m80 0h1m6 0h1m3 0h1m4 0h1m-99 1h1m2 0h1m75 0h1m17 0h1m-101 1h1m2 0h1m2 0h2m71 0h1m1 0h1m6 0h1m1 0h1m-96 1h1m12 0h3m1 0h1m1 0h1m55 0h1m2 0h1m1 0h1m1 0h1m2 0h2m3 0h1m3 0h1m2 0h1m4 0h1m1 0h3m2 0h1m-105 1h1m1 0h1m4 0h1m2 0h1m16 0h1m7 0h1m13 0h1m4 0h1m19 0h1m3 0h1m15 0h1m-97 1h1m16 0h1m2 0h1m12 0h1m6 0h1m2 0h1m1 0h1m6 0h2m6 0h2m2 0h2m4 0h1m13 0h3m2 0h1m4 0h1m1 0h1m-94 1h1m5 0h1m4 0h1m3 0h1m6 0h1m3 0h1m1 0h1m1 0h2m2 0h1m9 0h1m5 0h1m7 0h1m4 0h1m14 0h1m1 0h1m21 0h1m-95 1h2m2 0h1m4 0h1m2 0h1m1 0h1m5 0h1m5 0h1m5 0h2m1 0h1m8 0h2m4 0h1m9 0h1m1 0h1m7 0h2m6 0h1m-73 1h1m13 0h1m19 0h1m3 0h1m2 0h1m5 0h2m4 0h2m2 0h2m7 0h1m13 0h1m-83 1h3m1 0h1m2 0h1m1 0h1m1 0h1m7 0h1m2 0h2m8 0h1m1 0h2m14 0h3m6 0h1m4 0h2m-77 1h1m15 0h1m11 0h1m7 0h1m10 0h1m7 0h1m3 0h1m10 0h1m6 0h1m2 0h2m2 0h1m1 0h1m-78 1h1m7 0h1m10 0h1m1 0h1m3 0h1m3 0h1m1 0h1m12 0h1m12 0h1m2 0h1m7 0h1m2 0h1m1 0h1m-69 1h1m3 0h1m10 0h1m1 0h1m3 0h1m7 0h1m1 0h1m10 0h1m4 0h1m13 0h1m5 0h1m8 0h1m-74 1h1m7 0h1m4 0h1m3 0h2m1 0h1m16 0h1m8 0h1m19 0h1m-54 1h1m6 0h1m1 0h1m1 0h1m15 0h1m6 0h1m14 0h1m-50 1h1m3 0h1m6 0h1m4 0h1m2 0h1m24 0h1m3 0h1m4 0h1m4 0h1m-91 1h1m25 0h1m7 0h1m1 0h1m3 0h1m10 0h1m18 0h1m4 0h1m5 0h1m6 0h1m2 0h1m-75 1h1m3 0h1m24 0h1m4 0h3m9 0h1m6 0h1m9 0h2m6 0h1m-64 1h1m3 0h1m21 0h1m3 0h1m7 0h1m16 0h1m-71 1h1m19 0h2m6 0h1m11 0h1m44 0h1m-88 1h1m7 0h1m14 0h1m4 0h1m50 0h1m-80 1h1m49 0h1m6 0h1m54 0h1m-88 1h1m14 0h1m6 0h1m18 0h1m-49 1h1m25 0h1m37 0h1m7 0h1m-66 2h1m5 0h1m22 0h1m-54 1h1m51 0h1m37 1h1m1 0h1m-109 1h1m69 0h1m11 0h1m13 0h1m-69 3h1m55 0h1m-12 1h1m-69 1h1m9 0h1m23 0h1m3 0h1m5 0h1m27 0h1m32 0h1m6 0h1m-108 1h1m3 0h1m6 0h1m15 0h1m12 0h1m27 0h1m9 0h1m-63 1h1m20 0h1m4 0h1m43 0h2m13 0h1m4 0h1m-97 1h1m14 0h1m34 0h1m5 0h1m16 0h1m4 0h1m1 0h1m8 0h1m8 0h1m-107 1h1m4 0h1m17 0h1m31 0h1m32 0h1m1 0h1m5 0h1m7 0h2m1 0h1m-98 1h1m45 0h1m9 0h1m15 0h1m3 0h2m7 0h2m4 0h1m-98 1h1m2 0h1m69 0h1m17 0h2m2 0h1m8 0h1m-97 1h1m13 0h1m39 0h1m8 0h1m1 0h1m3 0h1m14 0h1m5 0h1m-74 1h1m10 0h1m26 0h2m17 0h2m7 0h1m3 0h1m-100 1h1m19 0h1m59 0h1m6 0h1m5 0h2m9 0h1m-106 1h1m28 0h1m9 0h1m30 0h1m12 0h1m2 0h1m12 0h1m-81 1h1m18 0h1m-40 1h1m2 0h1m17 0h1m67 0h1m1 0h1m4 0h1m3 0h1m9 0h1m-115 1h1m14 0h1m20 0h2m5 0h1m12 0h2m32 0h1m6 0h1m3 0h1m-98 1h1m3 0h1m7 0h1m45 0h1m23 0h1m14 0h2m-46 1h1m22 0h1m15 0h1m1 0h1m-68 1h1m24 0h1m6 0h1m20 0h1m6 0h1m1 0h1m9 0h1m2 0h1m3 0h1m-99 1h1m45 0h1m22 0h1m9 0h1m1 0h1m12 0h1m-106 1h1m17 0h1m25 0h1m10 0h1m21 0h1m10 0h1m12 0h1m-80 1h1m3 0h1m10 0h1m54 0h1m5 0h1m6 0h1m-106 1h1m1 0h1m4 0h1m8 0h1m6 0h1m9 0h1m1 0h1m7 0h1m43 0h1m3 0h1m1 0h1m2 0h1m1 0h1m8 0h1m-107 1h2m48 0h1m13 0h1m17 0h1m2 0h1m6 0h1m1 0h2m2 0h1m-85 1h1m27 0h1m8 0h1m5 0h1m35 0h1m9 0h1m-96 1h1m28 0h1m2 0h1m16 0h1m18 0h1m7 0h1m2 0h1m7 0h1m-91 1h1m20 0h1m3 0h1m1 0h1m20 0h1m20 0h1m11 0h1m1 0h2m1 0h1m4 0h1m1 0h1m-68 1h1m8 0h1m15 0h1m15 0h1m17 0h1m1 0h1m1 0h1m1 0h1m1 0h1m-31 1h1m21 0h1m4 0h1m14 0h1m-97 1h2m9 0h1m20 0h1m8 0h2m7 0h1m11 0h1m21 0h1m-63 1h1m15 0h1m46 0h1m1 0h1m-92 1h1m2 0h1m12 0h1m17 0h1m2 0h1m17 0h1m17 0h1m9 0h2m-95 1h1m27 0h1m7 0h1m9 0h1m25 0h1m5 0h1m10 0h1m1 0h1m13 0h1m-109 1h1m12 0h2m6 0h1m11 0h1m11 0h1m1 0h1m5 0h1m39 0h1m3 0h1m-96 1h1m20 0h1m15 0h1m4 0h1m11 0h1m10 0h1m24 0h1m4 2h1m-6 5h1m2 4h1" stroke="#5a5aff" stroke-opacity="0.65"/><path d="M719 1546.5h1m-8 1h2m5 0h2m-9 1h2m4 0h1m4 0h1m-19 1h1m1 0h2m7 0h1m7 0h1m1 0h1m1 0h1m-48 1h2m20 0h1m2 0h2m1 0h2m1 0h1m-39 1h1m4 0h2m3 0h2m3 0h2m38 0h1m-58 1h1m1 0h2m9 0h3m1 0h1m2 0h3m4 0h1m-35 1h1m4 0h1m1 0h1m2 0h1m1 0h1m17 0h2m32 0h1m-73 1h4m2 0h1m3 0h1m2 0h2m2 0h1m1 0h1m53 0h1m-84 1h1m7 0h1m2 0h1m7 0h3m61 0h2m-87 1h1m1 0h1m1 0h1m1 0h1m1 0h1m1 0h1m74 0h1m-90 2h1m2 0h1m2 0h1m83 0h1m-90 1h1m2 0h1m-7 1h2m3 0h1m1 0h1m-8 1h1m91 0h1m-96 1h2m-4 1h1m2 0h2m92 0h1m-99 1h1m2 0h1m93 0h1m-97 1h2m94 0h1m-94 1h1m91 0h3m-95 2h1m88 0h1m-3 2h1m-17 1h1m3 0h2m10 0h1m-91 1h1m2 0h2m68 0h1m8 0h1m1 0h1m1 0h2m-89 1h1m1 0h1m64 0h1m5 0h1m1 0h1m5 0h4m-81 1h2m4 0h1m53 0h1m3 0h1m1 0h2m-66 1h1m3 0h1m1 0h1m13 0h1m2 0h1m1 0h2m1 0h1m9 0h1m2 0h1m15 0h1m-53 1h1m9 0h1m2 0h2m1 0h2m4 0h1m3 0h1m2 0h2m2 0h2m1 0h1m2 0h1m1 0h1m6 0h1m1 0h2m1 0h1m-48 1h2m17 0h1m1 0h2m14 0h1m2 0h1m3 0h2m-49 1h1m3 0h1m43 0h1m-48 1h2m15 0h1m-2 2h1m54 38h4m-4 1h1m-1 1h1m-1 1h1" stroke="#2828ff" stroke-opacity="0.8"/><path d="M720 1548.5h1m-2 1h1m1 0h1m-7 1h2m5 0h1m2 0h1m-45 1h1m1 0h1m18 0h1m5 0h4m1 0h1m13 0h2m-48 1h1m1 0h2m16 0h1m-22 1h1m2 0h2m2 0h1m1 0h1m1 0h2m1 0h1m2 0h1m-20 1h2m9 0h2m1 0h3m34 0h1m-69 1h2m8 0h2m3 0h1m-18 1h1m4 0h2m1 0h1m4 0h1m1 0h1m-26 1h3m2 0h1m1 0h1m73 0h1m-83 1h1m3 0h3m-8 1h3m80 0h1m-90 1h2m4 0h1m82 0h1m-89 1h1m4 0h2m-9 1h1m3 0h1m1 0h2m81 0h2m-90 1h1m-3 1h1m88 0h2m-91 1h2m87 0h2m-92 1h2m88 0h1m-91 1h1m87 0h2m-90 1h1m85 1h1m-87 1h2m69 0h1m1 0h2m2 0h2m4 0h3m-85 1h1m66 0h1m10 0h1m1 0h1m2 0h1m-83 1h3m56 0h1m1 0h1m2 0h3m-68 1h2m1 0h1m54 0h1m4 0h4m-62 1h1m1 0h2m6 0h1m4 0h1m2 0h2m12 0h1m3 0h1m1 0h1m8 0h3m2 0h1m-50 1h3m1 0h6m12 0h1m4 0h2m7 0h3m5 0h2m-44 1h3m20 0h1m15 0h2" stroke="#0d4bff"/><path d="M717 1550.5h2m1 0h1m-5 1h1m2 0h3m2 0h3m-25 1h5m1 0h3m1 0h1m1 0h1m12 0h1m-47 1h2m17 0h2m7 0h4m-33 1h2m2 0h2m-8 1h2m10 0h3m1 0h2m32 0h1m-69 1h4m5 0h3m4 0h2m-21 1h2m5 0h4m5 0h2m54 0h1m-79 1h1m3 0h5m6 0h1m-17 1h2m1 0h1m1 0h3m71 0h1m-80 1h2m77 1h1m-89 1h1m1 0h1m84 0h1m-87 1h4m82 0h1m-87 1h1m-2 1h2m84 0h1m-2 1h1m-87 1h2m83 0h1m-87 1h2m79 0h4m-85 1h3m69 0h4m6 0h1m-82 1h3m56 0h1m5 0h1m1 0h1m11 0h2m-81 1h4m47 0h2m6 0h1m1 0h2m1 0h2m-15 1h3m3 0h1m4 0h1m-58 1h6m1 0h1m4 0h6m2 0h3m8 0h1m1 0h4m8 0h1m4 0h2m-49 1h1m1 0h3m2 0h2m12 0h1m5 0h1m8 0h1m5 0h1m-19 1h1m13 0h1m1 0h3" stroke="#075cff"/><path d="M717 1551.5h2m-4 1h2m1 0h1m1 0h7m-24 1h3m2 0h1m4 0h2m12 0h1m-30 1h1m2 0h2m8 0h2m14 0h1m-48 1h5m1 0h3m22 0h1m-34 1h2m11 0h1m2 0h1m33 0h1m-68 1h2m6 0h2m1 0h1m2 0h2m1 0h1m49 0h1m-69 1h5m-6 1h1m-8 1h1m1 0h1m1 0h1m71 1h1m-80 1h2m-7 2h2m80 1h1m-85 1h1m78 0h1m3 0h1m-84 1h1m76 0h1m1 0h4m-83 1h2m66 0h2m2 0h2m-73 1h1m47 0h3m10 0h1m1 0h3m8 0h3m-76 1h1m46 0h2m5 0h1m2 0h4m-61 1h2m1 0h3m39 0h1m3 0h1m3 0h1m-53 1h1m1 0h3m8 0h2m1 0h1m1 0h1m1 0h2m9 0h5m13 0h3m-42 1h2m11 0h1m6 0h1m6 0h4m2 0h2m-20 1h1m2 0h1m12 0h4" stroke="#006fff"/><path d="M717 1552.5h1m-3 1h1m1 0h5m2 0h2m-26 1h1m5 0h2m5 0h2m11 0h1m-30 1h1m4 0h3m4 0h1m2 0h1m14 0h1m-48 1h2m1 0h1m4 0h1m3 0h1m3 0h1m13 0h2m-33 1h2m-9 1h2m1 0h2m51 0h1m-66 1h5m60 0h1m-1 1h1m-77 1h5m1 0h1m-8 1h2m-4 1h2m75 0h1m-81 1h3m76 0h1m-82 1h1m79 0h2m-83 1h1m78 0h3m-74 1h1m3 0h2m53 0h1m1 0h3m3 0h1m-71 1h4m2 0h3m34 0h2m12 0h1m1 0h3m7 0h2m-75 1h7m6 0h1m36 0h1m3 0h1m2 0h3m-59 1h2m1 0h2m34 0h2m3 0h1m7 0h1m-52 1h1m11 0h3m15 0h2m1 0h1m5 0h1m2 0h1m5 0h3m-46 1h7m4 0h1m4 0h1m7 0h1m6 0h2m1 0h4m-19 1h1m3 0h1m12 0h1m-16 1h1" stroke="#009cf8"/><path d="M715 1554.5h5m4 0h1m-27 1h4m3 0h1m2 0h1m17 0h1m-43 1h4m9 0h1m6 0h1m7 0h1m14 0h1m-47 1h3m5 0h8m30 0h1m-59 1h2m6 0h1m2 0h1m46 0h1m-1 1h1m-68 1h1m3 0h3m60 0h1m-1 1h1m-75 1h1m2 0h1m69 0h1m-76 1h2m72 0h1m-77 1h3m72 0h1m-80 1h7m4 0h1m63 0h4m-80 1h1m2 0h7m2 0h2m53 0h3m-70 1h1m2 0h1m5 0h1m3 0h2m50 0h1m6 0h1m-73 1h4m4 0h1m5 0h1m35 0h1m3 0h2m3 0h2m-54 1h2m1 0h2m2 0h2m23 0h1m1 0h1m9 0h3m-47 1h1m1 0h5m1 0h2m15 0h3m4 0h1m3 0h2m6 0h2m-46 1h7m3 0h6m7 0h2m4 0h3m4 0h1m-19 1h2m2 0h2m-4 1h3" stroke="#00c8f1"/><path d="M721 1554.5h3m-18 1h2m6 0h5m6 0h1m-28 1h1m3 0h1m2 0h1m2 0h1m17 0h1m-43 1h2m2 0h1m8 0h1m11 0h3m-31 1h3m-16 1h1m4 0h6m-18 1h3m3 0h1m-9 1h1m5 0h2m59 0h1m-73 1h2m2 0h1m66 0h1m-73 1h5m65 0h1m-72 1h5m65 0h1m-71 1h4m1 0h1m53 0h1m-67 1h2m11 0h1m51 0h1m3 0h2m1 0h2m-74 1h2m12 0h3m29 0h2m1 0h1m8 0h6m-49 1h3m20 0h3m10 0h2m2 0h2m-41 1h2m14 0h2m3 0h1m3 0h3m-37 1h1m8 0h4m9 0h2m4 0h3m-16 1h2m2 0h1m1 0h1m-2 1h1" stroke="#00d9c6"/><path d="M719 1555.5h2m2 0h2m-25 1h2m4 0h2m6 0h5m6 0h1m-40 1h2m15 0h2m3 0h1m3 0h1m5 0h1m7 0h1m-43 1h2m4 0h8m28 0h1m-58 1h1m2 0h1m6 0h4m43 0h1m-59 1h1m5 0h5m46 0h2m-67 1h1m3 0h1m2 0h1m57 0h1m-2 1h1m-67 1h1m-1 1h1m62 0h1m-64 1h1m51 0h1m8 0h1m-61 1h1m2 0h1m29 0h3m14 0h1m-48 1h1m19 0h4m4 0h1m4 0h2m5 0h1m-40 1h1m18 0h1m3 0h1m2 0h1m-27 1h1m2 0h1m8 0h1m3 0h3m-17 1h4m2 0h1m1 0h1m-5 1h2" stroke="#00e291"/><path d="M721 1555.5h2m-4 1h1m3 0h2m-26 1h1m2 0h1m2 0h3m5 0h1m2 0h1m2 0h1m4 0h2m-40 1h3m9 0h1m11 0h2m5 0h2m6 0h1m-56 1h2m11 0h3m3 0h8m19 0h3m6 0h1m-53 1h1m5 0h1m36 0h3m-58 1h3m4 0h1m9 0h1m37 0h2m6 0h1m-66 1h1m4 0h4m55 0h1m-2 1h1m-12 1h3m-55 1h4m31 0h2m19 0h4m-56 1h4m14 0h4m10 0h2m6 0h6m-46 1h5m13 0h1m15 0h5m-38 1h4m6 0h2m2 0h4m5 0h2m-25 1h2m2 0h2m2 0h2m-5 1h2" stroke="#16e756"/><path d="M720 1556.5h3m-23 1h2m12 0h2m7 0h1m-25 1h1m4 0h5m3 0h2m1 0h2m7 0h1m-39 1h3m9 0h1m16 0h1m8 0h1m-56 1h1m2 0h1m7 0h6m4 0h3m1 0h2m23 0h1m-46 1h4m37 0h1m7 0h1m-61 1h1m15 0h1m35 0h4m-60 1h1m3 0h5m43 0h2m7 0h2m-63 1h1m3 0h1m1 0h2m16 0h2m9 0h2m18 0h3m2 0h1m-57 1h4m14 0h4m7 0h1m3 0h1m7 0h2m3 0h1m-43 1h1m6 0h1m4 0h2m4 0h1m4 0h1m6 0h1m4 0h1m-35 1h1m4 0h3m2 0h2m6 0h1m2 0h1m-21 1h1m2 0h2m-4 1h2" stroke="#40ea18"/><path d="M720 1557.5h3m-23 1h1m1 0h2m10 0h1m5 0h1m2 0h1m-25 1h1m5 0h10m8 0h1m-54 1h2m14 0h4m6 0h3m7 0h2m5 0h2m8 0h1m-55 1h1m3 0h1m6 0h1m3 0h3m3 0h3m1 0h2m9 0h3m6 0h1m4 0h1m-60 1h3m5 0h1m7 0h2m2 0h1m3 0h2m8 0h2m10 0h2m3 0h4m4 0h1m2 0h1m-63 1h1m1 0h1m5 0h1m9 0h3m2 0h3m8 0h3m9 0h5m2 0h7m-60 1h1m1 0h1m4 0h1m11 0h4m10 0h1m2 0h2m6 0h4m1 0h1m7 0h2m-52 1h1m5 0h2m4 0h2m4 0h1m5 0h1m5 0h1m5 0h1m2 0h1m1 0h1m-41 1h1m3 0h1m5 0h1m7 0h1m11 0h2m1 0h1m-33 1h1m2 0h1m3 0h2m9 0h2m-19 1h2" stroke="#82ed00"/><path d="M701 1558.5h1m19 0h2m-19 1h1m15 0h1m-22 1h1m4 0h1m3 0h5m7 0h1m-49 1h1m8 0h3m3 0h3m6 0h3m9 0h6m6 0h1m1 0h1m-54 1h1m3 0h3m5 0h3m2 0h2m2 0h1m1 0h2m2 0h3m6 0h1m3 0h2m9 0h2m-61 1h1m15 0h1m3 0h2m3 0h1m6 0h1m3 0h1m6 0h2m-38 1h1m3 0h3m3 0h1m7 0h1m5 0h1m10 0h1m4 0h1m-41 1h1m3 0h1m5 0h1m7 0h1m3 0h1m7 0h1m3 0h1m-32 1h1m3 0h3m9 0h3m10 0h1m-31 1h2" stroke="#d3ef00"/><path d="M700 1559.5h1m1 0h2m17 0h2m-2 1h2m-53 1h2m27 0h1m4 0h1m16 0h1m-50 1h1m15 0h2m1 0h1m7 0h1m4 0h1m-36 1h1m2 0h5m10 0h6m5 0h1m4 0h1m-35 1h3m15 0h5m6 0h1m-30 1h3m3 0h1m11 0h3m-21 1h2" stroke="#f2d400"/><path d="M701 1559.5h1m-2 1h1m1 0h2m-4 1h1m-31 1h2m31 0h1m-34 1h2m27 0h1m-25 1h3m21 0h1m2 0h1m-27 1h2m21 0h3" stroke="#ff9900"/><path d="M701 1560.5h1m-1 1h2m-3 1h3m-3 1h3m-3 1h2" stroke="#ff3900"/></g>
<rect x="613.6" y="1472.6" width="181.0" height="180.5" fill="none" stroke="#444" stroke-width="1.2"/>
<path d="M610.6 1590.9h3M610.6 1584.9h3M610.6 1580.6h3M610.6 1577.3h3M610.6 1574.5h3M610.6 1572.2h3M610.6 1570.2h3M610.6 1568.5h3M610.6 1557.8h3M610.6 1552.4h3M610.6 1548.7h3M610.6 1545.7h3M610.6 1543.3h3M610.6 1541.3h3M610.6 1539.5h3M610.6 1538.0h3M610.6 1527.9h3M610.6 1522.8h3M610.6 1519.1h3M610.6 1516.3h3M610.6 1514.0h3M610.6 1512.1h3M610.6 1510.4h3M610.6 1508.9h3M610.6 1498.8h3M610.6 1493.7h3M610.6 1490.0h3M610.6 1487.2h3M610.6 1484.9h3M610.6 1482.9h3M610.6 1481.2h3M610.6 1479.7h3M610.6 1605.6h3M610.6 1609.6h3M610.6 1613.1h3M610.6 1616.1h3M610.6 1618.6h3M610.6 1620.6h3M610.6 1622.1h3M610.6 1625.1h3M610.6 1626.6h3M610.6 1628.6h3M610.6 1631.1h3M610.6 1634.1h3M610.6 1637.6h3M610.6 1641.1h3M610.6 1648.6h3M610.6 1651.6h3M608.6 1478.4h5M608.6 1507.6h5M608.6 1536.6h5M608.6 1566.9h5M608.6 1601.3h5M608.6 1623.6h5M608.6 1644.6h5M673.7 1653.1v3M680.0 1653.1v3M684.5 1653.1v3M687.9 1653.1v3M690.8 1653.1v3M693.2 1653.1v3M695.2 1653.1v3M697.1 1653.1v3M707.6 1653.1v3M712.8 1653.1v3M716.5 1653.1v3M719.3 1653.1v3M721.7 1653.1v3M723.6 1653.1v3M725.3 1653.1v3M726.9 1653.1v3M737.1 1653.1v3M742.3 1653.1v3M746.0 1653.1v3M748.8 1653.1v3M751.2 1653.1v3M753.1 1653.1v3M754.8 1653.1v3M756.4 1653.1v3M766.4 1653.1v3M771.5 1653.1v3M775.1 1653.1v3M777.9 1653.1v3M780.2 1653.1v3M782.1 1653.1v3M783.8 1653.1v3M785.3 1653.1v3M624.1 1653.1v3M627.1 1653.1v3M629.6 1653.1v3M632.1 1653.1v3M634.1 1653.1v3M636.1 1653.1v3M638.1 1653.1v3M639.6 1653.1v3M642.6 1653.1v3M644.6 1653.1v3M646.6 1653.1v3M648.6 1653.1v3M651.1 1653.1v3M653.6 1653.1v3M656.6 1653.1v3M659.6 1653.1v3M620.6 1653.1v5M662.9 1653.1v5M698.7 1653.1v5M728.2 1653.1v5M757.7 1653.1v5M786.6 1653.1v5M641.1 1653.1v5" stroke="#000" stroke-width="1" fill="none"/>
<rect x="637.1" y="1653.1" width="8" height="3.2" fill="#000"/>
<rect x="610.4" y="1619.6" width="3.2" height="7.5" fill="#000"/>
<text x="584.4" y="1515.6" font-size="12.6" fill="#111" stroke="#111" stroke-width="0.45">10</text>
<text x="598.2" y="1507.8" font-size="11.2" fill="#111" stroke="#111" stroke-width="0.45">6</text>
<text x="584.4" y="1544.6" font-size="12.6" fill="#111" stroke="#111" stroke-width="0.45">10</text>
<text x="598.2" y="1536.8" font-size="11.2" fill="#111" stroke="#111" stroke-width="0.45">5</text>
<text x="584.4" y="1574.9" font-size="12.6" fill="#111" stroke="#111" stroke-width="0.45">10</text>
<text x="598.2" y="1567.1" font-size="11.2" fill="#111" stroke="#111" stroke-width="0.45">4</text>
<text x="584.4" y="1609.3" font-size="12.6" fill="#111" stroke="#111" stroke-width="0.45">10</text>
<text x="598.2" y="1601.5" font-size="11.2" fill="#111" stroke="#111" stroke-width="0.45">3</text>
<text x="594.6" y="1628.6" font-size="12.6" text-anchor="middle" fill="#111" stroke="#111" stroke-width="0.45">0</text>
<text x="644.1" y="1675.2" font-size="12.6" text-anchor="middle" fill="#111" stroke="#111" stroke-width="0.45">0</text>
<text x="696.1" y="1675.2" font-size="12.6" fill="#111" stroke="#111" stroke-width="0.45">10</text>
<text x="709.7" y="1665.9" font-size="11.2" fill="#111" stroke="#111" stroke-width="0.45">4</text>
<text x="725.6" y="1675.2" font-size="12.6" fill="#111" stroke="#111" stroke-width="0.45">10</text>
<text x="739.2" y="1665.9" font-size="11.2" fill="#111" stroke="#111" stroke-width="0.45">5</text>
<text x="755.1" y="1675.2" font-size="12.6" fill="#111" stroke="#111" stroke-width="0.45">10</text>
<text x="768.7" y="1665.9" font-size="11.2" fill="#111" stroke="#111" stroke-width="0.45">6</text>
<line x1="713.6" y1="1472.6" x2="713.6" y2="1653.1" stroke="#000" stroke-width="1.5"/>
<line x1="613.6" y1="1601.3" x2="794.6" y2="1601.3" stroke="#000" stroke-width="1.5"/>
<text x="617.0" y="1491.2" font-size="12.4" stroke="#000" stroke-width="0.45">81.6</text>
<text x="778.0" y="1491.2" font-size="12.4" text-anchor="end" stroke="#000" stroke-width="0.45">14.7</text>
<text x="617.0" y="1641.3" font-size="12.4" stroke="#000" stroke-width="0.45">2.40</text>
<text x="778.0" y="1641.3" font-size="12.4" text-anchor="end" stroke="#000" stroke-width="0.45">1.40</text>
<g fill="none" stroke-width="1"><path d="M904 1536.5h1m44 0h1m-26 1h1m13 0h1m10 0h1m14 1h1m-19 1h1m-53 1h1m55 0h1m2 0h1m-55 1h1m46 1h1m4 0h1m1 0h1m-21 1h1m14 0h1m-17 1h1m20 0h1m2 0h1m1 0h1m-30 1h2m3 0h1m2 0h1m3 0h1m4 0h2m1 0h1m1 0h1m2 0h1m-75 1h1m27 0h1m25 0h1m6 0h1m2 0h3m11 0h1m-71 1h1m26 0h1m4 0h1m4 0h1m1 0h2m7 0h1m1 0h2m1 0h1m-56 1h1m21 0h1m11 0h1m10 0h1m2 0h1m-41 1h1m3 0h2m9 0h1m8 0h1m8 0h1m2 0h2m27 0h1m-81 1h1m1 0h1m2 0h2m3 0h2m9 0h1m1 0h1m2 0h1m1 0h1m10 0h1m40 0h1m-95 1h1m15 0h1m16 0h1m2 0h1m4 0h1m11 0h1m41 0h1m4 0h1m-69 1h2m12 0h3m-51 1h1m8 0h1m3 0h2m1 0h1m6 0h1m1 0h1m7 0h1m62 0h1m-87 1h1m8 0h1m2 0h1m1 0h1m-25 1h1m4 0h1m12 0h1m-8 1h1m88 0h1m4 0h1m-107 1h3m6 0h1m1 0h1m86 0h1m-103 1h1m12 0h2m88 0h1m-97 1h2m3 0h1m92 0h1m-111 1h1m7 0h2m4 0h1m92 0h1m-101 1h1m6 0h1m94 0h1m-103 1h1m3 0h2m94 0h1m-101 1h1m4 0h1m95 0h1m-104 1h1m1 0h1m1 0h1m-2 1h1m98 0h1m-105 1h1m6 0h1m97 0h1m-108 1h1m5 0h1m98 0h1m-102 1h1m98 0h1m-101 1h1m3 0h1m91 0h2m1 0h1m1 0h1m3 0h1m-109 1h1m99 0h1m3 0h1m6 0h1m-111 1h1m3 0h2m89 0h1m4 0h1m-97 1h1m87 0h1m2 0h1m2 0h1m4 0h1m-100 1h1m1 0h1m1 0h1m57 0h1m27 0h1m9 0h1m-103 1h1m1 0h2m1 0h1m11 0h1m44 0h1m6 0h1m4 0h1m-75 1h1m8 0h1m7 0h1m1 0h1m36 0h1m6 0h1m3 0h1m1 0h1m5 0h1m2 0h1m1 0h1m5 0h1m-84 1h1m7 0h1m20 0h1m2 0h2m11 0h2m8 0h1m1 0h2m5 0h1m3 0h2m9 0h2m2 0h1m2 0h1m3 0h1m1 0h1m-86 1h1m9 0h1m8 0h1m3 0h1m2 0h2m1 0h2m2 0h2m1 0h1m6 0h1m5 0h1m5 0h1m4 0h1m6 0h1m7 0h1m16 0h1m-106 1h1m11 0h1m17 0h1m1 0h1m5 0h1m1 0h2m2 0h1m3 0h2m5 0h2m4 0h2m1 0h2m4 0h1m1 0h1m1 0h1m4 0h1m13 0h1m10 0h1m3 0h1m-82 1h1m10 0h1m3 0h1m2 0h1m5 0h1m3 0h1m7 0h1m4 0h1m9 0h1m-77 1h1m2 0h1m3 0h2m1 0h1m21 0h1m2 0h1m6 0h1m3 0h1m1 0h1m3 0h1m4 0h1m8 0h1m4 0h1m26 0h1m-85 1h1m1 0h1m7 0h3m17 0h1m3 0h1m1 0h1m6 0h1m11 0h1m7 0h1m3 0h1m41 0h1m-124 1h1m22 0h1m5 0h2m4 0h1m1 0h1m7 0h1m21 0h1m18 0h1m14 0h1m-96 1h1m4 0h1m10 0h1m27 0h3m11 0h1m1 0h1m-53 1h1m2 0h1m22 0h1m1 0h1m40 0h2m9 0h1m-92 1h1m16 0h1m3 0h1m9 0h1m7 0h1m5 0h1m3 0h1m4 0h2m1 0h1m3 0h1m3 0h1m5 0h1m5 0h1m-66 1h1m5 0h1m8 0h2m12 0h1m1 0h1m2 0h1m5 0h1m1 0h1m11 0h1m1 0h2m-58 1h1m13 0h1m2 0h1m1 0h1m10 0h1m8 0h3m7 0h2m19 0h1m2 0h1m-58 1h1m5 0h1m9 0h1m1 0h1m3 0h1m1 0h1m8 0h1m4 0h1m10 0h1m14 0h1m-45 1h1m5 0h1m1 0h1m4 0h2m5 0h1m4 0h1m11 0h1m-51 1h1m2 0h2m12 0h1m8 0h2m18 0h1m-96 1h1m6 0h1m54 0h1m24 0h1m3 0h1m9 0h1m-48 1h1m2 0h1m16 0h1m-53 1h1m50 0h1m18 0h1m-51 1h1m15 0h1m1 0h1m7 0h1m5 0h1m27 0h1m-80 1h1m25 0h1m7 0h1m8 0h1m2 0h1m6 0h1m5 0h1m61 0h1m-124 1h1m31 0h1m28 0h1m-53 1h1m7 0h1m2 0h1m24 0h1m-26 1h1m31 1h1m32 0h1m-41 1h1m7 0h1m38 0h1m-51 1h1m21 0h1m-55 1h1m2 0h1m23 0h1m28 1h1m19 0h1m-25 1h1m19 0h1m3 0h1m-94 2h1m43 0h1m9 0h1m23 0h1m2 0h1m-60 1h1m4 0h1m35 0h1m25 0h2m-73 1h1m1 0h2m1 0h1m6 0h1m22 0h1m33 0h1m4 0h1m-96 1h1m3 0h1m9 0h1m1 0h1m18 0h1m57 0h1m1 0h1m-68 1h1m20 0h1m7 0h1m1 0h1m13 0h1m34 0h1m-95 1h1m28 0h1m22 0h1m26 0h1m4 0h2m5 0h1m-94 1h1m6 0h1m20 0h1m38 0h1m14 0h1m5 0h1m-82 1h1m24 0h1m8 0h1m4 0h1m31 0h2m3 0h1m7 0h1m2 0h1m-99 1h1m3 0h1m63 0h1m16 0h1m2 0h1m17 0h1m-99 1h1m18 0h1m60 0h1m5 0h1m11 0h1m-115 1h1m84 0h1m10 0h1m-83 1h1m39 0h1m37 0h1m4 0h1m-54 1h1m1 0h1m17 0h1m34 0h2m12 0h1m-105 1h1m24 0h1m19 0h2m19 0h2m5 0h1m8 0h2m6 0h2m11 0h1m-85 1h2m5 0h1m51 0h1m-80 1h1m2 0h1m15 0h1m6 0h1m24 0h1m13 0h1m14 0h1m2 0h1m7 0h1m15 0h1m-85 1h1m4 0h1m15 0h1m6 0h1m26 0h1m5 0h1m7 0h1m2 0h1m-73 1h1m56 0h1m4 0h1m4 0h4m-11 1h1m11 0h1m2 0h1m-107 1h1m1 0h1m4 0h1m38 0h1m33 0h1m8 0h1m5 0h1m-77 1h1m45 0h1m9 0h1m2 0h1m13 0h2m6 0h1m6 0h1m2 0h1m-83 1h2m3 0h1m7 0h1m5 0h1m12 0h1m5 0h1m23 0h1m4 0h2m4 0h1m8 0h1m-78 1h1m29 0h1m36 0h2m-77 1h1m15 0h1m11 0h1m12 0h1m11 0h2m12 0h2m1 0h1m9 0h1m-96 1h1m32 0h2m43 0h2m2 0h1m1 0h2m8 0h1m6 0h1m1 0h1m-106 1h1m3 0h1m17 0h1m6 0h1m37 0h1m11 0h3m9 0h1m-97 1h1m2 0h1m62 0h1m9 0h1m12 0h4m1 0h2m2 0h1m-91 1h2m15 0h2m20 0h1m45 0h1m14 0h1m1 0h1m-83 1h1m11 0h1m30 0h1m9 0h1m11 0h1m-69 1h1m19 0h1m14 0h1m19 0h1m6 0h1m7 0h2m8 0h1m-92 1h1m10 0h1m32 0h1m40 0h1m3 0h1m-99 1h1m43 0h1m10 0h1m13 0h1m20 0h1m-95 1h2m1 0h1m23 0h1m8 0h1m6 0h1m28 0h1m11 0h1m7 1h1m2 0h1m-8 1h1m6 0h1m-6 1h1m2 0h1" stroke="#5a5aff" stroke-opacity="0.65"/><path d="M943 1547.5h1m4 0h3m-28 1h1m20 0h1m1 0h1m4 0h1m2 0h1m1 0h1m-36 1h1m2 0h1m1 0h1m12 0h1m2 0h1m1 0h1m1 0h1m7 0h1m1 0h1m-37 1h1m4 0h2m2 0h1m2 0h1m1 0h2m1 0h2m18 0h1m-55 1h1m16 0h1m6 0h1m1 0h1m1 0h1m25 0h1m-56 1h4m2 0h2m4 0h2m3 0h2m-14 1h1m3 0h1m2 0h1m43 0h1m-61 1h2m59 0h1m-74 1h2m4 0h2m65 0h1m-81 1h3m7 0h1m1 0h2m66 0h1m-81 1h1m79 0h1m-85 1h1m2 0h1m-5 1h1m-10 1h1m5 0h2m-8 1h1m92 0h1m-90 1h2m87 0h2m-1 1h1m-92 1h1m88 0h2m-93 1h1m90 0h1m-94 1h4m87 0h1m-91 1h2m87 0h2m-92 1h1m1 0h2m80 0h1m4 0h1m-92 1h2m1 0h1m1 0h1m80 0h1m-87 1h3m2 0h1m78 0h1m-85 1h1m2 0h3m59 0h1m17 0h1m-81 1h1m54 0h1m1 0h2m4 0h3m2 0h1m10 0h1m-80 1h1m2 0h1m42 0h1m3 0h1m2 0h1m1 0h1m3 0h2m2 0h1m1 0h2m2 0h1m3 0h1m3 0h2m-77 1h3m1 0h3m3 0h1m15 0h1m3 0h2m17 0h1m8 0h1m9 0h2m-70 1h2m1 0h1m7 0h1m5 0h1m5 0h1m4 0h3m1 0h2m1 0h1m1 0h1m3 0h2m29 0h3m-61 1h1m8 0h1m5 0h1m3 0h1m6 0h1m-30 1h2m2 0h2m66 37h2m-3 1h2m-2 1h2m0 1h1m-3 1h2m1 0h1m0 1h1m-5 1h3m1 0h1m-3 1h2m1 0h1m-5 1h1m1 0h2m-3 1h2m-3 1h3m1 3h1m-2 1h1m1 0h1m-3 1h1m1 0h1m-3 2h2" stroke="#2828ff" stroke-opacity="0.8"/><path d="M947 1549.5h2m1 0h4m-32 1h3m16 0h1m1 0h1m1 0h2m7 0h3m-36 1h3m10 0h2m2 0h1m6 0h1m10 0h1m-36 1h1m2 0h1m1 0h4m1 0h4m2 0h2m17 0h2m-56 1h3m11 0h3m3 0h1m1 0h1m2 0h1m29 0h1m-57 1h2m1 0h2m1 0h2m3 0h1m1 0h1m-20 1h2m3 0h1m57 0h1m-66 1h1m64 0h1m-78 1h3m1 0h1m1 0h1m3 0h2m65 0h1m-80 1h1m8 0h2m-14 1h3m79 0h1m-1 1h1m-86 1h1m83 0h1m-87 1h1m-2 1h1m85 0h1m-88 1h1m85 0h1m-87 1h1m84 0h1m-87 1h1m84 0h1m-86 1h1m80 0h1m1 0h1m1 0h1m-84 1h1m67 0h3m5 0h1m-10 1h2m1 0h1m4 0h1m-78 1h3m55 0h2m11 0h7m-76 1h1m1 0h1m1 0h1m44 0h1m2 0h1m1 0h2m4 0h2m1 0h1m1 0h1m1 0h7m-74 1h2m12 0h1m29 0h5m15 0h3m1 0h1m1 0h2m-72 1h3m4 0h1m6 0h3m5 0h2m4 0h1m11 0h1m5 0h1m18 0h3m1 0h2m-62 1h1m1 0h3m3 0h4m9 0h2m2 0h1m1 0h4m-30 1h4" stroke="#0d4bff"/><path d="M948 1550.5h1m3 0h1m-12 1h3m-9 1h2m3 0h1m4 0h1m9 0h1m-27 1h1m1 0h2m1 0h1m1 0h1m19 0h1m-40 1h1m1 0h5m2 0h1m1 0h1m-28 1h1m2 0h6m1 0h2m1 0h1m-20 1h7m55 0h1m-65 1h1m-13 1h1m1 0h5m4 0h1m-13 1h2m7 0h1m1 0h1m65 0h1m-1 1h1m-86 2h1m-2 1h1m82 1h1m-85 1h1m82 0h1m-84 1h1m66 0h1m1 0h1m9 0h1m2 0h1m-83 1h3m64 0h2m1 0h1m6 0h1m-77 1h3m63 0h1m3 0h1m3 0h1m-75 1h1m64 0h1m6 0h2m-74 1h1m1 0h2m9 0h2m34 0h6m2 0h1m1 0h2m1 0h4m-66 1h1m3 0h1m6 0h1m3 0h2m25 0h4m-40 1h1m3 0h3m1 0h4m4 0h4m1 0h1m10 0h3m-34 1h4m1 0h1m3 0h5m9 0h1m3 0h5" stroke="#075cff"/><path d="M950 1550.5h2m0 1h1m-12 1h3m10 0h1m-20 1h1m3 0h2m3 0h1m-16 1h8m1 0h1m17 0h1m-42 1h2m7 0h2m1 0h1m-26 1h4m-12 1h1m2 0h2m2 0h1m55 0h1m-65 1h1m4 0h2m57 0h1m-76 1h2m1 0h3m5 0h1m-18 1h1m1 0h1m1 0h3m6 0h1m1 0h1m64 0h1m-82 1h1m80 0h1m-83 1h1m-3 1h1m63 0h1m16 1h1m-82 1h1m63 0h1m1 0h2m11 0h1m-81 1h2m63 0h1m3 0h2m5 0h2m-75 1h1m61 0h1m5 0h1m2 0h2m-73 1h1m68 0h2m-71 1h2m6 0h7m32 0h7m1 0h1m2 0h4m-61 1h1m5 0h1m4 0h4m24 0h1m2 0h2m-43 1h1m4 0h1m6 0h2m4 0h1m12 0h2m1 0h3m-35 1h3m8 0h3m7 0h1m6 0h3m-7 1h3" stroke="#006fff"/><path d="M949 1551.5h1m1 0h1m-5 1h1m5 0h1m-13 1h3m1 0h1m8 0h1m-16 1h2m14 0h1m-39 1h6m5 0h2m1 0h3m2 0h2m-32 1h1m1 0h2m1 0h5m9 0h3m-33 1h2m5 0h3m-11 1h4m2 0h3m-19 1h1m9 0h1m1 0h1m1 0h3m55 0h1m-74 1h2m1 0h2m4 0h2m4 0h1m-23 1h9m1 0h7m-18 1h1m79 0h1m-83 1h2m62 0h1m5 0h2m9 0h1m-83 1h3m63 0h1m2 0h1m1 0h2m7 0h1m-79 1h1m60 0h1m4 0h3m1 0h4m1 0h2m-76 1h1m59 0h1m6 0h4m-71 1h2m58 0h1m7 0h2m-70 1h2m4 0h3m2 0h1m1 0h2m35 0h3m7 0h1m-60 1h1m3 0h1m9 0h1m28 0h2m-45 1h2m2 0h1m9 0h5m13 0h1m3 0h1m-35 1h3m9 0h3m3 0h2m2 0h1m0 1h2m1 0h2" stroke="#009cf8"/><path d="M948 1552.5h1m3 0h1m-7 1h1m6 0h1m-13 1h5m-12 1h2m3 0h2m1 0h3m-29 1h2m1 0h2m1 0h3m3 0h2m-25 1h2m1 0h1m3 0h1m1 0h1m41 0h1m-54 1h2m51 0h1m-62 1h1m5 0h2m-9 1h3m2 0h1m-7 1h1m1 0h3m57 0h1m-80 1h2m1 0h1m1 0h5m2 0h2m1 0h1m43 0h3m5 0h2m-64 1h2m51 0h1m3 0h1m6 0h1m7 0h1m-79 1h1m58 0h1m4 0h2m5 0h2m2 0h2m-77 1h1m58 0h1m-58 1h1m56 0h1m-58 1h2m2 0h3m4 0h1m45 0h1m-58 1h1m1 0h2m3 0h2m4 0h3m29 0h3m3 0h6m-57 1h3m12 0h3m17 0h7m-41 1h2m15 0h6m5 0h2m1 0h3m-11 1h1m3 0h1m-3 1h1" stroke="#00c8f1"/><path d="M949 1552.5h3m-5 1h1m4 0h1m-7 1h1m7 0h1m-14 1h1m3 0h1m9 0h1m-26 1h1m1 0h8m1 0h3m-35 1h3m3 0h1m1 0h9m1 0h2m14 0h2m-40 1h3m5 0h3m1 0h4m22 0h1m-2 1h2m11 0h1m-56 1h3m39 0h2m-46 1h2m35 0h1m1 0h1m4 0h3m-67 1h1m7 0h2m6 0h5m34 0h2m10 0h1m7 0h1m-77 1h1m1 0h2m2 0h2m3 0h3m5 0h3m33 0h2m5 0h2m5 0h1m-71 1h2m2 0h4m5 0h1m7 0h1m34 0h2m14 0h2m-74 1h8m49 0h1m-55 1h6m3 0h1m8 0h1m35 0h1m-55 1h2m3 0h3m2 0h4m32 0h9m-41 1h2m2 0h1m15 0h3m3 0h3m-27 1h4m1 0h1m6 0h5m-10 1h2m1 0h1m-3 1h2" stroke="#00d9c6"/><path d="M948 1553.5h1m2 0h1m-5 1h1m5 0h1m-8 1h1m-2 1h1m9 0h1m-27 1h3m6 0h5m12 0h1m-48 1h3m1 0h1m3 0h1m5 0h2m2 0h3m11 0h3m1 0h1m10 0h1m-52 1h1m8 0h1m1 0h7m17 0h1m4 0h1m-42 1h1m12 0h6m13 0h2m3 0h2m2 0h1m9 0h1m-55 1h2m14 0h3m14 0h2m3 0h1m2 0h1m3 0h1m8 0h1m-56 1h1m17 0h1m13 0h2m5 0h1m2 0h1m10 0h1m-75 1h1m6 0h3m3 0h5m21 0h2m12 0h1m15 0h1m2 0h1m-73 1h2m4 0h1m2 0h2m1 0h1m39 0h2m-48 1h1m2 0h4m5 0h1m1 0h1m31 0h3m-48 1h3m1 0h3m4 0h1m1 0h1m14 0h1m11 0h8m-40 1h4m1 0h2m13 0h3m5 0h3m-29 1h2m1 0h4m1 0h1m7 0h2m3 0h3m-18 1h6m-3 1h1" stroke="#00e291"/><path d="M949 1553.5h2m-3 1h1m-2 1h1m6 0h1m-9 1h1m-15 1h6m-14 1h1m4 0h2m7 0h2m5 0h1m8 0h1m-50 1h8m10 0h6m7 0h3m6 0h1m8 0h1m-42 1h3m6 0h1m3 0h2m5 0h2m3 0h2m5 0h1m-44 1h1m11 0h2m3 0h3m8 0h3m6 0h2m12 0h1m-54 1h1m15 0h1m2 0h1m10 0h1m8 0h2m5 0h1m4 0h1m-53 1h1m12 0h2m2 0h1m2 0h1m10 0h1m17 0h2m-65 1h2m4 0h5m3 0h1m12 0h2m3 0h3m2 0h2m5 0h1m-45 1h1m5 0h5m4 0h1m11 0h7m3 0h8m-38 1h4m3 0h2m11 0h1m1 0h1m1 0h2m3 0h4m-25 1h4m12 0h5m-17 1h2m1 0h4" stroke="#16e756"/><path d="M949 1554.5h3m2 2h1m-9 1h1m7 0h1m-24 1h7m15 0h1m-25 1h6m-31 1h1m5 0h3m10 0h3m2 0h5m19 0h2m-51 1h1m8 0h2m8 0h8m16 0h1m5 0h1m-52 1h2m9 0h4m4 0h4m2 0h4m20 0h1m-51 1h1m1 0h1m8 0h1m2 0h2m4 0h5m2 0h3m-30 1h2m9 0h1m2 0h3m3 0h2m3 0h4m-28 1h2m8 0h1m7 0h1m1 0h1m-21 1h4m13 0h3m-17 1h3m4 0h1" stroke="#40ea18"/><path d="M948 1555.5h2m1 0h2m-6 1h1m5 0h1m-1 1h1m-8 1h1m5 0h1m-7 1h1m5 0h1m-48 1h1m1 0h3m36 0h1m-43 1h1m5 0h2m39 0h1m-49 1h1m6 0h2m12 0h2m21 0h1m-45 1h1m6 0h1m14 0h2m-25 1h6m2 0h1m-8 1h4m-2 1h2m4 0h1m-5 1h4" stroke="#82ed00"/><path d="M950 1555.5h1m-3 1h1m3 0h1m-6 1h1m4 0h1m-2 2h1m-46 1h1m44 0h1m-45 1h3m37 0h1m2 0h1m-47 1h1m2 0h3m38 0h2m-46 1h6m-2 1h2m-3 1h2m1 0h1m-4 1h2m1 0h1" stroke="#d3ef00"/><path d="M949 1556.5h3m-1 1h1m-5 1h1m-1 2h1m2 0h1m-46 1h2m-2 1h2m2 3h1m-1 1h1" stroke="#f2d400"/><path d="M948 1557.5h1m1 0h1m-1 1h1m-4 1h1m2 0h1m-3 2h1" stroke="#ff9900"/><path d="M949 1557.5h1m-2 1h2m-2 1h2m-2 1h2" stroke="#ff3900"/></g>
<rect x="844.0" y="1472.6" width="181.0" height="180.5" fill="none" stroke="#444" stroke-width="1.2"/>
<path d="M841.0 1590.9h3M841.0 1584.9h3M841.0 1580.6h3M841.0 1577.3h3M841.0 1574.5h3M841.0 1572.2h3M841.0 1570.2h3M841.0 1568.5h3M841.0 1557.8h3M841.0 1552.4h3M841.0 1548.7h3M841.0 1545.7h3M841.0 1543.3h3M841.0 1541.3h3M841.0 1539.5h3M841.0 1538.0h3M841.0 1527.9h3M841.0 1522.8h3M841.0 1519.1h3M841.0 1516.3h3M841.0 1514.0h3M841.0 1512.1h3M841.0 1510.4h3M841.0 1508.9h3M841.0 1498.8h3M841.0 1493.7h3M841.0 1490.0h3M841.0 1487.2h3M841.0 1484.9h3M841.0 1482.9h3M841.0 1481.2h3M841.0 1479.7h3M841.0 1605.6h3M841.0 1609.6h3M841.0 1613.1h3M841.0 1616.1h3M841.0 1618.6h3M841.0 1620.6h3M841.0 1622.1h3M841.0 1625.1h3M841.0 1626.6h3M841.0 1628.6h3M841.0 1631.1h3M841.0 1634.1h3M841.0 1637.6h3M841.0 1641.1h3M841.0 1648.6h3M841.0 1651.6h3M839.0 1478.4h5M839.0 1507.6h5M839.0 1536.6h5M839.0 1566.9h5M839.0 1601.3h5M839.0 1623.6h5M839.0 1644.6h5M904.1 1653.1v3M910.4 1653.1v3M914.9 1653.1v3M918.3 1653.1v3M921.2 1653.1v3M923.6 1653.1v3M925.6 1653.1v3M927.5 1653.1v3M938.0 1653.1v3M943.2 1653.1v3M946.9 1653.1v3M949.7 1653.1v3M952.1 1653.1v3M954.0 1653.1v3M955.7 1653.1v3M957.3 1653.1v3M967.5 1653.1v3M972.7 1653.1v3M976.4 1653.1v3M979.2 1653.1v3M981.6 1653.1v3M983.5 1653.1v3M985.2 1653.1v3M986.8 1653.1v3M996.8 1653.1v3M1001.9 1653.1v3M1005.5 1653.1v3M1008.3 1653.1v3M1010.6 1653.1v3M1012.5 1653.1v3M1014.2 1653.1v3M1015.7 1653.1v3M854.5 1653.1v3M857.5 1653.1v3M860.0 1653.1v3M862.5 1653.1v3M864.5 1653.1v3M866.5 1653.1v3M868.5 1653.1v3M870.0 1653.1v3M873.0 1653.1v3M875.0 1653.1v3M877.0 1653.1v3M879.0 1653.1v3M881.5 1653.1v3M884.0 1653.1v3M887.0 1653.1v3M890.0 1653.1v3M851.0 1653.1v5M893.3 1653.1v5M929.1 1653.1v5M958.6 1653.1v5M988.1 1653.1v5M1017.0 1653.1v5M871.5 1653.1v5" stroke="#000" stroke-width="1" fill="none"/>
<rect x="867.5" y="1653.1" width="8" height="3.2" fill="#000"/>
<rect x="840.8" y="1619.6" width="3.2" height="7.5" fill="#000"/>
<text x="814.8" y="1515.6" font-size="12.6" fill="#111" stroke="#111" stroke-width="0.45">10</text>
<text x="828.6" y="1507.8" font-size="11.2" fill="#111" stroke="#111" stroke-width="0.45">6</text>
<text x="814.8" y="1544.6" font-size="12.6" fill="#111" stroke="#111" stroke-width="0.45">10</text>
<text x="828.6" y="1536.8" font-size="11.2" fill="#111" stroke="#111" stroke-width="0.45">5</text>
<text x="814.8" y="1574.9" font-size="12.6" fill="#111" stroke="#111" stroke-width="0.45">10</text>
<text x="828.6" y="1567.1" font-size="11.2" fill="#111" stroke="#111" stroke-width="0.45">4</text>
<text x="814.8" y="1609.3" font-size="12.6" fill="#111" stroke="#111" stroke-width="0.45">10</text>
<text x="828.6" y="1601.5" font-size="11.2" fill="#111" stroke="#111" stroke-width="0.45">3</text>
<text x="825.0" y="1628.6" font-size="12.6" text-anchor="middle" fill="#111" stroke="#111" stroke-width="0.45">0</text>
<text x="874.5" y="1675.2" font-size="12.6" text-anchor="middle" fill="#111" stroke="#111" stroke-width="0.45">0</text>
<text x="926.5" y="1675.2" font-size="12.6" fill="#111" stroke="#111" stroke-width="0.45">10</text>
<text x="940.1" y="1665.9" font-size="11.2" fill="#111" stroke="#111" stroke-width="0.45">4</text>
<text x="956.0" y="1675.2" font-size="12.6" fill="#111" stroke="#111" stroke-width="0.45">10</text>
<text x="969.6" y="1665.9" font-size="11.2" fill="#111" stroke="#111" stroke-width="0.45">5</text>
<text x="985.5" y="1675.2" font-size="12.6" fill="#111" stroke="#111" stroke-width="0.45">10</text>
<text x="999.1" y="1665.9" font-size="11.2" fill="#111" stroke="#111" stroke-width="0.45">6</text>
<line x1="944.0" y1="1472.6" x2="944.0" y2="1653.1" stroke="#000" stroke-width="1.5"/>
<line x1="844.0" y1="1601.3" x2="1025.0" y2="1601.3" stroke="#000" stroke-width="1.5"/>
<text x="847.4" y="1491.2" font-size="12.4" stroke="#000" stroke-width="0.45">77.0</text>
<text x="1008.4" y="1491.2" font-size="12.4" text-anchor="end" stroke="#000" stroke-width="0.45">18.5</text>
<text x="847.4" y="1641.3" font-size="12.4" stroke="#000" stroke-width="0.45">2.03</text>
<text x="1008.4" y="1641.3" font-size="12.4" text-anchor="end" stroke="#000" stroke-width="0.45">2.48</text>
<text x="29.5" y="1318.0" font-size="24.5">CD4</text>
<text x="29.5" y="1573.1" font-size="24.5">CD8</text>
<line x1="108.3" y1="1549.2" x2="108.3" y2="1236.0" stroke="#000" stroke-width="1.6"/>
<polygon points="97.3,1237.4 119.3,1237.4 108.3,1224.4" fill="#000"/>
<text x="118.8" y="1614.1" font-size="24.5" text-anchor="middle" transform="rotate(-90 118.8 1614.1)">CD62L</text>
<text x="155.0" y="1703.0" font-size="24.5">CD44</text>
<line x1="244.6" y1="1692.5" x2="1004.0" y2="1692.5" stroke="#000" stroke-width="1.6"/>
<polygon points="1002,1681.5 1015.7,1692.5 1002,1703.5" fill="#000"/>
<rect x="1069.2" y="1334.4" width="179.4" height="178.8" fill="none" stroke="#000" stroke-width="2.2"/>
<line x1="1166.9" y1="1334.4" x2="1166.9" y2="1513.2" stroke="#000" stroke-width="1.4"/>
<line x1="1069.2" y1="1461.7" x2="1248.6" y2="1461.7" stroke="#000" stroke-width="1.4"/>
<text x="1120.0" y="1405.7" font-size="18.3" text-anchor="middle">Naive</text>
<text x="1208.5" y="1393.7" font-size="18.3" text-anchor="middle">Central</text>
<text x="1208.6" y="1414.4" font-size="18.3" text-anchor="middle">Memory</text>
<text x="1208.8" y="1494.1" font-size="18.3" text-anchor="middle">Effector</text>
<line x1="1047.0" y1="1416.4" x2="1047.0" y2="1357.0" stroke="#000" stroke-width="1.6"/>
<polygon points="1036,1358.8 1058.1,1358.8 1047,1345.4" fill="#000"/>
<text x="1057.5" y="1478.7" font-size="25" text-anchor="middle" transform="rotate(-90 1057.5 1478.7)">CD62L</text>
<text x="1068.0" y="1547.7" font-size="24.8">CD44</text>
<line x1="1157.9" y1="1537.6" x2="1228.0" y2="1537.6" stroke="#000" stroke-width="1.6"/>
<polygon points="1226.2,1526.2 1239.6,1537.6 1226.2,1549" fill="#000"/>
<rect x="1378.1" y="1244.6" width="21.3" height="121.0" fill="#fff" stroke="#000" stroke-width="2.2"/>
<rect x="1414.3" y="1249.9" width="20.8" height="115.7" fill="#D3D3D3" stroke="#000" stroke-width="2.2"/>
<rect x="1450.2" y="1247.3" width="21.1" height="118.3" fill="#fff" stroke="#FF8000" stroke-width="2.2"/>
<rect x="1486.0" y="1264.3" width="21.9" height="101.3" fill="#FFC389" stroke="#FF8000" stroke-width="2.2"/>
<path d="M1388.8 1242.4V1244.5M1381.8 1242.4h14.0M1381.8 1244.5h14.0" stroke="#000" stroke-width="1.6" fill="none"/>
<path d="M1424.7 1246.4V1249.5M1417.7 1246.4h14.0M1417.7 1249.5h14.0" stroke="#000" stroke-width="1.6" fill="none"/>
<path d="M1460.8 1243.7V1247.0M1453.8 1243.7h14.0M1453.8 1247.0h14.0" stroke="#FF8000" stroke-width="1.6" fill="none"/>
<path d="M1497.0 1261.2V1264.5M1490.0 1261.2h14.0M1490.0 1264.5h14.0" stroke="#FF8000" stroke-width="1.6" fill="none"/>
<line x1="1364.3" y1="1208.1" x2="1364.3" y2="1365.6" stroke="#000" stroke-width="1.8"/>
<line x1="1357.8" y1="1365.6" x2="1521.7" y2="1365.6" stroke="#000" stroke-width="1.8"/>
<line x1="1357.8" y1="1365.6" x2="1364.3" y2="1365.6" stroke="#000" stroke-width="1.6"/>
<text x="1356.1" y="1370.9" font-size="14.5" text-anchor="end">0</text>
<line x1="1357.8" y1="1334.3" x2="1364.3" y2="1334.3" stroke="#000" stroke-width="1.6"/>
<text x="1356.1" y="1339.6" font-size="14.5" text-anchor="end">20</text>
<line x1="1357.8" y1="1302.9" x2="1364.3" y2="1302.9" stroke="#000" stroke-width="1.6"/>
<text x="1356.1" y="1308.2" font-size="14.5" text-anchor="end">40</text>
<line x1="1357.8" y1="1271.6" x2="1364.3" y2="1271.6" stroke="#000" stroke-width="1.6"/>
<text x="1356.1" y="1276.9" font-size="14.5" text-anchor="end">60</text>
<line x1="1357.8" y1="1240.2" x2="1364.3" y2="1240.2" stroke="#000" stroke-width="1.6"/>
<text x="1356.1" y="1245.5" font-size="14.5" text-anchor="end">80</text>
<line x1="1357.8" y1="1208.9" x2="1364.3" y2="1208.9" stroke="#000" stroke-width="1.6"/>
<text x="1356.1" y="1214.2" font-size="14.5" text-anchor="end">100</text>
<polyline points="1388.4,1233.0 1388.4,1223.7 1496.9,1223.7 1496.9,1251.8" fill="none" stroke="#000" stroke-width="1.6"/>
<text x="1445.0" y="1223.4" font-size="20" text-anchor="middle" letter-spacing="2" stroke="#000" stroke-width="0.6">**</text>
<text x="1443.0" y="1184.2" font-size="22" text-anchor="middle">Naive</text>
<text x="1321.0" y="1285.6" font-size="21.5" text-anchor="middle" transform="rotate(-90 1321.0 1285.6)">Percent of CD4+</text>
<rect x="1603.4" y="1225.2" width="23.0" height="139.8" fill="#fff" stroke="#000" stroke-width="2.2"/>
<rect x="1642.0" y="1225.9" width="22.4" height="139.1" fill="#D3D3D3" stroke="#000" stroke-width="2.2"/>
<rect x="1679.5" y="1240.9" width="23.1" height="124.1" fill="#fff" stroke="#FF8000" stroke-width="2.2"/>
<rect x="1717.9" y="1228.1" width="23.0" height="136.9" fill="#FFC389" stroke="#FF8000" stroke-width="2.2"/>
<path d="M1614.9 1218.3V1228.7M1607.9 1218.3h14.0M1607.9 1228.7h14.0" stroke="#000" stroke-width="1.6" fill="none"/>
<path d="M1653.2 1217.3V1231.3M1646.2 1217.3h14.0M1646.2 1231.3h14.0" stroke="#000" stroke-width="1.6" fill="none"/>
<path d="M1691.1 1232.0V1246.5M1684.1 1232.0h14.0M1684.1 1246.5h14.0" stroke="#FF8000" stroke-width="1.6" fill="none"/>
<path d="M1729.4 1220.0V1232.4M1722.4 1220.0h14.0M1722.4 1232.4h14.0" stroke="#FF8000" stroke-width="1.6" fill="none"/>
<line x1="1589.6" y1="1199.5" x2="1589.6" y2="1365.0" stroke="#000" stroke-width="1.8"/>
<line x1="1583.1" y1="1365.0" x2="1755.7" y2="1365.0" stroke="#000" stroke-width="1.8"/>
<line x1="1583.1" y1="1365.0" x2="1589.6" y2="1365.0" stroke="#000" stroke-width="1.6"/>
<text x="1581.4" y="1370.3" font-size="14.5" text-anchor="end">0</text>
<line x1="1583.1" y1="1323.8" x2="1589.6" y2="1323.8" stroke="#000" stroke-width="1.6"/>
<text x="1581.4" y="1329.1" font-size="14.5" text-anchor="end">2</text>
<line x1="1583.1" y1="1282.7" x2="1589.6" y2="1282.7" stroke="#000" stroke-width="1.6"/>
<text x="1581.4" y="1288.0" font-size="14.5" text-anchor="end">4</text>
<line x1="1583.1" y1="1241.5" x2="1589.6" y2="1241.5" stroke="#000" stroke-width="1.6"/>
<text x="1581.4" y="1246.8" font-size="14.5" text-anchor="end">6</text>
<line x1="1583.1" y1="1200.3" x2="1589.6" y2="1200.3" stroke="#000" stroke-width="1.6"/>
<text x="1581.4" y="1205.6" font-size="14.5" text-anchor="end">8</text>
<text x="1672.1" y="1173.5" font-size="22" text-anchor="middle">Central Memory</text>
<text x="1562.1" y="1282.3" font-size="22" text-anchor="middle" transform="rotate(-90 1562.1 1282.3)">Percent of CD4+</text>
<rect x="1849.6" y="1293.7" width="21.5" height="71.5" fill="#fff" stroke="#000" stroke-width="2.2"/>
<rect x="1886.4" y="1279.0" width="21.5" height="86.2" fill="#D3D3D3" stroke="#000" stroke-width="2.2"/>
<rect x="1923.5" y="1283.0" width="21.9" height="82.2" fill="#fff" stroke="#FF8000" stroke-width="2.2"/>
<rect x="1960.6" y="1228.1" width="21.6" height="137.1" fill="#FFC389" stroke="#FF8000" stroke-width="2.2"/>
<path d="M1860.3 1287.2V1296.9M1853.3 1287.2h14.0M1853.3 1296.9h14.0" stroke="#000" stroke-width="1.6" fill="none"/>
<path d="M1897.2 1271.4V1282.5M1890.2 1271.4h14.0M1890.2 1282.5h14.0" stroke="#000" stroke-width="1.6" fill="none"/>
<path d="M1934.5 1274.5V1288.3M1927.5 1274.5h14.0M1927.5 1288.3h14.0" stroke="#FF8000" stroke-width="1.6" fill="none"/>
<path d="M1971.4 1219.6V1232.6M1964.4 1219.6h14.0M1964.4 1232.6h14.0" stroke="#FF8000" stroke-width="1.6" fill="none"/>
<line x1="1835.3" y1="1203.4" x2="1835.3" y2="1365.2" stroke="#000" stroke-width="1.8"/>
<line x1="1828.8" y1="1365.2" x2="1997.0" y2="1365.2" stroke="#000" stroke-width="1.8"/>
<line x1="1828.8" y1="1365.2" x2="1835.3" y2="1365.2" stroke="#000" stroke-width="1.6"/>
<text x="1827.1" y="1370.5" font-size="14.5" text-anchor="end">0</text>
<line x1="1828.8" y1="1333.0" x2="1835.3" y2="1333.0" stroke="#000" stroke-width="1.6"/>
<text x="1827.1" y="1338.3" font-size="14.5" text-anchor="end">5</text>
<line x1="1828.8" y1="1300.8" x2="1835.3" y2="1300.8" stroke="#000" stroke-width="1.6"/>
<text x="1827.1" y="1306.1" font-size="14.5" text-anchor="end">10</text>
<line x1="1828.8" y1="1268.6" x2="1835.3" y2="1268.6" stroke="#000" stroke-width="1.6"/>
<text x="1827.1" y="1273.9" font-size="14.5" text-anchor="end">15</text>
<line x1="1828.8" y1="1236.4" x2="1835.3" y2="1236.4" stroke="#000" stroke-width="1.6"/>
<text x="1827.1" y="1241.7" font-size="14.5" text-anchor="end">20</text>
<line x1="1828.8" y1="1204.2" x2="1835.3" y2="1204.2" stroke="#000" stroke-width="1.6"/>
<text x="1827.1" y="1209.5" font-size="14.5" text-anchor="end">25</text>
<polyline points="1860.1,1277.9 1860.1,1200.4 1971.3,1200.4 1971.3,1210.2" fill="none" stroke="#000" stroke-width="1.6"/>
<text x="1917.4" y="1199.9" font-size="20" text-anchor="middle" letter-spacing="2" stroke="#000" stroke-width="0.6">**</text>
<text x="1916.4" y="1164.8" font-size="22" text-anchor="middle">Effector</text>
<text x="1800.1" y="1283.1" font-size="22" text-anchor="middle" transform="rotate(-90 1800.1 1283.1)">Percent of CD4+</text>
<rect x="1375.8" y="1462.1" width="20.1" height="123.4" fill="#fff" stroke="#000" stroke-width="2.2"/>
<rect x="1411.3" y="1463.6" width="19.7" height="121.9" fill="#D3D3D3" stroke="#000" stroke-width="2.2"/>
<rect x="1446.3" y="1460.3" width="20.1" height="125.2" fill="#fff" stroke="#FF8000" stroke-width="2.2"/>
<rect x="1481.2" y="1470.1" width="20.1" height="115.4" fill="#FFC389" stroke="#FF8000" stroke-width="2.2"/>
<path d="M1385.8 1460.0V1462.0M1378.8 1460.0h14.0M1378.8 1462.0h14.0" stroke="#000" stroke-width="1.6" fill="none"/>
<path d="M1421.2 1460.7V1463.5M1414.2 1460.7h14.0M1414.2 1463.5h14.0" stroke="#000" stroke-width="1.6" fill="none"/>
<path d="M1456.3 1457.6V1460.0M1449.3 1457.6h14.0M1449.3 1460.0h14.0" stroke="#FF8000" stroke-width="1.6" fill="none"/>
<path d="M1491.2 1466.3V1469.5M1484.2 1466.3h14.0M1484.2 1469.5h14.0" stroke="#FF8000" stroke-width="1.6" fill="none"/>
<line x1="1362.8" y1="1431.6" x2="1362.8" y2="1585.5" stroke="#000" stroke-width="1.8"/>
<line x1="1356.3" y1="1585.5" x2="1515.3" y2="1585.5" stroke="#000" stroke-width="1.8"/>
<line x1="1356.3" y1="1585.5" x2="1362.8" y2="1585.5" stroke="#000" stroke-width="1.6"/>
<text x="1354.6" y="1590.8" font-size="14.5" text-anchor="end">0</text>
<line x1="1356.3" y1="1554.9" x2="1362.8" y2="1554.9" stroke="#000" stroke-width="1.6"/>
<text x="1354.6" y="1560.2" font-size="14.5" text-anchor="end">20</text>
<line x1="1356.3" y1="1524.3" x2="1362.8" y2="1524.3" stroke="#000" stroke-width="1.6"/>
<text x="1354.6" y="1529.6" font-size="14.5" text-anchor="end">40</text>
<line x1="1356.3" y1="1493.6" x2="1362.8" y2="1493.6" stroke="#000" stroke-width="1.6"/>
<text x="1354.6" y="1498.9" font-size="14.5" text-anchor="end">60</text>
<line x1="1356.3" y1="1463.0" x2="1362.8" y2="1463.0" stroke="#000" stroke-width="1.6"/>
<text x="1354.6" y="1468.3" font-size="14.5" text-anchor="end">80</text>
<line x1="1356.3" y1="1432.4" x2="1362.8" y2="1432.4" stroke="#000" stroke-width="1.6"/>
<text x="1354.6" y="1437.7" font-size="14.5" text-anchor="end">100</text>
<line x1="1385.8" y1="1585.5" x2="1385.8" y2="1592.3" stroke="#000" stroke-width="1.8"/>
<text x="1393.3" y="1593.7" font-size="21.2" text-anchor="end" transform="rotate(-90 1393.3 1593.7)">PBS + Isotype</text>
<line x1="1421.2" y1="1585.5" x2="1421.2" y2="1592.3" stroke="#000" stroke-width="1.8"/>
<text x="1428.6" y="1593.7" font-size="21.2" text-anchor="end" transform="rotate(-90 1428.6 1593.7)">PBS + anti-PD-1</text>
<line x1="1456.3" y1="1585.5" x2="1456.3" y2="1592.3" stroke="#000" stroke-width="1.8"/>
<text x="1463.8" y="1593.7" font-size="21.2" text-anchor="end" transform="rotate(-90 1463.8 1593.7)">M2T-CD33 + Isotype</text>
<line x1="1491.2" y1="1585.5" x2="1491.2" y2="1592.3" stroke="#000" stroke-width="1.8"/>
<text x="1498.7" y="1593.7" font-size="21.2" text-anchor="end" transform="rotate(-90 1498.7 1593.7)">M2T-CD33 + anti-PD-1</text>
<polyline points="1385.2,1450.5 1385.2,1439.5 1491.6,1439.5 1491.6,1457.3" fill="none" stroke="#000" stroke-width="1.6"/>
<text x="1438.4" y="1439.4" font-size="20" text-anchor="middle" stroke="#000" stroke-width="0.6">*</text>
<text x="1320.9" y="1506.0" font-size="21.3" text-anchor="middle" transform="rotate(-90 1320.9 1506.0)">Percent of CD8+</text>
<rect x="1609.1" y="1489.2" width="20.8" height="95.6" fill="#fff" stroke="#000" stroke-width="2.2"/>
<rect x="1645.3" y="1490.7" width="20.7" height="94.1" fill="#D3D3D3" stroke="#000" stroke-width="2.2"/>
<rect x="1681.8" y="1502.1" width="21.1" height="82.7" fill="#fff" stroke="#FF8000" stroke-width="2.2"/>
<rect x="1717.9" y="1468.6" width="21.2" height="116.2" fill="#FFC389" stroke="#FF8000" stroke-width="2.2"/>
<path d="M1619.5 1483.6V1491.2M1612.5 1483.6h14.0M1612.5 1491.2h14.0" stroke="#000" stroke-width="1.6" fill="none"/>
<path d="M1655.7 1482.9V1494.6M1648.7 1482.9h14.0M1648.7 1494.6h14.0" stroke="#000" stroke-width="1.6" fill="none"/>
<path d="M1692.3 1496.1V1504.7M1685.3 1496.1h14.0M1685.3 1504.7h14.0" stroke="#FF8000" stroke-width="1.6" fill="none"/>
<path d="M1728.5 1457.6V1476.4M1721.5 1457.6h14.0M1721.5 1476.4h14.0" stroke="#FF8000" stroke-width="1.6" fill="none"/>
<line x1="1595.5" y1="1426.6" x2="1595.5" y2="1584.8" stroke="#000" stroke-width="1.8"/>
<line x1="1589.0" y1="1584.8" x2="1753.7" y2="1584.8" stroke="#000" stroke-width="1.8"/>
<line x1="1589.0" y1="1584.8" x2="1595.5" y2="1584.8" stroke="#000" stroke-width="1.6"/>
<text x="1587.3" y="1590.1" font-size="14.5" text-anchor="end">0</text>
<line x1="1589.0" y1="1553.3" x2="1595.5" y2="1553.3" stroke="#000" stroke-width="1.6"/>
<text x="1587.3" y="1558.6" font-size="14.5" text-anchor="end">5</text>
<line x1="1589.0" y1="1521.8" x2="1595.5" y2="1521.8" stroke="#000" stroke-width="1.6"/>
<text x="1587.3" y="1527.1" font-size="14.5" text-anchor="end">10</text>
<line x1="1589.0" y1="1490.4" x2="1595.5" y2="1490.4" stroke="#000" stroke-width="1.6"/>
<text x="1587.3" y="1495.7" font-size="14.5" text-anchor="end">15</text>
<line x1="1589.0" y1="1458.9" x2="1595.5" y2="1458.9" stroke="#000" stroke-width="1.6"/>
<text x="1587.3" y="1464.2" font-size="14.5" text-anchor="end">20</text>
<line x1="1589.0" y1="1427.4" x2="1595.5" y2="1427.4" stroke="#000" stroke-width="1.6"/>
<text x="1587.3" y="1432.7" font-size="14.5" text-anchor="end">25</text>
<line x1="1619.5" y1="1584.8" x2="1619.5" y2="1591.6" stroke="#000" stroke-width="1.8"/>
<text x="1627.2" y="1593.0" font-size="22.0" text-anchor="end" transform="rotate(-90 1627.2 1593.0)">PBS + Isotype</text>
<line x1="1655.7" y1="1584.8" x2="1655.7" y2="1591.6" stroke="#000" stroke-width="1.8"/>
<text x="1663.4" y="1593.0" font-size="22.0" text-anchor="end" transform="rotate(-90 1663.4 1593.0)">PBS + anti-PD-1</text>
<line x1="1692.3" y1="1584.8" x2="1692.3" y2="1591.6" stroke="#000" stroke-width="1.8"/>
<text x="1700.0" y="1593.0" font-size="22.0" text-anchor="end" transform="rotate(-90 1700.0 1593.0)">M2T-CD33 + Isotype</text>
<line x1="1728.5" y1="1584.8" x2="1728.5" y2="1591.6" stroke="#000" stroke-width="1.8"/>
<text x="1736.2" y="1593.0" font-size="22.0" text-anchor="end" transform="rotate(-90 1736.2 1593.0)">M2T-CD33 + anti-PD-1</text>
<text x="1560.1" y="1504.4" font-size="21.5" text-anchor="middle" transform="rotate(-90 1560.1 1504.4)">Percent of CD8+</text>
<rect x="1841.8" y="1517.4" width="21.9" height="67.5" fill="#fff" stroke="#000" stroke-width="2.2"/>
<rect x="1880.0" y="1480.9" width="21.2" height="104.0" fill="#D3D3D3" stroke="#000" stroke-width="2.2"/>
<rect x="1916.8" y="1507.0" width="21.9" height="77.9" fill="#fff" stroke="#FF8000" stroke-width="2.2"/>
<rect x="1955.0" y="1460.1" width="21.6" height="124.8" fill="#FFC389" stroke="#FF8000" stroke-width="2.2"/>
<path d="M1852.8 1511.2V1520.6M1845.8 1511.2h14.0M1845.8 1520.6h14.0" stroke="#000" stroke-width="1.6" fill="none"/>
<path d="M1890.6 1472.7V1485.4M1883.6 1472.7h14.0M1883.6 1485.4h14.0" stroke="#000" stroke-width="1.6" fill="none"/>
<path d="M1927.8 1496.5V1514.2M1920.8 1496.5h14.0M1920.8 1514.2h14.0" stroke="#FF8000" stroke-width="1.6" fill="none"/>
<path d="M1965.8 1445.6V1471.3M1958.8 1445.6h14.0M1958.8 1471.3h14.0" stroke="#FF8000" stroke-width="1.6" fill="none"/>
<line x1="1827.7" y1="1421.0" x2="1827.7" y2="1584.9" stroke="#000" stroke-width="1.8"/>
<line x1="1821.2" y1="1584.9" x2="1991.6" y2="1584.9" stroke="#000" stroke-width="1.8"/>
<line x1="1821.2" y1="1584.9" x2="1827.7" y2="1584.9" stroke="#000" stroke-width="1.6"/>
<text x="1819.5" y="1590.2" font-size="14.5" text-anchor="end">0</text>
<line x1="1821.2" y1="1530.5" x2="1827.7" y2="1530.5" stroke="#000" stroke-width="1.6"/>
<text x="1819.5" y="1535.8" font-size="14.5" text-anchor="end">1</text>
<line x1="1821.2" y1="1476.2" x2="1827.7" y2="1476.2" stroke="#000" stroke-width="1.6"/>
<text x="1819.5" y="1481.5" font-size="14.5" text-anchor="end">2</text>
<line x1="1821.2" y1="1421.8" x2="1827.7" y2="1421.8" stroke="#000" stroke-width="1.6"/>
<text x="1819.5" y="1427.1" font-size="14.5" text-anchor="end">3</text>
<line x1="1852.8" y1="1584.9" x2="1852.8" y2="1591.7" stroke="#000" stroke-width="1.8"/>
<text x="1860.8" y="1593.1" font-size="22.9" text-anchor="end" transform="rotate(-90 1860.8 1593.1)">PBS + Isotype</text>
<line x1="1890.6" y1="1584.9" x2="1890.6" y2="1591.7" stroke="#000" stroke-width="1.8"/>
<text x="1898.6" y="1593.1" font-size="22.9" text-anchor="end" transform="rotate(-90 1898.6 1593.1)">PBS + anti-PD-1</text>
<line x1="1927.8" y1="1584.9" x2="1927.8" y2="1591.7" stroke="#000" stroke-width="1.8"/>
<text x="1935.8" y="1593.1" font-size="22.9" text-anchor="end" transform="rotate(-90 1935.8 1593.1)">M2T-CD33 + Isotype</text>
<line x1="1965.8" y1="1584.9" x2="1965.8" y2="1591.7" stroke="#000" stroke-width="1.8"/>
<text x="1973.8" y="1593.1" font-size="22.9" text-anchor="end" transform="rotate(-90 1973.8 1593.1)">M2T-CD33 + anti-PD-1</text>
<polyline points="1852.8,1501.2 1852.8,1425.8 1890.5,1425.8 1890.5,1463.0" fill="none" stroke="#000" stroke-width="1.6"/>
<text x="1871.9" y="1425.3" font-size="20" text-anchor="middle" stroke="#000" stroke-width="0.6">*</text>
<polyline points="1852.8,1416.2 1852.8,1391.8 1965.9,1391.8 1965.9,1435.6" fill="none" stroke="#000" stroke-width="1.6"/>
<text x="1911.0" y="1389.5" font-size="20" text-anchor="middle" letter-spacing="2" stroke="#000" stroke-width="0.6">**</text>
<text x="1800.1" y="1501.2" font-size="22.5" text-anchor="middle" transform="rotate(-90 1800.1 1501.2)">Percent of CD8+</text>
</g>
<g id="F">
<text x="-3.0" y="1796.7" font-size="47.5" stroke="#000" stroke-width="0.7">F</text>
<text x="245.8" y="1770.2" font-size="24.5" text-anchor="middle">PBS +</text>
<text x="245.8" y="1801.0" font-size="24.5" text-anchor="middle">Isotype</text>
<text x="474.5" y="1770.2" font-size="24.5" text-anchor="middle">PBS +</text>
<text x="474.5" y="1801.0" font-size="24.5" text-anchor="middle">anti-PD-1</text>
<text x="703.8" y="1770.2" font-size="24.5" text-anchor="middle">M2T-CD33 +</text>
<text x="703.8" y="1801.0" font-size="24.5" text-anchor="middle">Isotype</text>
<text x="934.2" y="1770.2" font-size="24.5" text-anchor="middle">M2T-CD33 +</text>
<text x="934.2" y="1801.0" font-size="24.5" text-anchor="middle">anti-PD-1</text>
<g fill="none" stroke-width="1"><path d="M258 1872.5h1m2 2h1m0 1h1m4 0h1m3 0h1m-8 1h1m-12 2h1m2 0h1m9 0h1m1 0h2m3 0h1m-22 1h1m8 0h1m2 0h2m2 0h1m4 0h1m-16 1h3m3 0h1m1 0h1m-4 1h2m3 0h1m4 0h1m4 0h1m-24 1h1m3 0h1m2 0h2m7 0h1m-21 1h1m9 0h1m8 0h1m5 0h1m-21 1h1m2 0h1m1 0h1m2 0h1m2 0h1m1 0h1m-22 1h2m9 0h2m6 0h2m-14 1h1m2 0h1m6 0h1m2 0h1m2 0h1m8 0h1m-28 1h1m1 0h1m2 0h2m4 0h1m2 0h2m4 0h2m-15 1h2m1 0h1m3 0h1m1 0h1m3 0h1m1 0h1m-25 1h1m1 0h1m2 0h1m10 0h1m-18 1h1m4 0h2m4 0h2m2 0h1m1 0h1m1 0h2m1 0h1m-21 1h1m5 0h1m4 0h1m9 0h1m4 0h1m-29 1h1m1 0h3m1 0h3m3 0h1m2 0h1m-13 1h1m2 0h2m3 0h2m1 0h1m3 0h1m2 0h3m2 0h1m1 0h1m-25 1h1m6 0h2m1 0h2m2 0h3m2 0h2m4 0h1m-24 1h1m3 0h1m4 0h1m1 0h1m3 0h2m3 0h1m-19 1h1m9 0h1m1 0h2m1 0h2m1 0h1m-31 1h1m7 0h2m1 0h1m1 0h1m14 0h1m-26 1h1m4 0h1m15 0h1m3 0h1m2 0h1m-30 1h1m21 0h1m1 0h1m2 0h1m-21 1h1m2 0h1m16 0h1m-25 1h1m4 0h2m13 0h1m2 0h1m-25 1h1m4 0h3m14 0h1m1 0h1m-17 1h1m12 0h2m-25 1h1m3 0h1m2 1h2m2 0h1m-12 1h3m3 0h3m1 0h1m14 0h1m3 0h1m-30 1h1m1 0h1m2 0h2m3 0h1m13 0h1m8 0h1m-9 1h1m-21 1h1m1 0h2m14 0h1m-21 1h1m2 0h2m-6 1h1m0 1h1m2 0h1m16 0h1m2 0h2m-27 1h1m21 0h1m5 0h1m-20 1h1m13 0h1m1 0h1m-23 1h2m18 0h1m-22 1h2m21 0h1m-24 1h1m20 0h1m-24 1h2m3 0h1m21 0h1m-25 1h1m17 0h1m1 0h1m2 0h2m5 0h1m-32 1h1m1 0h1m20 0h2m-26 1h1m1 0h2m1 0h1m17 0h1m-23 1h1m1 0h1m17 0h3m4 0h1m-32 1h2m3 0h1m2 0h1m16 0h1m-24 1h1m1 0h1m1 0h1m18 0h1m5 0h1m-30 1h1m4 0h1m18 0h1m3 0h1m-28 1h1m1 0h1m21 0h1m-22 1h1m19 0h2m-32 1h1m5 0h1m3 0h1m19 0h1m3 0h1m-35 1h2m30 0h1m-28 1h1m-1 1h2m24 0h2m-28 1h1m23 0h1m-28 1h1m2 0h1m2 0h1m20 0h1m2 0h1m6 0h1m-39 1h1m28 0h1m4 0h1m-32 1h1m25 0h2m3 0h1m-2 1h1m-29 1h2m23 0h2m1 0h1m3 1h1m-34 1h2m25 0h1m-30 1h1m27 0h2m6 0h1m-9 1h1m-25 2h1m26 0h1m-31 1h1m2 0h1m24 0h1m3 0h1m-30 1h1m24 0h2m-29 2h1m28 0h1m-31 2h1m2 0h1m27 0h1m-5 1h1m-29 1h1m27 0h2m-29 1h1m28 0h1m-3 1h1m0 1h1m-2 2h1m-25 1h1m-2 1h2m22 0h1m-23 2h1m21 0h2m2 0h1m-5 1h2m-26 2h1m2 0h1m20 0h2m-27 2h2m4 0h1m16 0h2m2 0h1m-22 1h1m17 0h1m-21 1h1m16 1h1m1 0h2m-20 1h1m2 0h1m13 0h1m-21 1h1m2 0h1m13 0h2m-21 1h1m1 0h1m1 0h1m3 0h1m11 0h1m-16 1h1m1 0h1m1 0h1m7 0h1m5 0h2m-22 1h1m3 0h1m10 0h1m2 0h1m2 0h1m-18 1h1m2 0h1m1 0h1m2 0h1m3 0h1m-6 1h1m-9 1h1m2 0h3m3 0h2m-11 1h1m2 0h1m4 0h1m1 0h1m1 0h1m-6 1h1m3 0h1m-3 1h1m-3 1h1m2 1h1m-7 4h1m2 0h1m2 3h1m6 0h1" stroke="#5a5aff" stroke-opacity="0.65"/><path d="M266 1887.5h1m-2 1h1m-3 1h1m-1 1h2m-4 5h1m-2 1h4m1 1h2m-8 1h2m1 0h1m1 0h2m1 0h1m-9 1h3m1 0h3m1 0h1m1 0h1m-10 1h1m2 0h1m1 0h2m1 0h3m-7 1h1m1 0h4m-11 1h4m2 0h3m2 0h1m-12 1h1m1 0h1m1 0h2m5 0h1m-12 1h1m1 0h1m1 0h7m-10 1h2m1 0h2m4 0h1m-9 1h1m1 0h1m5 0h2m-9 1h1m6 0h2m-12 1h2m1 0h1m6 0h2m-13 1h1m2 0h2m6 0h2m-15 1h6m-7 1h2m3 0h2m4 0h1m1 0h2m-14 1h1m2 0h2m5 0h1m1 0h1m-14 1h2m1 0h1m1 0h1m4 0h1m1 0h1m1 0h1m-15 1h2m4 0h1m5 0h2m-12 1h1m2 0h1m6 0h1m1 0h3m-17 1h1m1 0h1m2 0h2m7 0h3m-17 1h2m1 0h3m6 0h3m1 0h1m-15 1h3m7 0h1m2 0h1m-17 1h4m8 0h2m1 0h1m-16 1h1m12 0h1m1 0h1m-14 1h1m1 0h1m9 0h2m-13 1h1m10 0h3m-2 1h1m-15 1h1m1 0h1m9 0h3m-15 1h3m10 0h1m1 0h1m-14 1h1m11 0h1m-16 1h3m1 0h1m10 0h4m-19 1h3m1 0h1m11 0h2m-18 1h1m14 0h2m1 0h1m-4 1h2m-17 1h1m-3 1h2m16 0h1m-19 1h2m16 0h2m-20 1h2m16 0h1m-18 1h1m17 0h2m-21 1h1m19 1h1m-21 1h1m19 0h1m-23 1h3m20 0h1m-24 1h2m-1 1h1m-1 1h1m-1 1h1m21 0h1m-1 1h2m-2 1h2m-24 1h1m23 0h1m-25 1h1m21 0h3m-2 1h1m-24 1h1m20 2h1m-22 1h2m-1 1h1m20 0h1m-23 1h2m20 0h1m-22 1h1m20 0h1m-22 1h1m19 0h1m-22 1h2m19 0h1m-22 1h1m1 0h1m17 0h1m-20 1h2m17 0h1m-19 1h1m17 0h1m-19 1h1m-2 1h1m18 0h2m-19 1h1m15 0h2m-17 1h1m0 1h1m12 0h1m-2 1h3m-15 1h1m-1 1h1m1 0h1m8 0h2m-12 1h2m9 0h1m-12 1h2m-1 1h1m6 0h1m-7 1h2m2 0h2m-7 1h1m1 0h4" stroke="#2828ff" stroke-opacity="0.8"/><path d="M266 1905.5h1m1 0h1m-3 1h3m-5 1h5m-6 1h1m3 0h2m-6 1h6m-5 1h5m-7 1h2m-2 1h3m-4 1h4m-3 1h1m1 0h2m-3 1h4m-5 1h2m1 0h1m-4 1h4m-5 1h3m1 0h1m-7 1h2m1 0h3m-6 1h6m1 0h1m-8 1h4m2 0h3m-10 1h3m1 0h1m1 0h4m-10 1h2m4 0h2m-7 1h1m4 0h1m1 0h1m-9 1h3m3 0h3m-9 1h4m3 0h3m-9 1h3m3 0h3m-3 1h5m-11 1h2m4 0h1m-10 1h3m7 0h3m-14 1h4m7 0h3m-15 1h2m1 0h1m10 0h1m-15 1h3m11 0h1m-14 1h1m-2 1h1m15 0h1m-18 1h1m16 0h2m-19 1h1m17 0h1m-19 1h1m17 0h1m-19 1h1m17 0h1m-19 1h1m18 0h1m-21 1h2m18 0h1m-21 1h2m-2 1h1m-1 1h2m17 0h1m-20 1h1m18 0h1m-20 1h1m18 0h1m-20 1h1m-1 1h1m19 0h1m-21 1h1m19 0h1m-21 1h1m18 0h1m-20 1h1m18 0h1m-19 2h1m17 1h1m-19 1h1m17 0h1m-19 1h1m17 0h1m-19 1h2m-1 2h1m15 1h1m-17 1h1m15 0h1m-17 1h2m14 0h1m-16 1h2m12 0h1m-14 1h1m12 0h1m-13 1h1m10 0h1m-12 1h2m8 0h1m-10 1h1m7 0h1m-8 1h1m5 0h2m-8 1h1m1 0h1m1 0h2m-5 1h5m-5 1h4" stroke="#0d4bff"/><path d="M261 1922.5h1m-2 1h3m-2 1h2m-2 1h2m-1 1h3m-3 1h3m-4 1h4m-4 1h2m1 0h1m-4 1h1m2 0h2m-7 1h2m-3 1h2m-3 1h1m9 0h1m-12 1h2m10 0h1m-14 1h2m-2 1h1m13 0h1m-16 1h1m15 0h1m-17 1h1m15 0h1m-17 1h1m15 0h1m-17 1h1m16 0h1m-18 1h1m16 0h1m-1 1h1m-19 1h1m17 0h1m-19 2h1m16 0h1m-18 1h1m-1 1h1m17 0h1m-19 1h1m17 0h1m-19 1h1m17 0h1m-19 1h1m-1 1h1m0 1h1m-1 1h1m-1 1h1m-1 1h1m-1 1h1m15 1h1m-16 2h1m-1 1h1m13 0h1m-15 1h1m13 0h1m-14 1h1m12 0h1m-2 1h1m-12 1h2m8 0h1m-10 1h1m7 1h1m-8 1h5m1 0h1m-6 1h3m1 0h1m-3 1h1" stroke="#075cff"/><path d="M263 1929.5h1m-2 1h2m-3 1h4m-5 1h2m2 0h1m-5 1h1m4 0h2m-9 1h1m8 0h1m-11 1h1m-2 1h1m11 0h1m-14 1h2m12 0h1m-15 1h1m13 0h1m-15 1h1m14 1h1m-1 1h1m-1 1h1m-17 1h1m15 0h1m-1 1h1m-17 1h1m-1 1h1m15 0h1m-17 1h1m15 0h1m-17 1h1m15 0h1m-17 1h1m15 0h1m-17 1h1m15 0h1m-17 1h1m15 0h1m-1 1h1m-1 1h1m-1 1h1m-16 1h1m14 0h1m-16 1h1m-1 1h1m13 0h1m-1 1h1m-2 1h1m-13 1h1m11 0h1m-13 1h1m11 0h1m-12 1h1m9 0h2m-11 1h1m8 0h1m-9 1h1m6 0h1m-8 1h2m4 0h2m-7 1h6" stroke="#006fff"/><path d="M262 1932.5h2m-3 1h4m-6 1h2m4 0h2m-9 1h1m8 0h1m-11 1h1m9 0h1m-11 1h1m10 0h1m-13 1h1m11 0h1m-13 1h1m11 0h2m-15 1h1m13 0h1m-15 1h1m13 0h1m-1 1h1m-1 1h1m-1 1h1m-1 1h1m-1 1h1m-15 3h1m-1 1h1m-1 1h1m13 0h1m-15 1h1m13 0h1m-15 1h1m13 0h1m-15 1h1m13 1h1m-1 1h1m-14 2h1m11 0h1m-13 1h1m10 0h1m-1 1h1m-11 1h1m9 0h1m-2 1h1m-8 1h1m0 1h2m3 0h1m-5 1h4" stroke="#009cf8"/><path d="M261 1934.5h4m-6 1h3m4 0h1m-8 1h1m6 0h1m-9 1h1m8 0h1m-11 1h2m8 0h1m-11 1h1m9 0h1m-12 1h1m11 0h1m-1 1h1m-14 1h1m-1 1h1m-1 1h1m12 0h1m-14 1h1m12 0h1m-14 1h1m-1 1h1m13 0h1m-15 1h1m13 0h1m-1 1h1m-1 1h1m-1 4h1m-14 1h1m-1 1h1m11 0h1m-13 1h1m11 0h1m-2 1h1m-2 1h1m-10 1h1m8 0h1m-9 1h1m7 0h1m-2 1h1m-6 1h1m4 0h1m-4 1h3" stroke="#00c8f1"/><path d="M262 1935.5h4m-6 1h6m-7 1h1m5 0h2m-8 1h1m5 0h2m-9 1h1m7 0h1m-10 1h1m9 0h1m-12 1h1m10 0h1m0 1h1m-1 1h1m-1 3h1m-13 1h1m11 0h1m-13 1h1m-1 1h1m-1 1h1m-1 1h1m11 0h1m-13 1h1m11 0h1m-13 1h1m11 0h1m-13 1h1m11 0h1m-1 1h1m-2 2h1m-11 1h1m8 0h1m-10 1h1m0 1h1m6 0h1m-7 1h1m5 0h1m-6 1h1m0 1h4" stroke="#00d9c6"/><path d="M260 1937.5h5m-5 1h5m-6 1h1m4 0h2m-8 1h1m6 0h2m-10 1h1m8 0h1m-11 1h1m10 0h1m-12 1h1m10 0h1m-12 1h1m10 0h1m-12 1h1m-1 1h1m10 0h1m0 2h1m-1 1h1m-12 1h1m10 0h1m-12 1h1m-1 1h1m-1 3h1m9 0h1m-11 1h1m9 0h1m-11 1h1m8 0h1m-9 2h1m6 0h1m-7 1h1m4 0h1m-5 1h1m3 0h1m-4 1h1m1 0h2" stroke="#00e291"/><path d="M260 1939.5h4m-5 1h1m3 0h2m-7 1h1m6 0h1m-9 1h1m8 0h1m-10 3h1m-1 1h1m-1 1h1m9 0h1m-11 1h1m9 0h1m-11 1h1m9 0h1m-1 1h1m-1 1h1m-1 1h1m-11 1h1m9 0h1m-11 1h1m9 0h1m-2 2h1m-9 2h1m6 0h1m-7 1h1m4 0h1m-4 2h1m1 0h1m-2 1h1" stroke="#16e756"/><path d="M260 1940.5h3m-4 1h2m1 0h3m-7 1h1m6 0h1m-9 1h2m7 0h1m-10 1h2m7 0h1m-9 1h1m7 0h1m-1 1h1m-1 1h1m-1 1h1m-9 1h1m7 0h1m-9 1h1m7 0h1m-9 1h1m7 0h1m-9 1h1m7 3h1m-9 1h1m-1 1h1m6 0h1m-7 1h1m4 0h1m-5 1h1m2 0h1m-4 1h4m-2 1h1" stroke="#40ea18"/><path d="M261 1941.5h1m-3 1h6m-6 1h2m4 0h1m-7 1h2m4 0h1m-7 1h1m-2 1h1m-1 1h1m-1 1h1m6 1h1m-1 1h1m0 2h1m-9 1h1m7 0h1m-9 1h1m7 0h1m-9 1h1m6 1h1m-7 1h1m4 0h1m-5 1h1m2 0h1m-3 1h2" stroke="#82ed00"/><path d="M261 1943.5h4m-4 1h1m-2 1h1m4 0h1m-7 1h1m5 0h1m-7 1h1m5 0h1m-7 1h1m5 0h1m-7 1h1m-1 1h1m4 0h1m-6 1h1m5 0h1m-7 1h1m5 0h1m-7 1h1m5 1h1m-1 1h1m-7 1h1m4 0h1m-5 1h1m2 0h1m-3 1h2" stroke="#d3ef00"/><path d="M262 1944.5h3m-4 1h1m2 0h1m-5 1h1m3 2h1m-1 1h1m-1 2h1m-1 1h1m0 1h1m-7 1h1m-1 1h1m4 0h1m-5 1h1m2 0h1m-3 1h2" stroke="#f2d400"/><path d="M262 1945.5h1m-2 1h1m2 0h1m-5 1h1m3 0h1m-5 1h1m-1 1h1m2 0h1m-4 1h1m2 0h1m-4 1h1m2 0h1m-4 1h1m2 0h1m-4 1h1m3 0h1m-5 1h1m3 0h1m-5 1h1m2 0h1m-3 1h2" stroke="#ff9900"/><path d="M263 1945.5h1m-2 1h2m-3 1h3m-3 1h3m-3 1h2m-2 1h2m-2 1h2m-2 1h2m-2 1h3m-3 1h3m-3 1h2" stroke="#ff3900"/></g>
<rect x="155.6" y="1810.9" width="181.0" height="180.5" fill="none" stroke="#444" stroke-width="1.2"/>
<path d="M152.6 1929.2h3M152.6 1923.2h3M152.6 1918.9h3M152.6 1915.6h3M152.6 1912.8h3M152.6 1910.5h3M152.6 1908.5h3M152.6 1906.8h3M152.6 1896.1h3M152.6 1890.7h3M152.6 1887.0h3M152.6 1884.0h3M152.6 1881.6h3M152.6 1879.6h3M152.6 1877.8h3M152.6 1876.3h3M152.6 1866.2h3M152.6 1861.1h3M152.6 1857.4h3M152.6 1854.6h3M152.6 1852.3h3M152.6 1850.4h3M152.6 1848.7h3M152.6 1847.2h3M152.6 1837.1h3M152.6 1832.0h3M152.6 1828.3h3M152.6 1825.5h3M152.6 1823.2h3M152.6 1821.2h3M152.6 1819.5h3M152.6 1818.0h3M152.6 1943.9h3M152.6 1947.9h3M152.6 1951.4h3M152.6 1954.4h3M152.6 1956.9h3M152.6 1958.9h3M152.6 1960.4h3M152.6 1963.4h3M152.6 1964.9h3M152.6 1966.9h3M152.6 1969.4h3M152.6 1972.4h3M152.6 1975.9h3M152.6 1979.4h3M152.6 1986.9h3M152.6 1989.9h3M150.6 1816.7h5M150.6 1845.9h5M150.6 1874.9h5M150.6 1905.2h5M150.6 1939.6h5M150.6 1961.9h5M150.6 1982.9h5M215.7 1991.4v3M222.0 1991.4v3M226.5 1991.4v3M229.9 1991.4v3M232.8 1991.4v3M235.2 1991.4v3M237.2 1991.4v3M239.1 1991.4v3M249.6 1991.4v3M254.8 1991.4v3M258.5 1991.4v3M261.3 1991.4v3M263.7 1991.4v3M265.6 1991.4v3M267.3 1991.4v3M268.9 1991.4v3M279.1 1991.4v3M284.3 1991.4v3M288.0 1991.4v3M290.8 1991.4v3M293.2 1991.4v3M295.1 1991.4v3M296.8 1991.4v3M298.4 1991.4v3M308.4 1991.4v3M313.5 1991.4v3M317.1 1991.4v3M319.9 1991.4v3M322.2 1991.4v3M324.1 1991.4v3M325.8 1991.4v3M327.3 1991.4v3M166.1 1991.4v3M169.1 1991.4v3M171.6 1991.4v3M174.1 1991.4v3M176.1 1991.4v3M178.1 1991.4v3M180.1 1991.4v3M181.6 1991.4v3M184.6 1991.4v3M186.6 1991.4v3M188.6 1991.4v3M190.6 1991.4v3M193.1 1991.4v3M195.6 1991.4v3M198.6 1991.4v3M201.6 1991.4v3M162.6 1991.4v5M204.9 1991.4v5M240.7 1991.4v5M270.2 1991.4v5M299.7 1991.4v5M328.6 1991.4v5M183.1 1991.4v5" stroke="#000" stroke-width="1" fill="none"/>
<rect x="179.1" y="1991.4" width="8" height="3.2" fill="#000"/>
<rect x="152.4" y="1957.9" width="3.2" height="7.5" fill="#000"/>
<text x="126.4" y="1853.9" font-size="12.6" fill="#111" stroke="#111" stroke-width="0.45">10</text>
<text x="140.2" y="1846.1" font-size="11.2" fill="#111" stroke="#111" stroke-width="0.45">6</text>
<text x="126.4" y="1882.9" font-size="12.6" fill="#111" stroke="#111" stroke-width="0.45">10</text>
<text x="140.2" y="1875.1" font-size="11.2" fill="#111" stroke="#111" stroke-width="0.45">5</text>
<text x="126.4" y="1913.2" font-size="12.6" fill="#111" stroke="#111" stroke-width="0.45">10</text>
<text x="140.2" y="1905.4" font-size="11.2" fill="#111" stroke="#111" stroke-width="0.45">4</text>
<text x="126.4" y="1947.6" font-size="12.6" fill="#111" stroke="#111" stroke-width="0.45">10</text>
<text x="140.2" y="1939.8" font-size="11.2" fill="#111" stroke="#111" stroke-width="0.45">3</text>
<text x="136.6" y="1966.9" font-size="12.6" text-anchor="middle" fill="#111" stroke="#111" stroke-width="0.45">0</text>
<text x="186.1" y="2013.5" font-size="12.6" text-anchor="middle" fill="#111" stroke="#111" stroke-width="0.45">0</text>
<text x="238.1" y="2013.5" font-size="12.6" fill="#111" stroke="#111" stroke-width="0.45">10</text>
<text x="251.7" y="2004.2" font-size="11.2" fill="#111" stroke="#111" stroke-width="0.45">4</text>
<text x="267.6" y="2013.5" font-size="12.6" fill="#111" stroke="#111" stroke-width="0.45">10</text>
<text x="281.2" y="2004.2" font-size="11.2" fill="#111" stroke="#111" stroke-width="0.45">5</text>
<text x="297.1" y="2013.5" font-size="12.6" fill="#111" stroke="#111" stroke-width="0.45">10</text>
<text x="310.7" y="2004.2" font-size="11.2" fill="#111" stroke="#111" stroke-width="0.45">6</text>
<rect x="225.1" y="1829.9" width="83.8" height="104.6" fill="none" stroke="#222" stroke-width="1.1"/>
<text x="266.1" y="1854.9" font-size="12.4" text-anchor="middle" stroke="#000" stroke-width="0.45">20.4</text>
<g fill="none" stroke-width="1"><path d="M488 1867.5h1m5 0h1m5 0h1m3 0h1m-15 2h1m7 0h1m-12 3h1m2 0h1m18 0h1m-25 1h1m-6 1h1m1 0h1m1 0h2m2 0h2m6 0h1m1 0h1m-2 1h2m9 0h1m-20 1h1m6 0h2m-15 1h1m4 0h2m3 0h2m5 0h2m-20 1h1m3 0h2m4 0h1m2 0h2m2 0h1m1 0h2m-12 1h1m3 0h3m2 0h1m4 0h1m-21 1h1m1 0h1m2 0h2m1 0h1m2 0h1m-19 1h1m6 0h1m3 0h1m1 0h1m5 0h1m1 0h1m-20 1h1m1 0h1m1 0h1m8 0h1m4 0h2m2 0h2m-16 1h1m1 0h2m7 0h1m5 0h1m-23 1h1m1 0h1m4 0h1m1 0h1m5 0h1m2 0h1m-25 1h1m2 0h1m2 0h1m3 0h1m1 0h1m2 0h1m2 0h2m9 0h1m-20 1h2m4 0h2m1 0h2m4 0h1m-23 1h1m6 0h3m1 0h1m4 0h1m2 0h1m2 0h1m-24 1h2m1 0h1m4 0h1m9 0h2m2 0h1m-28 1h1m8 0h1m1 0h1m1 0h1m11 0h1m5 0h1m-28 1h1m2 0h1m2 0h1m14 0h1m-24 1h1m2 0h1m5 0h1m18 0h1m-26 1h1m20 0h1m-20 1h3m1 0h1m12 0h1m3 0h2m-23 1h1m3 0h1m12 0h5m1 0h1m-27 1h1m4 0h1m14 0h4m-21 1h5m13 0h1m2 0h1m1 0h1m1 0h1m-26 1h1m3 0h1m13 0h1m3 0h1m-25 1h1m5 0h1m14 0h1m-29 1h1m6 0h1m1 0h1m2 0h1m15 0h2m7 0h1m-32 1h1m5 0h1m17 0h1m-27 1h1m7 0h1m-10 1h1m1 0h1m2 0h3m17 0h1m1 0h1m-25 1h1m5 0h1m23 0h1m-29 1h3m1 0h2m14 0h2m2 0h1m-32 1h1m4 0h1m1 0h1m3 0h1m15 0h2m1 0h2m-30 1h1m4 0h2m-9 1h1m4 0h2m4 0h1m16 0h2m-23 1h1m3 0h1m16 0h1m1 0h1m5 0h2m-31 1h4m1 0h1m19 0h1m1 0h1m-29 1h2m1 0h1m27 0h1m1 0h1m1 0h1m-33 1h1m-4 1h1m3 0h1m-14 1h1m8 0h1m2 0h1m19 0h1m-24 1h1m22 0h1m-29 2h1m5 0h2m22 0h1m1 0h1m-31 1h1m3 0h1m21 0h1m1 0h1m-25 1h4m-7 1h1m4 0h1m19 0h1m1 0h1m2 0h1m-30 1h1m25 0h2m-32 1h1m2 0h1m2 0h1m1 0h1m20 0h1m-26 1h1m3 0h1m19 0h1m1 0h1m1 0h1m-34 1h1m27 0h2m1 0h1m-29 1h1m1 0h1m1 0h1m-7 1h1m4 0h1m20 0h3m2 0h1m-2 1h1m-31 1h1m2 0h3m22 0h1m-31 1h1m4 0h1m1 0h1m-4 1h1m3 0h1m22 0h1m8 0h1m-39 1h1m3 1h1m25 0h1m-28 1h1m1 0h2m24 0h1m-4 1h2m-37 1h1m5 0h1m30 0h1m-30 1h2m1 0h1m27 0h1m-30 1h1m-3 1h1m2 0h1m23 0h3m1 1h1m-4 1h3m-3 1h2m-33 1h2m32 0h1m-2 1h1m3 0h1m-33 1h3m24 0h1m-29 1h1m1 0h1m30 0h1m-3 1h1m-32 1h2m27 0h1m4 0h1m-34 1h1m27 0h1m-32 1h1m29 0h1m-2 3h1m-27 1h1m25 0h1m-2 1h1m2 0h1m-29 1h2m23 0h1m-27 1h2m24 0h1m-24 1h1m21 1h1m2 0h1m-25 1h1m20 0h1m-1 1h2m4 0h1m-28 1h1m22 0h1m-28 1h1m2 0h1m23 0h1m-27 2h1m23 0h1m-24 1h1m1 0h1m-2 1h1m1 0h1m18 0h1m1 0h1m-1 1h1m-25 1h1m3 0h1m17 0h1m-19 1h1m17 0h1m-21 1h1m1 0h3m15 0h1m-14 1h1m14 0h1m-22 1h1m1 0h1m14 0h1m-20 1h1m2 1h1m5 0h1m5 0h1m4 0h1m3 0h1m-18 1h2m4 0h1m1 0h1m-12 1h1m6 0h1m3 0h2m-10 1h2m7 0h1m1 0h1m-14 1h1m1 0h1m1 0h1m2 0h1m1 0h1m6 0h1m-17 1h2m3 2h1m-3 5h1" stroke="#5a5aff" stroke-opacity="0.65"/><path d="M495 1886.5h1m-4 1h2m-3 1h2m2 0h1m-7 1h6m-8 1h3m1 0h1m1 0h4m-10 1h2m1 0h2m2 0h1m-9 1h2m1 0h1m1 0h3m1 0h2m-11 1h1m1 0h3m2 0h3m-9 1h1m2 0h1m1 0h2m1 0h2m-11 1h4m1 0h5m1 0h1m-11 1h4m1 0h3m2 0h1m-10 1h2m1 0h1m1 0h3m-8 1h1m1 0h3m1 0h5m-14 1h3m1 0h1m1 0h1m5 0h2m-14 1h1m1 0h5m3 0h1m2 0h2m-15 1h2m1 0h1m1 0h1m1 0h1m3 0h1m1 0h3m-16 1h1m1 0h2m1 0h2m5 0h1m1 0h1m-12 1h3m5 0h4m-12 1h3m3 0h1m1 0h2m-11 1h3m4 0h3m1 0h2m-15 1h3m7 0h1m1 0h3m-4 1h2m1 0h1m-14 1h1m8 0h3m-12 1h1m7 0h5m1 0h1m-15 1h1m8 0h1m1 0h1m1 0h2m-15 1h2m7 0h1m1 0h2m1 0h2m-18 1h1m1 0h1m9 0h5m-17 1h1m1 0h1m13 0h2m-17 1h2m14 0h1m-19 1h4m13 0h1m-17 1h2m15 0h1m-17 1h1m15 0h1m-18 1h3m8 0h2m2 0h2m-17 1h1m1 0h2m9 0h1m1 0h3m-17 1h1m1 0h1m9 0h3m1 0h1m-15 1h1m8 0h1m1 0h4m-18 1h2m1 0h2m7 0h1m-15 1h2m1 0h2m-6 1h3m14 0h2m-19 1h1m1 0h1m14 0h2m-19 1h3m15 0h1m-2 1h1m-18 1h3m15 0h1m1 0h2m-22 1h2m17 0h3m-22 1h1m20 1h1m-22 1h1m18 0h3m-2 1h1m-22 1h2m17 0h1m0 1h2m-22 1h1m20 0h1m-22 1h1m-2 1h2m20 0h1m-23 1h1m21 0h1m-22 1h1m20 0h1m-1 2h1m-22 1h1m21 0h1m-24 1h1m-1 1h2m-3 1h2m22 0h2m-25 1h1m21 0h1m1 0h1m-25 1h2m21 0h1m-2 1h1m-1 1h2m-3 1h3m-23 1h1m21 0h1m-23 1h1m-2 1h2m19 2h1m-21 1h1m0 2h1m18 0h1m-20 1h2m16 0h1m-19 1h2m16 0h1m-17 1h1m-2 1h1m1 0h1m14 0h1m-18 1h4m12 0h1m-17 1h3m-1 1h2m12 0h2m-16 1h3m12 0h1m-17 1h1m2 0h2m9 0h3m-12 1h2m7 0h1m-9 1h1m1 0h1m5 0h1m-10 1h2m1 0h2m1 0h3m-9 1h1m2 0h3m-4 1h2m1 0h1" stroke="#2828ff" stroke-opacity="0.8"/><path d="M493 1898.5h1m-1 1h2m-1 1h1m-2 1h2m-3 1h1m1 0h1m-3 1h2m-3 1h3m-3 1h1m1 0h1m-6 1h1m2 0h3m-5 1h4m1 0h1m-7 1h5m1 0h1m-7 1h2m2 0h2m-1 1h2m-7 1h1m5 0h1m-8 1h1m6 0h2m-9 1h2m5 0h6m-13 1h2m5 0h1m2 0h1m-11 1h3m3 0h7m-12 1h5m1 0h1m1 0h4m-13 1h4m1 0h1m3 0h1m1 0h2m-13 1h8m3 0h1m-11 1h7m-6 1h6m-6 1h2m1 0h4m-7 1h2m1 0h4m-9 1h1m1 0h1m1 0h5m-12 1h1m2 0h2m6 0h1m-12 1h2m9 0h2m-13 1h2m10 0h2m-1 1h1m-14 1h1m11 0h3m-16 1h2m14 0h1m-3 1h4m-3 1h3m-19 1h2m14 0h2m-2 1h2m-18 1h1m15 0h1m-17 1h1m15 0h1m0 1h1m-19 1h1m17 0h2m-20 1h1m18 0h1m-20 1h1m18 0h1m-20 1h1m18 0h1m-20 1h1m18 1h1m0 1h1m-20 1h1m17 0h2m-2 1h2m-1 1h1m-22 1h2m-1 1h1m-1 1h1m18 0h1m-20 1h1m-1 1h1m-1 2h1m17 0h1m-19 1h1m17 0h1m-19 1h1m17 0h1m-19 1h1m17 0h1m-18 1h1m16 0h1m-18 1h1m16 0h1m-17 1h1m14 0h2m-17 1h1m14 0h1m-16 1h2m13 0h1m-15 1h2m11 0h1m-13 1h1m11 1h1m-1 1h1m-12 1h1m9 0h1m-10 1h1m3 0h5m-8 1h3m1 0h1m1 0h1m1 0h1m-5 1h4m-4 1h3m-2 1h1" stroke="#0d4bff"/><path d="M490 1909.5h2m-2 1h2m-3 1h4m-4 1h4m-4 1h5m-5 1h5m-3 1h1m-3 9h2m2 0h2m-9 1h9m-9 1h10m-10 1h8m1 0h1m-10 1h3m1 0h1m2 0h3m-10 1h3m5 0h2m-11 1h1m1 0h2m5 0h1m1 0h1m-13 1h4m8 0h2m-14 1h2m11 0h1m-15 1h2m12 0h1m-1 1h1m-15 1h1m13 0h1m-16 1h1m15 0h1m-1 1h1m-17 1h1m16 0h1m-18 1h1m16 0h1m-18 1h1m-1 1h1m16 0h1m-18 1h1m16 0h1m-1 1h1m-1 1h1m-18 1h1m15 0h2m-18 1h1m16 0h1m-1 1h1m-1 1h1m-1 1h1m-18 1h1m16 0h1m-18 1h1m-1 1h1m-1 1h1m-1 1h1m-1 1h1m15 0h1m-17 1h1m15 0h1m-16 1h1m14 0h1m-16 1h1m14 0h1m-15 1h1m12 0h1m-14 1h1m12 0h1m-2 1h2m-12 1h1m9 0h1m-10 1h1m-1 1h1m8 0h1m-10 1h1m7 0h2m-10 1h2m2 0h1m3 0h1m-7 1h1" stroke="#075cff"/><path d="M491 1928.5h2m-3 1h4m-5 1h5m-5 1h2m1 0h4m-10 1h1m1 0h1m6 0h2m-12 1h3m8 0h1m-13 1h1m11 0h1m-13 1h1m11 0h1m-14 1h1m13 0h1m-15 1h1m13 0h1m-15 1h1m-1 1h1m14 0h1m-16 1h1m14 0h1m-16 1h1m14 0h1m-16 1h1m14 0h1m-16 1h1m14 0h1m-16 1h1m-1 1h1m-1 1h1m-2 1h1m15 0h1m-17 1h1m15 0h1m-1 1h1m-1 1h1m-1 2h1m-1 1h1m-1 1h1m-16 1h1m-1 1h1m0 1h1m-1 1h1m12 0h1m-2 1h1m-12 1h1m10 0h1m-11 1h1m8 0h1m-9 1h1m7 0h1m-8 1h1m6 0h1m-8 1h1m5 0h2m-8 1h1m2 0h2m1 0h1m-6 1h2" stroke="#006fff"/><path d="M489 1932.5h6m-7 1h3m3 0h2m-11 1h5m5 0h1m-11 1h1m9 0h1m-12 1h2m10 0h1m-13 1h2m10 0h1m-13 1h1m12 0h1m-1 1h1m-14 1h1m-1 3h1m12 0h1m-14 1h1m12 0h1m-14 1h1m12 0h1m-15 2h1m13 0h1m-15 1h1m-1 1h1m-1 1h1m-1 1h1m-1 1h1m-1 1h1m-1 1h1m13 0h1m-1 1h1m-14 1h1m12 0h1m-13 2h1m10 0h1m-12 1h1m9 0h1m-10 1h1m8 0h1m-9 1h2m5 0h1m-7 1h1m5 0h1m-6 1h1m3 0h2m-6 1h1m1 0h3m-5 1h2" stroke="#009cf8"/><path d="M491 1933.5h3m-4 1h5m-8 1h4m3 0h1m-9 1h3m6 0h1m-10 1h2m7 0h1m-11 1h2m9 0h1m-12 1h1m10 0h1m0 1h1m-14 1h1m12 0h1m-14 1h1m12 0h1m-14 4h1m-1 1h1m12 1h1m-1 1h1m-1 1h1m-1 1h1m-14 1h1m12 0h1m-14 1h1m12 0h1m-14 1h1m-1 1h1m0 1h1m10 0h1m-1 1h1m-11 1h1m8 0h1m-10 1h1m7 0h1m-7 1h1m4 0h2m-6 1h1m3 0h1m-5 1h3m1 0h1m-4 1h3m-3 1h1" stroke="#00c8f1"/><path d="M491 1935.5h3m-4 1h1m2 0h2m-7 1h2m4 0h1m-8 1h1m7 0h1m-10 1h1m8 0h1m-11 1h1m10 0h1m-12 1h1m10 0h1m-1 1h1m-12 1h1m10 0h1m-12 1h1m10 0h1m-12 1h1m10 0h1m-12 1h1m-2 2h1m-1 1h1m-1 1h1m11 0h1m-13 1h1m11 0h1m-1 1h1m-1 1h1m-12 1h1m10 0h1m-12 1h1m10 0h1m-11 2h1m8 0h1m-2 1h1m-8 1h2m4 0h1m-5 1h2m1 0h1m-3 1h3" stroke="#00d9c6"/><path d="M491 1936.5h2m-3 1h1m2 0h1m-6 1h2m3 0h2m-8 1h1m6 0h1m-9 1h1m8 0h1m-11 2h1m10 4h1m-12 1h1m10 0h1m-12 1h1m10 0h1m-12 1h1m10 0h1m-12 1h1m-1 1h1m-1 1h1m-1 1h1m0 3h1m8 0h1m-2 1h1m-8 1h1m5 0h1m-5 1h4m-2 1h1" stroke="#00e291"/><path d="M491 1937.5h2m-3 1h1m1 0h1m-5 1h1m4 0h1m0 1h1m0 1h1m-1 1h1m-10 2h1m-1 1h1m-1 1h1m8 3h1m-10 2h1m8 0h1m-10 1h1m8 0h1m-10 1h1m8 0h1m-10 1h1m8 0h1m-10 1h1m8 0h1m-9 1h1m6 0h1m-8 1h1m4 0h2m-6 1h5" stroke="#16e756"/><path d="M491 1938.5h1m-3 1h4m-6 1h1m5 0h1m-8 1h1m7 0h1m-9 1h1m-1 1h1m8 0h1m-1 1h1m-1 1h1m-10 2h1m8 0h1m-10 1h1m8 0h1m-10 1h1m-1 1h2m-1 4h1m-1 1h1m6 0h1m-2 1h1m-6 1h1m2 0h1" stroke="#40ea18"/><path d="M488 1940.5h1m3 0h1m1 2h1m-8 2h1m-1 1h1m-1 1h1m7 0h1m-9 1h1m-1 1h1m-1 1h1m6 0h1m-7 1h1m5 0h1m-8 1h1m6 0h1m-8 1h1m6 0h1m-8 1h1m6 0h1m-1 1h1m-7 1h1m4 0h1m-6 1h1m2 0h2m-4 1h2" stroke="#82ed00"/><path d="M489 1940.5h3m-5 1h1m5 0h1m-7 1h1m-1 1h1m6 0h1m-7 2h1m-1 1h1m-1 1h1m5 0h1m-7 1h1m5 0h1m-7 1h2m-2 2h1m-1 1h1m-1 1h1m4 0h1m-6 1h1m4 0h1m-5 1h1m1 0h2m-4 1h2" stroke="#d3ef00"/><path d="M488 1941.5h1m3 0h1m0 1h1m-6 2h1m5 0h1m-6 1h1m4 0h1m-6 1h1m4 0h1m-6 1h5m-5 1h5m-4 1h1m1 0h2m-5 1h1m3 0h1m-5 1h1m3 0h1m-5 1h1m3 0h1m-5 2h1m2 0h1m-3 1h1" stroke="#f2d400"/><path d="M489 1941.5h3m-4 1h1m3 0h1m-5 1h1m4 0h1m-5 1h1m3 0h1m-4 1h4m-4 1h4m-3 3h1m-2 1h3m-3 1h3m-3 1h1m1 0h1m-4 1h4m-3 1h2" stroke="#ff9900"/><path d="M489 1942.5h3m-3 1h4m-3 1h3m-2 8h1" stroke="#ff3900"/></g>
<rect x="384.3" y="1810.9" width="181.0" height="180.5" fill="none" stroke="#444" stroke-width="1.2"/>
<path d="M381.3 1929.2h3M381.3 1923.2h3M381.3 1918.9h3M381.3 1915.6h3M381.3 1912.8h3M381.3 1910.5h3M381.3 1908.5h3M381.3 1906.8h3M381.3 1896.1h3M381.3 1890.7h3M381.3 1887.0h3M381.3 1884.0h3M381.3 1881.6h3M381.3 1879.6h3M381.3 1877.8h3M381.3 1876.3h3M381.3 1866.2h3M381.3 1861.1h3M381.3 1857.4h3M381.3 1854.6h3M381.3 1852.3h3M381.3 1850.4h3M381.3 1848.7h3M381.3 1847.2h3M381.3 1837.1h3M381.3 1832.0h3M381.3 1828.3h3M381.3 1825.5h3M381.3 1823.2h3M381.3 1821.2h3M381.3 1819.5h3M381.3 1818.0h3M381.3 1943.9h3M381.3 1947.9h3M381.3 1951.4h3M381.3 1954.4h3M381.3 1956.9h3M381.3 1958.9h3M381.3 1960.4h3M381.3 1963.4h3M381.3 1964.9h3M381.3 1966.9h3M381.3 1969.4h3M381.3 1972.4h3M381.3 1975.9h3M381.3 1979.4h3M381.3 1986.9h3M381.3 1989.9h3M379.3 1816.7h5M379.3 1845.9h5M379.3 1874.9h5M379.3 1905.2h5M379.3 1939.6h5M379.3 1961.9h5M379.3 1982.9h5M444.4 1991.4v3M450.7 1991.4v3M455.2 1991.4v3M458.6 1991.4v3M461.5 1991.4v3M463.9 1991.4v3M465.9 1991.4v3M467.8 1991.4v3M478.3 1991.4v3M483.5 1991.4v3M487.2 1991.4v3M490.0 1991.4v3M492.4 1991.4v3M494.3 1991.4v3M496.0 1991.4v3M497.6 1991.4v3M507.8 1991.4v3M513.0 1991.4v3M516.7 1991.4v3M519.5 1991.4v3M521.9 1991.4v3M523.8 1991.4v3M525.5 1991.4v3M527.1 1991.4v3M537.1 1991.4v3M542.2 1991.4v3M545.8 1991.4v3M548.6 1991.4v3M550.9 1991.4v3M552.8 1991.4v3M554.5 1991.4v3M556.0 1991.4v3M394.8 1991.4v3M397.8 1991.4v3M400.3 1991.4v3M402.8 1991.4v3M404.8 1991.4v3M406.8 1991.4v3M408.8 1991.4v3M410.3 1991.4v3M413.3 1991.4v3M415.3 1991.4v3M417.3 1991.4v3M419.3 1991.4v3M421.8 1991.4v3M424.3 1991.4v3M427.3 1991.4v3M430.3 1991.4v3M391.3 1991.4v5M433.6 1991.4v5M469.4 1991.4v5M498.9 1991.4v5M528.4 1991.4v5M557.3 1991.4v5M411.8 1991.4v5" stroke="#000" stroke-width="1" fill="none"/>
<rect x="407.8" y="1991.4" width="8" height="3.2" fill="#000"/>
<rect x="381.1" y="1957.9" width="3.2" height="7.5" fill="#000"/>
<text x="355.1" y="1853.9" font-size="12.6" fill="#111" stroke="#111" stroke-width="0.45">10</text>
<text x="368.9" y="1846.1" font-size="11.2" fill="#111" stroke="#111" stroke-width="0.45">6</text>
<text x="355.1" y="1882.9" font-size="12.6" fill="#111" stroke="#111" stroke-width="0.45">10</text>
<text x="368.9" y="1875.1" font-size="11.2" fill="#111" stroke="#111" stroke-width="0.45">5</text>
<text x="355.1" y="1913.2" font-size="12.6" fill="#111" stroke="#111" stroke-width="0.45">10</text>
<text x="368.9" y="1905.4" font-size="11.2" fill="#111" stroke="#111" stroke-width="0.45">4</text>
<text x="355.1" y="1947.6" font-size="12.6" fill="#111" stroke="#111" stroke-width="0.45">10</text>
<text x="368.9" y="1939.8" font-size="11.2" fill="#111" stroke="#111" stroke-width="0.45">3</text>
<text x="365.3" y="1966.9" font-size="12.6" text-anchor="middle" fill="#111" stroke="#111" stroke-width="0.45">0</text>
<text x="414.8" y="2013.5" font-size="12.6" text-anchor="middle" fill="#111" stroke="#111" stroke-width="0.45">0</text>
<text x="466.8" y="2013.5" font-size="12.6" fill="#111" stroke="#111" stroke-width="0.45">10</text>
<text x="480.4" y="2004.2" font-size="11.2" fill="#111" stroke="#111" stroke-width="0.45">4</text>
<text x="496.3" y="2013.5" font-size="12.6" fill="#111" stroke="#111" stroke-width="0.45">10</text>
<text x="509.9" y="2004.2" font-size="11.2" fill="#111" stroke="#111" stroke-width="0.45">5</text>
<text x="525.8" y="2013.5" font-size="12.6" fill="#111" stroke="#111" stroke-width="0.45">10</text>
<text x="539.4" y="2004.2" font-size="11.2" fill="#111" stroke="#111" stroke-width="0.45">6</text>
<rect x="453.0" y="1829.9" width="85.0" height="104.6" fill="none" stroke="#222" stroke-width="1.1"/>
<text x="494.8" y="1854.9" font-size="12.4" text-anchor="middle" stroke="#000" stroke-width="0.45">26.2</text>
<g fill="none" stroke-width="1"><path d="M724 1870.5h1m0 1h1m-2 1h1m-10 1h2m-3 1h1m2 0h1m10 0h1m-17 1h1m5 0h1m1 0h1m-8 1h1m17 0h1m-17 1h1m4 0h2m-8 1h1m12 0h1m2 0h1m3 0h1m-25 1h1m9 0h2m1 0h1m1 0h1m2 0h4m-21 1h1m8 0h1m10 0h1m-20 1h2m5 0h1m2 0h2m4 0h1m-16 1h1m6 0h3m1 0h2m6 0h1m6 0h1m-35 1h1m11 0h1m2 0h1m5 0h1m2 0h1m3 0h1m-30 1h1m4 0h1m1 0h1m3 0h1m3 0h4m2 0h1m8 0h1m-22 1h1m4 0h4m4 0h1m5 0h2m-17 1h1m1 0h1m4 0h1m2 0h1m1 0h1m-13 1h1m3 0h1m1 0h1m2 0h1m2 0h1m1 0h1m-21 1h1m4 0h5m8 0h1m-17 1h2m1 0h1m5 0h3m4 0h1m-24 1h1m4 0h1m7 0h2m11 0h1m-19 1h3m1 0h1m1 0h1m1 0h2m2 0h5m-11 1h1m2 0h1m1 0h2m-18 1h2m10 0h2m2 0h2m3 0h1m3 0h1m-24 1h2m2 0h3m4 0h3m2 0h1m1 0h1m1 0h1m4 0h1m-25 1h1m8 0h1m3 0h1m1 0h2m5 0h1m2 0h1m-29 1h1m1 0h1m1 0h1m1 0h1m6 0h2m4 0h1m-18 1h1m2 0h2m8 0h1m1 0h1m3 0h3m-18 1h1m6 0h1m1 0h2m3 0h2m3 0h1m-25 1h2m3 0h1m5 0h1m3 0h1m1 0h2m1 0h2m-23 1h1m1 0h1m1 0h1m12 0h1m1 0h1m3 0h1m2 0h1m-36 1h1m6 0h1m19 0h1m1 0h1m-21 1h1m2 0h1m14 0h1m2 0h2m2 0h1m-23 1h1m1 0h2m-1 1h1m13 0h2m-18 1h3m12 0h1m1 0h1m13 0h1m-33 1h1m1 0h3m15 0h1m5 0h1m-31 1h1m2 0h1m18 0h2m-25 1h1m2 0h1m1 0h1m1 0h1m15 0h1m1 0h1m-28 1h1m1 0h1m5 0h2m14 0h1m-25 1h1m5 0h2m18 0h1m-25 1h1m5 0h2m12 0h1m1 0h1m2 0h1m-21 1h1m15 0h1m-24 1h1m5 0h2m1 0h1m16 0h1m2 0h1m-27 1h1m2 0h1m2 0h1m13 0h1m-16 1h1m15 0h1m1 0h2m-23 1h1m1 0h1m18 0h2m-26 1h1m4 0h1m17 0h1m5 0h1m-8 1h1m-22 1h1m3 0h1m16 0h1m-26 1h1m5 0h1m1 0h1m16 0h1m1 0h1m2 0h1m-6 1h1m3 0h2m-28 1h1m23 0h1m5 0h1m3 0h1m-11 1h3m4 0h1m-37 1h1m2 0h1m2 0h1m27 0h1m-30 1h1m2 0h2m18 0h1m-24 1h1m22 0h2m-25 1h1m23 0h1m-2 1h1m1 0h2m2 0h1m-29 1h1m2 0h1m19 0h1m-24 1h1m22 0h1m-28 1h2m2 0h3m20 0h1m1 0h1m1 0h1m-33 1h1m6 0h1m24 0h1m-28 1h1m1 0h1m-4 1h1m1 0h1m22 0h2m3 0h1m-29 1h1m24 0h1m-33 1h1m3 0h1m26 0h1m3 0h1m-29 1h1m23 0h1m-27 1h2m-3 1h1m25 1h1m2 0h1m-29 1h1m1 0h1m22 1h1m-25 1h1m24 0h1m-35 1h1m6 0h1m1 0h1m24 0h1m-30 1h1m3 0h1m24 1h1m-1 2h1m-27 1h1m27 0h1m-2 1h1m2 0h1m1 0h1m-33 1h1m0 1h1m23 0h1m3 1h1m-5 1h1m-29 1h1m27 1h2m-27 1h1m28 0h1m-5 1h1m4 0h1m-31 2h1m1 0h1m21 1h1m-1 1h1m-24 1h1m0 1h1m1 0h1m19 0h1m3 0h2m-27 1h1m20 0h1m-23 1h2m24 0h1m-27 1h1m2 0h2m14 0h2m1 0h1m-20 1h1m1 0h1m0 1h1m13 0h2m-22 1h1m4 0h1m11 0h1m1 0h1m-18 1h2m1 0h1m13 0h2m-21 1h1m2 0h1m2 0h1m1 0h1m7 0h2m1 0h2m-15 1h1m2 0h2m1 0h1m3 0h1m5 0h1m1 0h1m-19 1h1m1 0h1m1 0h1m1 0h1m5 0h1m-12 1h3m1 0h1m1 0h1m3 0h1m-11 1h1m9 0h1m1 0h1m-14 1h1m2 0h2m-4 1h1m2 0h1m3 0h1m-9 1h1m3 0h1m-3 1h1m2 0h1m2 0h1m1 1h2m2 1h1m-11 5h1" stroke="#5a5aff" stroke-opacity="0.65"/><path d="M717 1895.5h3m-4 1h5m-5 1h1m2 0h1m-4 1h2m1 0h1m-3 1h4m2 0h2m-9 1h3m2 0h2m-7 1h2m4 0h1m1 0h2m-10 1h7m1 0h1m1 0h1m-10 1h2m3 0h1m1 0h2m1 0h1m-10 1h2m1 0h1m1 0h1m1 0h3m-9 1h1m2 0h2m2 0h1m-7 1h1m3 0h2m-8 1h1m1 0h4m1 0h3m-12 1h2m1 0h9m-12 1h5m1 0h2m1 0h3m-11 1h1m1 0h2m5 0h1m-11 1h6m1 0h1m-8 1h3m1 0h1m2 0h2m1 0h2m-12 1h1m2 0h2m1 0h1m1 0h2m1 0h1m-11 1h7m2 0h2m-14 1h1m1 0h1m2 0h1m4 0h2m-13 1h3m1 0h3m3 0h3m2 0h1m-15 1h1m1 0h2m1 0h1m3 0h1m1 0h4m-16 1h3m1 0h3m3 0h1m2 0h2m-15 1h7m5 0h4m-15 1h2m1 0h1m9 0h1m-14 1h3m9 0h2m-14 1h1m12 0h2m-15 1h1m11 0h1m1 0h1m-17 1h3m11 0h1m1 0h2m-17 1h1m13 0h1m1 0h1m-18 1h2m12 0h2m-15 1h1m12 0h2m-16 1h2m13 0h3m-18 1h3m13 0h1m0 1h1m-17 1h1m-2 1h2m15 0h2m-20 1h1m18 0h1m-19 1h1m17 0h1m-21 1h1m-1 1h3m18 0h1m-21 1h1m19 0h2m-21 1h1m18 0h1m-21 1h1m-2 1h2m19 0h1m-22 1h1m20 0h1m-1 1h1m-23 1h1m-1 1h1m21 0h2m-24 1h2m21 0h1m-23 1h1m20 0h2m-23 1h1m20 0h1m-1 1h2m-25 1h1m1 0h1m20 0h2m-24 1h2m20 0h1m-22 1h1m20 0h1m-22 2h2m-2 1h2m18 0h2m-22 1h2m19 0h1m-22 2h1m20 0h1m-22 1h1m19 0h2m-2 1h2m-21 1h1m18 0h1m-19 1h1m16 0h2m-2 2h1m-18 1h2m14 0h2m-18 1h3m13 0h2m-16 1h2m10 0h3m-13 1h1m0 1h1m7 0h1m-9 1h2m6 0h1m-10 1h3m1 0h3m1 0h2m-9 1h7m1 0h1m-6 1h2m2 0h1" stroke="#2828ff" stroke-opacity="0.8"/><path d="M721 1915.5h2m-3 1h3m-3 1h3m-3 1h1m1 0h1m-3 1h4m-4 1h1m1 0h4m-9 1h4m1 0h4m-10 1h6m1 0h2m-10 1h3m1 0h7m-10 1h2m5 0h3m-11 1h2m6 0h3m-12 1h3m6 0h1m1 0h1m-11 1h2m6 0h3m-11 1h2m6 0h4m-12 1h2m7 0h4m-12 1h1m9 0h2m-13 1h2m10 0h2m-15 1h1m13 0h1m-1 1h2m-17 1h2m14 0h1m-16 1h1m14 0h2m-18 1h1m15 0h2m-18 1h1m15 0h1m-1 1h2m-19 1h2m15 0h2m-19 1h1m16 0h2m-1 1h1m-20 1h1m18 0h1m-20 1h1m-1 1h1m18 0h1m-1 1h1m-1 1h1m-20 1h1m18 0h1m-20 1h1m18 0h1m-1 1h1m-20 1h1m18 0h1m-20 1h1m18 0h1m-19 1h1m16 0h1m-18 1h1m16 0h1m-18 1h1m-1 1h1m16 0h2m-20 1h2m16 0h2m-20 1h2m-2 1h2m16 0h1m-19 1h2m16 0h1m-18 1h1m16 0h1m-17 1h1m14 0h1m-16 1h2m-1 1h1m12 0h1m-13 1h1m-1 1h2m-1 1h2m7 0h1m-9 1h1m1 0h7m-8 1h7m-6 1h2m1 0h3m-2 1h1" stroke="#0d4bff"/><path d="M718 1924.5h3m-3 1h5m-6 1h6m-6 1h5m-5 1h2m2 0h2m-6 1h2m2 0h2m-5 1h1m4 0h2m-8 1h2m5 0h2m-10 1h2m8 0h2m-13 1h2m10 0h1m-1 1h2m-1 1h1m-15 1h2m11 0h2m-2 1h1m-14 1h1m13 0h1m-1 1h1m-1 1h1m-16 1h1m15 0h1m-18 1h1m16 0h1m-18 1h1m16 0h1m-1 1h1m-1 1h1m-18 1h1m15 0h2m-18 1h1m15 0h2m-18 1h1m15 0h2m-18 1h1m16 0h1m-1 1h1m-18 1h1m16 0h1m-17 5h1m-1 1h1m14 0h1m-16 1h1m14 0h1m-16 1h2m13 0h1m-16 1h2m13 0h1m-15 1h2m11 0h1m-13 1h1m11 0h1m-13 1h2m9 0h1m-11 1h3m6 0h1m-9 1h5m3 0h1m-8 1h3m1 0h3" stroke="#075cff"/><path d="M719 1928.5h2m-2 1h2m-2 1h1m1 0h2m-4 1h5m-6 1h2m4 0h2m-9 1h1m7 0h2m-11 1h2m8 0h1m-11 1h2m8 0h1m-11 1h2m8 0h1m-12 1h1m10 0h1m-12 1h1m11 0h1m-14 1h1m12 0h1m-14 1h1m12 0h1m0 1h1m-16 1h1m14 0h1m-1 1h1m-17 1h1m15 0h1m-17 1h1m15 0h1m-2 2h1m-15 1h1m13 0h1m-15 1h1m14 0h1m-16 1h1m14 0h1m-16 1h1m14 0h1m-16 1h1m14 0h1m-16 1h1m-1 1h1m14 0h1m-15 1h1m13 0h1m-15 1h1m13 0h1m-15 1h2m-2 1h2m11 0h1m-13 1h1m11 0h1m-13 1h1m11 0h1m-12 1h1m9 0h1m-11 1h1m9 0h1m-10 1h3m5 0h1m-7 1h3m0 1h3" stroke="#006fff"/><path d="M720 1932.5h2m1 0h1m-6 1h3m3 0h1m-7 1h2m5 0h1m-8 1h2m5 0h1m-7 1h1m5 0h1m-9 1h2m-3 1h1m-2 1h1m10 0h1m-12 1h1m10 0h1m-13 1h1m12 0h1m-1 1h1m-15 1h1m13 0h1m-15 1h1m13 0h1m-15 1h1m13 0h1m-1 4h1m-1 1h1m-1 1h1m-1 1h1m-14 1h1m12 0h1m-14 1h1m12 0h1m-13 2h1m11 0h1m-12 1h1m10 0h1m-12 1h1m-1 1h1m9 0h1m-11 1h1m9 0h1m-10 1h1m7 0h1m-8 1h2m5 0h1m-6 1h1m1 1h3" stroke="#009cf8"/><path d="M721 1933.5h3m-4 1h5m-5 1h5m-5 1h2m2 0h1m-6 1h2m4 0h1m-9 1h2m6 0h1m-10 1h1m8 0h1m-10 1h1m8 0h1m-11 1h1m10 0h1m-13 1h1m-1 1h1m-1 2h1m11 0h1m-13 1h1m11 0h1m-13 1h1m11 0h1m-13 1h1m11 0h1m-13 1h1m11 0h1m-13 1h1m11 0h1m-13 1h1m-1 1h1m0 2h1m-1 1h1m11 0h1m-12 1h1m0 1h1m8 0h1m-10 1h1m8 0h1m-10 1h1m7 0h1m-9 1h2m6 0h1m-8 1h2m4 0h1m-5 1h2m2 0h1m-4 1h4" stroke="#00c8f1"/><path d="M722 1936.5h2m-3 1h4m-6 1h1m4 0h1m-8 1h2m5 0h1m-8 1h1m-2 1h1m8 0h1m-11 1h1m10 0h1m-12 1h1m10 0h1m-13 1h2m10 0h1m-12 1h1m-1 1h1m-1 1h1m10 4h1m-1 1h1m-12 1h1m10 0h1m-11 1h1m9 0h1m-11 1h1m9 0h1m-10 1h1m8 0h1m-9 1h1m-1 1h1m6 0h1m-2 1h1m-6 1h1m1 0h4m-5 1h4m-2 1h2" stroke="#00d9c6"/><path d="M720 1938.5h4m-5 1h1m-2 1h1m5 0h1m-8 1h1m6 0h1m-9 1h2m7 0h1m-10 1h1m8 0h1m-10 1h1m-1 1h2m7 0h1m-10 1h1m8 0h1m-10 1h1m8 0h1m-11 1h1m9 0h1m-11 1h1m9 0h1m-11 1h1m-1 1h1m-1 1h1m0 1h1m0 2h1m0 1h1m0 1h1m5 0h1m-7 1h1m4 0h1m-6 1h5" stroke="#00e291"/><path d="M720 1939.5h4m-5 1h1m3 0h1m-6 1h1m4 0h1m-6 1h1m5 0h1m-8 1h2m-2 1h2m6 0h1m-8 1h1m-2 1h2m-2 1h1m-2 1h1m8 2h1m-1 1h1m-10 1h1m8 0h1m-1 1h1m-9 1h1m7 0h1m-8 1h1m6 0h1m-7 1h1m4 0h2m-6 1h2m1 0h2m-5 1h4" stroke="#16e756"/><path d="M720 1940.5h3m-4 1h2m1 0h1m-4 1h1m3 0h1m-5 1h1m4 0h1m-6 1h1m-1 1h1m-1 1h1m4 0h1m-7 1h1m5 0h1m-8 1h1m6 0h1m-9 1h1m7 0h1m-9 1h1m-1 1h1m7 1h1m-8 1h1m6 0h1m-7 1h1m4 0h2m-6 1h1m2 0h3m-5 1h4m-2 1h1" stroke="#40ea18"/><path d="M721 1941.5h1m-2 1h3m-3 1h1m3 1h1m-1 1h1m-6 2h1m-2 1h1m-2 1h1m6 1h1m-1 1h1m-8 1h1m5 1h1m-5 1h1m2 0h1m-3 1h2" stroke="#82ed00"/><path d="M721 1943.5h3m-4 1h1m-1 1h1m-1 1h2m1 0h1m-4 1h4m-5 1h1m2 0h2m-6 1h1m4 0h1m-7 1h1m5 0h1m-7 1h1m5 0h1m-1 1h1m-6 1h1m3 0h1m-3 1h2" stroke="#d3ef00"/><path d="M721 1944.5h3m-3 1h3m-2 1h1m-3 2h2m-3 1h1m2 0h1m-5 1h1m3 0h1m-1 1h1m-5 1h1m3 0h1m-4 1h3" stroke="#f2d400"/><path d="M720 1949.5h2m-1 1h1m-4 1h1m2 1h1" stroke="#ff9900"/><path d="M719 1950.5h2m-2 1h3m-3 1h2" stroke="#ff3900"/></g>
<rect x="613.6" y="1810.9" width="181.0" height="180.5" fill="none" stroke="#444" stroke-width="1.2"/>
<path d="M610.6 1929.2h3M610.6 1923.2h3M610.6 1918.9h3M610.6 1915.6h3M610.6 1912.8h3M610.6 1910.5h3M610.6 1908.5h3M610.6 1906.8h3M610.6 1896.1h3M610.6 1890.7h3M610.6 1887.0h3M610.6 1884.0h3M610.6 1881.6h3M610.6 1879.6h3M610.6 1877.8h3M610.6 1876.3h3M610.6 1866.2h3M610.6 1861.1h3M610.6 1857.4h3M610.6 1854.6h3M610.6 1852.3h3M610.6 1850.4h3M610.6 1848.7h3M610.6 1847.2h3M610.6 1837.1h3M610.6 1832.0h3M610.6 1828.3h3M610.6 1825.5h3M610.6 1823.2h3M610.6 1821.2h3M610.6 1819.5h3M610.6 1818.0h3M610.6 1943.9h3M610.6 1947.9h3M610.6 1951.4h3M610.6 1954.4h3M610.6 1956.9h3M610.6 1958.9h3M610.6 1960.4h3M610.6 1963.4h3M610.6 1964.9h3M610.6 1966.9h3M610.6 1969.4h3M610.6 1972.4h3M610.6 1975.9h3M610.6 1979.4h3M610.6 1986.9h3M610.6 1989.9h3M608.6 1816.7h5M608.6 1845.9h5M608.6 1874.9h5M608.6 1905.2h5M608.6 1939.6h5M608.6 1961.9h5M608.6 1982.9h5M673.7 1991.4v3M680.0 1991.4v3M684.5 1991.4v3M687.9 1991.4v3M690.8 1991.4v3M693.2 1991.4v3M695.2 1991.4v3M697.1 1991.4v3M707.6 1991.4v3M712.8 1991.4v3M716.5 1991.4v3M719.3 1991.4v3M721.7 1991.4v3M723.6 1991.4v3M725.3 1991.4v3M726.9 1991.4v3M737.1 1991.4v3M742.3 1991.4v3M746.0 1991.4v3M748.8 1991.4v3M751.2 1991.4v3M753.1 1991.4v3M754.8 1991.4v3M756.4 1991.4v3M766.4 1991.4v3M771.5 1991.4v3M775.1 1991.4v3M777.9 1991.4v3M780.2 1991.4v3M782.1 1991.4v3M783.8 1991.4v3M785.3 1991.4v3M624.1 1991.4v3M627.1 1991.4v3M629.6 1991.4v3M632.1 1991.4v3M634.1 1991.4v3M636.1 1991.4v3M638.1 1991.4v3M639.6 1991.4v3M642.6 1991.4v3M644.6 1991.4v3M646.6 1991.4v3M648.6 1991.4v3M651.1 1991.4v3M653.6 1991.4v3M656.6 1991.4v3M659.6 1991.4v3M620.6 1991.4v5M662.9 1991.4v5M698.7 1991.4v5M728.2 1991.4v5M757.7 1991.4v5M786.6 1991.4v5M641.1 1991.4v5" stroke="#000" stroke-width="1" fill="none"/>
<rect x="637.1" y="1991.4" width="8" height="3.2" fill="#000"/>
<rect x="610.4" y="1957.9" width="3.2" height="7.5" fill="#000"/>
<text x="584.4" y="1853.9" font-size="12.6" fill="#111" stroke="#111" stroke-width="0.45">10</text>
<text x="598.2" y="1846.1" font-size="11.2" fill="#111" stroke="#111" stroke-width="0.45">6</text>
<text x="584.4" y="1882.9" font-size="12.6" fill="#111" stroke="#111" stroke-width="0.45">10</text>
<text x="598.2" y="1875.1" font-size="11.2" fill="#111" stroke="#111" stroke-width="0.45">5</text>
<text x="584.4" y="1913.2" font-size="12.6" fill="#111" stroke="#111" stroke-width="0.45">10</text>
<text x="598.2" y="1905.4" font-size="11.2" fill="#111" stroke="#111" stroke-width="0.45">4</text>
<text x="584.4" y="1947.6" font-size="12.6" fill="#111" stroke="#111" stroke-width="0.45">10</text>
<text x="598.2" y="1939.8" font-size="11.2" fill="#111" stroke="#111" stroke-width="0.45">3</text>
<text x="594.6" y="1966.9" font-size="12.6" text-anchor="middle" fill="#111" stroke="#111" stroke-width="0.45">0</text>
<text x="644.1" y="2013.5" font-size="12.6" text-anchor="middle" fill="#111" stroke="#111" stroke-width="0.45">0</text>
<text x="696.1" y="2013.5" font-size="12.6" fill="#111" stroke="#111" stroke-width="0.45">10</text>
<text x="709.7" y="2004.2" font-size="11.2" fill="#111" stroke="#111" stroke-width="0.45">4</text>
<text x="725.6" y="2013.5" font-size="12.6" fill="#111" stroke="#111" stroke-width="0.45">10</text>
<text x="739.2" y="2004.2" font-size="11.2" fill="#111" stroke="#111" stroke-width="0.45">5</text>
<text x="755.1" y="2013.5" font-size="12.6" fill="#111" stroke="#111" stroke-width="0.45">10</text>
<text x="768.7" y="2004.2" font-size="11.2" fill="#111" stroke="#111" stroke-width="0.45">6</text>
<rect x="683.0" y="1829.9" width="83.5" height="104.6" fill="none" stroke="#222" stroke-width="1.1"/>
<text x="724.1" y="1854.9" font-size="12.4" text-anchor="middle" stroke="#000" stroke-width="0.45">20.7</text>
<g fill="none" stroke-width="1"><path d="M946 1864.5h1m10 1h2m-23 2h1m9 0h1m6 1h1m2 1h1m2 0h1m-18 2h1m20 0h1m-20 1h1m5 0h1m2 0h2m-10 1h4m2 0h3m4 0h1m-11 1h1m3 0h1m4 0h1m5 0h1m-18 1h3m1 0h4m1 0h2m1 0h1m-17 1h1m2 0h2m1 0h1m4 0h2m1 0h1m6 0h2m-20 1h1m1 0h1m1 0h2m8 0h1m-5 1h1m-12 1h1m5 0h1m8 0h1m4 0h1m-31 1h1m3 0h1m4 0h2m1 0h2m3 0h3m-11 1h2m6 0h1m1 0h1m3 0h2m7 0h1m-33 1h1m4 0h1m1 0h1m12 0h1m5 0h1m-19 1h1m1 0h2m1 0h2m1 0h1m5 0h2m8 0h1m-27 1h1m5 0h1m1 0h2m4 0h1m1 0h2m6 0h1m2 0h2m-29 1h1m8 0h1m6 0h1m7 0h2m-19 1h1m12 0h1m1 0h2m6 0h1m-29 1h2m1 0h1m13 0h1m1 0h1m2 0h1m-26 1h1m4 0h2m2 0h1m11 0h1m8 0h1m-30 1h1m7 0h1m11 0h2m2 0h1m5 0h1m-36 1h2m2 0h1m3 0h4m13 0h1m4 0h1m6 0h1m-37 1h1m5 0h1m19 0h1m-20 1h1m17 0h1m-1 1h1m4 0h1m-32 1h1m2 0h1m2 0h1m18 0h1m1 0h1m-32 1h1m9 0h3m16 0h1m3 0h1m-24 1h1m1 0h2m-4 1h2m18 0h2m-30 1h1m6 0h1m2 0h1m16 0h1m8 0h1m-39 1h1m6 0h1m5 0h1m14 0h2m1 0h2m1 0h1m-28 1h1m3 0h1m19 0h2m-25 1h2m1 0h1m19 0h2m3 0h1m1 0h1m-31 1h1m1 0h2m20 0h1m1 0h1m1 0h1m-31 1h2m4 0h1m15 0h2m5 0h1m-38 1h1m12 0h1m19 0h2m-24 1h2m21 0h2m-32 1h1m7 0h2m21 0h1m-24 1h1m20 0h1m-31 1h1m6 0h1m24 0h1m-25 1h1m22 0h1m-23 1h2m19 0h1m4 0h1m3 0h1m-45 1h1m9 0h1m2 0h2m21 0h1m2 0h1m1 0h1m-27 1h1m16 0h1m-22 1h1m20 0h1m3 0h1m1 0h1m-31 1h1m4 0h1m1 0h1m-15 1h1m12 0h1m20 0h1m1 0h1m1 0h1m-33 1h1m27 0h1m-24 1h3m25 0h1m-32 1h1m1 0h2m20 0h4m6 0h1m-39 1h1m10 0h1m20 0h1m4 0h1m-39 1h1m8 0h2m1 0h1m-14 1h1m4 0h1m2 0h1m3 0h1m18 0h1m-23 1h1m1 0h1m21 0h1m-29 1h1m3 0h3m20 0h1m2 0h1m-2 1h1m-26 1h2m22 0h2m4 0h1m-31 1h1m1 0h1m20 0h1m2 0h1m2 0h1m-29 1h1m21 0h2m2 0h1m-30 1h1m27 0h1m-32 1h2m2 1h1m1 0h2m-2 1h1m22 0h2m1 1h1m-28 1h1m-1 1h1m24 0h2m-1 1h1m-26 1h1m25 0h1m-32 1h1m4 0h1m24 0h1m-27 1h1m25 0h1m-31 1h1m30 0h1m2 0h1m-6 1h1m0 1h1m1 0h2m-35 1h1m2 0h1m26 0h1m6 0h1m-39 1h1m3 0h1m-4 2h1m3 0h3m24 0h1m1 0h1m-28 1h1m24 0h1m-29 1h1m26 0h1m3 0h1m-35 1h1m5 0h1m23 0h1m-25 1h1m25 0h1m-28 1h1m-1 2h1m25 0h1m-25 1h1m-1 1h1m23 0h1m-26 1h2m-3 1h3m22 0h1m0 1h1m1 0h1m-31 1h1m1 0h1m25 0h1m-28 1h1m24 0h1m-23 1h1m-2 1h1m24 0h1m2 0h1m-27 1h1m20 0h2m1 1h1m-26 1h1m1 0h1m18 0h1m2 0h1m-4 1h1m-21 1h1m19 0h3m-21 1h1m18 0h1m-21 2h2m1 0h1m-4 1h2m12 1h1m2 0h1m-16 1h1m3 0h1m3 0h1m8 0h1m-15 1h1m1 0h1m1 0h6m-14 1h2m9 0h3m-17 1h1m4 0h1m4 0h1m3 0h3m-6 1h1m2 1h1m5 0h1m-14 3h2m-9 4h1" stroke="#5a5aff" stroke-opacity="0.65"/><path d="M951 1882.5h2m-2 1h2m-3 1h2m-1 1h3m-4 1h4m1 0h2m-7 1h1m1 0h3m2 0h2m-9 1h4m1 0h1m1 0h1m-9 1h1m1 0h1m1 0h1m1 0h1m2 0h1m-11 1h3m1 0h2m1 0h3m-14 1h2m1 0h1m4 0h1m1 0h5m-15 1h4m8 0h1m1 0h2m-14 1h2m5 0h1m5 0h2m-16 1h2m8 0h2m1 0h1m-15 1h1m1 0h3m6 0h5m-15 1h1m1 0h2m6 0h1m2 0h1m-12 1h2m6 0h3m-12 1h3m-2 1h1m8 0h3m-15 1h5m7 0h1m1 0h1m-15 1h5m8 0h2m-16 1h4m1 0h1m9 0h1m-13 1h1m1 0h2m7 0h2m-14 1h2m1 0h1m7 0h1m1 0h1m-14 1h1m3 0h1m2 0h1m3 0h1m1 0h1m-15 1h3m1 0h1m3 0h1m1 0h2m1 0h4m-17 1h4m4 0h1m1 0h1m1 0h3m1 0h2m-17 1h3m5 0h1m5 0h2m-18 1h2m6 0h3m4 0h1m1 0h2m-19 1h1m1 0h1m5 0h1m4 0h2m1 0h2m-17 1h3m2 0h3m4 0h1m1 0h1m-15 1h7m-8 1h3m3 0h1m6 0h1m4 0h1m-17 1h2m2 0h1m7 0h2m1 0h3m-20 1h1m1 0h3m2 0h1m-8 1h3m2 0h1m1 0h1m7 0h1m1 0h1m-19 1h2m2 0h3m10 0h2m-17 1h1m1 0h1m11 0h2m-15 1h2m11 0h2m-15 1h1m1 0h1m-4 1h1m1 0h2m-5 1h3m13 0h1m-16 1h2m13 0h1m1 0h1m-20 1h3m14 0h4m-22 1h2m16 0h2m1 0h1m-20 1h2m14 0h1m-18 1h2m15 0h2m-18 1h2m-3 1h1m17 0h2m-19 1h1m16 0h3m-20 1h1m16 0h1m-20 1h1m19 0h2m-23 1h3m18 0h3m-23 1h2m-3 1h1m21 0h2m-22 1h1m19 0h2m-22 1h1m19 0h2m-23 1h1m22 0h1m-24 1h1m21 0h1m-24 1h2m21 0h1m-24 1h2m20 0h2m-24 1h1m22 0h1m-24 1h2m20 0h1m-1 1h2m-2 1h2m-22 1h1m20 0h2m-23 1h1m19 1h1m-1 1h1m-22 2h2m21 0h1m-23 1h1m20 0h2m-3 1h3m-23 2h1m19 0h1m-21 1h1m19 0h2m-1 1h1m-22 1h2m18 0h1m-20 1h1m17 0h1m-19 1h2m-1 1h1m0 1h1m14 0h2m-17 1h1m14 0h2m-18 1h3m13 0h1m-16 1h2m12 0h1m-15 1h1m1 0h1m11 0h2m-16 1h3m9 0h2m-13 1h3m6 0h4m-5 1h1m1 0h1m-9 1h1m1 0h5m-5 1h2m-2 1h3" stroke="#2828ff" stroke-opacity="0.8"/><path d="M954 1888.5h1m-7 4h5m-5 1h5m-5 1h6m-5 1h1m1 0h4m-4 1h4m-6 1h6m-6 1h1m1 0h5m-7 1h2m1 0h4m-7 1h4m1 0h1m-5 1h1m1 0h5m-7 1h5m1 0h1m-7 1h2m1 0h4m-5 1h4m-6 1h2m-3 1h3m-4 1h4m-3 1h1m1 0h1m3 0h2m-10 1h1m1 0h2m4 0h2m-10 1h3m3 0h3m-9 1h1m4 0h4m-4 1h4m-5 1h5m-5 1h5m-5 1h3m2 0h2m-6 1h6m-9 1h10m-11 1h4m2 0h4m-10 1h4m1 0h2m-7 1h3m3 0h3m-9 1h2m5 0h3m-11 1h2m1 0h1m4 0h2m1 0h1m-12 1h3m4 0h5m-14 1h5m3 0h3m1 0h2m-14 1h4m1 0h1m1 0h3m1 0h3m-13 1h1m1 0h3m1 0h1m3 0h3m-14 1h2m2 0h3m4 0h3m-14 1h1m12 0h1m-14 1h1m11 0h2m-14 1h1m12 0h2m-16 1h2m-2 1h2m13 0h1m-17 1h2m14 0h2m-17 1h2m13 0h3m-19 1h2m14 0h1m1 0h1m-19 1h2m16 0h1m-19 1h2m15 0h2m-19 1h1m-1 1h1m17 0h1m-20 1h1m18 0h1m-20 1h1m18 0h1m-20 1h2m17 0h1m-20 1h1m18 0h1m-20 1h1m18 0h1m-1 1h1m-1 1h1m-19 1h1m-2 1h2m17 0h1m-20 1h2m17 0h1m-20 1h2m18 0h1m-20 1h1m18 0h1m-1 1h1m-20 1h2m-1 1h1m-2 1h2m16 0h1m-18 1h1m16 0h1m-18 1h1m15 0h2m-18 1h1m15 0h1m-17 1h1m14 1h1m-15 1h1m0 1h1m12 0h1m-14 1h2m10 0h2m-12 1h1m9 0h2m-12 1h2m5 0h2m-9 1h6m1 0h3m-10 1h6m1 0h2m-8 1h6m-5 1h1m1 0h2" stroke="#0d4bff"/><path d="M951 1920.5h3m-3 1h4m-3 1h3m-5 1h3m-3 1h3m0 2h2m-8 1h2m3 0h4m-10 1h1m2 0h1m1 0h3m-8 1h6m3 0h2m-11 1h2m8 0h2m-12 1h2m9 0h1m-12 1h1m10 0h2m-13 1h1m11 0h1m-13 1h1m11 0h1m-14 1h2m11 0h1m-14 1h2m-2 1h2m-3 1h1m14 0h1m-16 1h1m15 0h1m-18 1h2m15 0h1m-17 1h1m15 0h1m-1 1h1m-18 1h1m-1 1h1m16 0h1m-18 1h1m16 0h1m-17 1h1m15 0h1m-17 1h1m-1 1h1m15 0h1m-1 1h1m-17 1h1m-1 1h1m16 0h1m-2 4h1m-16 1h1m14 0h1m-16 1h1m13 0h1m-15 1h1m12 0h1m-14 1h1m12 0h1m-13 1h1m11 0h1m-13 1h1m11 0h1m-12 1h1m9 0h2m-11 1h2m6 0h2m-9 1h9m-8 1h5" stroke="#075cff"/><path d="M952 1929.5h3m-7 1h8m-8 1h3m4 0h2m-10 1h1m8 0h1m-10 1h1m9 0h1m-1 1h1m-11 1h1m9 0h1m0 1h1m-12 1h1m10 0h1m-13 1h2m10 0h1m-14 1h2m11 0h2m-14 1h1m12 0h1m-15 1h1m13 0h1m-16 1h1m14 0h1m-16 1h1m14 0h1m-16 1h1m14 0h1m-16 1h1m14 0h1m-1 1h1m-15 1h1m13 0h1m-15 1h1m13 0h1m-15 1h1m-1 1h1m14 0h1m-16 1h1m14 0h1m-16 1h1m14 0h1m-16 1h1m14 0h1m-16 1h1m-1 1h1m13 1h1m-2 1h1m-13 1h1m10 0h1m-12 1h1m10 0h1m-11 1h1m9 0h1m-11 1h2m7 0h2m-10 1h3m4 0h2m-7 1h5" stroke="#006fff"/><path d="M952 1931.5h3m-7 1h2m1 0h5m-8 1h1m6 0h2m-9 1h1m7 0h1m-9 1h1m7 0h1m-9 1h1m8 0h1m-1 1h1m-10 1h1m8 0h1m-11 1h1m9 0h1m-11 1h1m10 0h1m-13 1h1m11 0h1m-14 1h1m12 0h1m-14 1h1m-1 1h1m-1 1h1m-1 1h1m0 1h1m-1 1h1m12 2h1m-14 1h1m12 0h1m-14 1h1m-1 1h1m12 0h1m-14 1h1m12 0h1m-14 1h1m12 0h1m-14 1h1m11 0h1m-13 1h1m0 1h1m8 0h1m-10 1h1m8 0h1m-9 1h1m7 0h1m-8 1h2m4 0h1m-5 1h4" stroke="#009cf8"/><path d="M950 1932.5h1m-2 1h6m-3 1h4m-7 1h1m2 0h4m-7 1h1m2 0h5m-8 1h1m5 0h2m-1 1h1m-9 1h1m7 0h1m-9 1h1m8 0h1m-11 1h1m9 0h1m-12 1h1m-1 1h1m11 0h1m-1 1h1m-13 1h1m11 0h1m-13 1h1m11 0h1m-1 1h1m-1 1h1m-13 1h1m11 0h1m-13 1h1m12 2h1m-13 1h1m-1 1h1m-1 1h1m10 0h1m-12 1h1m-1 1h1m8 0h1m-9 1h1m6 0h1m-8 1h1m6 0h1m-7 1h1m5 0h1m-5 1h4" stroke="#00c8f1"/><path d="M949 1934.5h3m-2 1h2m-2 1h2m-2 1h5m-6 1h7m-7 1h1m5 0h1m-7 1h1m6 0h1m-9 1h1m7 0h1m-10 1h1m9 0h1m-1 1h1m-12 1h1m0 2h1m-1 1h1m-1 1h1m-1 1h1m10 1h1m-12 1h1m10 0h1m-12 1h1m10 0h1m-1 1h1m-1 1h1m-11 2h1m8 0h1m-10 1h1m6 0h1m-7 1h1m4 0h1m-6 1h6m-5 1h5" stroke="#00d9c6"/><path d="M950 1939.5h5m-5 1h1m4 0h1m-7 1h1m-2 1h1m7 0h1m-10 1h1m-1 1h1m9 0h1m-11 1h1m9 0h1m-1 1h1m-10 1h1m8 0h1m-10 1h1m8 0h1m-1 1h1m-11 1h1m9 0h1m-10 2h1m-1 1h1m-1 1h1m8 0h1m-10 1h1m8 0h1m-9 1h1m5 0h2m-8 1h2m3 0h1m-5 1h4" stroke="#00e291"/><path d="M951 1940.5h4m-5 1h1m4 0h1m-7 1h1m-2 1h1m7 0h1m-9 3h1m-1 3h1m-1 1h1m-1 1h1m8 0h1m-9 1h1m7 0h1m-9 1h1m7 0h1m-9 1h1m6 0h1m-8 1h1m5 0h2m-7 1h1m3 0h1m-4 1h3" stroke="#16e756"/><path d="M951 1941.5h1m2 0h1m0 1h1m-8 2h1m7 0h1m-9 1h1m7 0h1m-1 1h1m-8 1h1m6 0h1m-8 1h1m6 0h1m-8 1h1m6 0h1m-8 1h1m5 0h2m-8 1h1m5 0h2m-1 1h1m-2 1h2m-7 1h1m4 0h1m-6 1h1m3 0h1m-4 1h3" stroke="#40ea18"/><path d="M952 1941.5h2m-4 1h1m-2 1h1m5 0h1m-7 3h1m0 2h1m4 0h1m-6 1h1m4 0h1m-2 1h1m-5 1h1m3 0h1m-5 1h1m3 0h2m-6 1h1m3 0h1m-4 1h1m1 0h2m-4 1h3" stroke="#82ed00"/><path d="M951 1942.5h1m2 0h1m-5 1h1m-2 1h1m5 0h1m-7 1h1m5 0h1m-1 1h1m-6 1h1m4 0h1m-5 2h1m1 0h2m-5 1h4m-3 1h3m-3 1h3m-3 1h3m-2 1h1" stroke="#d3ef00"/><path d="M952 1942.5h2m-3 1h1m2 0h1m-5 1h1m-1 2h1m0 1h1m-1 1h4m-3 1h1" stroke="#f2d400"/><path d="M952 1943.5h2m0 1h1m-5 1h1m3 0h1m-4 1h1m2 0h1m-3 1h3" stroke="#ff9900"/><path d="M951 1944.5h3m-3 1h3m-2 1h2" stroke="#ff3900"/></g>
<rect x="844.0" y="1810.9" width="181.0" height="180.5" fill="none" stroke="#444" stroke-width="1.2"/>
<path d="M841.0 1929.2h3M841.0 1923.2h3M841.0 1918.9h3M841.0 1915.6h3M841.0 1912.8h3M841.0 1910.5h3M841.0 1908.5h3M841.0 1906.8h3M841.0 1896.1h3M841.0 1890.7h3M841.0 1887.0h3M841.0 1884.0h3M841.0 1881.6h3M841.0 1879.6h3M841.0 1877.8h3M841.0 1876.3h3M841.0 1866.2h3M841.0 1861.1h3M841.0 1857.4h3M841.0 1854.6h3M841.0 1852.3h3M841.0 1850.4h3M841.0 1848.7h3M841.0 1847.2h3M841.0 1837.1h3M841.0 1832.0h3M841.0 1828.3h3M841.0 1825.5h3M841.0 1823.2h3M841.0 1821.2h3M841.0 1819.5h3M841.0 1818.0h3M841.0 1943.9h3M841.0 1947.9h3M841.0 1951.4h3M841.0 1954.4h3M841.0 1956.9h3M841.0 1958.9h3M841.0 1960.4h3M841.0 1963.4h3M841.0 1964.9h3M841.0 1966.9h3M841.0 1969.4h3M841.0 1972.4h3M841.0 1975.9h3M841.0 1979.4h3M841.0 1986.9h3M841.0 1989.9h3M839.0 1816.7h5M839.0 1845.9h5M839.0 1874.9h5M839.0 1905.2h5M839.0 1939.6h5M839.0 1961.9h5M839.0 1982.9h5M904.1 1991.4v3M910.4 1991.4v3M914.9 1991.4v3M918.3 1991.4v3M921.2 1991.4v3M923.6 1991.4v3M925.6 1991.4v3M927.5 1991.4v3M938.0 1991.4v3M943.2 1991.4v3M946.9 1991.4v3M949.7 1991.4v3M952.1 1991.4v3M954.0 1991.4v3M955.7 1991.4v3M957.3 1991.4v3M967.5 1991.4v3M972.7 1991.4v3M976.4 1991.4v3M979.2 1991.4v3M981.6 1991.4v3M983.5 1991.4v3M985.2 1991.4v3M986.8 1991.4v3M996.8 1991.4v3M1001.9 1991.4v3M1005.5 1991.4v3M1008.3 1991.4v3M1010.6 1991.4v3M1012.5 1991.4v3M1014.2 1991.4v3M1015.7 1991.4v3M854.5 1991.4v3M857.5 1991.4v3M860.0 1991.4v3M862.5 1991.4v3M864.5 1991.4v3M866.5 1991.4v3M868.5 1991.4v3M870.0 1991.4v3M873.0 1991.4v3M875.0 1991.4v3M877.0 1991.4v3M879.0 1991.4v3M881.5 1991.4v3M884.0 1991.4v3M887.0 1991.4v3M890.0 1991.4v3M851.0 1991.4v5M893.3 1991.4v5M929.1 1991.4v5M958.6 1991.4v5M988.1 1991.4v5M1017.0 1991.4v5M871.5 1991.4v5" stroke="#000" stroke-width="1" fill="none"/>
<rect x="867.5" y="1991.4" width="8" height="3.2" fill="#000"/>
<rect x="840.8" y="1957.9" width="3.2" height="7.5" fill="#000"/>
<text x="814.8" y="1853.9" font-size="12.6" fill="#111" stroke="#111" stroke-width="0.45">10</text>
<text x="828.6" y="1846.1" font-size="11.2" fill="#111" stroke="#111" stroke-width="0.45">6</text>
<text x="814.8" y="1882.9" font-size="12.6" fill="#111" stroke="#111" stroke-width="0.45">10</text>
<text x="828.6" y="1875.1" font-size="11.2" fill="#111" stroke="#111" stroke-width="0.45">5</text>
<text x="814.8" y="1913.2" font-size="12.6" fill="#111" stroke="#111" stroke-width="0.45">10</text>
<text x="828.6" y="1905.4" font-size="11.2" fill="#111" stroke="#111" stroke-width="0.45">4</text>
<text x="814.8" y="1947.6" font-size="12.6" fill="#111" stroke="#111" stroke-width="0.45">10</text>
<text x="828.6" y="1939.8" font-size="11.2" fill="#111" stroke="#111" stroke-width="0.45">3</text>
<text x="825.0" y="1966.9" font-size="12.6" text-anchor="middle" fill="#111" stroke="#111" stroke-width="0.45">0</text>
<text x="874.5" y="2013.5" font-size="12.6" text-anchor="middle" fill="#111" stroke="#111" stroke-width="0.45">0</text>
<text x="926.5" y="2013.5" font-size="12.6" fill="#111" stroke="#111" stroke-width="0.45">10</text>
<text x="940.1" y="2004.2" font-size="11.2" fill="#111" stroke="#111" stroke-width="0.45">4</text>
<text x="956.0" y="2013.5" font-size="12.6" fill="#111" stroke="#111" stroke-width="0.45">10</text>
<text x="969.6" y="2004.2" font-size="11.2" fill="#111" stroke="#111" stroke-width="0.45">5</text>
<text x="985.5" y="2013.5" font-size="12.6" fill="#111" stroke="#111" stroke-width="0.45">10</text>
<text x="999.1" y="2004.2" font-size="11.2" fill="#111" stroke="#111" stroke-width="0.45">6</text>
<rect x="913.8" y="1829.9" width="83.5" height="104.6" fill="none" stroke="#222" stroke-width="1.1"/>
<text x="954.5" y="1854.9" font-size="12.4" text-anchor="middle" stroke="#000" stroke-width="0.45">32.7</text>
<g fill="none" stroke-width="1"><path d="M284 2121.5h1m-24 2h1m11 5h1m-15 2h1m13 0h1m3 0h1m9 1h1m-23 1h1m-13 1h1m16 0h1m10 0h1m1 0h1m-20 1h1m3 0h1m17 0h1m-27 1h1m21 0h1m-12 1h1m-2 1h1m11 0h1m5 0h1m-20 1h1m4 0h1m9 0h1m-32 1h1m6 0h1m20 0h2m3 0h1m1 0h1m-16 1h1m11 0h1m-10 1h1m4 0h1m6 0h1m-25 1h1m11 0h1m-13 1h1m4 0h1m2 0h1m7 0h1m-26 1h1m2 0h1m7 0h2m11 0h1m4 0h1m-16 1h1m20 0h1m-40 1h1m7 1h1m16 0h1m1 0h1m-6 1h1m9 0h2m-24 1h1m4 0h1m6 0h1m2 0h1m6 0h1m-13 1h1m12 0h1m-24 1h1m2 0h1m5 0h1m12 0h1m-25 1h1m5 0h1m6 0h1m6 0h1m10 0h1m-26 1h1m2 0h1m1 0h1m2 0h1m2 0h2m2 0h1m6 0h1m11 0h1m-36 1h1m12 0h1m1 0h1m-10 1h2m5 0h1m13 0h1m-31 1h2m7 0h1m2 0h1m13 0h2m-29 1h1m6 0h1m8 0h1m12 0h1m-15 1h1m3 0h2m-19 1h1m1 0h1m3 0h1m1 0h1m9 0h1m6 0h1m1 0h1m-37 1h1m9 0h1m6 0h1m3 0h3m-18 1h1m5 0h1m6 0h1m5 0h1m8 0h1m-26 1h1m6 0h1m6 0h2m5 0h1m5 0h1m-23 1h2m2 0h1m7 0h1m1 0h2m1 0h1m19 0h1m-43 1h1m1 0h2m10 0h1m5 0h2m-31 1h1m4 0h1m1 0h1m8 0h1m3 0h1m3 0h2m-23 1h1m8 0h2m3 0h1m9 0h1m5 0h2m-22 1h1m14 0h1m-17 1h1m3 0h1m7 0h1m-18 1h1m4 0h1m8 0h1m-19 1h1m1 0h1m8 0h3m2 0h1m1 0h1m3 0h1m14 1h1m-31 1h1m3 0h2m10 0h2m1 0h1m2 0h1m-23 1h1m5 0h1m3 0h1m10 0h1m-14 1h1m5 0h1m1 0h1m8 0h1m-30 1h1m13 0h4m8 0h1m-20 1h1m3 0h1m3 0h1m2 0h1m3 0h1m11 0h1m-31 1h2m2 0h1m1 0h3m1 0h1m7 0h1m3 0h1m3 0h1m2 0h1m-41 1h1m3 0h1m4 0h1m8 0h1m11 0h1m2 0h1m-39 1h1m27 0h1m4 0h1m13 0h1m4 0h1m-36 1h1m2 0h1m3 0h1m4 0h1m5 0h2m4 0h1m11 0h1m-36 1h2m4 0h1m2 0h1m7 0h1m11 0h1m-33 1h1m2 0h1m8 0h1m4 0h1m1 0h2m1 0h1m3 0h1m4 0h1m-22 1h3m1 0h2m3 0h1m3 0h2m12 0h1m-40 1h1m11 0h1m4 0h2m3 0h2m-19 1h1m2 0h1m5 0h1m4 0h2m3 0h1m1 0h2m-22 1h3m2 0h1m15 0h1m0 1h2m-38 1h1m11 0h1m6 0h1m19 0h1m4 0h1m-39 1h1m6 0h1m2 0h2m-6 1h1m3 0h1m19 0h2m8 0h1m-30 1h1m19 0h1m-30 1h1m4 0h1m3 0h1m18 0h3m1 0h1m12 0h1m-39 1h1m1 0h1m-14 1h1m13 0h1m22 0h1m-42 1h1m2 0h1m10 0h2m1 0h1m21 0h1m8 0h1m-47 1h1m2 0h1m8 0h1m2 0h2m19 0h1m-44 1h1m12 0h1m7 0h1m20 0h1m2 0h2m-42 1h1m1 0h1m8 0h1m2 0h1m2 0h1m20 0h1m12 0h1m-47 1h1m6 0h1m2 0h1m1 0h1m20 0h1m-43 1h1m7 0h2m1 0h3m3 0h1m3 0h1m21 0h1m-58 1h1m22 0h1m1 0h1m2 0h1m1 0h1m4 0h1m-18 1h1m3 0h1m7 0h2m2 0h1m21 0h2m-41 1h1m5 0h2m3 0h1m1 0h1m2 0h1m-20 1h1m7 0h2m1 0h1m3 0h2m3 0h1m-12 1h1m1 0h1m1 0h1m1 0h1m1 0h2m-19 1h1m5 0h1m3 0h3m2 0h1m26 0h1m-52 1h1m13 0h1m1 0h2m3 0h1m1 0h1m28 0h1m-37 1h3m1 0h2m29 0h1m-32 1h2m-7 1h1m1 0h1m3 0h1m1 0h2m25 0h1m-41 1h1m4 0h1m3 0h1m2 0h2m-9 1h2m1 0h2m1 0h1m4 0h1m25 0h1m-42 1h2m7 0h4m1 0h2m2 0h1m20 0h1m-46 1h1m5 0h4m4 0h2m2 0h2m2 0h1m24 0h1m-39 1h1m7 0h1m1 0h1m1 0h2m-18 1h1m3 0h2m1 0h4m1 0h1m1 0h1m1 0h1m24 0h1m-44 1h1m4 0h1m1 0h1m2 0h1m1 0h1m3 0h2m1 0h1m1 0h1m-13 1h2m4 0h1m3 0h2m2 0h1m-12 1h1m1 0h1m2 0h3m22 0h2m-31 1h3m4 0h1m21 0h1m1 0h1m-42 1h1m7 0h1m2 0h1m2 0h1m1 0h1m21 0h2m-35 1h1m1 0h1m7 0h1m2 0h2m1 0h1m16 0h1m-39 1h1m8 0h4m1 0h2m3 0h2m17 0h1m-34 1h1m7 0h1m1 0h1m3 0h1m18 0h2m-38 1h1m6 0h1m3 0h1m6 0h2m14 0h1m-18 1h1m2 0h1m2 0h1m8 0h1m1 0h2m-30 1h2m1 1h1m5 0h1m2 0h1m5 0h1m6 0h1m4 0h1m-39 1h1m8 0h1m4 0h1m5 0h1m3 0h1m4 0h1m3 0h1m-12 1h1m2 0h2m3 0h1m4 0h1m1 0h1m-18 1h2m5 0h1m1 0h1m1 0h1m-30 1h1m24 0h2m7 0h2m-28 1h1m7 0h1m7 0h1m5 0h1m2 0h1m-4 1h1m2 0h1m-7 1h1m1 0h2m-1 1h1m-7 3h1m-4 1h1m4 0h1m4 0h1" stroke="#5a5aff" stroke-opacity="0.65"/><path d="M281 2185.5h1m1 0h1m-10 1h6m1 0h1m2 0h1m1 0h1m-13 1h1m4 0h2m4 0h3m-15 1h1m11 0h1m1 0h1m-17 1h3m12 0h2m-17 1h3m12 0h2m-17 1h1m-1 1h1m14 0h1m-16 1h2m13 0h1m-16 1h1m16 0h1m-18 1h1m15 0h2m-2 1h1m-16 1h1m14 0h1m1 1h1m-1 1h1m-19 2h1m17 0h1m-19 1h1m-1 1h1m17 0h1m-21 1h1m19 0h1m-22 1h1m1 0h1m-6 1h3m1 0h2m18 0h1m-26 1h7m18 0h2m-27 1h1m4 0h3m-7 1h1m1 0h1m3 0h1m-8 1h1m1 0h2m1 0h2m-6 1h2m1 0h2m1 0h1m16 0h1m-19 1h1m-2 1h2m-2 1h3m16 0h1m-21 1h3m17 0h1m-23 1h1m1 0h1m1 0h2m16 0h2m-20 1h1m1 0h1m15 0h2m-3 1h2m-18 1h1m-1 1h3m12 0h3m-3 1h1m-14 1h1m12 0h1m-13 1h1m10 0h3m-16 1h1m1 0h3m9 0h1m-13 1h3m7 0h1m-9 1h4m1 0h1m-5 1h7m-6 1h1" stroke="#2828ff" stroke-opacity="0.8"/><path d="M276 2187.5h2m4 0h2m-9 1h3m1 0h6m-10 1h2m1 0h2m4 0h2m-12 1h2m9 0h1m-13 1h2m11 0h1m-14 1h2m10 0h1m-13 1h2m10 0h1m-13 1h1m11 0h2m-14 1h1m12 0h1m-14 1h1m12 0h1m-1 1h1m-15 1h1m-1 1h1m14 0h1m-16 1h1m14 0h1m-16 1h1m15 0h1m-1 1h1m-1 1h1m-18 1h1m16 0h1m-18 1h1m-1 1h1m16 0h1m-1 1h1m-17 1h1m15 0h1m-1 1h1m-17 1h1m-1 3h1m-1 1h1m14 1h1m-16 1h2m13 0h1m-15 1h1m13 0h1m-15 2h1m12 0h1m-13 1h1m-1 1h2m9 0h1m-10 1h1m7 0h1m-9 1h2m-1 1h2m4 0h1m-7 1h2m1 0h3" stroke="#0d4bff"/><path d="M277 2189.5h1m2 0h4m-8 1h9m-10 1h2m6 0h2m-10 1h1m8 0h1m-1 1h1m-11 1h1m9 0h1m-11 1h1m10 0h1m-1 1h1m-13 1h1m11 0h1m0 1h1m-14 1h1m12 0h1m0 2h1m-1 1h1m-1 1h1m-16 1h1m14 0h1m-16 1h1m14 0h1m-16 1h1m14 0h1m-1 1h1m-15 1h1m13 0h1m-15 1h1m13 0h1m-15 1h1m13 0h1m-15 1h1m13 0h1m-1 1h1m-1 1h1m-15 1h1m-1 1h1m12 1h1m-13 1h1m11 0h1m-13 1h1m10 0h1m-12 1h1m10 0h1m-11 1h1m8 0h1m-9 1h1m7 0h1m-8 1h1m5 0h1m-6 1h1m4 0h1m-5 1h3" stroke="#075cff"/><path d="M277 2191.5h3m1 0h2m-7 1h4m1 0h3m-8 1h2m4 0h2m-9 1h2m6 0h1m-9 1h1m7 0h2m-11 1h1m9 0h1m-11 1h1m9 0h1m-11 1h1m10 0h1m-13 2h1m12 0h1m-14 1h1m12 0h1m-14 1h1m-1 1h1m-1 1h1m-1 1h1m-1 1h1m0 6h1m-1 1h1m11 0h1m-13 1h1m11 0h1m-13 1h1m11 0h1m-13 1h1m0 1h1m9 0h1m-11 1h1m-1 1h1m8 0h1m-9 1h1m6 0h1m-7 1h1m5 0h1m-6 1h1m0 1h4" stroke="#006fff"/><path d="M280 2192.5h1m-3 1h3m-4 1h6m-7 1h1m1 0h1m3 0h1m-8 1h2m6 0h1m-9 1h1m7 0h1m-9 1h1m8 0h1m-11 1h1m10 0h1m-12 1h1m11 2h1m-1 1h1m-1 1h1m-1 1h1m-13 1h1m11 0h1m-13 1h1m11 0h1m-13 1h1m11 0h1m-13 1h1m11 0h1m-13 1h1m11 0h1m-13 1h1m11 0h1m-1 1h1m-12 3h1m-1 1h1m9 0h1m-10 1h1m-1 1h1m7 0h1m-9 1h2m5 0h1m-7 1h1m0 1h2m2 0h1m-4 1h4" stroke="#009cf8"/><path d="M279 2195.5h3m-5 1h2m2 0h2m-7 1h2m4 0h1m-7 1h1m6 0h1m-9 1h1m8 0h1m0 1h1m-12 1h1m10 0h1m-12 2h1m-1 1h1m-1 1h1m10 1h1m-1 1h1m-1 1h1m-11 5h1m9 0h1m-11 1h1m9 0h1m-10 1h1m8 0h1m-10 1h1m0 1h1m6 0h1m-8 1h1m5 0h1m-6 1h1m3 0h1m-5 1h2m2 0h1m-3 1h2" stroke="#00c8f1"/><path d="M279 2196.5h2m-3 1h1m2 0h1m-5 1h1m-2 1h1m-2 2h1m9 1h1m-1 1h1m-11 1h1m9 0h1m-11 1h1m9 0h1m-11 1h1m-1 1h1m-1 1h1m-1 1h1m9 0h1m-11 1h1m9 0h1m-11 1h1m9 0h1m-11 1h1m9 0h1m-10 2h1m0 2h1m6 0h1m-7 1h1m-1 1h2m2 0h1m-4 1h1m1 0h1m-2 1h2" stroke="#00d9c6"/><path d="M279 2197.5h2m-3 1h1m3 0h1m-6 1h1m5 0h1m-8 1h1m7 0h1m-10 2h1m-1 1h1m0 10h1m7 0h1m-1 1h1m-8 1h1m6 0h1m-7 1h1m0 1h1m3 0h1m-4 1h2m-2 1h1" stroke="#00e291"/><path d="M279 2198.5h3m-4 1h1m3 0h1m-6 1h1m-2 1h1m7 0h1m-9 1h1m7 0h1m-9 1h1m7 0h1m-9 1h1m7 0h1m-9 1h1m7 0h1m-9 1h1m7 0h1m-9 1h1m7 0h1m-1 1h1m-1 1h1m-1 1h1m-9 1h1m7 0h1m-9 1h1m7 0h1m-8 2h1m0 1h1m0 1h1m3 0h1m-4 1h3" stroke="#16e756"/><path d="M279 2199.5h1m1 0h1m1 1h1m-7 1h1m-1 2h1m-1 1h1m-1 1h1m-1 1h1m-2 2h1m-1 1h1m-1 1h1m0 2h1m-1 1h1m5 0h1m-6 1h1m4 0h1m-1 1h1m-4 1h3" stroke="#40ea18"/><path d="M280 2199.5h1m-3 1h1m3 0h1m0 1h1m-7 1h1m5 0h1m-1 1h1m-6 1h1m4 0h1m-6 1h1m4 0h1m-1 1h1m-7 1h1m5 0h1m-1 1h1m-1 1h1m-1 1h1m-7 1h1m5 0h1m-1 1h1m-6 1h1m0 2h2m1 0h1" stroke="#82ed00"/><path d="M279 2200.5h3m-4 1h1m-1 1h1m-1 1h1m0 1h1m2 0h1m-4 1h1m2 0h1m-5 1h1m3 0h1m-6 2h1m-1 1h1m-1 1h1m0 2h1m3 0h1m-4 1h1m2 0h1m-4 1h2m1 0h1m-2 1h1" stroke="#d3ef00"/><path d="M279 2201.5h1m2 0h1m-4 1h1m2 0h1m-4 1h1m2 0h1m-3 1h2m-2 1h2m-3 1h3m-4 1h1m3 0h1m-1 1h1m-1 1h1m-1 1h1m-5 1h1m3 0h1m-4 1h1m0 1h2m-1 1h1" stroke="#f2d400"/><path d="M280 2201.5h2m-2 1h2m-2 1h2m-3 4h3m-4 1h1m2 0h1m-4 1h1m-1 1h1m0 1h1m1 0h1m-2 1h2" stroke="#ff9900"/><path d="M279 2208.5h2m-2 1h3m-3 1h3m-2 1h1" stroke="#ff3900"/></g>
<rect x="155.6" y="2063.9" width="181.0" height="180.5" fill="none" stroke="#444" stroke-width="1.2"/>
<path d="M152.6 2182.2h3M152.6 2176.2h3M152.6 2171.9h3M152.6 2168.6h3M152.6 2165.8h3M152.6 2163.5h3M152.6 2161.5h3M152.6 2159.8h3M152.6 2149.1h3M152.6 2143.7h3M152.6 2140.0h3M152.6 2137.0h3M152.6 2134.6h3M152.6 2132.6h3M152.6 2130.8h3M152.6 2129.3h3M152.6 2119.2h3M152.6 2114.1h3M152.6 2110.4h3M152.6 2107.6h3M152.6 2105.3h3M152.6 2103.4h3M152.6 2101.7h3M152.6 2100.2h3M152.6 2090.1h3M152.6 2085.0h3M152.6 2081.3h3M152.6 2078.5h3M152.6 2076.2h3M152.6 2074.2h3M152.6 2072.5h3M152.6 2071.0h3M152.6 2196.9h3M152.6 2200.9h3M152.6 2204.4h3M152.6 2207.4h3M152.6 2209.9h3M152.6 2211.9h3M152.6 2213.4h3M152.6 2216.4h3M152.6 2217.9h3M152.6 2219.9h3M152.6 2222.4h3M152.6 2225.4h3M152.6 2228.9h3M152.6 2232.4h3M152.6 2239.9h3M152.6 2242.9h3M150.6 2069.7h5M150.6 2098.9h5M150.6 2127.9h5M150.6 2158.2h5M150.6 2192.6h5M150.6 2214.9h5M150.6 2235.9h5M215.7 2244.4v3M222.0 2244.4v3M226.5 2244.4v3M229.9 2244.4v3M232.8 2244.4v3M235.2 2244.4v3M237.2 2244.4v3M239.1 2244.4v3M249.6 2244.4v3M254.8 2244.4v3M258.5 2244.4v3M261.3 2244.4v3M263.7 2244.4v3M265.6 2244.4v3M267.3 2244.4v3M268.9 2244.4v3M279.1 2244.4v3M284.3 2244.4v3M288.0 2244.4v3M290.8 2244.4v3M293.2 2244.4v3M295.1 2244.4v3M296.8 2244.4v3M298.4 2244.4v3M308.4 2244.4v3M313.5 2244.4v3M317.1 2244.4v3M319.9 2244.4v3M322.2 2244.4v3M324.1 2244.4v3M325.8 2244.4v3M327.3 2244.4v3M166.1 2244.4v3M169.1 2244.4v3M171.6 2244.4v3M174.1 2244.4v3M176.1 2244.4v3M178.1 2244.4v3M180.1 2244.4v3M181.6 2244.4v3M184.6 2244.4v3M186.6 2244.4v3M188.6 2244.4v3M190.6 2244.4v3M193.1 2244.4v3M195.6 2244.4v3M198.6 2244.4v3M201.6 2244.4v3M162.6 2244.4v5M204.9 2244.4v5M240.7 2244.4v5M270.2 2244.4v5M299.7 2244.4v5M328.6 2244.4v5M183.1 2244.4v5" stroke="#000" stroke-width="1" fill="none"/>
<rect x="179.1" y="2244.4" width="8" height="3.2" fill="#000"/>
<rect x="152.4" y="2210.9" width="3.2" height="7.5" fill="#000"/>
<text x="126.4" y="2106.9" font-size="12.6" fill="#111" stroke="#111" stroke-width="0.45">10</text>
<text x="140.2" y="2099.1" font-size="11.2" fill="#111" stroke="#111" stroke-width="0.45">6</text>
<text x="126.4" y="2135.9" font-size="12.6" fill="#111" stroke="#111" stroke-width="0.45">10</text>
<text x="140.2" y="2128.1" font-size="11.2" fill="#111" stroke="#111" stroke-width="0.45">5</text>
<text x="126.4" y="2166.2" font-size="12.6" fill="#111" stroke="#111" stroke-width="0.45">10</text>
<text x="140.2" y="2158.4" font-size="11.2" fill="#111" stroke="#111" stroke-width="0.45">4</text>
<text x="126.4" y="2200.6" font-size="12.6" fill="#111" stroke="#111" stroke-width="0.45">10</text>
<text x="140.2" y="2192.8" font-size="11.2" fill="#111" stroke="#111" stroke-width="0.45">3</text>
<text x="136.6" y="2219.9" font-size="12.6" text-anchor="middle" fill="#111" stroke="#111" stroke-width="0.45">0</text>
<text x="186.1" y="2266.5" font-size="12.6" text-anchor="middle" fill="#111" stroke="#111" stroke-width="0.45">0</text>
<text x="238.1" y="2266.5" font-size="12.6" fill="#111" stroke="#111" stroke-width="0.45">10</text>
<text x="251.7" y="2257.2" font-size="11.2" fill="#111" stroke="#111" stroke-width="0.45">4</text>
<text x="267.6" y="2266.5" font-size="12.6" fill="#111" stroke="#111" stroke-width="0.45">10</text>
<text x="281.2" y="2257.2" font-size="11.2" fill="#111" stroke="#111" stroke-width="0.45">5</text>
<text x="297.1" y="2266.5" font-size="12.6" fill="#111" stroke="#111" stroke-width="0.45">10</text>
<text x="310.7" y="2257.2" font-size="11.2" fill="#111" stroke="#111" stroke-width="0.45">6</text>
<rect x="228.7" y="2102.2" width="102.1" height="94.3" fill="none" stroke="#222" stroke-width="1.1"/>
<text x="280.3" y="2121.9" font-size="12.4" text-anchor="middle" stroke="#000" stroke-width="0.45">9.29</text>
<g fill="none" stroke-width="1"><path d="M487 2127.5h1m1 1h1m22 0h1m10 0h1m-44 2h1m29 0h1m-19 1h1m19 0h1m-13 1h1m0 1h1m-10 1h1m6 1h1m-12 1h2m12 0h1m1 0h2m-3 1h1m3 0h1m5 0h1m-43 1h1m8 0h1m19 0h1m1 0h1m19 0h1m-52 1h1m26 0h1m8 0h1m1 0h1m-31 1h1m7 0h1m11 0h1m6 0h1m-16 1h1m22 0h1m-23 1h2m10 0h1m4 0h1m-11 1h2m7 0h1m-19 1h1m9 0h1m3 0h1m5 0h1m12 0h1m-38 1h1m20 0h1m7 0h1m-13 1h1m2 0h2m5 0h1m-13 1h1m-11 1h1m3 0h1m3 0h2m5 0h1m-16 1h1m3 0h1m4 0h1m3 0h1m5 0h1m-30 1h1m1 0h1m2 0h1m2 0h1m2 0h1m1 0h2m4 0h1m1 0h1m-12 1h2m11 0h1m3 0h1m-7 1h1m12 0h1m-41 1h1m11 0h1m1 0h1m5 0h2m1 0h1m2 0h2m1 0h1m-17 1h1m4 0h1m4 0h1m5 0h2m6 0h1m-25 1h1m1 0h2m5 0h1m5 0h1m13 0h1m-40 1h1m4 0h1m4 0h1m12 0h1m1 0h1m2 0h2m4 0h1m4 0h2m-22 1h1m3 0h2m3 0h1m5 0h1m6 0h1m-26 1h1m7 0h1m3 0h1m1 0h1m1 0h1m2 0h1m-28 1h1m5 0h3m1 0h2m6 0h1m4 0h1m1 0h2m1 0h1m6 0h1m-29 1h1m4 0h1m2 0h1m1 0h1m9 0h2m7 0h1m-18 1h1m4 0h1m4 0h2m-28 1h1m14 0h1m1 0h1m2 0h1m-21 1h1m2 0h1m2 0h1m3 0h1m3 0h1m1 0h1m2 0h2m-20 1h1m2 0h2m4 0h1m1 0h2m5 0h2m10 0h1m-18 1h1m-20 1h1m9 0h1m1 0h1m5 0h1m10 0h1m-21 1h1m2 0h1m2 0h1m4 0h1m2 0h1m-17 1h1m2 0h1m4 0h1m-7 1h1m16 0h1m1 0h2m3 0h1m-35 1h1m21 0h1m8 0h1m4 0h1m-24 1h1m3 0h2m4 0h1m-20 1h1m3 0h1m1 0h1m2 0h3m3 0h1m6 0h1m4 0h1m-27 1h1m8 0h2m2 0h2m2 0h1m-14 1h1m2 0h1m9 0h3m15 0h1m-35 1h1m4 0h1m1 0h1m26 0h1m-29 1h1m4 0h1m5 0h2m6 0h1m-29 1h1m15 0h1m7 0h1m-24 1h1m13 0h1m1 0h2m1 0h1m4 0h1m-28 1h1m5 0h1m6 0h1m1 0h2m1 0h1m1 0h5m1 0h1m7 0h2m4 0h1m-28 1h2m1 0h1m2 0h1m1 0h4m-25 1h1m2 0h1m2 0h1m9 0h1m2 0h1m4 0h1m2 0h2m13 0h1m4 0h1m-39 1h1m1 0h1m1 0h1m4 0h1m3 0h1m2 0h1m4 0h1m2 0h1m1 0h1m4 0h1m-43 1h1m5 0h1m6 0h1m2 0h6m1 0h1m8 0h2m-25 1h1m7 0h1m3 0h1m8 0h1m4 0h1m-35 1h1m13 0h1m1 0h1m14 0h2m2 0h1m-40 1h1m9 0h1m3 0h1m3 0h3m14 0h2m7 0h1m7 0h1m-45 1h1m5 0h1m2 0h1m18 0h1m1 0h1m7 0h1m-34 1h1m3 0h4m14 0h1m3 0h2m1 0h1m-29 1h4m17 0h2m2 0h1m4 0h1m-35 1h1m3 0h1m3 0h1m18 0h1m10 0h1m-32 1h1m19 0h4m1 0h1m-32 1h1m2 0h2m2 0h1m19 0h1m2 0h2m-41 1h1m10 0h1m1 0h1m2 0h1m-10 1h1m6 0h1m22 0h2m-42 1h1m8 0h1m5 0h1m2 0h1m21 0h1m-47 1h1m22 0h1m23 0h1m1 0h1m-30 1h1m3 0h1m-22 1h1m5 0h2m35 0h2m-40 1h1m5 0h2m2 0h2m-13 1h1m4 0h1m2 0h1m3 0h1m1 0h1m1 0h1m-18 1h1m10 0h1m2 0h1m1 0h1m23 0h1m-39 1h1m6 0h3m1 0h1m1 0h2m1 0h1m-13 1h1m4 0h2m3 0h1m22 0h1m-43 1h1m6 0h1m3 0h1m1 0h1m2 0h2m1 0h1m22 0h1m3 0h1m-42 1h1m5 0h2m2 0h1m2 0h1m1 0h1m21 0h2m1 0h1m-50 1h1m4 0h1m1 0h1m3 0h4m1 0h1m2 0h1m2 0h1m23 0h1m4 0h1m-48 1h2m2 0h2m9 0h1m1 0h2m23 0h1m-43 1h1m5 0h1m1 0h4m1 0h1m4 0h1m-37 1h1m13 0h1m1 0h1m7 0h2m1 0h2m2 0h3m27 0h1m-45 1h1m2 0h1m2 0h1m4 0h1m1 0h3m1 0h1m3 0h1m22 0h1m-45 1h1m1 0h1m4 0h3m2 0h2m1 0h1m1 0h3m23 0h1m-48 1h1m7 0h1m1 0h2m4 0h1m2 0h3m1 0h1m24 0h1m4 0h1m-43 1h1m1 0h1m3 0h1m2 0h2m1 0h2m22 0h1m-47 1h1m16 0h1m2 0h1m1 0h1m-10 1h1m1 0h2m1 0h1m1 0h2m1 0h2m21 0h1m-32 1h1m2 0h1m1 0h1m1 0h3m20 0h1m-33 1h1m1 0h1m1 0h1m1 0h3m23 0h1m-33 1h1m4 0h3m4 0h1m19 0h1m-37 1h1m1 0h1m3 0h3m4 0h1m2 0h2m17 0h1m-39 1h1m4 0h1m6 0h1m2 0h2m1 0h1m1 0h1m-12 1h2m2 0h1m1 0h2m4 0h3m-12 1h1m2 0h1m8 0h1m13 0h3m-39 1h1m17 0h4m13 0h1m-33 1h1m4 0h1m11 0h1m3 0h1m-3 1h2m10 0h1m-30 1h1m6 0h1m1 0h1m9 0h1m1 0h1m5 0h1m1 0h1m3 0h1m-41 1h1m1 0h1m1 0h1m16 0h1m4 0h2m5 0h1m6 0h1m-37 1h1m13 0h1m7 0h1m2 0h1m2 0h1m3 0h1m1 0h1m-36 1h1m20 0h1m2 0h1m1 0h3m-29 1h1m20 0h1m4 0h3m-5 1h1m2 0h1m1 0h2m-7 1h1m-19 1h1m19 1h2m-3 1h1m-3 2h1m7 0h1m-10 1h1" stroke="#5a5aff" stroke-opacity="0.65"/><path d="M508 2182.5h1m-2 1h3m-10 1h1m1 0h1m2 0h1m1 0h2m2 0h1m-12 1h3m1 0h1m1 0h1m3 0h2m-12 1h5m6 0h2m-11 1h1m8 0h2m-13 1h2m11 0h1m-14 1h1m11 0h1m-14 1h2m11 0h2m-15 1h1m13 0h2m-16 1h1m13 0h2m-16 1h1m14 0h3m-19 1h1m16 0h3m-21 1h1m1 0h1m15 0h3m-21 1h1m17 0h1m-19 1h2m17 0h1m-20 1h1m18 0h1m-20 1h1m18 0h2m-22 1h1m1 0h1m17 0h1m-21 1h2m18 0h1m-19 1h1m17 0h1m-20 1h1m-1 1h2m-2 1h1m-2 1h1m1 0h2m16 0h1m-23 1h5m-5 1h4m1 0h2m-5 1h4m-3 1h2m1 0h1m15 0h1m-21 1h4m-5 1h5m16 0h1m-22 1h1m19 0h1m-20 1h1m18 0h1m-20 1h1m1 0h1m16 0h1m-20 1h2m-1 1h1m1 0h1m15 0h1m-19 1h2m16 0h1m-16 1h1m-1 1h2m11 0h2m-14 1h2m11 0h1m-11 1h1m8 0h1m-11 1h3m6 0h1m-8 1h3m3 0h2m-8 1h6m-4 1h1m-1 1h3m-2 1h1" stroke="#2828ff" stroke-opacity="0.8"/><path d="M508 2185.5h2m-4 1h5m-7 1h2m4 0h1m-9 1h2m6 0h2m-11 1h2m8 0h1m-11 1h1m9 0h1m-11 1h1m10 0h1m-13 1h2m10 0h1m-13 1h1m12 0h1m-14 1h1m12 0h2m-15 1h1m-2 1h2m-2 1h2m13 0h2m-17 1h1m15 0h1m-17 1h1m-1 1h1m15 0h1m-17 1h1m15 0h1m-17 1h1m15 0h1m-17 1h1m15 1h1m-17 1h2m14 0h1m-16 1h1m14 0h1m-1 1h1m-1 1h1m-15 1h1m13 0h1m-15 1h1m13 0h1m-15 1h1m13 0h1m-16 1h2m13 0h1m-17 1h1m14 0h1m-16 1h2m13 0h1m-16 1h2m13 0h1m-15 1h1m13 0h1m-15 1h2m12 0h1m-14 1h1m11 0h1m-12 1h1m10 0h1m-12 1h1m9 0h1m-10 1h2m7 0h1m-8 1h2m4 0h2m-5 1h3m-3 1h3" stroke="#0d4bff"/><path d="M506 2187.5h4m-6 1h6m-7 1h2m4 0h2m-9 1h2m6 0h1m-9 1h1m-1 1h1m8 0h1m-11 1h1m10 0h1m-12 1h1m10 0h1m-12 1h1m11 0h1m-13 1h1m11 0h1m-13 1h1m-2 1h1m13 0h1m-15 1h1m13 0h1m-15 1h1m13 0h1m-15 1h1m13 0h1m-15 1h1m13 0h1m-15 1h1m13 0h1m-15 1h1m0 1h1m-1 1h1m-1 1h1m-1 1h1m12 2h1m-1 1h1m-1 1h1m-14 1h1m-1 1h1m11 0h1m-13 1h1m11 0h1m-13 1h1m11 0h1m-12 1h1m10 0h1m-12 1h1m9 0h1m-10 1h1m8 0h1m-10 1h1m7 0h1m-7 1h2m3 0h2m-5 1h1m1 0h2" stroke="#075cff"/><path d="M506 2189.5h3m-5 1h6m-7 1h3m3 0h2m-8 1h1m6 0h1m-9 1h1m8 0h1m-10 1h1m-1 1h1m9 0h1m-11 1h1m-1 1h1m10 0h1m-13 1h1m11 0h1m-13 1h1m-1 1h1m-1 1h1m-1 1h1m-1 1h1m-1 1h1m12 1h1m-1 1h1m-13 1h1m11 0h1m-13 1h1m11 0h1m-13 1h1m11 0h1m-13 1h1m-1 1h1m10 0h1m-12 1h1m10 0h1m-12 1h1m-1 1h1m-1 1h1m9 0h1m-11 1h1m9 0h1m-2 1h2m-10 1h1m7 0h1m-1 1h1m-8 1h2m2 0h3m-4 1h3" stroke="#006fff"/><path d="M506 2191.5h3m-5 1h4m1 0h1m-7 1h2m5 0h1m-8 1h1m7 0h1m-9 1h1m-1 1h1m8 0h1m-11 2h1m-1 1h1m10 0h1m-12 1h1m10 0h1m-12 1h1m10 0h1m-1 1h1m-1 1h1m-12 1h1m10 0h1m-12 1h1m10 0h1m-12 1h1m10 0h1m-1 3h1m-1 1h1m-11 2h1m-1 1h1m8 0h1m-10 1h1m8 0h1m-10 1h1m-1 1h1m7 0h1m-9 1h1m6 0h1m-2 1h2m-7 1h1m3 0h3m-5 1h2" stroke="#009cf8"/><path d="M508 2192.5h1m-4 1h5m-6 1h1m5 0h1m-7 1h1m6 0h1m-9 2h1m8 0h1m-10 1h1m8 0h1m-10 1h1m-2 3h1m-1 1h1m10 4h1m-1 1h1m-11 2h1m-1 1h1m8 0h1m-1 1h1m-2 2h1m-8 1h1m6 0h1m-8 1h1m5 0h1m-7 1h1m3 0h2m-6 1h2m1 0h2m-4 1h3" stroke="#00c8f1"/><path d="M505 2194.5h2m1 0h2m-5 1h1m4 0h1m-7 1h1m6 0h1m-8 1h1m-1 1h1m7 1h1m-10 1h1m8 0h1m-10 1h1m8 0h1m-10 1h1m8 0h1m-1 1h1m-1 1h1m-10 1h1m8 0h1m-10 1h1m8 0h1m-10 1h1m8 0h1m-10 1h1m8 0h1m-10 1h1m8 0h1m-1 1h1m-9 3h1m6 0h1m-8 1h1m5 1h1m-6 1h1m2 0h2m-5 1h3m-2 1h1" stroke="#00d9c6"/><path d="M507 2194.5h1m-2 1h1m2 0h1m-5 1h1m4 0h1m-6 1h1m5 0h1m-8 2h1m-1 1h1m-2 3h1m-1 1h1m0 7h1m6 0h1m-8 1h1m6 0h1m-7 2h1m4 0h1m-6 1h2m2 0h1m-4 1h2" stroke="#00e291"/><path d="M507 2195.5h2m-3 1h4m0 1h1m-6 1h1m5 0h1m-1 1h1m-1 1h1m-8 1h1m6 0h1m-1 3h1m-1 1h1m-8 1h1m6 0h1m-8 1h1m6 0h1m-1 1h1m-8 1h1m6 0h1m-8 1h1m6 0h1m-7 3h1m4 0h1m-5 1h1m0 1h2" stroke="#16e756"/><path d="M506 2197.5h4m-4 1h1m3 0h1m-6 1h1m-1 1h1m-2 2h1m6 0h1m-8 1h1m6 0h1m-8 1h1m-1 1h1m-1 3h1m0 3h1m4 0h1m-6 1h1m4 0h1m-5 1h1m0 1h3" stroke="#40ea18"/><path d="M507 2198.5h3m-4 1h1m3 0h1m-1 1h1m-6 1h1m4 0h1m-1 4h1m-1 1h1m-1 1h1m-1 1h1m-1 1h1m-6 1h1m4 0h1m-5 2h1m0 1h1m1 0h1" stroke="#82ed00"/><path d="M507 2199.5h3m-4 1h1m-2 2h1m4 0h1m-1 1h1m-1 1h1m-6 1h1m-1 1h1m-1 1h1m3 0h1m-5 1h1m3 0h1m-5 1h1m0 2h1m0 1h1m1 0h1m-2 1h1" stroke="#d3ef00"/><path d="M507 2200.5h3m-4 1h1m2 0h1m-1 1h1m-5 1h1m-1 1h1m3 1h1m-1 1h1m-4 1h1m-1 1h1m-1 1h1m2 0h1m-4 1h1m2 0h1m-3 1h1m1 0h1m-2 1h1" stroke="#f2d400"/><path d="M507 2201.5h2m-3 1h1m2 1h1m-1 1h1m-4 1h1m-1 1h3m-2 1h2m-2 1h2m-2 1h2m-2 1h2m-1 1h1" stroke="#ff9900"/><path d="M507 2202.5h2m-3 1h3m-3 1h3m-2 1h2" stroke="#ff3900"/></g>
<rect x="384.3" y="2063.9" width="181.0" height="180.5" fill="none" stroke="#444" stroke-width="1.2"/>
<path d="M381.3 2182.2h3M381.3 2176.2h3M381.3 2171.9h3M381.3 2168.6h3M381.3 2165.8h3M381.3 2163.5h3M381.3 2161.5h3M381.3 2159.8h3M381.3 2149.1h3M381.3 2143.7h3M381.3 2140.0h3M381.3 2137.0h3M381.3 2134.6h3M381.3 2132.6h3M381.3 2130.8h3M381.3 2129.3h3M381.3 2119.2h3M381.3 2114.1h3M381.3 2110.4h3M381.3 2107.6h3M381.3 2105.3h3M381.3 2103.4h3M381.3 2101.7h3M381.3 2100.2h3M381.3 2090.1h3M381.3 2085.0h3M381.3 2081.3h3M381.3 2078.5h3M381.3 2076.2h3M381.3 2074.2h3M381.3 2072.5h3M381.3 2071.0h3M381.3 2196.9h3M381.3 2200.9h3M381.3 2204.4h3M381.3 2207.4h3M381.3 2209.9h3M381.3 2211.9h3M381.3 2213.4h3M381.3 2216.4h3M381.3 2217.9h3M381.3 2219.9h3M381.3 2222.4h3M381.3 2225.4h3M381.3 2228.9h3M381.3 2232.4h3M381.3 2239.9h3M381.3 2242.9h3M379.3 2069.7h5M379.3 2098.9h5M379.3 2127.9h5M379.3 2158.2h5M379.3 2192.6h5M379.3 2214.9h5M379.3 2235.9h5M444.4 2244.4v3M450.7 2244.4v3M455.2 2244.4v3M458.6 2244.4v3M461.5 2244.4v3M463.9 2244.4v3M465.9 2244.4v3M467.8 2244.4v3M478.3 2244.4v3M483.5 2244.4v3M487.2 2244.4v3M490.0 2244.4v3M492.4 2244.4v3M494.3 2244.4v3M496.0 2244.4v3M497.6 2244.4v3M507.8 2244.4v3M513.0 2244.4v3M516.7 2244.4v3M519.5 2244.4v3M521.9 2244.4v3M523.8 2244.4v3M525.5 2244.4v3M527.1 2244.4v3M537.1 2244.4v3M542.2 2244.4v3M545.8 2244.4v3M548.6 2244.4v3M550.9 2244.4v3M552.8 2244.4v3M554.5 2244.4v3M556.0 2244.4v3M394.8 2244.4v3M397.8 2244.4v3M400.3 2244.4v3M402.8 2244.4v3M404.8 2244.4v3M406.8 2244.4v3M408.8 2244.4v3M410.3 2244.4v3M413.3 2244.4v3M415.3 2244.4v3M417.3 2244.4v3M419.3 2244.4v3M421.8 2244.4v3M424.3 2244.4v3M427.3 2244.4v3M430.3 2244.4v3M391.3 2244.4v5M433.6 2244.4v5M469.4 2244.4v5M498.9 2244.4v5M528.4 2244.4v5M557.3 2244.4v5M411.8 2244.4v5" stroke="#000" stroke-width="1" fill="none"/>
<rect x="407.8" y="2244.4" width="8" height="3.2" fill="#000"/>
<rect x="381.1" y="2210.9" width="3.2" height="7.5" fill="#000"/>
<text x="355.1" y="2106.9" font-size="12.6" fill="#111" stroke="#111" stroke-width="0.45">10</text>
<text x="368.9" y="2099.1" font-size="11.2" fill="#111" stroke="#111" stroke-width="0.45">6</text>
<text x="355.1" y="2135.9" font-size="12.6" fill="#111" stroke="#111" stroke-width="0.45">10</text>
<text x="368.9" y="2128.1" font-size="11.2" fill="#111" stroke="#111" stroke-width="0.45">5</text>
<text x="355.1" y="2166.2" font-size="12.6" fill="#111" stroke="#111" stroke-width="0.45">10</text>
<text x="368.9" y="2158.4" font-size="11.2" fill="#111" stroke="#111" stroke-width="0.45">4</text>
<text x="355.1" y="2200.6" font-size="12.6" fill="#111" stroke="#111" stroke-width="0.45">10</text>
<text x="368.9" y="2192.8" font-size="11.2" fill="#111" stroke="#111" stroke-width="0.45">3</text>
<text x="365.3" y="2219.9" font-size="12.6" text-anchor="middle" fill="#111" stroke="#111" stroke-width="0.45">0</text>
<text x="414.8" y="2266.5" font-size="12.6" text-anchor="middle" fill="#111" stroke="#111" stroke-width="0.45">0</text>
<text x="466.8" y="2266.5" font-size="12.6" fill="#111" stroke="#111" stroke-width="0.45">10</text>
<text x="480.4" y="2257.2" font-size="11.2" fill="#111" stroke="#111" stroke-width="0.45">4</text>
<text x="496.3" y="2266.5" font-size="12.6" fill="#111" stroke="#111" stroke-width="0.45">10</text>
<text x="509.9" y="2257.2" font-size="11.2" fill="#111" stroke="#111" stroke-width="0.45">5</text>
<text x="525.8" y="2266.5" font-size="12.6" fill="#111" stroke="#111" stroke-width="0.45">10</text>
<text x="539.4" y="2257.2" font-size="11.2" fill="#111" stroke="#111" stroke-width="0.45">6</text>
<rect x="457.0" y="2102.2" width="101.6" height="94.3" fill="none" stroke="#222" stroke-width="1.1"/>
<text x="509.0" y="2121.9" font-size="12.4" text-anchor="middle" stroke="#000" stroke-width="0.45">10.7</text>
<g fill="none" stroke-width="1"><path d="M723 2122.5h1m-4 8h1m3 3h1m2 3h1m-12 2h1m9 0h1m24 0h1m-29 1h1m4 0h1m3 0h1m5 0h1m-15 1h1m4 0h1m3 0h1m2 0h1m-14 1h4m3 0h1m-10 1h1m2 0h1m4 0h1m-10 1h1m3 0h1m11 0h1m-26 1h1m3 0h1m2 0h1m4 0h1m12 0h1m-20 1h1m19 0h1m9 0h1m-41 2h1m10 0h1m2 0h1m4 0h2m5 0h1m3 0h1m-17 1h1m21 0h1m-28 1h1m1 0h1m11 0h1m3 0h2m-29 1h1m5 0h2m3 0h4m10 0h1m-16 1h1m3 0h1m6 0h1m1 0h1m7 0h1m2 0h1m2 0h1m-36 1h1m16 0h1m5 0h1m-11 1h1m1 0h1m1 0h1m3 0h1m1 0h2m11 0h1m-47 1h1m41 0h1m-24 1h1m9 0h4m3 0h2m3 0h1m2 0h1m-25 1h1m1 0h1m3 0h1m7 0h2m-17 1h1m1 0h1m9 0h1m5 0h2m-29 1h1m3 0h1m4 0h1m2 0h1m1 0h1m1 0h2m-4 1h1m8 0h1m2 0h1m8 0h1m-22 1h1m1 0h1m5 0h1m3 0h1m2 0h1m-10 1h1m4 0h1m13 0h1m-33 1h1m7 0h1m3 0h2m1 0h1m-25 1h1m25 0h1m2 0h2m-11 1h2m1 0h1m1 0h1m-20 1h1m5 0h1m4 0h1m18 0h1m-25 1h1m14 0h1m5 0h2m1 0h1m-29 1h1m4 0h1m3 0h1m14 0h1m13 0h1m-41 1h1m5 0h1m2 0h1m2 0h1m1 0h3m8 0h1m-27 1h1m8 0h1m11 0h2m-15 1h1m-8 1h2m2 0h1m4 0h1m7 0h1m4 0h1m5 0h1m-26 1h1m6 0h4m4 0h2m-20 1h1m8 0h1m1 0h2m1 0h1m6 0h1m1 0h1m-23 1h1m4 0h1m11 0h1m-22 1h1m5 0h1m9 0h1m-22 1h1m16 0h1m14 0h1m1 0h1m2 0h1m-22 1h2m4 0h1m-7 1h2m5 0h1m1 0h1m4 0h2m3 0h1m-26 1h1m5 0h1m8 0h1m3 0h1m8 0h1m-18 1h1m3 0h2m1 0h1m1 0h1m3 0h1m-20 1h1m4 0h1m4 0h1m2 0h1m2 0h1m5 0h1m-27 1h2m4 0h1m16 0h1m9 0h1m-25 1h1m5 0h1m7 0h1m-12 1h4m1 0h1m1 0h1m4 0h1m-18 1h1m5 0h1m3 0h1m2 0h1m1 0h1m2 0h1m1 0h1m3 0h1m12 0h1m-51 1h1m12 0h1m3 0h2m1 0h1m6 0h1m2 0h1m1 0h1m1 0h2m-27 1h2m2 0h1m1 0h2m1 0h1m15 0h2m-18 1h1m19 0h2m-38 1h1m10 0h1m1 0h1m1 0h1m-5 1h1m5 0h1m-15 1h1m1 0h1m5 0h1m1 0h1m1 0h3m16 0h1m-34 1h1m2 0h1m6 0h1m1 0h2m1 0h1m18 0h1m-30 1h1m3 0h1m1 0h1m2 0h1m-4 1h1m1 0h1m31 0h1m-51 1h1m7 0h2m5 0h1m1 0h1m1 0h1m18 0h1m-33 1h2m1 0h4m2 0h1m22 0h1m-51 1h1m16 0h1m2 0h1m2 0h1m1 0h3m2 0h1m-27 1h1m7 0h1m6 0h1m2 0h2m4 0h2m20 0h1m-39 1h1m6 0h1m1 0h2m4 0h1m1 0h1m-20 1h1m4 0h2m2 0h1m7 0h1m1 0h1m20 0h1m-37 1h2m9 0h1m2 0h1m26 0h1m-42 1h1m3 0h1m2 0h3m3 0h1m23 0h1m-33 1h3m3 0h2m2 0h1m21 0h1m-26 1h1m2 0h1m22 0h1m-48 1h1m10 0h1m5 0h1m3 0h1m1 0h1m23 0h1m-47 1h1m5 0h4m1 0h1m4 0h2m1 0h1m1 0h1m23 0h1m-34 1h3m2 0h1m2 0h2m23 0h1m-37 1h2m5 0h1m-14 1h1m12 0h2m-14 1h1m4 0h2m1 0h1m4 0h2m-12 1h1m1 0h1m1 0h1m1 0h1m2 0h3m25 0h1m-38 1h1m1 0h1m4 0h1m1 0h2m6 0h1m19 0h1m-33 1h2m1 0h1m4 0h2m1 0h2m19 0h1m-44 1h1m2 0h1m5 0h1m2 0h1m8 0h1m-15 1h1m3 0h2m33 0h1m-54 1h1m14 0h4m8 0h2m1 0h1m-21 1h1m8 0h1m6 0h2m22 0h2m-41 1h1m4 0h1m1 0h3m3 0h4m22 0h1m1 0h1m-43 1h1m5 0h1m2 0h1m2 0h2m3 0h1m1 0h2m18 0h1m2 0h2m-38 1h1m1 0h2m8 0h2m2 0h1m17 0h1m-37 1h1m7 0h3m8 0h1m-39 1h1m12 0h1m5 0h1m4 0h1m7 0h1m23 0h1m-27 1h2m1 0h1m4 0h1m14 0h1m-23 1h1m5 0h3m-14 1h1m2 0h1m8 0h1m13 0h1m-32 1h1m12 0h1m4 0h1m12 0h2m-25 1h1m22 0h1m2 0h1m-26 1h1m6 0h1m2 0h1m9 0h2m2 0h1m-17 1h1m3 0h1m5 0h1m3 0h1m1 0h1m-30 1h1m2 0h1m11 0h1m2 0h1m2 0h2m1 0h1m-7 1h1m3 0h1m1 0h2m3 0h1m-25 1h1m13 0h1m-7 1h1m7 0h1m6 0h1m-8 1h1m1 0h1m3 0h1m-8 1h2m0 1h1m2 1h1m-7 1h1m4 0h1m-6 2h1m-1 2h1m4 0h1" stroke="#5a5aff" stroke-opacity="0.65"/><path d="M732 2185.5h1m-2 1h5m-4 1h1m1 0h1m1 0h2m1 0h1m1 0h1m-12 1h3m9 0h2m-14 1h2m11 0h2m-15 1h2m12 0h2m-16 1h1m14 0h1m-2 1h2m-16 1h1m13 0h1m-16 1h1m14 0h2m-18 1h2m14 0h2m-18 1h2m15 0h1m-19 1h2m16 0h1m-19 1h1m1 0h1m15 0h1m-20 1h2m17 0h1m-20 1h2m-1 1h2m-3 1h1m1 0h1m17 0h1m-28 1h2m5 0h3m-10 1h3m4 0h2m18 0h1m-28 1h1m1 0h1m4 0h1m1 0h1m16 0h1m-20 1h1m1 0h1m17 0h1m-22 1h1m2 0h1m-6 1h1m1 0h4m17 0h1m-25 1h4m2 0h1m17 0h1m-26 1h4m1 0h2m17 0h1m-24 1h3m1 0h1m18 0h1m-25 1h1m2 0h1m2 0h2m16 0h1m-18 1h2m15 0h1m-28 1h2m1 0h1m6 0h2m15 0h1m-29 1h5m5 0h2m-12 1h3m1 0h1m5 0h1m1 0h1m15 0h1m-30 1h1m1 0h3m6 0h3m-3 1h1m1 0h1m0 1h1m12 0h2m-16 1h2m12 0h1m-13 1h1m10 0h2m-13 1h1m10 0h1m-12 1h1m10 0h2m-2 1h1m-12 1h2m8 0h2m-12 1h1m1 0h1m6 0h3m-12 1h6m2 0h1m-8 1h3m1 0h1m2 0h1m-4 1h2" stroke="#2828ff" stroke-opacity="0.8"/><path d="M734 2188.5h5m1 0h1m-9 1h7m1 0h3m-11 1h3m7 0h1m-11 1h2m9 0h1m-12 1h1m10 0h1m-13 1h1m11 0h1m-14 1h2m11 0h1m-1 1h1m-1 1h2m-16 1h2m13 0h1m-15 1h1m13 0h1m-15 1h1m-2 1h2m13 0h1m-16 1h1m14 0h1m0 2h1m-18 1h2m-1 1h1m14 0h1m-16 1h1m-1 1h1m15 0h1m-17 1h1m15 0h1m-17 1h1m15 0h1m-17 1h1m14 0h1m-16 1h1m14 0h1m-1 2h1m-1 1h1m-15 1h1m13 0h1m-1 1h1m-15 1h1m12 0h1m-14 1h1m12 0h1m-2 2h1m-11 1h1m8 0h1m-10 1h1m-1 1h2m6 0h2m-9 1h2m5 0h2m-9 1h7m-6 1h2m1 0h2" stroke="#0d4bff"/><path d="M735 2190.5h7m-7 1h3m2 0h3m-9 1h2m5 0h2m-11 1h2m7 0h2m-11 1h1m9 0h1m-12 1h1m10 0h1m-12 1h1m10 0h1m-12 1h1m11 0h1m-13 1h1m11 0h1m-13 1h1m11 0h1m-14 2h1m-1 1h1m13 0h1m-15 1h1m13 0h1m-15 1h1m13 0h1m-15 1h1m-1 1h1m13 0h1m-15 1h1m13 0h1m-15 1h1m13 0h1m-15 1h1m13 0h1m-15 1h1m-1 1h1m-1 1h1m12 1h1m-1 1h1m-13 1h1m11 0h1m-13 1h1m11 0h1m-2 1h1m-11 1h1m-1 1h1m8 0h1m-1 1h1m-9 1h1m6 0h1m-8 1h1m5 0h2m-7 1h6m-5 1h5" stroke="#075cff"/><path d="M738 2191.5h2m-4 1h4m-6 1h3m1 0h3m-8 1h1m6 0h2m-10 1h1m8 0h1m-10 1h1m8 0h1m-10 1h1m9 0h1m-1 1h1m-12 2h1m11 0h1m-13 1h1m11 0h1m-1 1h1m-13 1h1m11 0h1m-13 1h1m11 0h1m-13 1h1m11 0h1m-13 1h1m11 0h1m-1 1h1m-1 1h1m-1 1h1m-1 1h1m-13 3h1m-1 1h1m10 1h1m-11 1h1m9 0h1m-11 1h1m8 1h1m-9 1h1m-1 1h2m-1 1h2m3 0h1m-6 1h5" stroke="#006fff"/><path d="M734 2194.5h6m-7 1h2m3 0h3m-8 1h1m6 0h1m0 1h1m-10 1h1m8 0h1m-10 1h1m9 0h1m-11 1h1m9 0h1m-1 1h1m-12 6h1m-1 1h1m-1 2h1m-1 1h1m-1 1h1m10 0h1m-1 1h1m-1 1h1m-11 1h1m8 1h1m-9 1h1m-1 1h1m0 1h1m5 0h1m-6 1h1m0 1h3" stroke="#009cf8"/><path d="M735 2195.5h3m-4 1h1m3 0h2m-7 1h1m6 0h1m-8 1h1m6 0h1m-8 1h1m7 0h1m-1 1h1m-10 1h1m8 0h1m-10 1h1m9 0h1m-11 1h1m9 0h1m-11 1h1m9 0h1m-11 1h1m9 0h1m-11 1h1m9 0h1m-1 1h1m-1 1h1m-1 1h1m-1 1h1m-1 1h1m-11 2h1m8 2h1m-9 1h1m0 1h1m-1 1h1m5 0h1m-6 1h1m0 1h4" stroke="#00c8f1"/><path d="M735 2196.5h3m-4 1h6m-6 1h1m4 0h1m-1 1h2m-8 1h1m6 0h1m0 2h1m-9 2h1m-1 1h1m-2 2h1m-1 1h1m-1 1h1m-1 1h1m-1 1h1m-1 1h1m8 1h1m-9 1h1m7 0h1m-9 1h1m0 1h1m5 0h1m-6 1h1m4 0h1m-5 2h1m2 0h1" stroke="#00d9c6"/><path d="M735 2198.5h4m-5 1h1m3 0h1m0 1h1m-7 1h1m6 0h1m-8 1h1m6 0h1m-8 1h1m7 0h1m-1 1h1m-1 1h1m-9 1h1m7 0h1m-1 1h1m-1 1h1m-1 3h1m-1 1h1m-9 1h1m0 2h1m5 0h1m-5 2h1m-1 1h1m2 0h1m-3 1h2" stroke="#00e291"/><path d="M735 2199.5h3m-4 1h1m3 0h1m-5 1h1m4 0h1m0 2h1m-7 1h1m-2 3h1m7 2h1m-1 1h1m-9 1h1m-1 1h1m0 2h1m5 0h1m-6 2h2m2 0h1m-3 1h1m1 0h1m-3 1h2" stroke="#16e756"/><path d="M735 2200.5h3m0 1h1m-5 1h1m4 0h1m-6 1h1m5 1h1m-7 1h1m-1 1h1m-2 2h1m-1 1h1m-1 1h1m0 2h1m5 0h1m-7 1h1m5 0h1m-6 1h1m-1 1h1m3 0h1m-3 1h2m-1 1h1" stroke="#40ea18"/><path d="M735 2201.5h1m1 0h1m-3 1h1m2 0h1m-4 1h1m3 0h1m-5 1h1m4 1h1m-1 1h1m-7 1h1m5 0h1m-1 1h1m-1 1h1m-7 1h1m5 0h1m-7 1h1m5 0h1m-6 1h1m-1 1h1m0 1h1m2 0h1m-4 1h3" stroke="#82ed00"/><path d="M736 2201.5h1m-1 1h2m0 1h1m0 1h1m-5 1h1m-1 1h1m-2 2h1m-1 1h1m0 2h1m0 1h1m2 0h1m-4 1h1m2 0h1m-3 1h2" stroke="#d3ef00"/><path d="M736 2203.5h2m-2 1h1m1 0h1m-3 1h1m2 0h1m-1 1h1m-5 1h1m3 0h1m-1 1h1m-5 1h1m3 0h1m-5 1h1m3 0h1m-4 1h1m2 0h1m-3 1h2m-2 1h2" stroke="#f2d400"/><path d="M737 2204.5h1m-1 1h2m-3 1h1m-1 1h1m-2 1h1m0 2h3m-2 1h2" stroke="#ff9900"/><path d="M737 2206.5h2m-2 1h2m-3 1h3m-3 1h3" stroke="#ff3900"/></g>
<rect x="613.6" y="2063.9" width="181.0" height="180.5" fill="none" stroke="#444" stroke-width="1.2"/>
<path d="M610.6 2182.2h3M610.6 2176.2h3M610.6 2171.9h3M610.6 2168.6h3M610.6 2165.8h3M610.6 2163.5h3M610.6 2161.5h3M610.6 2159.8h3M610.6 2149.1h3M610.6 2143.7h3M610.6 2140.0h3M610.6 2137.0h3M610.6 2134.6h3M610.6 2132.6h3M610.6 2130.8h3M610.6 2129.3h3M610.6 2119.2h3M610.6 2114.1h3M610.6 2110.4h3M610.6 2107.6h3M610.6 2105.3h3M610.6 2103.4h3M610.6 2101.7h3M610.6 2100.2h3M610.6 2090.1h3M610.6 2085.0h3M610.6 2081.3h3M610.6 2078.5h3M610.6 2076.2h3M610.6 2074.2h3M610.6 2072.5h3M610.6 2071.0h3M610.6 2196.9h3M610.6 2200.9h3M610.6 2204.4h3M610.6 2207.4h3M610.6 2209.9h3M610.6 2211.9h3M610.6 2213.4h3M610.6 2216.4h3M610.6 2217.9h3M610.6 2219.9h3M610.6 2222.4h3M610.6 2225.4h3M610.6 2228.9h3M610.6 2232.4h3M610.6 2239.9h3M610.6 2242.9h3M608.6 2069.7h5M608.6 2098.9h5M608.6 2127.9h5M608.6 2158.2h5M608.6 2192.6h5M608.6 2214.9h5M608.6 2235.9h5M673.7 2244.4v3M680.0 2244.4v3M684.5 2244.4v3M687.9 2244.4v3M690.8 2244.4v3M693.2 2244.4v3M695.2 2244.4v3M697.1 2244.4v3M707.6 2244.4v3M712.8 2244.4v3M716.5 2244.4v3M719.3 2244.4v3M721.7 2244.4v3M723.6 2244.4v3M725.3 2244.4v3M726.9 2244.4v3M737.1 2244.4v3M742.3 2244.4v3M746.0 2244.4v3M748.8 2244.4v3M751.2 2244.4v3M753.1 2244.4v3M754.8 2244.4v3M756.4 2244.4v3M766.4 2244.4v3M771.5 2244.4v3M775.1 2244.4v3M777.9 2244.4v3M780.2 2244.4v3M782.1 2244.4v3M783.8 2244.4v3M785.3 2244.4v3M624.1 2244.4v3M627.1 2244.4v3M629.6 2244.4v3M632.1 2244.4v3M634.1 2244.4v3M636.1 2244.4v3M638.1 2244.4v3M639.6 2244.4v3M642.6 2244.4v3M644.6 2244.4v3M646.6 2244.4v3M648.6 2244.4v3M651.1 2244.4v3M653.6 2244.4v3M656.6 2244.4v3M659.6 2244.4v3M620.6 2244.4v5M662.9 2244.4v5M698.7 2244.4v5M728.2 2244.4v5M757.7 2244.4v5M786.6 2244.4v5M641.1 2244.4v5" stroke="#000" stroke-width="1" fill="none"/>
<rect x="637.1" y="2244.4" width="8" height="3.2" fill="#000"/>
<rect x="610.4" y="2210.9" width="3.2" height="7.5" fill="#000"/>
<text x="584.4" y="2106.9" font-size="12.6" fill="#111" stroke="#111" stroke-width="0.45">10</text>
<text x="598.2" y="2099.1" font-size="11.2" fill="#111" stroke="#111" stroke-width="0.45">6</text>
<text x="584.4" y="2135.9" font-size="12.6" fill="#111" stroke="#111" stroke-width="0.45">10</text>
<text x="598.2" y="2128.1" font-size="11.2" fill="#111" stroke="#111" stroke-width="0.45">5</text>
<text x="584.4" y="2166.2" font-size="12.6" fill="#111" stroke="#111" stroke-width="0.45">10</text>
<text x="598.2" y="2158.4" font-size="11.2" fill="#111" stroke="#111" stroke-width="0.45">4</text>
<text x="584.4" y="2200.6" font-size="12.6" fill="#111" stroke="#111" stroke-width="0.45">10</text>
<text x="598.2" y="2192.8" font-size="11.2" fill="#111" stroke="#111" stroke-width="0.45">3</text>
<text x="594.6" y="2219.9" font-size="12.6" text-anchor="middle" fill="#111" stroke="#111" stroke-width="0.45">0</text>
<text x="644.1" y="2266.5" font-size="12.6" text-anchor="middle" fill="#111" stroke="#111" stroke-width="0.45">0</text>
<text x="696.1" y="2266.5" font-size="12.6" fill="#111" stroke="#111" stroke-width="0.45">10</text>
<text x="709.7" y="2257.2" font-size="11.2" fill="#111" stroke="#111" stroke-width="0.45">4</text>
<text x="725.6" y="2266.5" font-size="12.6" fill="#111" stroke="#111" stroke-width="0.45">10</text>
<text x="739.2" y="2257.2" font-size="11.2" fill="#111" stroke="#111" stroke-width="0.45">5</text>
<text x="755.1" y="2266.5" font-size="12.6" fill="#111" stroke="#111" stroke-width="0.45">10</text>
<text x="768.7" y="2257.2" font-size="11.2" fill="#111" stroke="#111" stroke-width="0.45">6</text>
<rect x="686.4" y="2102.2" width="102.2" height="94.3" fill="none" stroke="#222" stroke-width="1.1"/>
<text x="738.3" y="2121.9" font-size="12.4" text-anchor="middle" stroke="#000" stroke-width="0.45">8.46</text>
<g fill="none" stroke-width="1"><path d="M969 2125.5h1m-12 8h1m13 0h1m4 0h1m-23 1h1m7 0h1m-4 1h1m1 0h1m16 0h1m-33 1h1m14 0h1m-11 1h1m8 0h1m-13 1h1m2 0h2m7 0h1m7 0h1m7 0h1m-27 2h1m14 0h1m-12 1h1m4 0h1m4 0h1m1 0h1m-22 1h1m13 0h2m10 0h1m2 0h1m-18 1h1m-14 1h1m12 0h2m5 0h2m-24 1h1m5 0h1m7 0h1m1 0h2m4 0h1m1 0h1m9 0h1m-25 1h1m8 0h1m-12 1h2m2 0h2m12 0h1m9 0h1m-26 1h2m12 0h1m-20 1h1m2 0h1m3 0h1m6 0h1m24 0h1m-27 1h1m4 0h1m-24 1h1m1 0h1m5 0h1m3 0h1m13 0h1m-21 1h1m8 0h1m2 0h3m12 0h1m-31 1h1m14 0h1m2 0h1m-20 1h1m2 0h1m1 0h1m10 0h3m4 0h1m8 0h1m-29 1h1m6 0h1m2 0h1m3 0h1m7 0h1m-31 1h1m14 0h1m3 0h1m-10 1h1m3 0h1m4 0h2m-18 1h1m4 0h2m1 0h1m25 0h1m-28 1h1m10 0h1m4 0h1m-28 1h1m11 0h1m12 0h1m4 0h1m1 0h1m-14 1h1m1 0h1m1 0h1m4 0h1m-26 1h1m9 0h1m2 0h1m2 0h1m2 0h1m3 0h1m5 0h1m8 0h1m-40 1h1m6 0h1m3 0h1m9 0h1m-21 1h1m3 0h1m14 0h1m4 0h1m1 0h1m10 0h1m-35 1h2m6 0h1m9 0h1m1 0h2m3 0h1m-13 1h1m-18 1h1m19 0h1m7 0h1m-21 1h1m2 0h1m11 0h1m13 0h1m-31 1h2m7 0h1m8 0h1m8 0h1m4 0h1m-18 1h1m2 0h1m5 0h1m-32 1h1m5 0h1m2 0h1m6 0h1m5 0h1m1 0h1m-22 1h1m6 0h1m2 0h1m2 0h1m12 0h1m-29 1h1m3 0h1m2 0h1m2 0h1m7 0h1m2 0h1m13 0h1m-30 1h1m1 0h1m1 0h1m7 0h1m1 0h2m3 0h1m3 0h1m-27 1h1m12 0h1m2 0h1m4 0h1m1 0h1m4 0h1m4 0h1m-28 1h1m2 0h1m5 0h1m2 0h2m6 0h2m-34 1h1m2 0h2m5 0h1m2 0h2m2 0h1m2 0h1m1 0h1m5 0h2m6 0h2m-31 1h1m4 0h2m8 0h1m1 0h2m1 0h1m10 0h1m-28 1h1m4 0h1m2 0h1m1 0h1m4 0h1m11 0h2m-39 1h1m10 0h2m9 0h1m5 0h1m2 0h1m-25 1h1m5 0h3m2 0h1m3 0h1m2 0h1m4 0h2m-24 1h1m3 0h3m2 0h1m11 0h1m-17 1h2m3 0h1m5 0h1m1 0h1m6 0h1m-32 1h1m11 0h2m1 0h1m4 0h1m2 0h2m4 0h1m1 0h1m1 0h2m-42 1h1m6 0h1m3 0h1m5 0h1m1 0h2m2 0h2m1 0h1m2 0h1m2 0h2m2 0h1m3 0h1m-31 1h1m1 0h1m9 0h2m10 0h1m1 0h3m-33 1h1m7 0h1m5 0h1m1 0h1m15 0h3m-24 1h1m2 0h1m15 0h3m-26 1h2m1 0h2m4 0h1m16 0h1m1 0h1m-29 1h1m3 0h1m3 0h1m15 0h5m13 0h1m-56 1h1m12 0h2m2 0h2m1 0h2m16 1h1m1 0h2m-34 1h1m2 0h1m2 0h1m1 0h4m-2 1h1m1 0h1m18 0h1m2 0h1m-27 1h1m1 0h1m23 0h1m-31 1h2m4 0h1m22 0h1m1 0h2m-58 1h1m6 0h1m13 0h1m9 0h2m21 0h2m-40 1h2m7 0h2m2 0h2m-13 1h1m6 0h2m5 0h1m20 0h3m7 0h1m-61 1h1m9 0h1m6 0h2m2 0h2m2 0h2m1 0h1m22 0h1m-33 1h1m4 0h1m2 0h4m-15 1h1m2 0h1m1 0h2m1 0h2m2 0h1m24 0h1m-42 1h2m2 0h1m1 0h1m3 0h3m1 0h1m30 0h1m-51 1h1m3 0h1m1 0h1m2 0h1m1 0h4m5 0h1m24 0h1m-40 1h2m5 0h1m2 0h3m28 0h1m-39 1h3m1 0h1m1 0h1m29 0h1m-34 1h2m1 0h2m1 0h2m24 0h2m-45 1h1m2 0h1m6 0h1m3 0h1m2 0h1m2 0h1m22 0h1m-35 1h1m3 0h2m1 0h1m1 0h1m24 0h1m-35 1h1m4 0h1m1 0h1m3 0h1m-22 1h1m7 0h2m1 0h2m3 0h1m4 0h1m22 0h1m-38 1h1m1 0h1m1 0h1m5 0h1m1 0h1m1 0h1m-20 1h2m7 0h1m1 0h1m3 0h3m1 0h1m22 0h1m-46 1h1m7 0h1m5 0h2m1 0h1m1 0h1m3 0h1m-23 1h1m1 0h1m4 0h1m1 0h1m3 0h2m2 0h1m4 0h1m21 0h2m-39 1h1m5 0h1m2 0h2m1 0h2m1 0h1m21 0h1m-35 1h1m3 0h3m3 0h1m1 0h1m21 0h1m-43 1h1m6 0h1m2 0h1m3 0h1m1 0h1m1 0h3m-15 1h2m8 0h1m4 0h1m1 0h1m-17 1h1m4 0h3m2 0h1m4 0h1m17 0h1m-46 1h1m17 0h1m3 0h3m1 0h2m-16 1h1m7 0h1m7 0h1m18 0h1m-34 1h1m3 0h1m6 0h1m3 0h1m13 0h2m2 0h1m-50 1h1m15 0h1m5 0h1m7 0h1m17 0h2m-31 1h2m10 0h1m1 0h1m11 0h1m1 0h1m-28 1h1m2 0h1m9 0h2m9 0h1m3 0h1m-31 1h1m4 0h1m3 0h1m5 0h2m8 0h1m-16 1h1m2 0h1m3 0h3m4 0h2m2 0h2m-19 1h1m1 0h1m6 0h1m2 0h3m4 0h1m-26 1h1m7 0h1m2 0h2m1 0h1m1 0h3m-15 1h1m8 0h2m3 0h1m-12 1h1m9 0h1m-21 1h1m15 0h1m-12 1h1m10 0h1m1 0h1m4 0h1m-6 1h1m5 0h1m-18 2h1m13 0h1m-8 4h1" stroke="#5a5aff" stroke-opacity="0.65"/><path d="M962 2186.5h1m2 0h3m1 0h1m-8 1h6m1 0h2m-10 1h2m5 0h5m-13 1h2m8 0h4m-15 1h1m1 0h1m9 0h1m1 0h1m-14 1h1m11 0h1m1 1h1m-17 1h2m15 0h1m-18 1h2m-2 1h2m15 0h1m-18 1h1m17 0h1m-20 1h1m0 1h1m17 0h2m-21 1h2m-1 2h2m17 0h1m-19 1h1m16 0h2m-21 1h1m18 0h2m-23 1h1m2 0h1m18 0h1m-23 1h1m1 0h2m17 0h2m-24 1h2m1 0h2m-8 1h1m3 0h2m1 0h1m18 0h1m-22 1h4m16 0h2m-21 1h3m16 0h1m-24 1h2m2 0h1m1 0h1m17 0h1m-26 1h1m1 0h1m2 0h2m-3 1h1m1 0h2m17 0h1m-21 1h3m17 0h1m-20 1h1m-2 1h2m1 0h1m-1 1h1m15 0h1m-18 1h2m15 0h1m-18 1h3m13 0h2m-17 1h3m12 0h2m-3 1h2m-15 1h1m12 0h1m-15 1h3m-1 1h1m0 1h2m7 0h2m-10 1h2m5 0h1m1 0h1m-10 1h1m1 0h1m3 0h1m1 0h1m-5 1h3m-2 1h1" stroke="#2828ff" stroke-opacity="0.8"/><path d="M963 2188.5h5m-6 1h8m-7 1h2m1 0h5m-10 1h3m1 0h5m1 0h1m-11 1h2m8 0h1m-11 1h1m10 0h2m-14 1h1m12 0h2m-15 1h1m13 0h1m-15 1h1m14 0h1m-16 1h1m14 0h1m-17 1h2m14 0h1m-17 1h2m-1 1h1m14 0h1m-16 1h2m13 0h1m-1 1h1m-16 1h1m14 0h1m-17 1h2m15 0h1m-18 1h2m-2 1h1m15 0h1m-17 1h2m14 0h1m-16 1h2m-2 1h1m-1 1h1m15 0h1m-17 1h1m15 0h1m-17 1h1m15 0h1m-17 1h1m15 0h1m-17 1h2m14 0h1m-2 1h1m-15 1h2m12 0h1m-2 1h1m-13 1h1m11 0h1m-12 1h1m-1 1h2m8 0h1m-11 1h2m-1 1h1m7 0h1m-9 1h2m5 0h2m-8 1h2m3 0h2m-5 1h4m-4 1h3" stroke="#0d4bff"/><path d="M963 2192.5h8m-9 1h5m4 0h1m-10 1h1m9 0h1m-12 1h1m11 0h1m-13 1h1m12 0h1m-14 1h1m12 0h1m-14 1h1m12 0h1m-14 1h1m12 0h1m-1 1h1m-1 1h1m-1 1h1m-14 1h1m-1 1h1m13 0h1m-15 1h1m13 0h1m-15 1h1m-1 1h2m-1 1h1m-2 1h1m13 1h1m-15 1h1m13 0h1m-15 1h1m13 0h1m-15 1h1m13 0h1m-14 1h1m12 0h1m-14 1h1m11 0h1m-1 1h1m-12 1h1m-1 1h1m9 0h1m-10 1h1m8 0h1m-9 1h1m-1 1h1m6 0h1m-8 1h2m4 0h1m-6 1h3m1 0h1m-4 1h3" stroke="#075cff"/><path d="M967 2193.5h4m-8 1h4m4 0h1m-10 1h3m7 0h1m-11 1h1m10 0h1m-12 1h1m-1 1h1m10 0h1m-12 1h1m-1 1h1m-1 1h1m-1 1h1m-1 1h1m11 0h1m-13 1h1m11 0h1m-13 1h1m11 0h1m-13 1h1m11 0h1m-1 1h1m-1 1h1m-13 1h1m11 0h1m-13 1h1m11 0h1m-13 1h1m11 0h1m-13 1h1m11 0h1m-13 1h1m11 0h1m-1 1h1m-12 1h1m-1 1h1m9 0h1m-1 1h1m-9 2h1m6 0h1m-7 1h1m5 0h1m-7 1h2m3 0h1m-4 1h3" stroke="#006fff"/><path d="M967 2194.5h4m-6 1h2m3 0h2m-9 1h2m6 0h2m-10 1h1m8 0h1m-10 1h1m-1 1h1m9 0h1m-11 1h1m9 0h1m-11 1h1m9 0h1m-11 1h1m9 0h1m-11 1h1m-1 2h1m-1 1h1m-1 1h1m-1 1h1m-1 1h1m-1 4h1m-1 1h1m9 0h1m-1 1h1m-10 2h1m7 0h1m-8 1h1m6 0h1m-7 1h1m4 0h1m-5 1h1m3 0h1m-4 1h3" stroke="#009cf8"/><path d="M967 2195.5h3m-5 1h2m3 0h1m-7 1h2m5 0h1m-8 1h1m7 0h1m-1 1h1m0 4h1m-1 1h1m-1 1h1m-1 1h1m-1 1h1m-1 1h1m-1 1h1m-11 1h1m9 0h1m-11 1h1m9 0h1m-11 1h1m9 0h1m-1 1h1m-10 1h1m-1 1h1m7 0h1m-9 1h1m7 0h1m-8 1h1m0 1h1m4 0h1m-5 1h1m2 0h1m-3 1h3" stroke="#00c8f1"/><path d="M967 2196.5h3m-4 1h2m2 0h1m-6 1h1m5 0h1m-8 1h1m-1 1h1m7 0h1m-9 1h1m7 0h1m-9 3h1m-1 1h1m-1 1h1m-1 1h1m-1 1h1m7 3h1m-1 1h1m-9 1h1m7 0h1m-1 1h1m-8 2h1m5 0h1m-1 1h1m-2 1h1m-3 1h2" stroke="#00d9c6"/><path d="M968 2197.5h2m-4 1h2m2 0h1m-6 1h1m5 0h1m-8 3h1m7 0h1m-9 1h1m7 0h1m-1 1h1m-1 1h1m-1 3h1m-9 1h1m7 0h1m-9 1h1m7 0h1m-9 1h1m-1 1h1m0 1h1m5 0h1m-7 1h1m5 0h1m-7 1h1m5 0h1m-6 2h1m3 0h1m-4 1h3" stroke="#00e291"/><path d="M968 2198.5h2m-4 1h1m3 0h1m-6 1h1m5 0h1m-1 1h1m-7 5h1m6 0h1m-8 1h1m6 0h1m-2 3h1m-1 1h1m-7 1h1m5 0h1m-2 1h1m-5 1h1m3 0h1m-5 1h1m3 0h1m-5 1h1m3 0h1m-4 1h3" stroke="#16e756"/><path d="M967 2199.5h3m-4 1h1m3 0h1m-6 1h1m4 0h1m-6 1h1m5 0h1m-7 1h1m5 0h1m-7 1h1m5 0h1m-7 1h1m-1 3h1m-1 1h1m5 0h1m-7 2h1m4 0h1m-1 1h1m-5 1h1m2 0h1m-3 1h1m1 0h1m-3 1h1m1 0h1m-3 1h3" stroke="#40ea18"/><path d="M967 2200.5h3m-4 1h1m2 0h1m0 1h1m0 3h1m-1 1h1m-1 1h1m-1 1h1m-7 2h1m4 0h1m-2 1h1m-4 1h1m2 0h1m-3 1h2m-1 1h1m-1 1h1" stroke="#82ed00"/><path d="M967 2201.5h2m-3 1h1m2 0h1m0 1h1m-5 1h1m-1 1h1m-1 1h1m-1 1h1m-1 1h1m-1 1h1m3 0h1m-5 1h1m2 0h1m-4 1h1m1 0h1m-2 1h2" stroke="#d3ef00"/><path d="M967 2202.5h2m-3 1h1m2 0h1m0 1h1m-1 1h1m-1 3h1m-2 1h1m-3 1h2m-2 1h1" stroke="#f2d400"/><path d="M967 2203.5h2m-2 1h3m-3 1h1m-1 1h1m2 0h1m-4 1h1m2 0h1m-4 1h1m-1 1h2" stroke="#ff9900"/><path d="M968 2205.5h2m-2 1h2m-2 1h2m-2 1h2" stroke="#ff3900"/></g>
<rect x="844.0" y="2063.9" width="181.0" height="180.5" fill="none" stroke="#444" stroke-width="1.2"/>
<path d="M841.0 2182.2h3M841.0 2176.2h3M841.0 2171.9h3M841.0 2168.6h3M841.0 2165.8h3M841.0 2163.5h3M841.0 2161.5h3M841.0 2159.8h3M841.0 2149.1h3M841.0 2143.7h3M841.0 2140.0h3M841.0 2137.0h3M841.0 2134.6h3M841.0 2132.6h3M841.0 2130.8h3M841.0 2129.3h3M841.0 2119.2h3M841.0 2114.1h3M841.0 2110.4h3M841.0 2107.6h3M841.0 2105.3h3M841.0 2103.4h3M841.0 2101.7h3M841.0 2100.2h3M841.0 2090.1h3M841.0 2085.0h3M841.0 2081.3h3M841.0 2078.5h3M841.0 2076.2h3M841.0 2074.2h3M841.0 2072.5h3M841.0 2071.0h3M841.0 2196.9h3M841.0 2200.9h3M841.0 2204.4h3M841.0 2207.4h3M841.0 2209.9h3M841.0 2211.9h3M841.0 2213.4h3M841.0 2216.4h3M841.0 2217.9h3M841.0 2219.9h3M841.0 2222.4h3M841.0 2225.4h3M841.0 2228.9h3M841.0 2232.4h3M841.0 2239.9h3M841.0 2242.9h3M839.0 2069.7h5M839.0 2098.9h5M839.0 2127.9h5M839.0 2158.2h5M839.0 2192.6h5M839.0 2214.9h5M839.0 2235.9h5M904.1 2244.4v3M910.4 2244.4v3M914.9 2244.4v3M918.3 2244.4v3M921.2 2244.4v3M923.6 2244.4v3M925.6 2244.4v3M927.5 2244.4v3M938.0 2244.4v3M943.2 2244.4v3M946.9 2244.4v3M949.7 2244.4v3M952.1 2244.4v3M954.0 2244.4v3M955.7 2244.4v3M957.3 2244.4v3M967.5 2244.4v3M972.7 2244.4v3M976.4 2244.4v3M979.2 2244.4v3M981.6 2244.4v3M983.5 2244.4v3M985.2 2244.4v3M986.8 2244.4v3M996.8 2244.4v3M1001.9 2244.4v3M1005.5 2244.4v3M1008.3 2244.4v3M1010.6 2244.4v3M1012.5 2244.4v3M1014.2 2244.4v3M1015.7 2244.4v3M854.5 2244.4v3M857.5 2244.4v3M860.0 2244.4v3M862.5 2244.4v3M864.5 2244.4v3M866.5 2244.4v3M868.5 2244.4v3M870.0 2244.4v3M873.0 2244.4v3M875.0 2244.4v3M877.0 2244.4v3M879.0 2244.4v3M881.5 2244.4v3M884.0 2244.4v3M887.0 2244.4v3M890.0 2244.4v3M851.0 2244.4v5M893.3 2244.4v5M929.1 2244.4v5M958.6 2244.4v5M988.1 2244.4v5M1017.0 2244.4v5M871.5 2244.4v5" stroke="#000" stroke-width="1" fill="none"/>
<rect x="867.5" y="2244.4" width="8" height="3.2" fill="#000"/>
<rect x="840.8" y="2210.9" width="3.2" height="7.5" fill="#000"/>
<text x="814.8" y="2106.9" font-size="12.6" fill="#111" stroke="#111" stroke-width="0.45">10</text>
<text x="828.6" y="2099.1" font-size="11.2" fill="#111" stroke="#111" stroke-width="0.45">6</text>
<text x="814.8" y="2135.9" font-size="12.6" fill="#111" stroke="#111" stroke-width="0.45">10</text>
<text x="828.6" y="2128.1" font-size="11.2" fill="#111" stroke="#111" stroke-width="0.45">5</text>
<text x="814.8" y="2166.2" font-size="12.6" fill="#111" stroke="#111" stroke-width="0.45">10</text>
<text x="828.6" y="2158.4" font-size="11.2" fill="#111" stroke="#111" stroke-width="0.45">4</text>
<text x="814.8" y="2200.6" font-size="12.6" fill="#111" stroke="#111" stroke-width="0.45">10</text>
<text x="828.6" y="2192.8" font-size="11.2" fill="#111" stroke="#111" stroke-width="0.45">3</text>
<text x="825.0" y="2219.9" font-size="12.6" text-anchor="middle" fill="#111" stroke="#111" stroke-width="0.45">0</text>
<text x="874.5" y="2266.5" font-size="12.6" text-anchor="middle" fill="#111" stroke="#111" stroke-width="0.45">0</text>
<text x="926.5" y="2266.5" font-size="12.6" fill="#111" stroke="#111" stroke-width="0.45">10</text>
<text x="940.1" y="2257.2" font-size="11.2" fill="#111" stroke="#111" stroke-width="0.45">4</text>
<text x="956.0" y="2266.5" font-size="12.6" fill="#111" stroke="#111" stroke-width="0.45">10</text>
<text x="969.6" y="2257.2" font-size="11.2" fill="#111" stroke="#111" stroke-width="0.45">5</text>
<text x="985.5" y="2266.5" font-size="12.6" fill="#111" stroke="#111" stroke-width="0.45">10</text>
<text x="999.1" y="2257.2" font-size="11.2" fill="#111" stroke="#111" stroke-width="0.45">6</text>
<rect x="917.7" y="2102.2" width="102.6" height="94.3" fill="none" stroke="#222" stroke-width="1.1"/>
<text x="968.7" y="2121.9" font-size="12.4" text-anchor="middle" stroke="#000" stroke-width="0.45">10.0</text>
<line x1="108.3" y1="2169.5" x2="108.3" y2="1828.0" stroke="#000" stroke-width="1.6"/>
<polygon points="97.3,1829.4 119.3,1829.4 108.3,1816.4" fill="#000"/>
<text x="118.8" y="2216.0" font-size="24.5" text-anchor="middle" transform="rotate(-90 118.8 2216.0)">PD-1</text>
<text x="155.0" y="2039.0" font-size="24.5">CD4</text>
<line x1="228.0" y1="2030.2" x2="1004.0" y2="2030.2" stroke="#000" stroke-width="1.6"/>
<polygon points="1002,2019.2 1015.7,2030.2 1002,2041.2" fill="#000"/>
<text x="155.0" y="2294.0" font-size="24.5">CD8</text>
<line x1="228.0" y1="2283.8" x2="1004.0" y2="2283.8" stroke="#000" stroke-width="1.6"/>
<polygon points="1002,2272.8 1015.7,2283.8 1002,2294.8" fill="#000"/>
<rect x="1166.4" y="1951.4" width="21.3" height="83.0" fill="#fff" stroke="#000" stroke-width="2.2"/>
<rect x="1203.4" y="1938.2" width="20.5" height="96.2" fill="#D3D3D3" stroke="#000" stroke-width="2.2"/>
<rect x="1239.0" y="1948.6" width="21.2" height="85.8" fill="#fff" stroke="#FF8000" stroke-width="2.2"/>
<rect x="1275.5" y="1907.8" width="21.0" height="126.6" fill="#FFC389" stroke="#FF8000" stroke-width="2.2"/>
<path d="M1177.0 1944.7V1955.3M1170.0 1944.7h14.0M1170.0 1955.3h14.0" stroke="#000" stroke-width="1.6" fill="none"/>
<path d="M1213.7 1931.6V1941.2M1206.7 1931.6h14.0M1206.7 1941.2h14.0" stroke="#000" stroke-width="1.6" fill="none"/>
<path d="M1249.6 1940.2V1953.0M1242.6 1940.2h14.0M1242.6 1953.0h14.0" stroke="#FF8000" stroke-width="1.6" fill="none"/>
<path d="M1286.0 1897.9V1914.1M1279.0 1897.9h14.0M1279.0 1914.1h14.0" stroke="#FF8000" stroke-width="1.6" fill="none"/>
<line x1="1153.5" y1="1875.9" x2="1153.5" y2="2034.4" stroke="#000" stroke-width="1.8"/>
<line x1="1147.0" y1="2034.4" x2="1311.1" y2="2034.4" stroke="#000" stroke-width="1.8"/>
<line x1="1147.0" y1="2034.4" x2="1153.5" y2="2034.4" stroke="#000" stroke-width="1.6"/>
<text x="1145.3" y="2039.7" font-size="14.5" text-anchor="end">0</text>
<line x1="1147.0" y1="1995.0" x2="1153.5" y2="1995.0" stroke="#000" stroke-width="1.6"/>
<text x="1145.3" y="2000.3" font-size="14.5" text-anchor="end">10</text>
<line x1="1147.0" y1="1955.6" x2="1153.5" y2="1955.6" stroke="#000" stroke-width="1.6"/>
<text x="1145.3" y="1960.9" font-size="14.5" text-anchor="end">20</text>
<line x1="1147.0" y1="1916.1" x2="1153.5" y2="1916.1" stroke="#000" stroke-width="1.6"/>
<text x="1145.3" y="1921.4" font-size="14.5" text-anchor="end">30</text>
<line x1="1147.0" y1="1876.7" x2="1153.5" y2="1876.7" stroke="#000" stroke-width="1.6"/>
<text x="1145.3" y="1882.0" font-size="14.5" text-anchor="end">40</text>
<line x1="1177.0" y1="2034.4" x2="1177.0" y2="2041.2" stroke="#000" stroke-width="1.8"/>
<text x="1184.7" y="2042.6" font-size="21.9" text-anchor="end" transform="rotate(-90 1184.7 2042.6)">PBS + Isotype</text>
<line x1="1213.7" y1="2034.4" x2="1213.7" y2="2041.2" stroke="#000" stroke-width="1.8"/>
<text x="1221.3" y="2042.6" font-size="21.9" text-anchor="end" transform="rotate(-90 1221.3 2042.6)">PBS + anti-PD-1</text>
<line x1="1249.6" y1="2034.4" x2="1249.6" y2="2041.2" stroke="#000" stroke-width="1.8"/>
<text x="1257.3" y="2042.6" font-size="21.9" text-anchor="end" transform="rotate(-90 1257.3 2042.6)">M2T-CD33 + Isotype</text>
<line x1="1286.0" y1="2034.4" x2="1286.0" y2="2041.2" stroke="#000" stroke-width="1.8"/>
<text x="1293.7" y="2042.6" font-size="21.9" text-anchor="end" transform="rotate(-90 1293.7 2042.6)">M2T-CD33 + anti-PD-1</text>
<polyline points="1176.8,1934.4 1176.8,1879.1 1286.4,1879.1 1286.4,1888.6" fill="none" stroke="#000" stroke-width="1.6"/>
<text x="1232.6" y="1878.2" font-size="20" text-anchor="middle" letter-spacing="2" stroke="#000" stroke-width="0.6">**</text>
<text x="1231.6" y="1843.7" font-size="22" text-anchor="middle">PD-1+</text>
<text x="1117.9" y="1954.9" font-size="21.1" text-anchor="middle" transform="rotate(-90 1117.9 1954.9)">Percent of CD4+</text>
<rect x="1393.4" y="1935.0" width="21.1" height="99.4" fill="#fff" stroke="#000" stroke-width="2.2"/>
<rect x="1429.9" y="1923.9" width="20.4" height="110.5" fill="#D3D3D3" stroke="#000" stroke-width="2.2"/>
<rect x="1465.5" y="1942.7" width="21.5" height="91.7" fill="#fff" stroke="#FF8000" stroke-width="2.2"/>
<rect x="1502.5" y="1922.9" width="21.2" height="111.5" fill="#FFC389" stroke="#FF8000" stroke-width="2.2"/>
<path d="M1403.9 1927.4V1940.2M1396.9 1927.4h14.0M1396.9 1940.2h14.0" stroke="#000" stroke-width="1.6" fill="none"/>
<path d="M1440.1 1917.6V1927.2M1433.1 1917.6h14.0M1433.1 1927.2h14.0" stroke="#000" stroke-width="1.6" fill="none"/>
<path d="M1476.2 1934.6V1947.2M1469.2 1934.6h14.0M1469.2 1947.2h14.0" stroke="#FF8000" stroke-width="1.6" fill="none"/>
<path d="M1513.1 1913.4V1929.7M1506.1 1913.4h14.0M1506.1 1929.7h14.0" stroke="#FF8000" stroke-width="1.6" fill="none"/>
<line x1="1379.7" y1="1876.4" x2="1379.7" y2="2034.4" stroke="#000" stroke-width="1.8"/>
<line x1="1373.2" y1="2034.4" x2="1537.6" y2="2034.4" stroke="#000" stroke-width="1.8"/>
<line x1="1373.2" y1="2034.4" x2="1379.7" y2="2034.4" stroke="#000" stroke-width="1.6"/>
<text x="1371.5" y="2039.7" font-size="14.5" text-anchor="end">0</text>
<line x1="1373.2" y1="1982.0" x2="1379.7" y2="1982.0" stroke="#000" stroke-width="1.6"/>
<text x="1371.5" y="1987.3" font-size="14.5" text-anchor="end">5</text>
<line x1="1373.2" y1="1929.6" x2="1379.7" y2="1929.6" stroke="#000" stroke-width="1.6"/>
<text x="1371.5" y="1934.9" font-size="14.5" text-anchor="end">10</text>
<line x1="1373.2" y1="1877.2" x2="1379.7" y2="1877.2" stroke="#000" stroke-width="1.6"/>
<text x="1371.5" y="1882.5" font-size="14.5" text-anchor="end">15</text>
<line x1="1403.9" y1="2034.4" x2="1403.9" y2="2041.2" stroke="#000" stroke-width="1.8"/>
<text x="1411.6" y="2042.6" font-size="21.9" text-anchor="end" transform="rotate(-90 1411.6 2042.6)">PBS + Isotype</text>
<line x1="1440.1" y1="2034.4" x2="1440.1" y2="2041.2" stroke="#000" stroke-width="1.8"/>
<text x="1447.8" y="2042.6" font-size="21.9" text-anchor="end" transform="rotate(-90 1447.8 2042.6)">PBS + anti-PD-1</text>
<line x1="1476.2" y1="2034.4" x2="1476.2" y2="2041.2" stroke="#000" stroke-width="1.8"/>
<text x="1483.9" y="2042.6" font-size="21.9" text-anchor="end" transform="rotate(-90 1483.9 2042.6)">M2T-CD33 + Isotype</text>
<line x1="1513.1" y1="2034.4" x2="1513.1" y2="2041.2" stroke="#000" stroke-width="1.8"/>
<text x="1520.8" y="2042.6" font-size="21.9" text-anchor="end" transform="rotate(-90 1520.8 2042.6)">M2T-CD33 + anti-PD-1</text>
<text x="1458.5" y="1851.6" font-size="22" text-anchor="middle">PD-1+</text>
<text x="1344.8" y="1955.2" font-size="21.2" text-anchor="middle" transform="rotate(-90 1344.8 1955.2)">Percent of CD8+</text>
</g>
</svg>
</body></html>
